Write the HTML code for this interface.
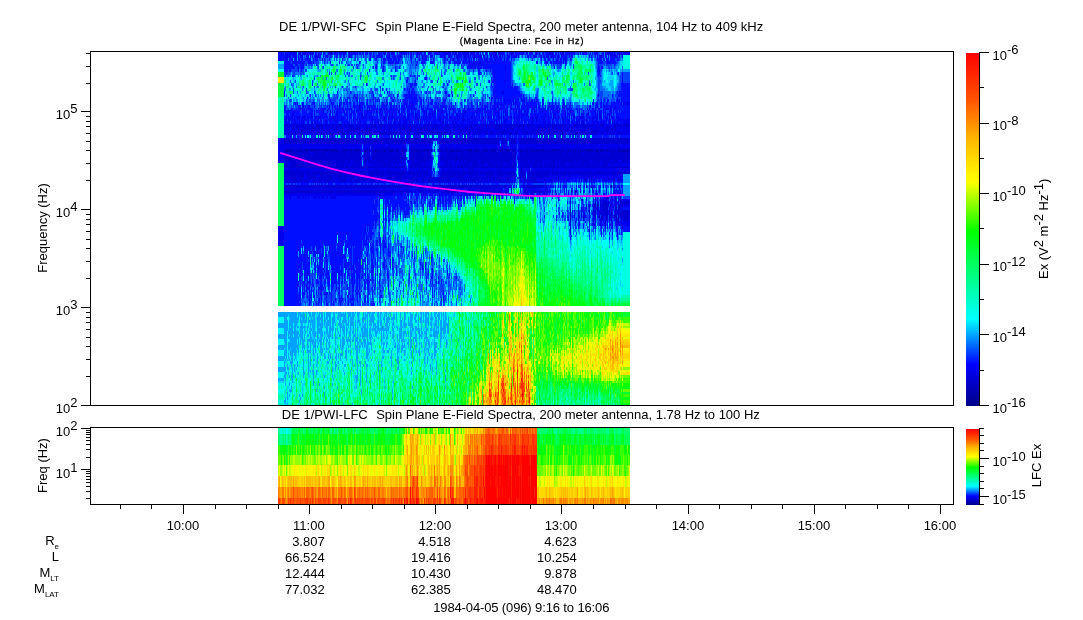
<!DOCTYPE html>
<html><head><meta charset="utf-8"><title>DE 1/PWI Spectra</title>
<style>html,body{margin:0;padding:0;background:#fff}svg{display:block}</style></head>
<body>
<svg width="1083" height="620" viewBox="0 0 1083 620">
<defs>
<linearGradient id="cb" x1="0" y1="1" x2="0" y2="0">
<stop offset="0" stop-color="#000089"/><stop offset="0.1176" stop-color="#0000ff"/><stop offset="0.2471" stop-color="#00ffff"/><stop offset="0.4941" stop-color="#00ff00"/><stop offset="0.6353" stop-color="#ffff00"/><stop offset="0.7529" stop-color="#ffb900"/><stop offset="0.8667" stop-color="#ff5400"/><stop offset="1" stop-color="#ff0000"/>
</linearGradient></defs>
<rect width="1083" height="620" fill="#fff"/>
<g transform="translate(0.5,0)" fill="none" stroke-width="1" shape-rendering="crispEdges">
<path stroke="#0000bb" d="M285 149v3M286 149v3M287 149v3M288 149v3M289 149v3M289 157v3M290 149v3M292 149v3M296 149v3M299 149v3M300 149v3M302 149v3M305 149v3M306 149v3M307 149v3M308 149v3M310 149v3M311 149v3M312 149v3M313 149v3M314 149v3M315 149v3M317 149v3M318 149v3M320 149v3M323 149v3M324 149v3M325 149v3M326 149v3M327 149v3M328 149v3M330 132v3M330 149v3M331 149v3M332 149v3M333 149v3M334 149v3M335 149v3M336 149v3M337 149v3M342 149v3M344 149v3M346 149v3M347 149v3M350 149v3M351 149v3M354 149v3M355 149v3M356 149v3M357 149v3M359 149v3M365 149v3M366 149v3M369 149v3M372 149v3M375 149v3M376 149v3M377 149v3M379 149v3M380 149v3M383 149v3M384 149v3M385 149v3M389 149v3M390 149v3M391 149v3M392 149v3M393 149v3M396 149v3M396 166v2M397 149v3M402 149v3M409 130v2M413 149v3M414 149v3M416 149v3M417 149v3M420 149v3M423 149v3M424 149v3M427 149v3M428 149v3M431 149v3M441 149v3M446 149v3M450 149v3M451 149v3M452 149v3M453 149v3M454 149v3M456 149v3M456 157v3M457 149v3M459 149v3M460 149v3M461 166v2M463 149v3M466 149v3M467 149v3M469 149v3M470 149v3M471 149v3M474 149v3M476 149v3M477 149v3M478 149v3M483 149v3M484 149v3M486 149v3M487 149v3M491 149v3M492 149v3M493 149v3M495 149v3M497 166v2M500 149v3M502 149v3M506 149v3M507 149v3M508 149v3M509 149v3M513 149v3M514 149v3M520 149v3M521 149v3M523 149v3M525 149v3M527 149v3M530 149v3M532 149v3M533 149v3M535 149v3M536 149v3M537 149v3M539 149v3M540 149v3M542 149v3M543 149v3M546 149v3M550 149v3M552 149v3M554 149v3M555 149v3M556 149v3M559 149v3M562 149v3M568 149v3M570 149v3M573 149v3M575 149v3M578 149v3M580 149v3M582 149v3M584 149v3M586 149v3M587 149v3M588 149v3M589 149v3M590 149v3M591 149v3M592 149v3M595 149v3M596 149v3M597 149v3M598 149v3M600 149v3M601 149v3M602 149v3M603 149v3M606 149v3M607 149v3M609 149v3M611 149v3M614 149v3M618 149v3M619 149v3M621 149v3M622 149v3M623 149v3M624 149v3M625 149v3M626 149v3M627 149v3M628 149v3M629 149v3"/>
<path stroke="#0000d4" d="M284 124v6M284 132v3M284 138v6M284 149v19M284 171v6M284 185v3M284 190v3M285 138v6M285 152v8M285 163v5M285 171v8M285 185v3M285 190v3M286 124v3M286 138v6M286 152v16M286 171v6M286 185v3M286 190v3M287 124v3M287 138v6M287 152v16M287 171v3M287 177v5M287 185v3M287 190v3M288 127v3M288 132v3M288 138v6M288 152v11M288 166v2M288 171v8M288 185v3M288 190v3M289 124v3M289 138v6M289 155v2M289 166v2M289 171v3M289 177v2M289 185v3M289 190v3M290 138v6M290 152v16M290 171v11M290 185v3M290 190v3M291 132v3M291 138v6M291 149v28M291 179v3M291 185v3M291 190v3M292 124v6M292 138v6M292 146v3M292 152v16M292 171v8M292 185v3M292 190v3M293 127v3M293 138v6M293 149v19M293 171v11M293 185v3M293 190v3M294 124v6M294 138v6M294 149v19M294 171v11M294 185v3M294 190v3M295 132v3M295 138v6M295 149v19M295 171v11M295 185v3M295 190v3M296 124v8M296 138v6M296 152v22M296 179v3M296 185v3M296 190v3M297 124v3M297 132v3M297 138v6M297 149v11M297 163v5M297 171v11M297 185v3M297 190v3M298 124v6M298 132v3M298 138v6M298 149v19M298 171v6M298 185v3M298 190v3M299 138v6M299 152v19M299 174v8M299 185v3M299 190v3M300 132v3M300 138v6M300 146v3M300 155v13M300 171v11M300 185v3M300 190v3M301 124v3M301 130v5M301 138v6M301 149v19M301 171v11M301 185v3M301 190v3M302 127v8M302 138v6M302 152v8M302 163v5M302 171v11M302 185v3M302 190v3M303 124v3M303 130v2M303 138v6M303 149v19M303 171v8M303 185v3M303 190v3M304 116v3M304 124v8M304 138v6M304 149v11M304 163v5M304 171v3M304 179v3M304 185v3M304 190v3M305 124v3M305 130v2M305 138v6M305 152v11M305 166v2M305 185v3M305 190v3M306 124v6M306 138v3M306 152v8M306 163v5M306 171v3M306 179v3M306 185v3M306 190v3M307 127v8M307 138v6M307 152v11M307 166v2M307 171v6M307 179v3M307 185v3M307 190v3M308 124v3M308 138v6M308 152v16M308 171v11M308 185v3M308 190v3M309 124v8M309 138v6M309 149v19M309 171v8M309 185v3M309 190v3M310 132v3M310 138v6M310 152v11M310 166v2M310 171v3M310 177v2M310 185v3M310 190v3M311 124v8M311 138v6M311 155v5M311 163v5M311 174v5M311 185v3M311 190v3M312 124v8M312 138v6M312 155v8M312 166v2M312 171v3M312 177v2M312 185v3M312 190v3M313 127v3M313 138v6M313 152v16M313 171v11M313 185v3M313 190v3M314 130v2M314 138v6M314 152v11M314 166v2M314 171v11M314 185v3M314 190v3M315 127v3M315 138v6M315 152v16M315 171v11M315 185v3M315 190v3M316 124v3M316 138v6M316 149v14M316 166v2M316 171v3M316 185v3M316 190v3M317 124v6M317 132v3M317 138v6M317 152v11M317 166v2M317 171v3M317 185v3M317 190v3M318 124v6M318 138v6M318 152v11M318 166v2M318 171v3M318 177v5M318 185v3M318 190v3M319 124v6M319 138v6M319 149v14M319 166v2M319 171v3M319 177v5M319 185v3M319 190v3M320 124v3M320 138v6M320 152v16M320 171v11M320 185v3M320 190v3M321 124v6M321 132v3M321 138v6M321 149v14M321 166v2M321 171v6M321 179v3M321 185v3M321 190v3M322 124v6M322 138v6M322 149v14M322 166v2M322 171v8M322 185v3M322 190v3M323 130v5M323 138v6M323 152v8M323 163v5M323 171v8M323 185v3M323 190v3M324 138v6M324 152v8M324 163v5M324 171v6M324 179v3M324 185v3M324 190v3M325 124v6M325 132v3M325 138v6M325 152v8M325 163v5M325 171v3M325 177v5M325 185v3M325 190v3M326 127v3M326 138v6M326 152v11M326 166v2M326 171v11M326 185v3M326 190v3M327 130v2M327 138v6M327 155v13M327 171v6M327 179v3M327 185v3M327 190v3M328 124v3M328 138v6M328 152v16M328 171v11M328 185v3M328 190v3M329 127v3M329 132v3M329 138v6M329 149v19M329 171v11M329 185v3M329 190v3M330 138v6M330 152v16M330 171v11M330 185v3M330 190v6M331 124v3M331 138v6M331 152v11M331 166v2M331 171v8M331 185v3M331 190v3M332 130v5M332 138v6M332 152v16M332 171v3M332 177v5M332 185v3M332 190v3M333 116v3M333 124v3M333 132v3M333 138v6M333 152v8M333 166v2M333 171v6M333 185v3M333 190v3M334 127v3M334 138v6M334 152v8M334 163v5M334 171v3M334 179v3M334 185v3M334 190v3M335 138v6M335 152v11M335 166v2M335 171v8M335 185v3M336 124v6M336 138v6M336 152v16M336 171v3M336 185v3M336 190v3M337 127v3M337 132v3M337 138v6M337 152v16M337 171v8M337 185v3M337 190v3M338 124v3M338 132v3M338 138v6M338 149v19M338 171v11M338 185v3M338 190v3M339 124v3M339 138v6M339 149v19M339 171v6M339 185v3M339 190v3M340 124v8M340 138v6M340 149v14M340 166v2M340 171v11M340 185v3M340 190v3M341 124v3M341 138v6M341 149v19M341 171v11M341 185v3M341 190v3M342 127v8M342 138v6M342 152v16M342 171v11M342 185v3M342 190v3M343 132v3M343 138v6M343 146v22M343 171v3M343 179v3M343 185v3M343 190v3M344 124v3M344 132v3M344 138v6M344 152v11M344 166v2M344 171v11M344 185v3M344 190v3M345 124v3M345 130v2M345 138v6M345 149v14M345 166v2M345 171v11M345 185v3M345 190v3M346 138v6M346 152v8M346 163v5M346 171v8M346 185v3M346 190v3M347 124v3M347 130v5M347 138v6M347 152v16M347 171v3M347 177v2M347 185v3M347 190v3M348 124v6M348 132v3M348 138v6M348 149v3M348 155v8M348 166v2M348 171v6M348 185v3M348 190v3M349 124v8M349 138v6M349 149v25M349 185v3M349 190v3M350 127v5M350 138v6M350 152v11M350 166v2M350 171v6M350 179v3M350 185v3M351 124v6M351 132v3M351 138v6M351 152v8M351 166v2M351 171v11M351 185v3M351 190v3M352 124v3M352 138v6M352 149v11M352 163v5M352 171v8M352 185v3M352 190v3M353 124v8M353 138v6M353 149v33M353 185v3M353 190v3M354 130v5M354 138v6M354 152v11M354 166v2M354 171v3M354 185v3M354 190v3M355 127v3M355 138v6M355 152v16M355 171v6M355 179v3M355 185v3M355 190v3M356 127v3M356 138v6M356 152v16M356 179v3M356 185v3M356 190v3M357 124v6M357 138v6M357 152v11M357 166v16M357 185v3M357 190v3M358 130v2M358 138v6M358 149v19M358 171v3M358 177v2M358 185v3M358 190v3M359 105v3M359 124v6M359 132v3M359 138v6M359 152v16M359 171v11M359 185v3M359 190v3M360 124v3M360 138v6M360 149v19M360 171v11M360 185v3M360 190v3M361 130v2M361 138v3M361 166v2M361 171v8M361 185v3M361 190v3M362 130v2M362 138v3M362 174v3M362 179v3M362 185v3M362 190v3M363 132v3M363 138v6M363 166v2M363 171v3M363 179v3M363 185v3M363 190v3M364 138v6M364 149v11M364 166v2M364 171v11M364 185v3M364 190v3M365 124v3M365 130v5M365 138v6M365 152v16M365 171v6M365 185v3M365 190v3M366 124v11M366 138v6M366 152v11M366 166v2M366 179v3M366 185v3M366 190v3M367 127v3M367 138v6M367 149v11M367 166v8M367 177v2M367 185v3M367 190v3M368 130v2M368 138v6M368 149v3M368 155v8M368 166v2M368 171v3M368 185v3M368 190v3M369 127v5M369 138v6M369 152v3M369 157v6M369 166v2M369 171v6M369 179v3M369 185v3M369 190v3M370 138v6M370 160v3M370 166v2M370 171v11M370 185v3M370 190v3M371 124v6M371 138v6M371 155v2M371 160v3M371 166v2M371 171v8M371 185v3M371 190v3M372 124v3M372 138v6M372 146v3M372 152v16M372 171v6M372 179v3M372 185v3M372 190v3M373 138v6M373 149v14M373 166v2M373 171v11M373 185v3M373 190v3M374 124v11M374 138v6M374 149v11M374 166v11M374 185v3M374 190v3M375 124v3M375 132v3M375 138v6M375 152v16M375 171v3M375 177v5M375 185v3M375 190v3M376 110v3M376 127v3M376 138v6M376 152v25M376 185v3M376 190v3M377 138v6M377 152v11M377 166v2M377 171v11M377 185v3M377 190v3M378 138v6M378 149v14M378 166v2M378 171v6M378 185v3M378 190v3M379 124v3M379 132v3M379 138v6M379 152v16M379 171v3M379 177v5M379 185v3M379 190v3M380 124v6M380 132v3M380 138v6M380 152v16M380 171v8M380 185v3M380 190v3M381 124v6M381 132v3M381 138v6M381 149v19M381 171v11M381 185v3M381 190v3M382 124v3M382 132v3M382 138v6M382 146v17M382 166v2M382 171v6M382 185v3M382 190v3M383 130v5M383 138v6M383 152v16M383 171v6M383 179v3M383 185v3M383 190v3M384 127v8M384 138v6M384 152v16M384 179v3M384 185v3M384 190v3M385 124v3M385 132v3M385 138v6M385 152v16M385 171v6M385 185v3M385 190v3M386 130v5M386 138v6M386 149v11M386 163v5M386 171v6M386 179v3M386 185v3M386 190v3M387 138v6M387 149v19M387 171v3M387 177v2M387 185v3M387 190v3M388 116v3M388 127v3M388 132v3M388 138v6M388 146v9M388 157v22M388 185v3M388 190v3M389 124v6M389 132v3M389 138v6M389 152v16M389 171v11M389 185v3M390 124v3M390 132v3M390 138v6M390 152v16M390 171v11M390 185v3M390 190v3M391 127v3M391 132v3M391 138v6M391 152v11M391 166v2M391 171v11M391 185v3M391 190v3M392 124v3M392 138v6M392 152v11M392 166v2M392 171v3M392 177v5M392 185v3M392 190v3M393 127v5M393 138v6M393 155v5M393 163v5M393 171v3M393 185v3M393 190v3M394 138v6M394 149v19M394 171v8M394 185v3M394 190v3M395 124v3M395 132v3M395 138v6M395 149v14M395 166v2M395 171v8M395 185v3M396 138v6M396 155v8M396 171v3M396 179v3M396 185v3M397 130v2M397 138v6M397 152v11M397 166v2M397 171v8M397 185v3M397 190v3M398 124v3M398 138v6M398 149v11M398 163v5M398 171v11M398 185v3M398 190v3M399 124v6M399 138v6M399 149v14M399 166v2M399 171v6M399 185v3M400 127v8M400 138v6M400 149v14M400 166v2M400 171v11M400 185v3M400 190v3M401 138v6M401 149v14M401 166v2M401 171v11M401 185v3M401 190v3M402 127v3M402 138v6M402 146v3M402 152v8M402 166v2M402 171v6M402 185v3M402 190v3M403 124v3M403 138v6M403 149v14M403 166v2M403 171v6M403 185v3M404 124v6M404 138v6M404 149v3M404 155v5M404 163v5M404 171v3M404 177v2M404 185v3M405 130v2M405 138v6M405 149v3M405 157v3M405 171v8M405 185v3M405 190v3M406 132v3M406 138v3M406 149v3M406 171v3M406 177v2M406 185v3M407 130v2M407 138v3M407 174v3M407 185v3M407 190v3M408 124v6M408 138v6M408 171v3M408 179v3M408 185v3M408 190v3M409 127v3M409 132v3M409 138v6M409 149v3M409 157v3M409 171v11M409 185v3M410 124v8M410 138v6M410 149v11M410 166v2M410 171v3M410 177v2M410 185v3M411 127v5M411 138v6M411 149v14M411 166v2M411 171v6M411 185v3M412 124v3M412 138v6M412 146v22M412 171v3M412 177v5M412 185v3M412 190v3M413 138v6M413 152v16M413 171v6M413 179v3M413 185v3M414 124v3M414 132v3M414 138v6M414 146v3M414 152v16M414 171v8M414 185v3M415 127v5M415 138v6M415 149v11M415 163v5M415 177v2M415 185v3M415 190v3M416 124v3M416 132v3M416 138v6M416 152v16M416 171v11M416 185v3M417 127v5M417 138v6M417 152v8M417 163v5M417 171v6M417 185v3M418 127v3M418 132v3M418 138v6M418 149v19M418 171v3M418 179v3M418 185v3M419 124v3M419 132v3M419 138v6M419 146v31M419 185v3M419 190v3M420 127v5M420 138v6M420 152v16M420 171v6M420 185v3M421 127v8M421 138v6M421 149v14M421 166v2M421 171v6M421 185v3M421 190v3M422 127v3M422 132v3M422 138v6M422 149v25M422 179v3M422 185v3M423 127v3M423 138v6M423 155v8M423 166v2M423 171v11M423 185v3M423 190v3M424 124v6M424 138v6M424 152v16M424 171v8M424 185v3M424 190v3M425 130v2M425 138v6M425 149v19M425 171v3M425 177v2M425 185v3M426 124v8M426 138v6M426 149v14M426 166v2M426 171v8M426 185v3M427 138v6M427 152v11M427 166v11M427 179v3M427 185v3M428 124v3M428 132v3M428 138v6M428 152v8M428 163v5M428 171v3M428 179v3M428 185v3M428 190v3M429 124v3M429 130v2M429 138v6M429 149v14M429 166v2M429 174v8M429 185v3M430 127v8M430 138v6M430 149v3M430 155v5M430 166v5M430 174v8M430 185v3M430 190v3M431 130v2M431 138v3M431 177v2M431 185v3M432 127v8M432 138v6M432 177v5M432 185v3M433 127v3M433 177v2M433 185v3M434 124v3M434 130v5M434 177v5M434 185v3M435 127v5M435 185v3M435 190v3M436 124v3M436 130v2M436 179v3M436 185v3M437 124v11M437 179v3M437 185v3M437 190v3M438 124v3M438 177v5M438 185v3M438 190v3M439 132v3M439 141v3M439 149v3M439 166v2M439 177v5M439 185v3M440 130v2M440 138v6M440 149v3M440 157v3M440 166v2M440 177v2M440 185v3M441 124v3M441 130v5M441 138v6M441 152v8M441 166v2M441 171v11M441 185v3M442 132v3M442 138v6M442 149v3M442 155v8M442 166v2M442 171v11M442 185v3M442 190v3M443 121v3M443 127v3M443 138v6M443 149v14M443 166v2M443 171v11M443 185v3M444 127v3M444 132v3M444 138v6M444 149v3M444 155v5M444 166v2M444 171v6M444 185v3M444 190v3M445 127v8M445 138v6M445 149v6M445 157v11M445 171v8M445 185v3M445 190v3M446 127v3M446 138v6M446 152v16M446 171v11M446 185v3M446 190v3M447 124v3M447 138v6M447 146v22M447 171v11M447 185v3M447 190v3M448 124v3M448 138v6M448 149v14M448 166v2M448 171v11M448 185v3M448 190v3M449 127v5M449 138v6M449 149v11M449 163v5M449 171v3M449 177v5M449 185v3M449 190v3M450 130v2M450 138v6M450 152v27M450 185v3M450 190v3M451 138v6M451 146v3M451 152v8M451 163v5M451 171v8M451 185v3M451 190v3M452 138v6M452 152v11M452 166v2M452 171v6M452 179v3M452 185v3M452 190v3M453 121v3M453 127v8M453 138v6M453 152v8M453 166v2M453 171v6M453 185v3M453 190v3M454 124v3M454 132v3M454 138v6M454 155v8M454 166v2M454 171v11M454 185v3M454 190v3M455 127v3M455 138v6M455 149v19M455 171v6M455 185v3M455 190v3M456 138v6M456 152v5M456 160v3M456 166v2M456 171v8M456 185v3M456 190v3M457 124v3M457 138v6M457 152v8M457 166v2M457 171v3M457 177v2M457 185v3M457 190v3M458 124v3M458 138v6M458 146v6M458 155v5M458 163v5M458 171v8M458 185v3M458 190v3M459 127v3M459 132v3M459 138v6M459 152v16M459 171v11M459 185v3M460 130v2M460 138v6M460 152v11M460 166v2M460 171v11M460 185v3M460 190v3M461 124v3M461 130v2M461 138v6M461 149v11M461 163v3M461 174v5M461 185v3M461 190v3M462 138v6M462 149v19M462 171v6M462 179v3M462 185v3M462 190v3M463 130v2M463 138v6M463 152v11M463 166v16M463 185v3M463 190v3M464 138v6M464 149v11M464 163v5M464 171v6M464 179v3M464 185v3M464 190v3M465 127v5M465 138v6M465 149v3M465 155v13M465 171v3M465 185v3M465 190v3M466 127v3M466 132v3M466 138v6M466 152v16M466 171v3M466 177v5M466 185v3M466 190v3M467 124v6M467 138v6M467 152v11M467 166v2M467 171v3M467 185v3M467 190v3M468 130v2M468 138v6M468 149v19M468 171v3M468 177v5M468 185v3M468 190v3M469 127v3M469 132v3M469 138v6M469 152v25M469 185v3M469 190v3M470 124v3M470 130v2M470 138v6M470 152v11M470 166v8M470 177v5M470 185v3M470 190v3M471 116v3M471 124v6M471 138v6M471 152v11M471 166v2M471 171v8M471 185v3M471 190v3M472 127v3M472 138v6M472 149v28M472 179v3M472 185v3M472 190v3M473 132v3M473 138v6M473 149v19M473 171v3M473 177v5M473 185v3M473 190v3M474 130v5M474 138v6M474 152v16M474 171v3M474 177v5M474 185v3M474 190v3M475 124v3M475 130v2M475 138v6M475 146v9M475 157v11M475 171v6M475 179v3M475 185v3M475 190v3M476 132v3M476 138v6M476 152v16M476 171v8M476 185v3M476 190v3M477 127v5M477 138v6M477 152v16M477 171v3M477 177v5M477 185v3M477 190v3M478 130v2M478 138v6M478 152v11M478 166v2M478 171v3M478 177v5M478 185v3M478 190v3M479 127v3M479 132v3M479 138v6M479 149v11M479 163v5M479 174v5M479 185v3M479 190v3M480 130v2M480 138v6M480 149v14M480 166v2M480 171v6M480 179v3M480 185v3M480 190v3M481 124v6M481 132v3M481 138v6M481 149v19M481 171v3M481 177v2M481 185v3M481 190v3M482 127v3M482 138v6M482 149v19M482 171v3M482 177v5M482 185v3M482 190v3M483 124v3M483 130v2M483 138v6M483 152v16M483 171v3M483 177v2M483 185v3M483 190v3M484 138v6M484 146v3M484 152v11M484 166v2M484 171v3M484 179v3M484 185v3M484 190v3M485 130v5M485 138v6M485 149v14M485 166v2M485 171v6M485 179v3M485 185v3M485 190v3M486 124v6M486 138v6M486 155v8M486 166v2M486 171v8M486 185v3M486 190v3M487 130v5M487 138v6M487 152v11M487 166v2M487 171v11M487 185v3M487 190v3M488 124v3M488 138v6M488 149v19M488 171v6M488 185v3M488 190v3M489 127v3M489 138v6M489 149v19M489 171v11M489 185v3M489 190v3M490 127v3M490 138v6M490 149v19M490 171v8M490 185v3M490 190v3M491 124v3M491 130v5M491 138v6M491 152v8M491 163v5M491 171v6M491 179v3M491 185v3M491 190v3M492 132v3M492 138v6M492 152v16M492 171v8M492 185v3M492 190v3M493 124v3M493 138v6M493 152v16M493 171v11M493 185v3M493 190v3M494 124v3M494 138v6M494 149v19M494 171v11M494 185v3M494 190v3M495 127v3M495 138v6M495 152v11M495 166v2M495 185v3M495 190v3M496 127v3M496 132v3M496 138v6M496 149v19M496 171v3M496 177v5M496 185v3M496 190v3M497 124v6M497 138v6M497 149v17M497 171v11M497 185v3M497 190v3M498 124v6M498 132v3M498 138v6M498 149v11M498 166v2M498 171v8M498 185v3M498 190v3M499 124v6M499 132v3M499 149v3M499 155v27M499 185v3M499 190v3M500 124v3M500 130v2M500 138v3M500 152v16M500 171v6M500 179v3M500 185v3M500 190v3M501 124v11M501 149v19M501 171v11M501 185v3M501 190v3M502 132v3M502 138v6M502 146v3M502 152v11M502 166v2M502 171v6M502 185v3M503 130v5M503 138v6M503 149v19M503 171v6M503 179v3M504 124v8M504 138v6M504 149v14M504 166v2M504 171v3M504 177v2M504 185v3M505 130v2M505 138v6M505 149v14M505 166v2M505 171v3M505 179v3M505 185v3M505 190v3M506 124v3M506 132v3M506 138v6M506 152v16M506 171v8M506 185v3M506 190v3M507 127v5M507 152v11M507 166v2M507 171v11M508 127v3M508 152v16M508 171v11M508 190v3M509 124v3M509 132v3M509 138v3M509 155v8M509 166v2M509 171v3M509 177v5M509 185v3M510 127v3M510 132v3M510 138v6M510 149v19M510 171v6M511 124v6M511 132v3M511 138v6M511 149v11M511 163v5M511 171v6M511 185v3M511 190v3M512 127v3M512 138v6M512 149v11M512 163v5M512 171v8M513 124v8M513 138v6M513 152v16M513 171v3M514 124v3M514 138v6M514 152v16M514 171v8M515 132v3M515 138v6M515 149v3M515 155v2M515 166v2M516 124v3M516 132v3M517 124v3M517 130v2M518 127v3M518 149v3M519 124v3M519 138v6M519 149v3M519 157v3M519 177v2M520 124v3M520 138v6M520 152v11M520 166v2M520 171v8M521 124v3M521 130v2M521 138v6M521 152v22M521 179v3M522 127v3M522 138v6M522 149v11M522 163v5M522 171v8M523 124v6M523 132v3M523 138v6M523 155v8M523 166v2M523 171v8M523 185v3M524 130v5M524 138v6M524 149v19M524 171v11M524 185v3M524 190v3M525 124v3M525 138v6M525 152v16M525 171v3M525 177v5M525 190v3M526 132v3M526 138v6M526 149v14M526 166v2M526 185v3M526 190v3M527 124v3M527 130v5M527 138v6M527 146v3M527 152v16M527 179v3M527 185v3M527 190v3M528 124v6M528 138v6M528 149v11M528 163v5M528 171v6M528 179v3M528 185v3M529 124v3M529 138v6M529 149v14M529 166v2M529 171v8M529 185v3M530 132v3M530 138v6M530 146v3M530 152v14M530 171v3M530 177v5M530 185v3M531 127v5M531 138v6M531 149v11M531 171v8M531 185v3M531 190v3M532 124v3M532 130v2M532 138v6M532 152v16M532 171v11M532 185v3M532 190v3M533 130v2M533 138v6M533 152v16M533 171v11M533 185v3M533 190v3M534 130v2M534 138v6M534 149v11M534 163v5M534 171v11M534 185v3M534 190v3M535 127v3M535 138v6M535 152v16M535 171v3M535 177v5M535 185v3M535 190v3M536 119v2M536 130v5M536 138v6M536 152v16M536 171v6M536 179v3M536 185v3M536 190v3M537 130v2M537 138v6M537 152v11M537 166v2M537 171v6M537 185v3M538 124v6M538 132v3M538 138v6M538 149v14M538 166v2M538 171v6M538 185v3M538 190v3M539 127v3M539 138v6M539 152v16M539 171v3M539 177v2M539 185v3M539 190v3M540 124v3M540 132v3M540 138v6M540 152v16M540 171v6M540 185v3M540 190v3M541 130v5M541 138v6M541 149v19M541 171v8M541 185v3M542 127v3M542 138v6M542 152v11M542 166v2M542 171v8M542 185v3M543 130v5M543 138v6M543 146v3M543 152v8M543 166v2M543 171v3M544 124v6M544 138v6M544 149v11M544 163v5M544 171v6M544 179v3M545 127v3M545 138v6M545 149v19M545 171v6M545 185v3M545 190v3M546 124v3M546 132v3M546 138v6M546 152v11M546 166v2M546 171v6M546 185v3M547 138v6M547 149v11M547 163v5M547 171v6M547 190v3M548 124v11M548 138v6M548 149v11M548 163v5M548 171v6M549 127v8M549 138v6M549 149v19M549 171v3M550 124v3M550 132v3M550 138v6M550 152v8M550 163v5M550 171v6M551 130v2M551 138v6M551 149v19M552 124v6M552 138v6M552 152v25M553 116v3M553 124v6M553 132v3M553 138v6M553 149v19M553 171v3M554 124v3M554 130v5M554 138v6M554 152v16M554 171v3M555 138v6M555 152v11M555 166v2M555 171v3M556 124v8M556 138v6M556 152v8M556 166v2M556 171v8M557 138v6M557 149v19M557 171v3M558 124v3M558 130v2M558 138v6M558 149v19M558 171v11M558 199v2M559 130v2M559 138v6M559 152v8M559 166v2M560 124v11M560 138v6M560 149v19M560 171v3M561 130v5M561 138v6M561 149v14M561 166v2M561 171v6M562 124v11M562 138v6M562 146v3M562 152v16M562 171v3M563 124v6M563 138v6M563 149v3M563 155v13M563 171v6M564 138v6M564 149v19M564 171v6M564 179v3M565 124v3M565 130v2M565 138v6M565 149v14M565 166v11M566 130v5M566 138v6M566 146v17M566 166v2M566 171v3M567 127v5M567 138v6M567 149v14M567 166v2M567 171v3M568 138v6M568 152v11M568 166v2M568 171v6M569 124v3M569 138v6M569 149v14M569 166v2M569 171v3M570 132v3M570 138v6M570 155v13M570 171v3M570 207v25M571 127v5M571 138v6M571 149v19M571 171v3M571 190v3M572 127v8M572 138v6M572 149v19M572 174v3M573 130v2M573 138v6M573 152v11M573 166v2M573 171v3M574 124v3M574 138v6M574 149v14M574 166v2M574 171v3M575 124v3M575 130v5M575 138v6M575 152v8M575 163v5M575 171v3M575 190v3M576 124v3M576 132v3M576 138v6M576 149v14M576 166v2M576 171v3M577 132v3M577 138v6M577 146v22M577 171v3M578 124v3M578 138v6M578 152v16M578 171v3M578 207v14M579 138v6M579 149v14M579 166v2M579 171v3M580 127v3M580 138v6M580 152v8M580 163v5M580 171v3M580 185v3M581 138v6M581 149v19M581 171v6M581 207v8M582 124v3M582 130v5M582 138v6M582 152v16M582 171v3M583 124v3M583 138v6M583 149v3M583 155v13M583 171v6M583 215v6M584 124v8M584 138v6M584 152v11M584 166v2M584 171v6M584 179v3M584 210v2M585 124v6M585 132v3M585 138v6M585 149v19M585 171v3M585 177v5M586 138v6M586 152v16M586 171v11M586 185v3M587 124v6M587 138v6M587 152v11M587 166v2M587 171v3M588 127v3M588 132v3M588 138v6M588 152v16M588 171v6M589 124v3M589 138v6M589 152v8M589 163v5M589 171v6M589 179v3M589 207v8M589 218v5M589 229v3M590 124v3M590 132v3M590 138v6M590 152v16M590 171v3M591 127v8M591 138v6M591 152v8M591 166v2M591 171v11M591 185v3M592 124v3M592 130v2M592 138v6M592 152v11M592 166v2M592 185v3M592 190v3M593 132v3M593 138v6M593 149v19M593 171v6M593 204v11M593 218v5M594 130v5M594 138v6M594 146v6M594 155v5M594 163v5M594 171v3M594 204v3M594 210v5M595 124v3M595 130v5M595 138v6M595 152v16M595 196v25M596 130v5M596 138v6M596 152v11M596 166v2M596 171v8M597 124v6M597 138v6M597 152v16M597 171v3M597 201v11M598 138v6M598 152v16M598 171v3M598 204v3M599 130v2M599 138v6M599 149v14M599 166v2M599 171v3M599 210v8M600 124v3M600 138v6M600 152v8M600 166v2M600 171v3M600 199v8M600 210v5M601 124v3M601 132v3M601 138v6M601 146v3M601 155v8M601 166v2M601 171v3M601 199v2M601 204v3M601 215v6M602 124v3M602 132v3M602 138v6M602 152v8M602 163v5M602 171v3M602 201v3M602 207v5M602 215v3M603 130v2M603 138v6M603 155v13M603 201v20M604 127v3M604 138v6M604 149v19M604 171v3M604 201v9M604 212v3M605 127v3M605 138v6M605 149v19M605 171v6M605 201v17M605 221v5M606 130v2M606 138v6M606 155v13M606 196v25M607 124v11M607 138v6M607 152v16M607 171v3M607 196v3M607 204v17M608 127v3M608 138v6M608 149v3M608 155v8M608 166v2M608 171v3M608 177v2M608 196v3M608 201v6M609 127v3M609 138v6M609 152v11M609 166v2M609 171v3M609 210v13M610 132v3M610 138v6M610 149v14M610 166v2M610 204v6M611 127v8M611 138v6M611 152v8M611 163v5M611 171v3M611 185v3M611 204v3M611 210v11M612 127v5M612 138v6M612 149v14M612 166v2M612 171v3M612 201v3M612 212v3M613 132v3M613 138v6M613 149v19M613 171v6M613 179v3M613 185v3M613 207v3M614 124v6M614 138v6M614 152v11M614 166v2M614 171v3M614 177v5M614 185v3M614 190v3M614 215v3M615 124v8M615 138v6M615 149v14M615 166v2M615 171v3M615 199v19M616 138v6M616 149v14M616 166v2M616 171v3M616 199v2M616 204v6M616 212v14M617 124v3M617 138v6M617 149v14M617 166v2M617 171v6M617 210v2M617 218v3M618 124v3M618 130v5M618 138v6M618 146v3M618 152v8M618 166v2M618 171v3M618 177v5M618 201v3M618 207v16M619 138v6M619 152v8M619 163v5M619 171v3M619 185v3M619 204v6M619 212v3M620 124v3M620 132v3M620 138v6M620 146v14M620 166v2M620 171v6M620 196v14M620 212v6M621 124v3M621 138v6M621 152v11M621 166v2M621 171v3M621 201v3M621 210v11M622 132v3M622 138v6M622 152v11M622 166v2M622 171v3M622 177v2M622 204v3M622 210v8M623 124v3M623 138v6M623 152v11M623 166v2M623 171v3M623 201v3M623 210v11M624 124v3M624 138v6M624 152v11M624 166v2M624 171v3M624 201v3M624 210v11M625 124v3M625 138v6M625 152v11M625 166v2M625 171v3M625 201v3M625 210v11M626 124v3M626 138v6M626 152v11M626 166v2M626 171v3M626 201v3M626 210v11M627 124v3M627 138v6M627 152v11M627 166v2M627 171v3M627 201v3M627 210v11M628 124v3M628 138v6M628 152v11M628 166v2M628 171v3M628 201v3M628 210v11M629 124v3M629 138v6M629 152v11M629 166v2M629 171v3M629 201v3M629 210v11"/>
<path stroke="#0000ed" d="M278 138v25M278 226v20M279 138v25M279 226v20M280 138v25M280 226v20M281 138v25M281 226v20M282 138v25M282 226v20M283 138v25M283 226v20M284 130v2M284 144v5M284 168v3M284 177v6M284 188v2M284 193v3M285 52v3M285 119v16M285 144v5M285 160v3M285 168v3M285 179v4M285 188v2M285 193v3M286 55v6M286 116v8M286 127v8M286 144v5M286 168v3M286 177v6M286 188v2M286 193v6M287 55v3M287 127v8M287 144v5M287 168v3M287 174v3M287 182v1M287 188v2M287 193v6M288 116v11M288 130v2M288 144v5M288 163v3M288 168v3M288 179v4M288 188v2M288 193v3M289 55v3M289 119v2M289 127v8M289 144v5M289 152v3M289 160v6M289 168v3M289 174v3M289 179v4M289 188v2M289 193v6M290 52v6M290 124v3M290 130v5M290 144v5M290 168v3M290 182v1M290 188v2M290 193v6M291 52v3M291 116v3M291 121v11M291 144v5M291 177v2M291 182v1M291 188v2M291 193v3M292 113v8M292 130v5M292 144v2M292 168v3M292 179v4M292 188v2M292 193v3M293 52v6M293 113v3M293 124v3M293 130v5M293 144v5M293 168v3M293 182v1M293 188v2M293 193v3M294 52v3M294 110v3M294 116v8M294 130v5M294 144v5M294 168v3M294 182v1M294 188v2M294 193v3M295 52v6M295 119v13M295 144v5M295 168v3M295 182v1M295 188v2M295 193v3M296 52v3M296 132v3M296 144v5M296 174v5M296 182v1M296 188v2M296 193v3M297 116v5M297 127v5M297 144v5M297 160v3M297 168v3M297 182v1M297 188v2M297 193v6M298 116v3M298 130v2M298 144v5M298 168v3M298 177v6M298 188v2M298 193v6M299 52v3M299 105v3M299 116v3M299 121v14M299 144v5M299 171v3M299 182v1M299 188v2M299 193v6M300 52v6M300 124v8M300 144v2M300 152v3M300 168v3M300 182v1M300 188v2M300 193v3M301 55v3M301 119v5M301 127v3M301 144v5M301 168v3M301 182v1M301 188v2M301 193v3M302 52v3M302 108v2M302 116v5M302 124v3M302 144v5M302 160v3M302 168v3M302 182v1M302 188v2M302 193v6M303 52v3M303 105v3M303 116v3M303 121v3M303 127v3M303 132v3M303 144v5M303 168v3M303 179v4M303 188v2M303 193v6M304 52v3M304 119v2M304 132v3M304 144v5M304 160v3M304 168v3M304 174v5M304 182v1M304 188v2M304 193v3M305 52v3M305 127v3M305 132v3M305 144v5M305 163v3M305 168v15M305 188v2M305 193v6M306 52v3M306 130v5M306 141v8M306 160v3M306 168v3M306 174v5M306 182v1M306 188v2M306 193v3M307 116v3M307 124v3M307 144v5M307 163v3M307 168v3M307 177v2M307 182v1M307 188v2M307 193v3M308 52v6M308 105v3M308 119v5M308 127v8M308 144v5M308 168v3M308 182v1M308 188v2M308 193v6M309 132v3M309 144v5M309 168v3M309 179v4M309 188v2M309 193v3M310 52v3M310 124v8M310 144v5M310 163v3M310 168v3M310 174v3M310 179v4M310 188v2M310 193v3M311 52v3M311 113v6M311 121v3M311 132v3M311 144v5M311 152v3M311 160v3M311 168v6M311 179v4M311 188v2M311 193v3M312 52v6M312 113v6M312 121v3M312 132v3M312 144v5M312 152v3M312 163v3M312 168v3M312 174v3M312 179v4M312 188v2M312 193v3M313 52v3M313 124v3M313 130v5M313 144v5M313 168v3M313 182v1M313 188v2M313 193v6M314 113v3M314 121v3M314 127v3M314 132v3M314 144v5M314 163v3M314 168v3M314 182v1M314 188v2M314 193v6M315 52v3M315 116v3M315 121v6M315 130v5M315 144v5M315 168v3M315 182v1M315 188v2M315 193v6M316 116v3M316 127v8M316 144v5M316 163v3M316 168v3M316 174v9M316 188v2M316 193v6M317 55v3M317 119v5M317 130v2M317 144v5M317 163v3M317 168v3M317 174v9M317 188v2M317 193v3M318 55v3M318 116v3M318 130v5M318 144v5M318 163v3M318 168v3M318 174v3M318 182v1M318 188v2M318 193v6M319 116v3M319 130v5M319 144v5M319 163v3M319 168v3M319 174v3M319 182v1M319 188v2M319 193v6M320 116v5M320 127v8M320 144v5M320 168v3M320 182v1M320 188v2M320 193v3M321 108v2M321 130v2M321 144v5M321 163v3M321 168v3M321 177v2M321 182v1M321 188v2M321 193v6M322 108v2M322 132v3M322 144v5M322 163v3M322 168v3M322 179v4M322 188v2M322 193v6M323 110v3M323 124v6M323 144v5M323 160v3M323 168v3M323 179v4M323 188v2M323 193v6M324 124v11M324 144v5M324 160v3M324 168v3M324 177v2M324 182v1M324 188v2M324 193v3M325 119v2M325 130v2M325 144v5M325 160v3M325 168v3M325 174v3M325 182v1M325 188v2M325 193v3M326 121v6M326 130v5M326 144v5M326 163v3M326 168v3M326 182v1M326 188v2M326 193v6M327 55v3M327 110v3M327 124v6M327 132v3M327 144v5M327 152v3M327 168v3M327 177v2M327 182v1M327 188v2M327 193v6M328 127v8M328 144v5M328 168v3M328 182v1M328 188v2M328 193v3M329 52v3M329 105v3M329 116v3M329 124v3M329 130v2M329 144v5M329 168v3M329 182v1M329 188v2M329 193v3M330 52v3M330 110v3M330 119v2M330 124v8M330 144v5M330 168v3M330 182v1M330 188v2M330 196v3M331 52v3M331 119v2M331 127v8M331 144v5M331 163v3M331 168v3M331 179v4M331 188v2M331 193v6M332 116v3M332 124v6M332 146v3M332 168v3M332 174v3M332 182v1M332 188v2M332 193v6M333 119v2M333 127v5M333 144v5M333 160v6M333 168v3M333 177v6M333 188v2M333 193v6M334 52v3M334 124v3M334 130v5M334 144v5M334 160v3M334 168v3M334 174v5M334 182v1M334 188v2M334 193v6M335 52v3M335 116v19M335 144v5M335 163v3M335 168v3M335 179v4M335 188v11M336 113v3M336 121v3M336 130v5M336 144v5M336 168v3M336 174v9M336 188v2M336 193v3M337 110v11M337 124v3M337 130v2M337 144v5M337 168v3M337 179v4M337 188v2M337 193v3M338 127v5M338 144v5M338 168v3M338 182v1M338 188v2M338 193v3M339 52v3M339 105v3M339 127v8M339 144v5M339 168v3M339 177v6M339 188v2M339 193v3M340 52v3M340 132v3M340 144v5M340 163v3M340 168v3M340 182v1M340 188v2M340 193v3M341 116v5M341 127v8M341 144v5M341 168v3M341 182v1M341 188v2M341 193v3M342 108v2M342 119v2M342 124v3M342 144v5M342 168v3M342 182v1M342 188v2M342 193v3M343 52v3M343 116v3M343 124v8M343 144v2M343 168v3M343 174v5M343 182v1M343 188v2M343 193v3M344 52v3M344 110v3M344 121v3M344 127v5M344 144v5M344 163v3M344 168v3M344 182v1M344 188v2M344 193v3M345 52v3M345 127v3M345 132v3M345 144v5M345 163v3M345 168v3M345 182v1M345 188v2M345 193v3M346 124v11M346 144v5M346 160v3M346 168v3M346 179v4M346 188v2M346 193v3M347 116v8M347 127v3M347 144v5M347 168v3M347 174v3M347 179v4M347 188v2M347 193v3M348 52v3M348 130v2M348 144v5M348 152v3M348 163v3M348 168v3M348 177v6M348 188v2M348 193v3M349 52v3M349 132v3M349 144v5M349 174v9M349 188v2M349 193v3M350 124v3M350 132v3M350 144v5M350 163v3M350 168v3M350 177v2M350 182v1M350 188v8M351 52v3M351 108v2M351 113v3M351 130v2M351 144v5M351 160v6M351 168v3M351 182v1M351 188v2M351 193v3M352 127v8M352 144v5M352 160v3M352 168v3M352 179v4M352 188v2M352 193v3M353 52v3M353 116v5M353 132v3M353 144v5M353 182v1M353 188v2M353 193v3M354 52v3M354 105v3M354 110v3M354 124v6M354 144v5M354 163v3M354 168v3M354 174v9M354 188v2M354 193v3M355 119v8M355 130v5M355 144v5M355 168v3M355 177v2M355 182v1M355 188v2M355 193v3M356 110v3M356 124v3M356 130v5M356 144v5M356 168v11M356 182v1M356 188v2M356 193v3M357 99v3M357 116v5M357 130v5M357 144v5M357 163v3M357 182v1M357 188v2M357 193v3M358 110v3M358 124v6M358 132v3M358 144v5M358 168v3M358 174v3M358 179v4M358 188v2M358 193v3M359 108v2M359 113v3M359 119v5M359 130v2M359 146v3M359 168v3M359 182v1M359 188v2M359 193v3M360 105v8M360 121v3M360 127v8M360 144v5M360 168v3M360 182v1M360 188v2M360 193v3M361 102v3M361 113v6M361 124v6M361 132v3M361 141v3M361 149v3M361 157v9M361 168v3M361 179v4M361 188v2M361 193v3M362 113v8M362 124v6M362 132v3M362 141v3M362 166v8M362 177v2M362 182v1M362 188v2M362 193v3M363 116v3M363 124v8M363 149v3M363 155v2M363 168v3M363 174v5M363 182v1M363 188v2M363 193v3M364 121v14M364 144v5M364 160v6M364 168v3M364 182v1M364 188v2M364 193v3M365 113v6M365 127v3M365 144v5M365 168v3M365 177v6M365 188v2M365 193v3M366 113v6M366 144v5M366 163v3M366 168v11M366 182v1M366 188v2M366 193v3M367 108v5M367 124v3M367 130v5M367 144v5M367 160v6M367 174v3M367 179v4M367 188v2M367 193v3M368 124v6M368 132v3M368 144v5M368 152v3M368 163v3M368 168v3M368 174v9M368 188v2M368 193v3M369 108v5M369 116v3M369 124v3M369 132v3M369 144v5M369 155v2M369 163v3M369 168v3M369 177v2M369 182v1M369 188v2M369 193v3M370 124v11M370 144v2M370 149v3M370 157v3M370 163v3M370 168v3M370 182v1M370 188v2M370 193v3M371 116v5M371 130v5M371 144v11M371 157v3M371 163v3M371 168v3M371 179v4M371 188v2M371 193v3M372 116v8M372 127v8M372 144v2M372 168v3M372 177v2M372 182v1M372 188v2M372 193v3M373 52v3M373 108v2M373 124v11M373 144v5M373 163v3M373 168v3M373 182v1M373 188v2M373 193v3M374 105v3M374 144v5M374 160v6M374 177v6M374 188v2M374 193v3M375 119v5M375 127v5M375 144v5M375 168v3M375 174v3M375 182v1M375 188v2M375 193v3M376 124v3M376 130v5M376 144v5M376 177v6M376 188v2M376 193v3M377 124v6M377 132v3M377 144v5M377 163v3M377 168v3M377 182v1M377 188v2M377 193v3M378 52v3M378 121v6M378 130v5M378 144v5M378 163v3M378 168v3M378 177v6M378 188v2M378 193v3M379 110v3M379 127v5M379 144v5M379 168v3M379 174v3M379 182v1M379 188v2M379 193v3M380 110v3M380 130v2M380 144v5M380 168v3M380 179v4M380 188v2M380 193v3M381 108v2M381 113v3M381 130v2M381 144v5M381 168v3M381 182v1M381 188v2M381 193v3M382 110v3M382 127v5M382 144v2M382 163v3M382 168v3M382 177v6M382 188v2M382 193v3M383 124v6M383 144v5M383 168v3M383 177v2M383 182v1M383 188v2M383 193v3M384 52v3M384 108v2M384 116v5M384 124v3M384 144v5M384 168v11M384 182v1M384 188v2M384 193v3M385 52v3M385 119v2M385 127v3M385 144v5M385 168v3M385 177v6M385 188v2M385 193v3M386 99v3M386 108v2M386 116v3M386 121v9M386 146v3M386 160v3M386 168v3M386 177v2M386 182v1M386 188v2M386 193v3M387 52v3M387 113v3M387 124v11M387 146v3M387 168v3M387 174v3M387 179v4M387 188v2M387 193v3M388 55v3M388 119v8M388 130v2M388 144v2M388 155v2M388 179v4M388 188v2M388 193v3M389 52v6M389 113v6M389 130v2M389 144v5M389 168v3M389 182v1M389 188v8M390 121v3M390 127v5M390 144v5M390 168v3M390 182v1M390 188v2M390 193v3M391 52v3M391 108v2M391 116v3M391 124v3M391 130v2M391 144v5M391 163v3M391 168v3M391 182v1M391 188v2M391 193v3M392 52v3M392 113v6M392 130v5M392 144v5M392 163v3M392 168v3M392 174v3M392 182v1M392 188v2M392 193v3M393 52v3M393 108v5M393 124v3M393 132v3M393 144v5M393 152v3M393 160v3M393 168v3M393 174v9M393 188v2M393 193v3M394 116v19M394 144v5M394 168v3M394 179v4M394 188v2M394 193v3M395 119v5M395 127v5M395 144v5M395 163v3M395 168v3M395 179v4M395 188v8M396 108v2M396 124v11M396 144v5M396 152v3M396 163v3M396 168v3M396 174v5M396 182v1M396 188v5M397 119v2M397 124v6M397 132v3M397 144v5M397 163v3M397 168v3M397 179v4M397 188v2M397 193v3M398 110v3M398 127v8M398 144v5M398 160v3M398 168v3M398 182v1M398 188v2M398 193v3M399 119v5M399 130v5M399 144v5M399 163v3M399 168v3M399 177v6M399 188v5M400 52v6M400 116v11M400 144v5M400 163v3M400 168v3M400 182v1M400 188v2M400 193v3M401 52v3M401 116v3M401 124v11M401 144v5M401 163v3M401 168v3M401 182v1M401 188v2M401 193v3M402 105v3M402 116v5M402 124v3M402 130v5M402 144v2M402 160v6M402 168v3M402 177v6M402 188v2M402 193v3M403 108v5M403 116v8M403 127v8M403 144v5M403 163v3M403 168v3M403 177v6M403 190v3M404 108v2M404 116v8M404 130v5M404 144v5M404 152v3M404 160v3M404 168v3M404 174v3M404 179v4M404 188v5M405 116v14M405 132v3M405 144v5M405 155v2M405 163v8M405 179v4M405 188v2M405 193v3M406 105v3M406 119v13M406 166v5M406 174v3M406 179v4M406 188v5M407 113v8M407 124v6M407 132v3M407 171v3M407 177v6M407 188v2M407 193v3M408 113v8M408 130v5M408 160v3M408 174v5M408 182v1M408 188v2M408 193v3M409 113v3M409 119v8M409 144v5M409 152v5M409 160v11M409 182v1M409 190v3M410 102v3M410 132v3M410 144v5M410 160v6M410 168v3M410 174v3M410 179v4M410 188v5M411 52v3M411 105v8M411 124v3M411 132v3M411 144v5M411 163v3M411 168v3M411 177v6M411 190v3M412 102v6M412 116v5M412 127v8M412 144v2M412 168v3M412 174v3M412 182v1M412 188v2M413 124v11M413 144v5M413 168v3M413 177v2M413 182v1M414 97v2M414 108v2M414 127v5M414 144v2M414 168v3M414 179v4M414 190v3M415 108v2M415 113v6M415 124v3M415 144v5M415 160v3M415 168v9M415 179v4M415 188v2M416 113v8M416 127v5M416 144v5M416 168v3M416 182v1M416 188v5M417 52v3M417 113v8M417 124v3M417 132v3M417 144v5M417 160v3M417 168v3M417 177v6M417 188v5M418 52v3M418 119v8M418 130v2M418 144v5M418 168v3M418 174v5M418 182v1M418 188v5M419 116v3M419 127v5M419 144v2M419 177v6M419 188v2M420 119v8M420 132v3M420 144v5M420 168v3M420 177v6M420 188v5M421 105v3M421 124v3M421 144v5M421 163v3M421 168v3M421 177v6M421 188v2M421 193v3M422 124v3M422 130v2M422 144v5M422 174v5M422 182v1M422 188v5M423 110v3M423 116v3M423 124v3M423 130v5M423 144v5M423 152v3M423 163v3M423 168v3M423 182v1M423 188v2M423 193v3M424 52v3M424 110v6M424 119v2M424 130v5M424 144v5M424 168v3M424 179v4M424 188v2M424 193v3M425 52v3M425 116v3M425 124v6M425 132v3M425 144v5M425 168v3M425 174v3M425 179v4M425 188v8M426 110v6M426 119v5M426 132v3M426 144v5M426 163v3M426 168v3M426 179v4M426 188v5M427 116v5M427 124v11M427 144v5M427 163v3M427 177v2M427 182v1M428 52v3M428 127v5M428 144v5M428 160v3M428 168v3M428 174v5M428 182v1M428 188v2M429 52v3M429 113v6M429 121v3M429 127v3M429 132v3M429 144v5M429 163v3M429 168v6M429 182v1M429 188v5M430 113v6M430 124v3M430 144v5M430 152v3M430 160v6M430 171v3M430 182v1M430 188v2M430 193v3M431 121v9M431 132v3M431 141v3M431 157v20M431 179v4M431 188v5M432 113v3M432 124v3M432 182v1M432 188v8M433 116v11M433 130v5M433 138v3M433 179v4M433 190v3M434 110v9M434 127v3M434 138v3M434 149v3M434 171v3M434 182v1M434 188v5M435 110v3M435 119v8M435 132v3M435 177v6M435 188v2M435 193v3M436 127v3M436 132v3M436 177v2M436 182v1M436 190v3M437 52v3M437 138v3M437 177v2M437 182v1M437 188v2M438 110v6M438 119v2M438 127v8M438 138v3M438 149v3M438 163v3M438 171v3M438 182v1M438 188v2M439 52v3M439 116v5M439 124v8M439 138v3M439 144v5M439 152v5M439 163v3M439 171v6M439 182v1M439 188v8M440 116v14M440 132v3M440 146v3M440 152v5M440 160v6M440 171v6M440 179v4M440 188v5M441 108v5M441 127v3M441 144v5M441 160v6M441 168v3M441 182v1M441 188v8M442 110v3M442 121v11M442 144v5M442 152v3M442 163v3M442 168v3M442 182v1M442 188v2M442 193v3M443 52v3M443 116v3M443 124v3M443 130v5M443 144v5M443 163v3M443 168v3M443 182v1M443 188v8M444 52v3M444 124v3M444 130v2M444 144v5M444 152v3M444 160v6M444 168v3M444 177v6M444 188v2M445 52v3M445 121v6M445 144v5M445 155v2M445 168v3M445 179v4M445 188v2M445 193v3M446 52v3M446 108v2M446 113v3M446 124v3M446 130v5M446 144v5M446 168v3M446 182v1M446 188v2M446 193v3M447 52v3M447 116v3M447 121v3M447 127v8M447 168v3M447 182v1M447 188v2M448 52v3M448 127v8M448 144v5M448 163v3M448 168v3M448 182v1M448 188v2M448 193v3M449 52v6M449 116v3M449 124v3M449 132v3M449 144v5M449 160v3M449 168v3M449 174v3M449 182v1M449 188v2M449 193v3M450 52v3M450 124v6M450 132v3M450 144v5M450 179v4M450 188v2M451 105v3M451 116v5M451 124v11M451 144v2M451 160v3M451 168v3M451 179v4M451 188v2M451 193v3M452 121v9M452 132v3M452 144v5M452 163v3M452 168v3M452 177v2M452 182v1M452 188v2M452 193v3M453 110v11M453 124v3M453 144v5M453 160v6M453 168v3M453 177v6M453 188v2M453 193v3M454 55v3M454 116v3M454 127v5M454 144v5M454 152v3M454 163v3M454 168v3M454 182v1M454 188v2M455 52v3M455 119v8M455 130v5M455 146v3M455 168v3M455 177v6M455 188v2M456 52v6M456 113v3M456 121v14M456 144v5M456 163v3M456 168v3M456 179v4M456 188v2M457 55v6M457 113v8M457 127v8M457 144v5M457 160v6M457 168v3M457 174v3M457 179v4M457 188v2M457 193v3M458 52v6M458 119v2M458 127v8M458 144v2M458 152v3M458 160v3M458 168v3M458 179v4M458 188v2M458 193v3M459 52v6M459 116v3M459 124v3M459 130v2M459 144v5M459 168v3M459 182v1M459 188v8M460 52v3M460 121v9M460 132v3M460 144v5M460 163v3M460 168v3M460 182v1M460 188v2M460 193v3M461 127v3M461 132v3M461 144v5M461 160v3M461 168v6M461 179v4M461 188v2M461 193v3M462 52v3M462 116v19M462 144v5M462 168v3M462 177v2M462 182v1M462 188v2M462 193v3M463 52v3M463 113v17M463 132v3M463 144v5M463 163v3M463 182v1M463 188v2M464 52v6M464 108v5M464 119v2M464 124v11M464 144v5M464 160v3M464 168v3M464 177v2M464 182v1M464 188v2M464 193v3M465 52v6M465 110v6M465 119v2M465 124v3M465 132v3M465 144v5M465 152v3M465 168v3M465 174v9M465 188v2M466 52v3M466 58v3M466 124v3M466 130v2M466 144v5M466 168v3M466 174v3M466 182v1M466 188v2M466 193v3M467 52v6M467 116v8M467 130v5M467 144v5M467 163v3M467 168v3M467 174v9M467 188v2M467 193v3M468 52v6M468 108v2M468 119v2M468 124v6M468 132v3M468 144v5M468 168v3M468 174v3M468 182v1M468 188v2M469 61v3M469 108v2M469 119v8M469 130v2M469 144v5M469 177v6M469 188v2M469 193v3M470 55v3M470 127v3M470 132v3M470 144v5M470 163v3M470 174v3M470 182v1M470 188v2M470 193v3M471 52v3M471 121v3M471 130v5M471 144v5M471 163v3M471 168v3M471 179v4M471 188v2M472 52v3M472 64v2M472 113v6M472 121v6M472 130v5M472 144v5M472 177v2M472 182v1M472 188v2M472 193v3M473 52v12M473 119v2M473 124v8M473 144v5M473 168v3M473 174v3M473 182v1M473 188v2M473 193v3M474 52v6M474 64v2M474 116v3M474 121v9M474 144v5M474 168v3M474 174v3M474 182v1M474 188v2M474 193v3M475 55v3M475 119v2M475 127v3M475 132v3M475 144v2M475 155v2M475 168v3M475 177v2M475 182v1M475 188v2M475 193v3M476 110v3M476 124v8M476 144v5M476 168v3M476 179v4M476 188v2M477 52v6M477 108v5M477 121v6M477 132v3M477 144v5M477 168v3M477 174v3M477 182v1M477 188v2M477 193v3M478 55v3M478 61v3M478 124v6M478 132v3M478 144v5M478 163v3M478 168v3M478 174v3M478 182v1M478 188v2M478 193v3M479 55v3M479 61v3M479 110v3M479 116v3M479 124v3M479 130v2M479 144v5M479 160v3M479 168v6M479 179v4M479 188v2M479 193v3M480 52v6M480 61v3M480 124v6M480 132v3M480 144v5M480 163v3M480 168v3M480 177v2M480 182v1M480 188v2M480 193v3M481 55v3M481 130v2M481 144v5M481 168v3M481 174v3M481 179v4M481 188v2M481 193v3M482 52v3M482 105v3M482 110v3M482 119v2M482 124v3M482 130v2M482 144v5M482 168v3M482 174v3M482 182v1M482 188v2M482 193v3M483 55v3M483 116v3M483 127v3M483 132v3M483 144v5M483 168v3M483 174v3M483 179v4M483 188v2M483 193v3M484 55v3M484 105v3M484 124v11M484 144v2M484 163v3M484 168v3M484 174v5M484 182v1M484 188v2M485 52v3M485 108v2M485 113v17M485 144v5M485 163v3M485 168v3M485 177v2M485 182v1M485 188v2M485 193v3M486 52v3M486 58v3M486 130v5M486 144v5M486 152v3M486 163v3M486 168v3M486 179v4M486 188v2M487 55v3M487 124v6M487 144v5M487 163v3M487 168v3M487 182v1M487 188v2M487 193v3M488 116v3M488 127v8M488 144v5M488 168v3M488 177v6M488 188v2M488 193v3M489 52v3M489 116v3M489 121v6M489 130v5M489 144v5M489 168v3M489 182v1M489 188v2M489 193v3M490 55v3M490 110v3M490 121v6M490 130v5M490 144v5M490 168v3M490 179v4M490 188v2M490 193v3M491 55v3M491 116v8M491 127v3M491 144v5M491 160v3M491 168v3M491 177v2M491 182v1M491 188v2M492 52v3M492 121v11M492 144v5M492 168v3M492 179v4M492 188v2M493 52v6M493 116v3M493 127v8M493 144v5M493 168v3M493 182v1M493 188v2M493 193v3M494 52v6M494 102v8M494 119v5M494 127v8M494 144v5M494 168v3M494 182v1M494 188v2M495 52v9M495 108v5M495 124v3M495 130v5M495 144v5M495 163v3M495 168v15M495 188v2M496 52v6M496 110v3M496 119v8M496 130v2M496 144v5M496 168v3M496 174v3M496 182v1M496 188v2M496 193v3M497 105v3M497 130v5M497 144v5M497 168v3M497 182v1M497 188v2M497 193v3M498 52v3M498 102v3M498 110v11M498 130v2M498 144v5M498 160v6M498 168v3M498 179v4M498 188v2M498 193v3M499 52v6M499 116v3M499 130v2M499 138v3M499 146v3M499 152v3M499 182v1M499 188v2M499 193v3M500 52v6M500 108v2M500 127v3M500 132v3M500 146v3M500 168v3M500 177v2M500 182v1M500 188v2M501 52v3M501 102v3M501 108v2M501 116v8M501 138v11M501 168v3M501 182v1M501 188v2M501 193v3M502 91v3M502 124v8M502 144v2M502 163v3M502 168v3M502 177v6M502 188v8M503 52v3M503 91v3M503 110v3M503 116v3M503 124v6M503 144v5M503 168v3M503 177v2M503 182v1M503 185v3M504 58v3M504 80v3M504 99v3M504 119v5M504 132v3M504 144v5M504 163v3M504 168v3M504 174v3M504 179v4M505 66v3M505 102v3M505 108v8M505 119v11M505 132v3M505 144v5M505 163v3M505 168v3M505 174v5M505 182v1M505 188v2M506 119v2M506 127v5M506 144v5M506 168v3M506 179v4M506 188v2M506 193v3M507 55v6M507 99v3M507 105v3M507 110v6M507 124v3M507 132v3M507 138v3M507 146v3M507 163v3M507 168v3M507 182v1M507 185v3M507 190v3M508 55v3M508 116v5M508 124v3M508 130v5M508 146v3M508 168v3M508 182v1M508 185v5M508 193v3M509 99v3M509 127v5M509 152v3M509 163v3M509 168v3M509 174v3M509 182v1M510 105v3M510 116v3M510 124v3M510 130v2M510 144v5M510 168v3M510 177v6M510 185v3M511 52v3M511 102v3M511 108v2M511 116v3M511 121v3M511 130v2M511 144v5M511 160v3M511 168v3M511 177v6M511 188v2M511 193v3M512 52v3M512 124v3M512 130v5M512 144v5M512 160v3M512 168v3M512 179v4M513 52v3M513 102v3M513 132v3M513 144v5M513 168v3M513 174v8M514 55v3M514 113v8M514 127v8M514 144v5M514 168v3M514 179v4M515 55v3M515 102v3M515 124v8M515 144v5M515 152v3M515 157v9M515 168v14M516 55v3M516 110v3M516 116v3M516 121v3M516 127v5M516 138v6M516 185v3M517 105v3M517 119v5M517 127v3M517 132v3M518 55v3M518 110v3M518 116v5M518 124v3M518 130v5M518 138v3M518 157v9M519 108v13M519 127v8M519 144v5M519 152v5M519 160v17M520 127v8M520 144v5M520 163v3M520 168v3M520 179v3M521 110v11M521 127v3M521 132v3M521 144v5M521 174v5M521 182v1M522 52v3M522 108v2M522 113v3M522 124v3M522 130v5M522 144v5M522 160v3M522 168v3M522 179v4M522 185v3M523 52v3M523 130v2M523 144v5M523 152v3M523 163v3M523 168v3M523 179v4M523 188v5M524 99v3M524 113v3M524 121v9M524 144v5M524 168v3M524 182v1M524 188v2M524 193v3M525 110v3M525 127v8M525 144v5M525 168v3M525 174v3M525 182v1M525 185v5M525 193v3M526 99v3M526 113v3M526 124v8M526 144v5M526 163v3M526 168v3M526 179v4M526 188v2M526 193v3M527 52v3M527 105v11M527 127v3M527 144v2M527 168v11M527 182v1M527 188v2M527 193v3M528 116v3M528 121v3M528 130v5M528 144v5M528 160v3M528 168v3M528 177v2M528 182v1M528 188v8M529 127v8M529 144v5M529 163v3M529 168v3M529 179v4M529 188v5M530 116v5M530 124v8M530 144v2M530 166v2M530 174v3M530 182v1M530 188v8M531 105v3M531 116v3M531 121v6M531 132v3M531 144v5M531 160v8M531 179v4M531 188v2M531 193v3M532 105v5M532 116v8M532 127v3M532 132v3M532 144v5M532 168v3M532 182v1M532 188v2M532 193v3M533 55v3M533 116v5M533 124v6M533 132v3M533 144v5M533 168v3M533 182v1M533 188v2M533 193v3M534 55v3M534 102v6M534 110v3M534 124v6M534 132v3M534 144v5M534 160v3M534 168v3M534 182v1M534 188v2M535 52v3M535 113v6M535 124v3M535 130v5M535 144v5M535 168v3M535 174v3M535 182v1M535 188v2M536 52v3M536 105v3M536 116v3M536 121v9M536 144v5M536 168v3M536 177v2M536 182v1M536 188v2M537 113v8M537 124v6M537 132v3M537 144v5M537 163v3M537 168v3M537 177v6M537 190v3M538 130v2M538 144v5M538 163v3M538 168v3M538 177v6M538 188v2M539 52v3M539 119v2M539 124v3M539 130v5M539 144v5M539 168v3M539 174v3M539 179v4M539 188v2M539 193v6M540 108v2M540 121v3M540 127v5M540 144v5M540 168v3M540 177v6M541 55v3M541 116v3M541 124v6M541 144v5M541 168v3M541 179v4M541 190v3M542 110v3M542 124v3M542 130v5M542 144v5M542 163v3M542 168v3M542 179v4M542 190v3M543 52v3M543 116v14M543 144v2M543 160v6M543 168v3M543 174v9M543 185v3M543 190v3M544 113v11M544 130v5M544 144v5M544 160v3M544 168v3M544 177v2M544 185v3M544 190v6M545 105v3M545 113v3M545 121v6M545 130v5M545 144v5M545 168v3M545 177v6M545 188v2M546 55v3M546 61v3M546 116v5M546 127v5M546 144v5M546 163v3M546 168v3M546 177v6M546 190v3M547 52v3M547 124v11M547 144v5M547 160v3M547 168v3M547 177v5M547 188v2M548 52v6M548 113v11M548 144v5M548 160v3M548 168v3M548 177v5M549 52v3M549 121v6M549 144v5M549 168v3M549 174v8M549 190v3M550 52v3M550 110v3M550 121v3M550 127v5M550 144v5M550 160v3M550 168v3M550 177v5M551 52v6M551 124v6M551 132v3M551 144v5M551 168v14M552 52v3M552 119v5M552 130v5M552 144v5M552 177v6M552 193v3M553 55v3M553 108v2M553 113v3M553 130v2M553 144v5M553 168v3M553 174v5M554 55v3M554 110v6M554 127v3M554 144v5M554 168v3M554 174v8M555 113v6M555 124v11M555 144v5M555 163v3M555 168v3M555 174v8M555 185v3M555 190v3M556 52v3M556 132v3M556 144v5M556 160v6M556 168v3M556 179v3M557 108v5M557 124v11M557 144v5M557 168v3M557 174v3M558 52v3M558 110v3M558 116v3M558 127v3M558 132v3M558 144v5M558 168v3M558 182v1M559 108v2M559 116v3M559 124v6M559 132v3M559 144v5M559 160v6M559 168v9M560 58v3M560 144v5M560 168v3M560 174v8M560 185v3M561 55v3M561 124v6M561 144v5M561 163v3M561 168v3M561 177v5M562 52v3M562 105v3M562 116v5M562 144v2M562 168v3M562 174v5M563 52v3M563 108v2M563 119v5M563 130v5M563 144v5M563 152v3M563 168v3M563 177v5M563 185v3M564 124v11M564 144v5M564 168v3M564 177v2M564 182v1M564 190v3M565 58v3M565 113v6M565 127v3M565 132v3M565 144v5M565 163v3M565 177v2M566 124v6M566 144v2M566 163v3M566 168v3M566 174v8M567 108v2M567 121v6M567 144v5M567 163v3M567 168v3M567 174v8M568 119v16M568 144v5M568 163v3M568 168v3M568 177v5M569 52v3M569 113v6M569 127v8M569 144v5M569 163v3M569 168v3M569 174v5M569 223v3M570 110v3M570 124v3M570 130v2M570 144v5M570 152v3M570 168v3M570 174v5M570 201v6M570 232v3M570 237v3M571 52v3M571 116v3M571 124v3M571 132v3M571 144v5M571 168v3M571 174v5M572 121v6M572 144v5M572 168v6M572 177v2M573 116v3M573 124v6M573 132v3M573 144v5M573 163v3M573 168v3M573 174v3M574 116v5M574 127v8M574 144v5M574 163v3M574 168v3M574 174v3M574 215v3M575 127v3M575 144v5M575 160v3M575 168v3M575 174v8M575 193v3M575 221v2M576 119v5M576 127v5M576 144v5M576 163v3M576 168v3M576 174v8M576 185v3M576 190v3M577 110v3M577 116v3M577 121v11M577 144v2M577 168v3M577 174v3M578 119v2M578 127v8M578 144v5M578 168v3M578 174v5M579 116v3M579 121v14M579 144v5M579 163v3M579 168v3M579 174v8M579 215v3M580 116v3M580 124v3M580 130v5M580 144v5M580 160v3M580 168v3M580 174v3M580 188v5M581 113v6M581 121v14M581 144v5M581 168v3M581 177v5M581 215v3M582 116v8M582 127v3M582 144v5M582 168v3M582 174v3M582 199v2M582 210v2M583 116v8M583 127v8M583 144v5M583 152v3M583 168v3M583 177v5M583 190v3M583 204v3M583 212v3M584 132v3M584 144v5M584 163v3M584 168v3M584 177v2M584 212v6M585 130v2M585 144v5M585 168v3M585 174v3M585 215v3M586 119v2M586 124v11M586 144v5M586 168v3M586 182v1M586 204v3M587 108v2M587 113v3M587 130v5M587 146v3M587 163v3M587 168v3M587 174v5M588 113v3M588 124v3M588 130v2M588 144v5M588 168v3M588 177v2M588 204v3M589 127v8M589 144v5M589 160v3M589 168v3M589 177v2M589 182v1M589 190v3M590 105v3M590 127v5M590 144v5M590 168v3M590 174v5M591 124v3M591 144v5M591 160v6M591 168v3M591 182v1M592 108v2M592 116v8M592 127v3M592 132v3M592 144v5M592 163v3M592 168v11M592 182v1M592 188v2M593 116v3M593 121v11M593 144v5M593 168v3M593 177v5M593 199v5M593 215v3M593 223v3M594 110v3M594 116v3M594 121v9M594 144v2M594 152v3M594 160v3M594 168v3M594 174v8M594 185v3M594 215v3M594 223v3M595 110v6M595 127v3M595 144v5M595 168v11M595 223v3M596 52v3M596 116v14M596 144v5M596 163v3M596 168v3M596 179v3M596 190v6M597 52v3M597 105v3M597 113v11M597 130v5M597 144v5M597 168v3M597 174v3M597 199v2M597 212v3M598 121v14M598 144v5M598 168v3M598 174v5M598 207v3M598 215v3M599 108v11M599 124v6M599 132v3M599 146v3M599 163v3M599 168v3M599 174v5M600 55v3M600 113v6M600 121v3M600 127v8M600 144v5M600 160v6M600 168v3M600 174v3M600 185v3M600 196v3M600 207v3M600 218v8M601 55v3M601 113v11M601 127v5M601 144v2M601 152v3M601 163v3M601 168v3M601 174v5M601 207v8M601 221v2M601 226v3M602 121v3M602 127v5M602 144v5M602 160v3M602 168v3M602 174v8M602 204v3M602 212v3M602 218v3M603 110v3M603 121v9M603 132v3M603 144v5M603 152v3M603 168v14M603 185v3M603 199v2M603 221v2M604 105v3M604 119v8M604 130v5M604 144v5M604 168v3M604 174v8M604 196v5M604 210v2M604 215v3M604 223v3M605 52v3M605 110v9M605 124v3M605 130v5M605 144v5M605 168v3M605 177v5M605 196v5M605 218v3M605 226v3M606 52v3M606 108v2M606 119v11M606 132v3M606 144v5M606 152v3M606 168v14M606 188v5M607 52v3M607 108v2M607 113v6M607 144v5M607 168v3M607 174v5M607 201v3M608 52v3M608 108v2M608 124v3M608 130v5M608 144v5M608 152v3M608 163v3M608 168v3M608 174v3M608 179v3M609 52v3M609 113v14M609 130v5M609 144v5M609 163v3M609 168v3M609 174v8M609 207v3M609 232v3M610 52v6M610 108v5M610 119v2M610 124v8M610 144v5M610 163v3M610 168v9M610 179v3M610 199v2M610 215v3M611 55v3M611 105v3M611 110v3M611 116v3M611 124v3M611 144v5M611 160v3M611 168v3M611 174v5M611 196v3M611 201v3M611 207v3M611 221v2M612 52v6M612 116v3M612 121v6M612 132v3M612 144v5M612 163v3M612 168v3M612 174v5M612 199v2M612 204v3M612 221v5M613 55v3M613 119v2M613 124v8M613 144v5M613 168v3M613 177v2M613 182v1M613 204v3M614 52v6M614 108v2M614 121v3M614 130v5M614 144v5M614 163v3M614 168v3M614 174v3M614 182v1M614 188v2M614 210v2M615 55v3M615 105v3M615 132v3M615 144v5M615 163v3M615 168v3M615 174v3M615 193v6M615 218v3M616 55v3M616 116v3M616 121v14M616 144v5M616 163v3M616 168v3M616 174v3M616 201v3M616 210v2M616 226v3M617 99v3M617 116v3M617 121v3M617 127v8M617 144v5M617 163v3M617 168v3M617 177v5M617 212v3M617 221v5M617 229v8M618 116v5M618 127v3M618 144v2M618 160v6M618 168v3M618 174v3M618 196v3M618 204v3M618 223v3M619 52v6M619 105v3M619 110v3M619 119v2M619 124v11M619 144v5M619 160v3M619 168v3M619 174v9M619 188v2M619 199v2M619 210v2M619 215v3M619 221v5M620 119v2M620 127v5M620 160v6M620 168v3M620 177v5M620 193v3M621 52v3M621 102v3M621 119v5M621 127v8M621 144v5M621 163v3M621 168v3M621 174v8M621 199v2M621 204v3M621 221v5M622 124v8M622 144v5M622 163v3M622 168v3M622 174v3M622 179v3M622 185v3M622 190v3M622 201v3M622 207v3M622 218v3M622 223v6M623 52v3M623 102v3M623 119v5M623 127v8M623 144v5M623 163v3M623 168v3M623 199v2M623 204v3M623 221v5M624 52v3M624 102v3M624 119v5M624 127v8M624 144v5M624 163v3M624 168v3M624 199v2M624 204v3M624 221v5M625 52v3M625 102v3M625 119v5M625 127v8M625 144v5M625 163v3M625 168v3M625 199v2M625 204v3M625 221v5M626 52v3M626 102v3M626 119v5M626 127v8M626 144v5M626 163v3M626 168v3M626 199v2M626 204v3M626 221v5M627 52v3M627 102v3M627 119v5M627 127v8M627 144v5M627 163v3M627 168v3M627 199v2M627 204v3M627 221v5M628 52v3M628 102v3M628 119v5M628 127v8M628 144v5M628 163v3M628 168v3M628 199v2M628 204v3M628 221v5M629 52v3M629 102v3M629 119v5M629 127v8M629 144v5M629 163v3M629 168v3M629 199v2M629 204v3M629 221v5"/>
<path stroke="#000eff" d="M278 52v9M279 52v9M280 52v9M281 52v9M282 52v9M283 52v9M284 55v17M284 91v6M284 105v8M284 116v8M284 183v2M284 196v110M285 55v17M285 75v2M285 105v8M285 116v3M285 183v2M285 196v110M286 52v3M286 61v14M286 110v6M286 135v3M286 199v107M287 52v3M287 58v14M287 110v9M287 121v3M287 135v3M287 199v107M288 52v6M288 61v8M288 110v6M288 135v3M288 183v2M288 196v110M289 52v3M289 58v14M289 110v3M289 116v3M289 121v3M289 135v3M289 199v107M290 58v14M290 110v11M290 127v3M290 135v3M290 199v107M291 58v3M291 64v5M291 108v8M291 119v2M291 135v3M291 183v2M291 196v110M292 52v17M292 75v2M292 108v5M292 121v3M292 183v2M292 196v110M293 61v3M293 66v3M293 110v3M293 116v8M293 135v3M293 196v110M294 55v9M294 66v3M294 102v3M294 113v3M294 135v3M294 196v110M295 58v8M295 102v3M295 110v9M295 135v3M295 183v2M295 196v110M296 55v11M296 108v16M296 196v110M297 61v8M297 102v3M297 110v6M297 121v3M297 135v3M297 183v2M297 199v107M298 52v12M298 66v6M298 105v11M298 119v5M298 135v3M298 183v2M298 199v52M298 257v16M298 281v6M298 295v11M299 58v6M299 108v8M299 119v2M299 135v3M299 199v69M299 270v3M299 276v5M299 287v14M299 303v3M300 61v8M300 105v5M300 113v11M300 135v3M300 183v2M300 196v110M301 58v14M301 108v2M301 116v3M301 135v3M301 183v2M301 196v44M301 243v3M301 254v22M302 55v14M302 102v6M302 110v6M302 121v3M302 183v2M302 199v63M302 273v3M302 281v17M303 61v8M303 102v3M303 108v8M303 119v2M303 135v3M303 183v2M303 199v47M303 254v16M303 281v3M303 292v6M304 61v3M304 108v8M304 121v3M304 135v3M304 183v2M304 196v99M305 58v3M305 105v3M305 110v11M305 183v2M305 199v82M306 55v6M306 64v2M306 108v13M306 135v3M306 183v2M306 196v83M306 284v8M307 52v9M307 97v2M307 105v5M307 113v3M307 119v5M307 183v2M307 196v94M307 292v6M308 58v6M308 108v2M308 113v6M308 183v2M308 199v52M308 257v2M308 262v14M308 281v3M308 287v3M309 52v3M309 58v6M309 105v14M309 196v110M310 55v9M310 94v3M310 108v13M310 196v58M310 281v3M310 295v3M310 301v2M311 61v3M311 108v5M311 119v2M311 135v3M311 183v2M311 196v50M311 251v3M311 257v5M311 287v14M312 83v3M312 102v3M312 108v5M312 119v2M312 135v3M312 196v55M312 270v3M312 276v11M313 58v6M313 102v3M313 119v2M313 135v3M313 183v2M313 199v58M313 259v3M313 284v3M313 290v8M313 303v3M314 55v3M314 102v6M314 110v3M314 116v5M314 124v3M314 135v3M314 199v58M314 262v8M314 295v6M315 55v6M315 119v2M315 135v3M315 183v2M315 199v47M315 251v22M316 52v9M316 64v2M316 110v3M316 119v5M316 199v55M316 279v5M316 290v5M316 303v3M317 58v3M317 110v3M317 116v3M317 183v2M317 196v58M317 259v25M318 52v3M318 108v5M318 119v5M318 135v3M318 199v55M318 265v8M318 281v3M318 287v8M318 298v8M319 52v6M319 110v6M319 121v3M319 183v2M319 199v80M319 287v3M319 298v5M320 52v6M320 108v8M320 121v3M320 135v3M320 196v99M321 52v3M321 110v14M321 183v2M321 199v49M321 254v52M322 58v3M322 110v9M322 130v2M322 183v2M322 199v66M322 268v8M322 284v6M323 52v6M323 108v2M323 113v11M323 135v3M323 199v44M323 248v9M323 268v2M323 273v6M323 287v3M324 52v3M324 58v6M324 108v2M324 113v11M324 135v3M324 183v2M324 196v50M324 257v2M324 262v6M324 270v3M324 279v8M324 292v3M325 55v3M325 108v2M325 113v6M325 121v3M325 135v3M325 183v2M325 196v66M325 273v3M325 279v5M325 287v3M325 292v3M326 55v3M326 113v8M326 199v47M326 254v25M326 292v14M327 105v3M327 116v8M327 135v3M327 199v47M327 259v25M327 292v3M327 303v3M328 52v3M328 94v3M328 108v2M328 119v2M328 183v2M328 196v50M328 251v3M328 270v20M329 58v3M329 97v2M329 108v2M329 113v3M329 119v5M329 135v3M329 183v2M329 196v61M329 276v11M329 292v3M330 55v3M330 61v3M330 99v3M330 113v6M330 121v3M330 135v3M330 183v2M330 199v66M331 102v3M331 116v3M331 121v3M331 135v3M331 183v2M331 199v71M331 273v33M332 52v3M332 102v14M332 119v5M332 135v3M332 144v2M332 183v2M332 199v91M333 102v3M333 121v3M333 135v3M333 199v88M333 301v5M334 105v3M334 110v3M334 116v8M334 135v3M334 199v85M335 105v5M335 113v3M335 183v2M335 199v85M335 290v2M335 298v3M336 52v6M336 108v5M336 116v5M336 183v2M336 196v47M336 251v39M337 52v6M337 91v3M337 97v2M337 105v5M337 121v3M337 135v3M337 183v2M337 196v39M337 243v30M338 108v16M338 183v2M338 196v88M338 287v3M338 292v3M339 61v3M339 102v3M339 108v13M339 183v2M339 196v107M340 55v3M340 97v2M340 102v19M340 183v2M340 196v69M340 270v6M340 298v8M341 52v3M341 102v3M341 108v8M341 121v3M341 135v3M341 183v2M341 196v80M341 281v6M341 290v2M341 295v8M342 52v3M342 58v3M342 86v2M342 110v3M342 116v3M342 121v3M342 135v3M342 196v88M342 298v3M343 55v3M343 102v11M343 119v5M343 135v3M343 183v2M343 196v50M343 254v5M344 55v3M344 102v3M344 113v8M344 135v3M344 183v2M344 196v44M344 254v14M344 273v11M345 99v3M345 108v2M345 113v11M345 183v2M345 196v80M345 279v2M345 298v5M346 102v3M346 108v8M346 119v5M346 135v3M346 183v2M346 196v39M346 240v11M346 259v11M347 97v19M347 135v3M347 183v2M347 196v52M347 262v6M347 270v9M347 284v6M347 295v3M348 55v3M348 64v2M348 108v2M348 121v3M348 135v3M348 196v58M348 259v17M348 292v14M349 55v3M349 97v2M349 102v3M349 108v16M349 135v3M349 183v2M349 196v63M349 262v3M349 268v2M349 273v22M350 52v6M350 91v3M350 102v8M350 113v6M350 183v2M350 196v50M350 248v22M350 295v8M351 55v3M351 110v3M351 116v8M351 135v3M351 183v2M351 196v88M351 298v3M351 303v3M352 52v3M352 110v3M352 135v3M352 183v2M352 196v50M352 265v5M352 273v28M352 303v3M353 97v2M353 102v6M353 110v6M353 121v3M353 135v3M353 183v2M353 196v96M353 295v11M354 94v3M354 102v3M354 108v2M354 113v11M354 196v50M354 248v17M354 268v16M355 52v6M355 86v2M355 97v2M355 105v3M355 113v6M355 183v2M355 196v72M355 270v3M355 290v2M356 52v3M356 64v2M356 97v5M356 105v5M356 119v2M356 135v3M356 183v2M356 196v94M356 292v3M357 52v3M357 66v3M357 94v5M357 102v14M357 121v3M357 135v3M357 196v107M358 105v5M358 113v6M358 121v3M358 135v3M358 196v63M358 262v17M358 290v2M359 52v3M359 61v3M359 99v6M359 110v3M359 116v3M359 135v3M359 144v2M359 196v94M359 292v6M360 52v3M360 102v3M360 113v8M360 135v3M360 196v77M360 295v3M361 105v8M361 119v5M361 144v5M361 152v3M361 183v2M361 196v61M361 265v3M361 276v3M361 290v2M362 52v3M362 102v11M362 121v3M362 135v3M362 149v3M362 155v2M362 183v2M362 196v44M362 248v3M362 259v20M363 52v6M363 102v3M363 119v5M363 144v5M363 157v9M363 183v2M363 196v52M363 259v3M364 105v3M364 110v11M364 135v3M364 196v50M364 259v3M364 273v3M364 279v11M364 298v5M365 52v3M365 110v3M365 119v5M365 183v2M365 196v39M365 240v6M365 257v22M365 281v9M365 295v8M366 52v3M366 83v3M366 102v3M366 110v3M366 119v5M366 183v2M366 196v30M366 232v14M366 248v3M366 254v3M366 279v2M367 52v3M367 99v9M367 113v8M367 196v36M367 235v5M367 243v5M367 251v39M367 295v8M368 105v3M368 110v11M368 183v2M368 196v30M368 232v19M368 276v19M368 301v2M369 52v3M369 58v3M369 69v3M369 105v3M369 113v3M369 119v2M369 135v3M369 196v41M369 281v3M370 52v9M370 99v3M370 105v3M370 110v14M370 135v3M370 155v2M370 183v2M370 196v44M370 243v3M370 248v3M370 279v2M371 52v3M371 105v11M371 121v3M371 135v3M371 183v2M371 196v44M371 246v30M371 303v3M372 91v3M372 105v8M372 183v2M372 196v33M372 232v3M372 243v11M372 259v25M372 287v11M372 303v3M373 55v3M373 66v3M373 94v14M373 110v11M373 196v14M373 215v11M373 232v3M373 240v19M373 265v8M373 279v2M373 301v5M374 55v3M374 108v5M374 116v8M374 196v3M374 204v17M374 287v3M374 303v3M375 58v3M375 66v3M375 97v5M375 105v5M375 116v3M375 183v2M375 196v33M375 259v6M375 273v14M376 55v6M376 64v5M376 108v2M376 113v11M376 135v3M376 196v27M376 240v6M376 248v3M377 55v3M377 99v3M377 105v19M377 130v2M377 183v2M377 196v11M377 212v9M377 240v6M377 248v28M378 55v3M378 119v2M378 127v3M378 183v2M378 215v3M379 52v6M379 99v3M379 108v2M379 113v3M379 119v2M379 135v3M379 196v33M379 232v14M379 279v8M380 52v6M380 86v2M380 108v2M380 113v11M380 135v3M380 196v3M380 237v22M380 268v8M380 290v2M380 295v3M381 52v9M381 64v2M381 105v3M381 110v3M381 116v3M381 121v3M381 135v3M381 183v2M381 196v3M381 295v3M382 55v3M382 69v3M382 88v3M382 102v6M382 113v8M382 135v3M382 196v3M383 52v3M383 58v6M383 66v6M383 102v8M383 116v5M383 135v3M383 183v2M383 196v30M383 235v22M383 262v6M384 58v6M384 105v3M384 110v3M384 121v3M384 135v3M384 183v2M384 196v3M384 240v8M384 257v13M385 58v3M385 105v14M385 121v3M385 130v2M385 135v3M385 183v2M385 196v30M385 235v5M385 243v5M386 55v3M386 88v3M386 102v6M386 110v6M386 119v2M386 135v3M386 144v2M386 196v14M386 218v3M386 246v2M386 265v3M387 55v6M387 91v3M387 102v3M387 108v5M387 135v3M387 144v2M387 196v8M387 270v9M388 52v3M388 58v6M388 110v3M388 135v3M388 196v27M388 237v3M388 243v14M388 273v6M388 281v9M389 58v6M389 91v3M389 102v3M389 108v5M389 119v5M389 135v3M389 183v2M389 196v3M389 204v11M389 218v3M389 251v6M390 58v6M390 102v19M390 196v16M390 251v6M390 259v9M391 58v6M391 75v2M391 97v2M391 102v6M391 110v6M391 119v5M391 135v3M391 183v2M391 196v8M392 55v3M392 61v3M392 99v3M392 108v5M392 119v2M392 127v3M392 135v3M392 183v2M392 196v22M392 257v13M393 55v9M393 94v3M393 99v3M393 105v3M393 113v6M393 121v3M393 183v2M393 196v16M393 259v3M393 268v2M393 273v3M394 52v9M394 97v2M394 105v11M394 135v3M394 183v2M394 196v14M395 55v9M395 66v6M395 108v11M395 135v3M395 199v16M396 58v6M396 105v3M396 110v14M396 183v2M396 193v3M396 199v8M396 265v11M397 52v6M397 61v3M397 94v3M397 108v2M397 116v3M397 121v3M397 135v3M397 196v22M398 55v9M398 116v3M398 121v3M398 135v3M398 183v2M398 196v8M398 246v11M399 52v9M399 66v3M399 105v14M399 183v2M399 193v14M399 284v3M400 99v3M400 113v3M400 135v3M400 196v22M401 55v3M401 105v11M401 119v5M401 135v3M401 183v2M401 196v14M401 246v2M402 52v3M402 61v3M402 108v8M402 121v3M402 135v3M402 196v14M403 52v3M403 99v9M403 135v3M403 183v2M403 188v2M403 193v19M403 215v3M403 248v3M404 52v3M404 88v3M404 94v3M404 99v9M404 110v6M404 135v3M404 183v2M404 193v6M404 201v14M405 52v3M405 94v11M405 108v2M405 113v3M405 152v3M405 160v3M405 196v3M405 201v6M405 210v8M406 52v3M406 80v3M406 94v11M406 135v3M406 141v3M406 157v3M406 196v19M407 77v6M407 88v3M407 94v19M407 121v3M407 135v3M407 141v3M407 160v3M407 204v11M408 52v3M408 91v8M408 105v8M408 121v3M408 135v3M408 163v8M408 183v2M408 196v19M409 88v25M409 116v3M409 135v3M409 183v2M409 188v2M409 207v3M409 273v6M410 52v6M410 75v2M410 83v5M410 94v8M410 105v5M410 113v11M410 135v3M410 201v3M411 55v9M411 83v5M411 91v14M411 113v11M411 183v2M411 188v2M411 193v6M411 201v6M412 83v3M412 88v14M412 108v8M412 121v3M412 183v2M412 193v3M412 254v3M413 52v3M413 88v33M413 135v3M413 188v5M414 75v2M414 83v3M414 91v6M414 99v9M414 116v8M414 135v3M414 188v2M414 199v5M414 257v2M415 58v3M415 80v6M415 94v11M415 110v3M415 119v5M415 132v6M415 183v2M415 193v3M415 201v3M415 273v3M416 52v6M416 64v2M416 83v3M416 94v11M416 108v2M416 121v3M416 135v3M416 183v2M416 193v8M417 55v3M417 61v3M417 77v3M417 99v3M417 110v3M417 121v3M417 135v3M417 193v14M418 110v9M418 135v3M418 183v2M418 193v3M419 52v9M419 97v2M419 105v3M419 110v6M419 135v3M419 183v2M420 52v3M420 97v8M420 135v3M420 183v2M420 262v3M420 268v2M421 52v3M421 61v3M421 99v6M421 108v2M421 116v8M421 183v2M421 196v8M422 55v9M422 108v5M422 116v8M422 183v2M422 193v6M422 204v3M422 265v5M423 55v9M423 99v3M423 105v5M423 113v3M423 119v2M423 183v2M423 204v8M423 268v2M424 55v9M424 116v3M424 121v3M424 135v3M424 183v2M424 196v5M425 55v6M425 77v3M425 108v8M425 119v5M425 135v3M425 196v5M425 262v8M426 55v6M426 77v3M426 91v3M426 99v3M426 108v2M426 116v3M426 135v3M426 183v2M426 193v3M426 276v8M426 287v3M427 105v5M427 121v3M427 183v2M427 188v11M427 204v3M428 99v11M428 113v11M428 135v3M428 270v6M429 108v5M429 119v2M429 193v3M429 201v6M430 52v6M430 61v3M430 97v2M430 102v3M430 108v5M430 119v2M430 199v8M430 281v3M431 52v6M431 61v3M431 99v6M431 108v13M431 144v5M431 155v2M431 193v3M431 257v5M431 276v3M432 55v3M432 61v3M432 99v6M432 108v5M432 116v8M432 135v3M432 149v3M432 157v6M432 171v3M432 183v2M432 196v8M432 268v11M432 281v3M432 287v11M433 58v6M433 105v3M433 110v6M433 135v3M433 168v3M433 174v3M433 183v2M433 188v2M433 199v2M434 52v6M434 105v5M434 119v5M434 183v2M434 193v11M434 290v2M435 52v3M435 102v8M435 113v6M435 138v3M435 144v2M436 52v3M436 102v6M436 119v5M436 138v3M436 188v2M436 281v3M437 97v2M437 105v19M437 141v3M437 183v2M437 193v3M437 204v6M438 52v3M438 102v8M438 116v3M438 121v3M438 135v3M438 141v3M438 155v8M438 166v2M438 174v3M438 193v3M438 199v8M438 276v3M438 281v3M439 108v8M439 121v3M439 135v3M439 157v6M439 168v3M439 183v2M439 196v5M440 52v6M440 105v11M440 135v3M440 144v2M440 168v3M440 183v2M440 193v14M441 52v6M441 105v3M441 113v11M441 135v3M441 279v5M441 298v3M442 52v6M442 102v8M442 113v8M442 196v8M443 55v3M443 99v9M443 110v6M443 119v2M443 135v3M443 196v11M443 290v13M444 55v9M444 99v9M444 110v3M444 116v3M444 183v2M444 193v3M445 55v6M445 91v3M445 99v3M445 105v8M445 116v5M445 135v3M445 196v11M446 91v3M446 105v3M446 110v3M446 116v8M446 183v2M446 196v14M447 58v3M447 83v3M447 113v3M447 119v2M447 144v2M447 193v3M447 199v2M447 270v6M448 55v3M448 94v3M448 108v2M448 119v2M448 183v2M448 196v11M449 61v3M449 94v3M449 105v11M449 119v5M449 135v3M449 183v2M449 196v8M449 273v3M450 55v9M450 108v2M450 116v8M450 135v3M450 183v2M450 193v14M451 55v3M451 102v3M451 108v2M451 113v3M451 121v3M451 135v3M451 196v8M452 52v3M452 58v3M452 94v3M452 108v2M452 113v8M452 130v2M452 135v3M452 183v2M453 52v3M453 58v3M453 105v5M453 196v3M454 52v3M454 58v6M454 108v5M454 119v5M454 183v2M454 193v3M455 61v3M455 102v3M455 108v5M455 116v3M455 135v3M455 144v2M455 183v2M455 193v3M455 199v5M456 61v3M456 116v5M456 135v3M456 183v2M456 193v3M456 276v3M457 61v3M457 108v2M457 121v3M457 135v3M457 196v8M458 58v6M458 110v9M458 121v3M458 183v2M458 196v3M458 204v6M459 58v6M459 108v8M459 119v5M459 135v3M459 183v2M460 55v3M460 61v3M460 110v11M460 135v3M460 196v5M461 52v9M461 64v2M461 102v3M461 113v11M461 135v3M461 196v5M461 204v3M462 61v3M462 110v6M462 135v3M462 183v2M463 55v9M463 110v3M463 183v2M463 193v8M464 58v6M464 99v3M464 105v3M464 113v6M464 121v3M464 135v3M464 183v2M464 196v3M464 201v3M465 58v6M465 116v3M465 121v3M465 135v3M465 193v3M466 55v3M466 61v3M466 110v14M466 183v2M467 61v3M467 66v3M467 108v8M467 135v3M467 196v3M468 58v11M468 105v3M468 110v9M468 121v3M468 135v3M468 183v2M468 193v3M469 55v6M469 64v5M469 110v9M469 135v3M470 52v3M470 61v8M470 108v16M470 135v3M470 183v2M470 196v3M471 58v11M471 102v14M471 119v2M471 135v3M471 193v3M472 55v3M472 61v3M472 66v3M472 105v8M472 119v2M472 135v3M472 183v2M473 64v8M473 94v3M473 108v11M473 121v3M473 135v3M473 196v3M474 58v6M474 66v3M474 110v6M474 119v2M474 135v3M475 61v8M475 91v3M475 110v3M475 116v3M475 121v3M475 183v2M475 196v8M476 52v14M476 108v2M476 113v11M476 135v3M476 183v2M477 61v8M477 102v6M477 113v8M477 183v2M478 52v3M478 58v3M478 64v11M478 108v13M478 135v3M478 183v2M479 58v3M479 64v11M479 108v2M479 113v3M479 119v2M479 135v3M480 58v3M480 64v5M480 72v3M480 102v3M480 108v5M480 119v5M480 135v3M480 183v2M481 58v11M481 105v19M481 135v3M482 58v8M482 99v6M482 108v2M482 113v6M482 121v3M482 132v6M483 61v8M483 108v2M483 119v5M483 135v3M483 183v2M483 196v3M484 58v11M484 108v5M484 119v5M484 135v3M484 183v2M485 58v11M485 105v3M485 110v3M485 135v3M485 196v3M486 61v11M486 105v3M486 110v3M486 183v2M486 193v3M487 52v3M487 58v11M487 102v22M488 61v8M488 110v6M488 119v2M488 135v3M488 183v2M489 58v11M489 80v3M489 97v2M489 110v6M489 119v2M489 135v3M490 52v3M490 58v14M490 102v8M490 113v8M490 135v3M491 52v3M491 58v11M491 77v3M491 83v3M491 97v8M491 108v8M491 135v3M492 58v17M492 80v3M492 86v2M492 97v2M492 105v5M492 119v2M492 135v3M492 183v2M493 61v22M493 88v9M493 105v11M493 119v5M493 135v3M493 183v2M493 196v3M494 58v44M494 110v9M494 135v3M495 61v47M495 113v3M495 119v2M495 135v3M495 183v2M496 58v41M496 102v8M496 113v6M496 183v2M496 196v5M497 55v44M497 102v3M497 110v14M497 135v3M497 183v2M498 58v44M498 105v5M498 135v3M498 183v2M499 58v41M499 102v3M499 108v8M499 119v5M499 135v3M499 141v5M499 196v5M500 58v50M500 116v3M500 135v3M501 58v44M501 105v3M501 110v6M501 135v3M502 52v6M502 61v30M502 94v3M502 102v8M502 121v3M502 135v3M502 196v3M503 61v30M503 94v16M503 113v3M503 119v5M503 190v6M504 52v6M504 61v19M504 83v16M504 102v11M504 116v3M504 135v3M504 188v5M505 61v5M505 69v33M505 116v3M505 193v3M506 58v61M506 121v3M506 135v3M506 183v2M506 196v3M507 52v3M507 61v38M507 102v3M507 108v2M507 116v8M507 135v3M507 188v2M508 58v47M508 121v3M508 135v6M509 52v6M509 61v38M509 102v3M509 116v8M509 135v3M509 141v8M509 183v2M509 193v3M510 52v3M510 61v44M510 108v8M510 119v5M510 135v3M510 196v3M511 55v6M511 86v16M511 105v3M511 113v3M511 119v2M512 55v3M512 83v19M512 108v2M512 135v3M513 55v3M513 88v14M513 108v11M513 121v3M513 182v1M513 185v3M514 86v13M514 102v3M514 108v5M514 121v3M514 135v3M514 185v3M514 196v8M515 52v3M515 86v16M515 105v19M515 135v3M516 52v3M516 86v19M516 108v2M516 113v3M516 119v2M516 135v3M516 144v11M516 163v3M516 174v3M517 52v3M517 86v19M517 108v2M517 113v6M517 138v6M517 149v3M517 155v5M517 177v2M518 52v3M518 91v19M518 113v3M518 121v3M518 135v3M518 141v8M518 152v5M518 166v2M519 52v3M519 91v6M519 102v6M519 121v3M519 135v3M519 179v4M519 193v3M520 52v3M520 94v5M520 110v9M520 121v3M520 135v3M520 182v1M520 185v8M521 52v3M521 94v8M521 105v5M521 121v3M521 135v3M521 185v3M521 193v3M522 99v9M522 116v8M523 94v16M523 113v8M523 135v3M523 183v2M523 193v3M524 97v2M524 102v11M524 116v5M524 135v3M524 183v2M525 105v5M525 113v11M525 135v3M526 52v3M526 97v2M526 102v11M526 116v8M526 135v3M526 196v3M527 55v3M527 102v3M527 116v5M527 183v2M528 55v3M528 102v11M528 119v2M528 135v3M528 183v2M528 196v3M529 52v3M529 97v11M529 119v5M529 183v2M530 52v6M530 102v6M530 113v3M530 121v3M530 135v3M530 183v2M530 196v3M531 52v3M531 99v6M531 108v8M531 119v2M531 135v3M531 168v3M532 52v3M532 58v3M532 99v6M532 110v6M532 183v2M532 196v3M533 102v8M533 113v3M533 121v3M533 135v3M533 196v3M534 99v3M534 108v2M534 113v11M534 135v3M535 55v3M535 97v2M535 102v6M535 110v3M535 119v5M535 135v3M536 55v3M536 61v3M536 97v8M536 108v8M536 135v3M536 193v3M537 52v3M537 61v3M537 99v3M537 121v3M537 135v3M537 188v2M537 193v3M538 102v22M538 193v3M539 105v14M539 121v3M539 135v3M540 55v3M540 110v11M540 188v2M540 193v3M541 58v3M541 108v8M541 119v5M541 135v3M541 188v2M542 52v3M542 99v11M542 113v11M542 135v3M542 188v2M542 193v3M543 55v3M543 99v6M543 108v8M543 188v2M543 193v3M544 55v6M544 108v5M544 135v3M544 182v1M544 188v2M544 215v3M545 52v3M545 58v6M545 108v5M545 116v5M545 135v3M545 183v2M545 193v3M546 52v3M546 110v6M546 121v3M546 135v3M546 188v2M546 193v3M547 55v3M547 61v3M547 108v16M547 135v3M547 182v1M547 185v3M547 193v3M548 58v3M548 105v8M548 182v1M548 185v3M548 190v3M549 58v3M549 102v6M549 116v5M549 135v3M549 182v1M549 185v5M549 193v3M550 55v3M550 61v3M550 105v5M550 113v8M550 135v3M550 182v1M550 185v3M550 190v3M551 61v3M551 105v5M551 113v6M551 135v3M551 182v1M551 185v3M552 55v3M552 99v14M552 135v3M552 185v3M552 190v3M553 52v3M553 58v6M553 105v3M553 110v3M553 119v5M553 135v3M553 179v3M553 185v3M554 61v3M554 66v3M554 105v3M554 116v3M554 121v3M555 52v6M555 61v3M555 102v3M555 108v5M555 119v2M555 182v1M555 188v2M556 58v6M556 105v19M556 135v3M556 193v3M556 215v6M557 55v9M557 105v3M557 113v11M557 135v3M557 177v5M558 55v9M558 105v3M558 113v3M558 119v5M558 135v3M558 185v3M558 196v3M559 55v3M559 61v3M559 110v3M559 135v3M559 177v5M559 212v3M560 52v3M560 61v5M560 119v5M560 135v3M560 182v1M560 190v3M561 52v3M561 58v6M561 113v6M561 182v1M562 55v3M562 108v8M562 121v3M562 135v3M562 179v3M562 212v6M563 55v9M563 99v9M563 110v9M563 135v3M563 182v1M564 55v6M564 102v22M564 135v3M564 185v5M564 193v3M565 52v6M565 61v5M565 110v3M565 119v5M565 135v3M565 179v4M565 185v3M566 52v12M566 105v5M566 116v8M566 182v1M566 185v8M567 52v3M567 110v11M567 132v3M567 201v3M567 210v2M567 215v3M568 52v3M568 108v2M568 113v3M568 190v6M568 215v6M569 55v3M569 105v8M569 119v5M569 135v3M569 179v3M570 52v3M570 58v3M570 102v8M570 127v3M570 135v3M570 179v3M570 196v5M571 55v3M571 108v8M571 119v5M571 179v3M571 188v2M571 193v3M572 52v6M572 110v6M572 119v2M572 135v3M572 179v3M572 190v3M572 210v8M573 52v3M573 110v6M573 119v5M573 135v3M573 177v5M574 52v3M574 113v3M574 121v3M574 177v5M574 210v5M575 121v3M575 135v3M575 223v6M576 108v2M576 116v3M576 182v1M576 188v2M576 218v3M577 108v2M577 119v2M577 135v3M577 177v2M577 193v3M578 52v3M578 116v3M578 121v3M578 135v3M578 179v4M578 185v3M578 204v3M578 221v8M579 108v8M579 119v2M579 135v3M579 212v3M579 221v5M580 52v3M580 119v2M580 177v2M581 119v2M581 135v3M581 199v2M582 52v3M582 113v3M582 177v2M582 201v3M582 207v3M583 52v3M583 110v6M583 207v5M583 223v6M584 52v3M584 116v8M584 135v3M584 182v1M584 185v3M584 190v3M584 218v3M585 52v3M585 119v2M585 207v3M585 221v2M586 52v3M586 113v6M586 121v3M586 135v3M586 196v5M586 207v5M586 215v3M587 116v8M587 135v3M587 144v2M587 179v3M588 110v3M588 116v3M588 121v3M588 135v3M588 210v2M589 55v3M589 105v5M589 116v8M589 135v3M589 185v5M589 204v3M589 215v3M589 223v6M589 235v2M590 52v3M590 110v3M590 116v8M590 179v3M590 204v3M591 55v3M591 110v14M591 183v2M592 52v3M592 102v3M592 110v6M592 135v3M592 179v3M592 204v3M592 212v3M592 218v3M592 223v3M593 99v6M593 108v8M593 119v2M593 135v3M593 182v1M593 185v3M593 190v3M593 226v3M594 52v3M594 113v3M594 119v2M594 135v3M594 182v1M594 207v3M594 218v3M595 52v6M595 105v5M595 116v8M595 135v3M595 179v3M595 193v3M595 221v2M595 226v3M596 102v6M596 113v3M596 135v3M596 207v3M597 55v6M597 69v3M597 102v3M597 110v3M597 135v3M597 177v2M597 193v6M597 215v3M598 58v19M598 94v3M598 108v2M598 135v3M598 179v3M598 201v3M598 210v5M599 55v9M599 66v9M599 119v5M599 135v3M599 144v2M599 179v3M599 185v8M599 218v3M599 223v3M600 58v6M600 75v2M600 102v6M600 110v3M600 119v2M600 135v3M600 177v5M601 58v6M601 66v3M601 99v9M601 110v3M601 135v3M601 201v3M601 223v3M601 229v8M602 52v6M602 61v3M602 66v3M602 119v2M602 196v5M602 223v3M603 52v9M603 102v8M603 113v8M603 135v3M603 182v1M603 193v6M603 223v3M603 229v3M604 58v3M604 99v3M604 108v5M604 116v3M604 135v3M604 193v3M604 218v5M605 55v3M605 105v5M605 119v5M605 135v3M605 229v3M606 55v9M606 102v6M606 116v3M606 135v3M606 182v1M606 185v3M606 193v3M607 58v6M607 99v9M607 119v2M607 135v3M607 179v3M607 199v2M607 221v8M608 55v9M608 99v3M608 105v3M608 113v3M608 119v5M608 135v3M608 182v1M608 199v2M608 210v5M609 61v3M609 105v8M609 201v3M609 223v6M609 237v3M610 58v6M610 105v3M610 113v3M610 121v3M610 177v2M610 182v1M610 185v3M610 201v3M610 210v5M610 218v3M610 223v3M611 52v3M611 58v6M611 102v3M611 108v2M611 113v3M611 135v3M611 179v4M611 199v2M611 223v6M612 58v6M612 94v3M612 102v6M612 119v2M612 179v3M612 196v3M612 207v5M612 215v3M612 226v3M612 232v3M613 52v3M613 58v6M613 102v17M613 121v3M613 135v3M613 183v2M613 190v6M613 199v2M613 215v3M614 58v8M614 102v6M614 116v5M614 193v14M614 212v3M614 218v3M615 52v3M615 61v3M615 102v3M615 108v5M615 119v5M615 135v3M615 177v5M615 185v3M615 190v3M615 221v5M616 99v17M616 119v2M616 135v3M616 177v5M616 188v5M616 196v3M616 229v3M617 52v9M617 91v3M617 97v2M617 102v14M617 119v2M617 135v3M617 182v1M617 185v3M617 190v6M617 201v3M617 226v3M617 237v3M618 52v3M618 58v3M618 72v3M618 94v3M618 99v11M618 113v3M618 121v3M618 135v3M618 182v1M618 185v3M618 190v6M618 199v2M619 91v6M619 99v6M619 108v2M619 113v6M619 121v3M619 190v9M620 52v3M620 91v6M620 102v8M620 113v6M620 121v3M620 135v3M620 144v2M620 190v3M620 210v2M620 218v8M621 83v19M621 105v14M621 135v3M621 182v1M621 185v3M621 193v3M621 207v3M621 226v9M622 52v6M622 72v30M622 105v3M622 110v14M622 135v3M622 182v1M622 188v2M622 193v3M622 199v2M622 221v2M623 83v19M623 105v14M623 135v3M623 207v3M623 226v6M624 83v19M624 105v14M624 135v3M624 207v3M624 226v6M625 83v19M625 105v14M625 135v3M625 207v3M625 226v6M626 83v19M626 105v14M626 135v3M626 207v3M626 226v6M627 83v19M627 105v14M627 135v3M627 207v3M627 226v6M628 83v19M628 105v14M628 135v3M628 207v3M628 226v6M629 83v19M629 105v14M629 135v3M629 207v3M629 226v6"/>
<path stroke="#0040ff" d="M284 52v3M284 72v3M284 113v3M285 72v3M285 113v3M286 105v3M286 183v2M287 72v3M287 108v2M287 119v2M287 183v2M288 69v6M288 108v2M289 72v3M289 99v3M289 113v3M289 183v2M290 94v3M290 99v3M290 108v2M290 121v3M290 183v2M291 55v3M291 61v3M291 69v3M291 83v3M291 99v3M291 105v3M292 69v3M293 64v2M293 69v8M293 88v6M293 102v8M293 183v2M294 64v2M294 69v8M294 108v2M294 183v2M295 66v6M295 80v3M295 105v5M296 66v6M296 102v6M296 183v2M297 69v3M297 105v5M298 64v2M298 292v3M299 55v3M299 64v5M299 183v2M299 268v2M299 273v3M299 281v6M299 301v2M300 58v3M300 69v6M300 110v3M301 52v3M301 72v3M301 110v6M301 240v3M301 246v2M301 276v8M301 303v3M302 69v3M302 262v11M302 276v5M302 298v5M303 58v3M303 69v6M303 86v2M303 284v6M303 298v3M304 55v6M304 64v2M304 105v3M304 295v3M304 301v2M305 61v5M305 69v3M305 108v2M305 121v3M305 281v6M305 290v2M305 301v5M306 61v3M306 69v3M306 88v6M306 99v9M306 121v3M306 279v5M306 292v6M307 61v3M307 102v3M307 110v3M307 290v2M307 298v5M308 64v2M308 110v3M308 259v3M308 284v3M308 295v6M308 303v3M309 64v2M309 99v3M309 119v5M309 183v2M310 64v2M310 99v3M310 105v3M310 121v3M310 183v2M310 273v8M310 284v3M310 290v5M310 298v3M310 303v3M311 64v2M311 102v6M311 246v5M311 262v3M311 273v6M311 284v3M311 301v5M312 61v5M312 80v3M312 105v3M312 183v2M312 251v3M312 273v3M312 290v2M313 99v3M313 105v14M313 121v3M313 257v2M313 273v3M313 279v5M313 287v3M314 58v6M314 77v3M314 86v2M314 91v3M314 108v2M314 183v2M314 270v9M314 287v3M315 61v3M315 94v3M315 105v11M315 273v11M315 301v5M316 61v3M316 108v2M316 113v3M316 183v2M316 284v6M316 295v8M317 52v3M317 61v5M317 113v3M317 254v5M317 284v3M317 295v3M317 301v5M318 61v3M318 66v3M318 113v3M318 183v2M318 257v2M318 273v3M318 279v2M318 284v3M318 295v3M319 58v3M319 102v8M319 119v2M319 279v8M319 290v8M319 303v3M320 58v3M320 105v3M320 183v2M320 295v11M321 102v6M321 248v6M322 119v5M322 265v3M322 276v8M322 290v2M323 66v3M323 105v3M323 183v2M323 243v5M323 270v3M323 281v3M323 290v5M323 301v2M324 105v3M324 110v3M324 259v3M324 268v2M324 273v3M324 287v5M324 295v11M325 52v3M325 58v3M325 102v6M325 110v3M325 262v11M325 276v3M325 284v3M325 290v2M325 295v6M326 105v8M326 183v2M326 248v6M327 52v3M327 58v6M327 108v2M327 113v3M327 183v2M327 246v5M327 254v5M327 284v3M327 295v8M328 55v3M328 97v2M328 105v3M328 110v9M328 121v3M328 254v5M328 295v11M329 55v3M329 72v3M329 94v3M329 99v6M329 110v3M329 257v5M329 265v11M329 287v5M329 295v8M330 102v8M330 292v14M331 55v3M331 64v2M331 72v3M331 99v3M331 105v8M331 270v3M332 64v2M332 99v3M332 290v11M332 303v3M333 52v3M333 97v5M333 105v11M333 183v2M333 287v14M334 55v6M334 94v11M334 108v2M334 113v3M334 183v2M334 284v22M335 55v3M335 72v3M335 86v2M335 97v5M335 110v3M335 284v6M335 292v6M335 301v2M336 58v3M336 94v5M336 105v3M336 243v3M336 248v3M336 298v5M337 94v3M337 102v3M337 281v3M337 287v5M338 52v3M338 105v3M338 284v3M338 290v2M338 295v11M339 55v3M339 99v3M339 121v3M339 303v3M340 99v3M340 121v3M340 265v5M340 276v3M340 295v3M341 55v3M341 61v3M341 99v3M341 105v3M341 276v5M341 287v3M341 292v3M341 303v3M342 105v3M342 113v3M342 183v2M342 284v14M342 301v5M343 99v3M343 113v3M343 259v17M343 287v3M343 298v5M344 97v2M344 105v5M344 240v3M344 248v3M344 287v3M344 303v3M345 64v2M345 75v2M345 102v6M345 110v3M345 276v3M345 281v17M345 303v3M346 52v6M346 61v3M346 88v3M346 99v3M346 105v3M346 116v3M346 251v3M346 281v9M346 292v3M347 58v3M347 72v3M347 86v2M347 91v3M347 268v2M347 298v8M348 75v2M348 97v2M348 102v6M348 110v11M348 183v2M348 287v5M349 64v2M349 72v3M349 94v3M349 99v3M349 105v3M349 259v3M349 265v3M349 270v3M349 298v5M350 97v5M350 110v3M350 119v5M350 246v2M350 270v6M350 279v16M350 303v3M351 64v2M351 91v3M351 102v6M351 284v14M351 301v2M352 55v3M352 64v2M352 97v5M352 105v5M352 113v3M352 119v5M352 246v19M352 270v3M352 301v2M353 66v3M353 94v3M353 99v3M353 108v2M353 292v3M354 58v3M354 64v2M354 97v5M354 183v2M354 246v2M354 265v3M354 284v3M354 298v3M355 58v3M355 94v3M355 99v6M355 108v5M355 279v5M355 287v3M355 292v14M356 94v3M356 102v3M356 116v3M356 121v3M356 290v2M356 295v6M357 55v6M357 64v2M357 183v2M357 303v3M358 52v3M358 64v2M358 119v2M358 183v2M358 259v3M358 279v11M358 292v3M358 301v5M359 94v5M359 183v2M359 290v2M359 298v8M360 61v3M360 75v5M360 97v2M360 183v2M360 273v22M360 298v8M361 52v6M361 97v5M361 155v2M361 257v2M361 268v8M361 279v11M362 94v8M362 144v2M362 157v3M362 240v8M362 251v8M362 284v3M362 301v5M363 64v2M363 97v5M363 105v11M363 152v3M363 248v3M363 262v19M363 292v3M363 303v3M364 102v3M364 108v2M364 183v2M364 251v3M364 257v2M364 292v6M364 303v3M365 55v6M365 105v5M365 235v5M365 246v2M365 251v3M365 279v2M365 303v3M366 55v3M366 61v3M366 94v3M366 99v3M366 105v5M366 226v6M366 246v2M366 251v3M366 281v3M367 72v3M367 83v3M367 121v3M367 183v2M367 232v3M367 240v3M367 248v3M367 290v5M367 303v3M368 108v2M368 121v3M368 226v6M368 251v6M368 259v6M368 268v2M368 273v3M368 295v6M368 303v3M369 55v3M369 91v3M369 99v6M369 121v3M369 183v2M369 237v6M369 254v11M369 270v11M369 284v11M370 91v3M370 102v3M370 108v2M370 146v3M370 152v3M370 240v3M370 246v2M370 251v3M370 270v3M370 287v5M370 301v5M371 55v3M371 88v17M371 240v6M371 276v5M371 287v3M371 301v2M372 55v3M372 94v8M372 113v3M372 229v3M372 235v8M372 254v5M372 284v3M372 298v5M373 121v3M373 183v2M373 210v5M373 226v6M373 235v5M373 259v6M373 273v6M373 281v6M373 290v2M373 298v3M374 52v3M374 58v3M374 97v2M374 102v3M374 113v3M374 183v2M374 199v5M374 221v16M374 248v20M374 284v3M374 290v5M375 52v3M375 64v2M375 88v3M375 102v3M375 110v6M375 229v3M375 240v11M375 257v2M375 265v8M375 287v3M376 52v3M376 69v3M376 88v3M376 99v3M376 183v2M376 223v6M376 237v3M376 246v2M376 251v3M377 61v3M377 88v3M377 207v5M377 221v5M377 237v3M377 246v2M377 276v8M377 287v8M377 303v3M378 97v5M378 108v5M378 116v3M378 196v14M378 212v3M378 218v8M378 232v11M379 94v3M379 102v6M379 116v3M379 121v3M379 183v2M379 229v3M379 257v2M379 273v6M379 287v3M379 292v11M380 88v3M380 94v3M380 105v3M380 183v2M380 259v9M380 276v5M380 284v6M380 292v3M380 298v8M381 61v3M381 66v3M381 94v3M381 102v3M381 119v2M381 243v3M381 290v5M382 52v3M382 61v3M382 66v3M382 108v2M382 121v3M382 183v2M382 240v11M382 262v6M382 279v13M382 295v3M383 64v2M383 83v3M383 97v2M383 110v6M383 121v3M383 226v9M383 257v5M383 268v2M383 273v3M383 279v5M383 287v3M384 55v3M384 66v6M384 91v3M384 99v6M384 113v3M384 199v5M384 226v14M384 248v6M384 270v11M385 61v3M385 102v3M385 226v9M385 240v3M385 248v6M385 259v14M385 279v5M385 301v2M386 58v3M386 97v2M386 183v2M386 210v8M386 221v2M386 240v6M386 248v17M386 268v2M387 97v5M387 105v3M387 116v8M387 183v2M387 204v3M387 248v11M387 268v2M387 279v2M388 94v3M388 105v5M388 113v3M388 183v2M388 223v12M388 240v3M388 257v5M388 268v5M388 279v2M388 290v5M389 94v3M389 105v3M389 199v5M389 215v3M389 221v5M389 235v2M389 243v8M389 257v2M389 262v3M389 292v9M390 52v6M390 64v2M390 94v5M390 183v2M390 212v3M390 240v11M390 257v2M390 268v2M390 298v3M391 55v3M391 69v3M391 77v3M391 94v3M391 99v3M391 204v3M392 58v3M392 64v2M392 97v2M392 105v3M392 121v3M392 218v3M392 246v8M392 270v3M393 75v5M393 119v2M393 212v6M393 246v5M393 257v2M393 262v6M393 270v3M393 276v14M394 61v3M394 75v2M394 99v6M394 210v2M395 64v2M395 99v3M395 105v3M395 183v2M395 196v3M395 215v3M395 243v3M395 248v3M396 55v3M396 66v6M396 196v3M396 207v3M396 215v3M396 295v3M396 301v2M397 58v3M397 66v3M397 97v11M397 110v6M397 183v2M397 218v3M397 237v6M397 290v2M398 94v3M398 99v11M398 113v3M398 119v2M398 204v8M398 240v6M398 257v2M398 262v3M399 61v3M399 102v3M399 207v3M399 254v11M399 268v8M399 281v3M400 58v6M400 72v3M400 77v3M400 108v2M400 183v2M400 218v3M400 243v5M400 251v6M400 268v5M400 290v2M401 58v3M401 102v3M401 210v2M401 243v3M401 248v11M401 270v3M402 55v3M402 99v6M402 183v2M402 210v2M402 246v2M402 251v6M402 270v9M403 94v3M403 113v3M403 212v3M403 218v3M403 246v2M403 251v3M403 259v3M403 279v2M403 287v5M403 295v3M404 55v3M404 97v2M404 199v2M404 215v3M404 254v3M405 88v3M405 105v3M405 110v3M405 183v2M405 199v2M405 207v3M406 55v3M406 83v11M406 108v5M406 116v3M406 144v5M406 183v2M406 193v3M406 215v3M406 248v6M407 52v3M407 61v3M407 86v2M407 91v3M407 144v2M407 168v3M407 183v2M407 199v5M407 215v3M407 240v8M407 257v2M408 55v3M408 77v3M408 83v8M408 99v6M408 215v3M408 254v3M408 279v8M409 52v3M409 83v5M409 204v3M409 210v8M409 246v2M409 251v3M409 268v5M409 279v5M410 58v3M410 64v5M410 88v6M410 110v3M410 183v2M410 193v8M410 204v6M411 72v5M411 88v3M411 199v2M411 207v3M411 281v6M412 52v6M412 64v2M412 75v2M412 86v2M412 196v16M412 246v2M412 251v3M412 257v2M413 55v3M413 61v3M413 75v2M413 83v5M413 183v2M413 196v8M413 262v3M414 52v3M414 80v3M414 86v5M414 110v6M414 183v2M414 193v6M414 204v3M414 251v6M414 259v14M415 52v3M415 61v8M415 75v5M415 86v2M415 91v3M415 105v3M415 196v5M415 204v3M415 276v3M416 61v3M416 91v3M416 105v3M416 110v3M416 201v6M416 246v5M417 64v2M417 72v5M417 94v5M417 102v8M417 183v2M417 207v3M418 55v6M418 94v8M418 108v2M418 196v3M419 75v2M419 94v3M419 99v6M419 108v2M419 119v5M419 193v11M420 58v3M420 105v3M420 116v3M420 201v3M420 259v3M420 265v3M420 270v9M420 295v6M421 55v6M421 91v3M421 97v2M421 110v6M421 204v3M421 254v5M421 262v6M421 284v6M422 52v3M422 69v3M422 86v2M422 105v3M422 113v3M422 199v5M422 207v3M422 262v3M422 270v6M422 295v3M423 52v3M423 64v2M423 72v3M423 97v2M423 102v3M423 121v3M423 196v8M423 212v3M423 251v8M423 262v6M423 270v3M424 77v3M424 102v8M424 201v3M424 290v2M425 61v3M425 91v3M425 105v3M425 183v2M425 201v3M425 248v6M425 270v6M426 75v2M426 97v2M426 105v3M426 262v3M426 268v8M426 284v3M427 55v3M427 88v3M427 97v2M427 102v3M427 110v6M427 199v5M427 207v5M427 273v6M428 55v6M428 86v2M428 91v3M428 97v2M428 110v3M428 183v2M428 193v3M428 201v3M428 265v5M428 276v3M428 295v6M429 91v3M429 102v6M429 183v2M429 199v2M429 207v3M429 257v2M430 58v3M430 91v3M430 99v3M430 105v3M430 121v3M430 183v2M430 196v3M430 207v3M430 279v2M430 284v6M431 58v3M431 80v3M431 105v3M431 152v3M431 183v2M431 196v3M431 204v6M431 254v3M431 262v3M431 268v8M431 279v2M431 284v3M432 52v3M432 80v3M432 86v2M432 105v3M432 144v2M432 155v2M432 163v3M432 174v3M432 204v6M432 254v14M432 279v2M432 284v3M432 298v8M433 52v3M433 88v3M433 157v3M433 193v6M433 201v3M433 270v3M433 284v3M434 58v8M434 102v3M434 146v3M434 168v3M434 174v3M434 204v3M434 262v3M434 284v6M434 292v6M434 303v3M435 97v5M435 183v2M435 273v3M435 279v8M436 91v3M436 97v5M436 108v2M436 116v3M436 183v2M436 193v3M436 262v3M436 273v8M436 284v6M436 292v3M436 301v2M437 80v3M437 99v6M437 149v3M437 174v3M437 196v8M437 254v3M437 303v3M438 91v3M438 99v3M438 183v2M438 196v3M438 279v2M438 290v5M439 91v3M439 97v11M439 201v6M439 257v5M439 265v3M439 270v14M439 287v3M440 91v3M440 99v6M440 207v3M440 276v3M440 284v14M440 301v5M441 72v5M441 102v3M441 183v2M441 196v8M441 284v8M441 295v3M441 301v5M442 86v2M442 183v2M442 204v3M442 279v2M442 284v11M443 58v6M443 83v5M443 97v2M443 183v2M443 207v3M443 259v3M443 268v5M443 281v9M443 303v3M444 64v2M444 72v3M444 83v3M444 91v3M444 97v2M444 108v2M444 113v3M444 119v5M444 196v11M444 259v3M444 295v11M445 61v3M445 69v3M445 88v3M445 94v5M445 102v3M445 113v3M445 183v2M445 207v3M445 281v3M445 295v6M446 58v3M446 94v5M446 265v3M446 281v3M446 292v3M447 94v3M447 105v3M447 110v3M447 183v2M447 196v3M447 201v3M447 262v3M447 268v2M447 276v3M448 61v3M448 66v3M448 102v6M448 110v9M448 121v3M448 207v3M448 276v25M449 80v3M449 99v6M449 204v3M449 265v5M449 276v3M449 281v6M450 102v6M450 110v6M450 284v6M451 52v3M451 58v3M451 86v2M451 91v3M451 110v3M451 183v2M451 276v3M451 301v2M452 55v3M452 61v3M452 105v3M452 110v3M452 196v3M452 290v5M453 61v3M453 69v3M453 183v2M453 199v2M453 281v6M454 64v2M454 105v3M454 113v3M454 196v3M454 276v5M455 55v6M455 105v3M455 113v3M455 196v3M455 276v5M456 58v3M456 110v3M456 196v3M456 273v3M456 279v11M456 301v5M457 52v3M457 64v2M457 110v3M457 183v2M458 64v2M458 108v2M458 199v5M458 279v2M459 196v11M459 287v3M460 58v3M460 102v3M460 108v2M460 183v2M460 201v6M460 281v9M460 292v3M461 66v3M461 105v3M461 183v2M461 201v3M462 55v6M462 66v3M462 105v5M463 64v5M463 108v2M463 201v3M464 64v2M464 69v3M464 199v2M464 290v2M465 99v3M465 105v5M465 183v2M466 64v2M466 105v5M466 196v3M467 58v3M467 64v2M467 99v9M467 183v2M467 199v2M468 72v3M468 99v6M469 52v3M469 69v3M469 80v3M469 102v6M469 183v2M470 58v3M470 94v3M470 102v6M471 55v3M471 99v3M471 183v2M472 102v3M473 105v3M473 183v2M473 199v2M474 77v3M474 99v3M474 105v5M474 183v2M475 52v3M475 77v3M475 102v3M475 108v2M475 113v3M475 135v3M475 204v3M476 66v3M476 83v3M476 99v9M476 193v3M477 83v3M477 99v3M477 135v3M477 196v3M478 121v3M479 52v3M479 102v6M479 121v3M479 183v2M480 83v3M480 105v3M480 113v6M481 72v3M481 102v3M481 183v2M482 66v3M482 97v2M482 183v2M483 52v3M483 58v3M483 94v3M483 99v9M483 110v6M484 72v3M484 102v3M484 113v6M484 193v3M485 55v3M485 69v3M485 94v5M485 102v3M485 183v2M486 55v3M486 86v2M486 102v3M486 108v2M486 113v6M486 121v3M486 135v3M487 69v3M487 94v3M487 135v3M487 183v2M488 58v3M488 69v3M488 80v3M488 102v8M488 121v3M489 69v3M489 102v8M489 183v2M489 196v3M490 86v2M490 183v2M490 196v3M491 69v6M491 80v3M491 86v5M491 94v3M491 105v3M491 183v2M491 193v3M492 55v3M492 75v5M492 88v9M492 99v6M492 110v6M493 58v3M493 83v5M493 97v8M494 183v2M495 116v3M495 121v3M496 99v3M496 135v3M497 99v3M497 108v2M498 55v3M498 121v3M498 196v3M499 99v3M499 105v3M499 183v2M500 110v6M500 119v5M500 141v3M500 183v2M501 55v3M501 183v2M501 196v3M502 58v3M502 97v5M502 110v11M502 183v2M503 55v6M503 135v3M503 183v2M503 188v2M504 113v3M504 183v2M505 55v6M505 105v3M505 135v3M505 183v2M506 52v6M507 141v5M507 183v2M507 193v3M508 52v3M508 105v3M508 183v2M509 58v3M509 105v3M509 110v6M510 55v3M510 183v2M510 193v3M511 61v25M511 110v3M511 135v3M511 183v2M512 80v3M512 102v6M512 110v11M512 183v2M513 58v3M513 86v2M513 105v3M513 119v2M513 135v3M514 52v3M514 58v3M514 99v3M514 105v3M514 183v2M515 182v1M516 105v3M516 155v8M516 166v5M516 182v1M516 196v3M517 55v3M517 110v3M517 135v3M517 144v5M517 152v3M517 196v3M518 86v5M518 168v6M518 177v2M518 196v3M519 86v5M519 97v5M519 183v5M520 91v3M520 99v6M520 108v2M520 119v2M520 183v2M520 196v3M521 91v3M521 183v2M522 55v3M522 94v5M522 110v3M522 135v3M522 183v2M522 188v11M523 110v3M523 121v3M524 52v3M524 94v3M525 52v6M525 97v8M525 183v2M525 196v3M526 171v3M526 183v2M527 99v3M527 121v3M527 135v3M528 58v3M528 99v3M528 113v3M529 55v3M529 108v2M529 116v3M529 135v3M529 193v3M530 99v3M530 168v3M531 55v3M531 183v2M531 196v3M532 55v3M532 135v3M532 199v2M533 99v3M533 110v3M533 183v2M533 199v2M534 183v2M534 193v3M535 99v3M535 108v2M535 183v2M536 94v3M536 183v2M537 91v8M537 102v3M537 108v5M537 183v2M538 52v6M538 99v3M538 183v2M539 55v3M539 102v3M539 183v2M539 199v5M540 52v3M540 58v3M540 102v6M540 183v2M540 218v5M541 61v3M541 183v2M541 193v3M542 55v3M542 183v2M543 105v3M543 183v2M543 196v8M543 221v2M544 52v3M544 61v3M544 183v2M544 201v3M544 207v5M545 55v3M546 64v2M546 183v2M547 58v3M547 105v3M548 64v2M548 102v3M548 183v2M548 188v2M548 193v3M549 55v3M549 108v8M550 58v3M550 102v3M550 183v2M550 188v2M551 64v2M551 102v3M551 110v3M551 119v5M551 183v2M552 58v6M552 91v3M552 97v2M552 113v6M552 183v2M552 196v3M553 64v2M553 102v3M553 182v1M553 215v3M554 64v2M554 108v2M554 119v2M554 182v1M555 58v3M555 105v3M555 121v3M555 193v3M556 55v3M556 102v3M556 204v3M556 210v2M557 52v3M557 64v5M558 64v5M558 102v3M558 108v2M558 183v2M558 193v3M558 207v5M559 52v3M559 58v3M559 64v5M559 102v6M559 113v3M559 119v5M559 193v3M559 199v2M559 207v3M559 215v3M560 66v3M560 108v2M560 113v6M560 183v2M560 188v2M561 64v2M561 110v3M561 119v5M562 58v6M562 99v6M562 182v1M562 185v8M562 218v3M563 183v2M563 188v2M563 212v6M564 52v3M564 61v3M564 183v2M564 218v3M565 66v3M565 105v5M565 183v2M565 193v3M565 215v6M566 110v6M566 183v2M566 193v3M567 55v6M567 102v6M567 207v3M567 212v3M567 218v3M568 55v3M568 102v6M568 110v3M568 116v3M568 182v1M568 210v5M569 102v3M569 182v1M569 201v3M569 212v3M569 221v2M569 229v3M570 55v3M570 86v5M570 113v3M570 121v3M570 182v1M570 185v3M570 235v2M571 58v3M571 88v3M571 105v3M571 215v3M571 235v2M572 88v3M572 105v5M572 116v3M572 185v5M572 193v6M572 201v3M572 218v3M573 64v5M573 108v2M573 215v3M573 226v3M574 108v5M574 190v6M574 218v3M575 52v3M575 108v2M575 116v3M575 201v3M575 212v3M575 218v3M576 52v3M576 105v3M576 210v2M576 221v2M576 226v3M576 232v3M577 52v3M577 105v3M577 113v3M577 179v3M577 190v3M578 105v11M579 105v3M579 182v1M579 185v3M579 210v2M579 218v3M579 226v3M580 108v2M580 121v3M580 179v4M580 210v2M580 218v3M581 108v5M581 182v1M581 201v6M581 218v3M582 108v5M582 179v3M582 204v3M582 215v3M583 182v1M583 185v5M583 193v3M584 110v6M584 183v2M584 188v2M584 207v3M585 108v11M585 121v3M585 210v5M586 110v3M586 183v2M586 201v3M586 218v3M586 223v3M587 52v3M587 105v3M587 110v3M587 185v3M587 212v9M587 226v3M588 52v3M588 72v3M588 108v2M588 119v2M588 179v3M588 201v3M588 207v3M588 215v6M588 229v3M589 52v3M589 83v3M589 110v6M589 183v2M589 201v3M589 232v3M589 237v3M590 108v2M590 113v3M590 182v1M590 185v3M590 215v3M591 58v3M591 108v2M591 210v5M591 223v3M592 55v6M592 105v3M592 183v2M592 193v3M592 210v2M592 215v3M592 221v2M593 52v3M593 105v3M593 193v6M593 229v3M594 55v3M594 108v2M594 183v2M594 199v5M594 221v2M594 226v3M595 102v3M595 182v1M595 185v3M595 190v3M595 229v3M596 58v3M596 108v5M596 182v1M596 185v5M596 199v2M596 204v3M596 210v5M597 61v8M597 72v5M597 94v8M597 108v2M597 179v3M597 218v3M597 223v3M598 52v6M598 77v17M598 97v11M598 110v11M598 185v8M598 196v5M598 218v8M599 52v3M599 64v2M599 75v22M599 99v6M599 182v1M599 193v3M599 199v2M599 207v3M599 221v2M600 64v11M600 80v3M600 91v11M600 108v2M600 182v1M600 188v5M600 215v3M600 226v6M601 52v3M601 64v2M601 69v3M601 91v8M601 108v2M601 179v3M601 196v3M602 64v2M602 91v6M602 102v11M602 135v3M602 182v1M602 221v2M603 61v3M603 97v5M603 183v2M603 190v3M603 232v5M604 61v5M604 97v2M604 102v3M604 113v3M604 226v3M605 61v3M605 97v8M605 182v1M605 185v3M605 193v3M605 232v3M606 64v2M606 97v2M606 110v6M606 221v5M607 64v2M607 97v2M607 110v3M607 121v3M607 185v3M608 64v5M608 94v3M608 102v3M608 110v3M608 116v3M608 185v3M608 193v3M608 207v3M608 215v6M609 64v5M609 102v3M609 135v3M609 182v1M609 196v3M609 204v3M610 64v2M610 102v3M610 116v3M610 135v3M610 193v6M610 229v3M611 64v5M611 99v3M611 119v2M611 188v8M612 72v3M612 97v5M612 108v8M612 135v3M612 218v3M612 229v3M612 235v5M613 94v8M613 188v2M613 196v3M613 201v3M613 210v2M613 218v3M614 66v3M614 99v3M614 110v6M614 135v3M614 183v2M614 207v3M615 58v3M615 64v2M615 94v3M615 113v6M615 182v1M616 52v3M616 58v6M616 91v8M616 185v3M616 193v3M616 235v2M617 61v3M617 72v3M617 94v3M617 204v6M617 215v3M618 55v3M618 86v8M618 97v2M618 110v3M618 183v2M619 58v3M619 83v8M619 97v2M619 135v3M619 183v2M619 201v3M619 218v3M619 229v6M620 75v16M620 97v5M620 110v3M620 182v1M620 185v5M620 226v3M621 55v3M621 72v11M621 190v3M621 196v3M622 102v3M622 108v2M622 229v6M623 72v11M623 196v3M624 72v11M624 196v3M625 72v11M625 196v3M626 72v11M626 196v3M627 72v11M627 196v3M628 72v11M628 196v3M629 72v11M629 196v3"/>
<path stroke="#0071ff" d="M284 75v2M284 88v3M284 102v3M284 135v3M285 86v5M285 135v3M286 94v3M286 99v6M286 108v2M287 75v2M287 105v3M288 58v3M288 75v2M288 97v2M289 102v8M290 72v3M290 80v3M290 102v6M292 72v3M292 83v5M292 105v3M293 83v3M295 72v3M296 72v3M296 86v2M296 99v3M297 55v3M297 72v3M297 91v3M298 72v5M298 287v5M299 69v6M300 75v2M301 102v6M301 284v3M301 298v5M302 72v3M302 88v3M302 303v3M303 55v3M303 97v2M303 251v3M303 290v2M303 301v5M304 66v3M304 72v3M304 298v3M305 55v3M305 287v3M305 292v9M306 298v5M307 75v2M307 91v3M307 99v3M307 303v3M308 66v3M308 91v3M308 102v3M308 290v5M308 301v2M309 66v3M309 94v3M309 102v3M309 135v3M310 97v2M310 102v3M310 270v3M310 287v3M311 55v3M311 66v3M311 99v3M311 265v3M311 279v5M312 58v3M312 94v3M312 99v3M312 254v5M312 262v3M312 287v3M313 55v3M313 97v2M313 276v3M313 301v2M314 52v3M314 64v2M314 99v3M314 257v2M314 279v8M314 290v5M314 301v5M315 91v3M315 102v3M315 246v2M315 284v3M315 298v3M316 94v3M316 102v6M316 257v5M316 265v3M317 66v3M317 75v2M317 83v5M317 99v11M317 290v5M318 58v3M318 64v2M318 86v2M318 94v3M318 99v3M318 105v3M318 276v3M319 99v3M320 75v2M320 94v3M321 58v3M322 61v3M322 66v3M322 97v2M322 102v6M322 292v9M323 58v3M323 94v3M323 99v6M323 259v3M323 279v2M323 284v3M323 295v6M324 55v3M324 276v3M325 61v3M325 301v5M326 52v3M326 58v6M326 77v3M326 246v2M327 69v3M327 88v3M327 102v3M328 58v3M328 91v3M328 99v6M328 259v3M328 290v5M329 69v3M329 262v3M330 58v3M330 64v2M330 97v2M330 270v3M331 97v2M331 113v3M332 55v3M332 97v2M332 301v2M333 64v2M333 94v3M335 94v3M335 102v3M335 135v3M335 303v3M336 64v2M336 69v3M336 99v6M336 246v2M336 290v2M336 303v3M337 64v2M337 69v3M337 99v3M337 284v3M337 292v9M337 303v3M338 88v3M338 94v3M339 58v3M340 135v3M340 279v5M340 290v5M341 86v2M341 94v5M342 55v3M342 61v3M342 102v3M343 58v3M343 88v3M343 97v2M343 276v3M343 281v6M343 303v3M344 58v3M344 69v6M344 88v3M344 94v3M344 99v3M344 246v2M344 251v3M344 284v3M344 292v9M345 55v6M345 80v3M345 88v3M345 97v2M346 86v2M346 94v5M346 237v3M346 254v5M346 301v5M347 61v5M347 88v3M347 94v3M347 254v3M347 279v5M348 61v3M348 80v3M348 88v9M348 254v3M348 276v3M349 75v2M349 83v3M349 88v6M349 295v3M349 303v3M350 61v3M350 94v3M350 276v3M351 58v3M351 75v2M351 94v8M352 75v2M352 91v6M352 102v3M352 116v3M353 86v2M353 91v3M354 55v3M354 86v2M354 91v3M354 287v11M354 301v5M355 268v2M355 273v6M355 284v3M356 55v3M356 66v3M356 86v5M356 113v3M356 301v5M357 91v3M358 55v6M358 66v3M358 94v5M358 102v3M358 295v6M359 55v3M359 64v2M359 91v3M360 55v3M360 72v3M360 91v6M360 99v3M361 75v2M361 94v3M362 91v3M362 146v3M362 279v5M363 66v3M363 83v3M363 91v6M363 135v3M363 254v3M363 287v5M363 295v3M364 52v6M364 97v5M364 246v5M364 268v2M364 290v2M365 135v3M365 254v3M365 290v2M366 58v3M366 265v5M366 303v3M367 55v3M367 97v2M368 52v6M368 75v2M368 99v6M368 257v2M369 94v5M369 265v5M370 88v3M370 97v2M370 254v8M370 265v5M370 284v3M370 292v9M371 281v6M371 290v2M371 298v3M372 52v3M372 66v3M372 102v3M373 91v3M373 292v6M374 86v5M374 99v3M374 237v11M374 279v5M375 55v3M375 61v3M375 69v3M375 91v3M375 232v8M375 251v6M375 290v5M376 61v3M376 72v3M376 97v2M376 102v6M376 229v8M376 254v3M376 262v6M377 52v3M377 58v3M377 64v5M377 72v3M377 80v3M377 91v3M377 97v2M377 102v3M377 135v3M377 232v3M377 284v3M377 295v8M378 58v3M378 102v6M378 113v3M378 210v2M378 226v6M378 243v3M378 248v14M378 265v3M378 281v3M378 287v3M379 259v3M379 265v3M379 290v2M379 303v3M380 91v3M380 281v3M381 246v8M381 257v2M381 273v3M381 281v9M382 58v3M382 64v2M382 77v3M382 99v3M382 221v2M382 237v3M382 251v8M382 268v5M382 292v3M382 298v5M383 55v3M383 72v3M383 77v3M383 88v3M383 99v3M383 270v3M383 276v3M383 290v2M383 295v3M384 64v2M384 204v6M384 218v3M384 254v3M384 281v6M385 66v6M385 97v5M385 254v3M385 273v6M385 284v8M385 303v3M386 52v3M386 61v3M386 223v6M386 232v3M386 237v3M386 273v3M386 295v3M387 61v3M387 232v3M387 259v9M387 281v6M388 64v2M388 91v3M388 235v2M388 262v6M388 303v3M389 64v2M389 88v3M389 237v3M389 259v3M389 270v11M389 290v2M389 301v5M390 75v2M390 99v3M390 135v3M390 215v6M390 229v11M390 273v3M390 279v5M390 292v6M390 301v5M391 64v2M391 91v3M391 210v2M391 243v8M392 66v3M392 94v3M392 232v3M392 254v3M392 273v3M392 292v3M393 64v5M393 97v2M393 102v3M393 251v3M393 292v3M394 64v5M394 77v3M394 212v3M394 240v8M394 262v6M394 270v3M395 75v2M395 218v3M395 235v8M395 246v2M395 262v6M396 52v3M396 64v2M396 97v8M396 210v5M396 218v3M396 243v8M396 262v3M396 287v8M396 298v3M396 303v3M397 64v2M397 69v3M397 232v5M397 243v3M397 254v3M397 265v11M397 279v2M398 52v3M398 66v3M398 91v3M398 212v3M398 235v2M398 259v3M398 265v3M399 64v2M399 99v3M399 210v5M399 243v3M399 295v3M399 301v2M400 64v5M400 75v2M400 110v3M400 248v3M400 257v2M400 273v6M400 281v3M400 292v3M401 61v3M401 86v2M401 240v3M401 259v3M401 265v5M401 273v6M401 281v3M402 58v3M402 94v3M402 212v3M402 248v3M402 257v13M402 279v2M403 66v3M403 72v3M403 88v6M403 97v2M403 237v6M403 257v2M403 262v6M403 273v3M403 284v3M403 292v3M404 91v3M404 246v2M404 257v5M404 265v3M404 270v3M405 55v9M405 69v3M405 77v3M405 91v3M405 218v3M405 284v3M406 58v3M406 77v3M406 113v3M406 163v3M406 246v2M406 254v5M407 55v3M407 83v3M407 146v6M407 157v3M407 166v2M407 196v3M407 237v3M407 254v3M407 292v3M407 298v3M408 58v3M408 64v2M408 80v3M408 144v2M408 149v3M408 251v3M408 273v6M408 290v5M409 55v28M409 193v3M409 199v5M409 240v6M409 254v5M409 265v3M409 284v3M410 61v3M410 69v6M411 64v8M411 210v5M411 251v17M411 287v3M412 58v6M412 66v3M412 77v6M412 243v3M412 248v3M413 58v3M413 64v5M413 72v3M413 77v6M413 121v3M413 193v3M413 259v3M413 265v3M413 270v3M413 276v3M413 292v6M414 58v11M414 77v3M414 210v2M414 273v3M414 290v2M415 69v3M415 88v3M415 207v3M415 257v5M415 270v3M415 279v2M416 66v3M416 77v3M416 86v5M416 207v3M416 251v8M416 273v3M416 279v2M416 284v14M417 58v3M417 66v3M417 91v3M417 210v5M418 61v8M418 75v2M418 86v2M418 91v3M418 105v3M418 199v2M418 204v3M418 270v6M418 284v6M419 61v3M419 204v6M419 259v6M419 268v2M419 281v9M419 292v3M420 55v3M420 91v6M420 108v8M420 193v3M420 199v2M420 204v3M420 281v11M420 301v5M421 94v3M421 259v3M421 268v2M421 290v2M422 64v2M422 80v3M422 97v8M422 210v2M422 276v3M422 281v14M422 298v8M423 66v3M423 83v5M423 94v3M423 248v3M423 259v3M423 273v3M423 301v2M424 66v3M424 83v3M424 91v3M424 97v5M424 292v3M424 301v2M425 64v2M425 99v6M425 276v3M426 72v3M426 94v3M426 102v3M426 196v3M426 248v11M426 265v3M426 290v5M426 303v3M427 58v3M427 77v3M427 91v6M427 99v3M427 251v8M427 268v5M427 295v3M427 301v5M428 199v2M428 204v3M428 262v3M428 279v2M428 292v3M428 301v2M429 77v3M429 97v5M429 196v3M429 254v3M429 259v6M429 284v3M430 80v3M430 94v3M430 273v6M430 290v2M430 298v3M431 86v2M431 201v3M431 265v3M431 281v3M431 303v3M432 58v3M432 146v3M432 166v5M432 251v3M433 55v3M433 99v6M433 108v2M433 149v3M433 155v2M433 166v2M433 171v3M433 204v3M433 259v11M433 273v8M433 295v3M434 99v3M434 276v5M434 298v5M435 88v3M435 94v3M435 141v3M435 174v3M435 196v3M435 270v3M435 287v3M435 301v2M436 55v3M436 113v3M436 171v6M436 265v3M436 270v3M436 290v2M436 295v6M436 303v3M437 64v5M437 91v3M437 144v2M437 163v5M437 171v3M437 210v2M437 257v2M438 77v3M438 97v2M438 144v5M438 152v3M438 207v3M438 265v3M438 270v6M438 284v6M438 295v6M439 55v3M439 207v3M439 262v3M439 268v2M439 284v3M439 290v5M440 61v3M440 97v2M440 270v6M440 279v5M441 69v3M441 268v11M441 292v3M442 58v3M442 75v2M442 97v5M442 281v3M443 94v3M443 108v2M443 265v3M443 279v2M444 66v3M444 88v3M444 94v3M444 207v3M444 276v3M444 284v8M445 72v3M445 86v2M445 287v5M446 55v3M446 61v3M446 69v3M446 80v3M446 86v5M446 99v6M446 268v5M446 276v5M446 295v8M447 55v3M447 91v3M447 99v6M447 108v2M447 265v3M448 58v3M448 80v6M448 273v3M448 301v5M449 58v3M449 64v2M449 270v3M449 279v2M449 287v8M450 207v3M450 290v2M451 88v3M451 99v3M451 204v3M451 273v3M451 279v11M451 303v3M452 91v3M452 199v8M452 287v3M452 295v3M453 55v3M453 276v5M454 199v2M454 281v9M455 64v2M455 204v3M455 273v3M455 281v3M455 287v5M456 80v3M456 105v5M456 298v3M457 80v3M457 94v3M457 276v5M458 135v3M458 284v6M458 292v6M459 64v2M459 207v3M459 276v11M459 290v8M460 105v3M460 207v3M460 295v3M461 94v3M461 99v3M461 108v5M461 281v3M461 287v8M461 298v3M461 303v3M462 64v2M462 80v3M462 102v3M462 196v3M462 287v8M463 69v3M464 204v3M464 284v6M465 64v2M466 72v3M467 69v6M467 201v3M468 69v3M468 196v3M469 72v3M469 86v2M469 97v5M469 196v3M470 69v3M470 80v3M470 88v3M470 97v5M470 298v5M471 69v3M471 94v5M472 58v3M472 69v3M472 99v3M472 196v3M473 72v3M474 69v3M474 86v2M474 102v3M474 196v3M475 69v3M475 99v3M475 105v3M477 58v3M477 69v3M477 97v2M478 75v2M478 99v3M478 105v3M479 75v5M479 99v3M480 69v3M481 52v3M481 97v5M482 75v2M482 91v6M483 69v3M483 88v3M483 97v2M484 69v3M484 94v8M485 99v3M486 72v3M486 119v2M487 72v3M488 55v3M489 55v3M489 72v3M489 99v3M490 72v5M490 88v3M490 97v5M491 91v3M492 83v3M492 116v3M493 199v2M494 193v3M497 52v3M497 196v3M500 193v3M503 196v3M504 193v3M505 52v3M506 199v2M508 108v8M508 144v2M509 108v2M510 58v3M512 58v22M512 121v3M513 61v3M513 80v6M513 183v2M513 188v2M513 196v3M514 83v3M515 83v3M515 196v3M516 179v3M517 160v3M517 166v2M517 179v4M518 174v3M519 55v3M520 88v3M520 105v3M520 193v3M521 55v3M521 102v3M521 190v3M521 196v3M522 91v3M523 83v3M523 196v3M524 83v3M524 196v3M525 94v3M526 55v3M526 94v3M526 177v2M527 97v2M527 196v3M528 52v3M529 94v3M529 110v6M530 97v2M530 108v5M531 58v3M531 97v2M533 52v3M533 201v3M534 52v3M534 58v3M534 97v2M535 94v3M535 193v3M536 91v3M537 55v6M537 88v3M537 105v3M537 196v3M538 88v3M540 61v3M540 201v6M540 212v6M541 52v3M541 64v2M541 105v3M541 207v3M542 97v2M542 218v3M543 58v3M543 97v2M543 204v3M544 105v3M544 196v5M544 218v5M545 64v2M545 196v3M546 58v3M546 201v3M547 77v3M547 102v3M547 183v2M547 199v2M548 61v3M549 61v3M549 183v2M550 193v3M551 58v3M551 66v3M551 80v3M551 91v3M551 188v8M552 64v2M552 94v3M552 188v2M553 66v3M553 183v2M553 190v3M554 52v3M554 58v3M554 102v3M554 185v3M554 190v6M555 64v2M555 99v3M555 183v2M556 64v2M556 182v1M556 190v3M556 201v3M556 207v3M556 221v2M557 102v3M557 182v1M557 185v8M557 196v3M557 215v3M558 69v3M558 99v3M558 190v3M558 201v3M558 212v3M559 182v1M559 185v3M559 196v3M559 204v3M559 210v2M560 55v3M560 105v3M560 110v3M560 193v3M560 218v3M561 66v3M561 108v2M561 183v5M561 190v3M561 210v2M561 215v3M562 210v2M563 190v3M564 99v3M564 215v3M565 212v3M566 64v2M566 102v3M567 135v3M567 182v1M567 185v3M567 193v3M567 199v2M567 204v3M568 58v3M568 88v3M569 58v6M569 88v3M569 99v3M569 185v3M569 190v6M569 207v3M569 215v6M569 232v5M570 61v5M570 97v5M570 116v5M570 193v3M570 240v3M571 61v3M571 102v3M571 185v3M571 212v3M571 218v3M572 102v3M572 182v1M572 199v2M572 204v6M572 221v5M573 80v3M573 182v1M573 210v2M573 218v8M573 229v6M574 55v3M574 102v6M574 182v1M574 185v5M574 201v9M574 221v5M575 102v6M575 110v3M575 119v2M575 182v1M575 188v2M575 210v2M575 215v3M575 229v3M575 235v2M576 102v3M576 110v6M576 135v3M576 183v2M576 193v3M576 212v6M577 102v3M577 210v11M577 223v3M578 55v3M578 183v2M578 190v6M578 229v3M579 52v3M579 199v2M579 204v3M580 110v6M580 183v2M580 196v3M580 212v6M580 223v3M581 52v3M582 105v3M582 196v3M582 212v3M582 218v3M583 105v5M583 183v2M583 199v5M583 221v2M584 83v3M584 105v5M584 204v3M584 221v5M584 229v3M585 105v3M585 182v1M585 201v3M585 218v3M586 105v5M586 193v3M586 212v3M586 221v2M587 102v3M587 182v1M587 207v5M587 221v2M587 229v3M588 55v6M588 105v3M588 182v1M588 185v3M588 190v11M588 212v3M589 80v3M589 193v6M590 55v3M590 83v3M590 102v3M590 190v6M590 201v3M590 223v3M591 52v3M591 105v3M591 218v5M591 229v3M592 201v3M592 207v3M592 229v3M593 55v3M593 183v2M593 188v2M593 232v3M594 58v3M594 102v6M594 188v8M595 58v3M595 232v3M595 237v3M596 55v3M596 61v8M596 97v5M596 183v2M596 196v3M596 201v3M596 218v5M597 77v11M597 91v3M597 182v1M597 190v3M597 221v2M598 182v1M598 193v3M598 226v3M599 97v2M599 105v3M599 201v6M600 52v3M600 77v3M600 83v8M600 183v2M600 193v3M600 232v3M601 72v19M602 58v3M602 86v5M602 97v5M602 113v6M602 183v5M602 226v3M603 64v5M603 88v9M603 188v2M603 226v3M604 52v6M604 88v9M604 182v1M604 190v3M604 229v3M605 64v2M605 91v6M605 183v2M605 190v3M606 66v3M606 91v6M606 99v3M606 183v2M607 66v3M607 91v6M607 182v1M607 229v3M608 91v3M608 97v2M608 183v2M608 190v3M608 221v2M609 55v6M609 69v3M609 91v11M609 199v2M609 235v2M609 240v3M609 246v2M610 66v3M610 91v11M610 183v2M610 188v5M610 221v2M610 226v3M611 69v6M611 94v5M611 121v3M611 183v2M612 64v5M612 91v3M612 182v1M612 185v3M612 193v3M613 64v5M613 91v3M613 212v3M613 221v5M614 94v5M614 221v8M615 66v3M615 91v3M615 97v5M615 183v2M615 188v2M615 226v6M616 64v2M616 69v3M616 182v1M616 232v3M617 64v2M617 83v8M617 183v2M617 188v2M617 196v3M618 61v3M618 75v2M618 83v3M618 188v2M618 226v3M618 232v3M618 237v3M619 75v8M620 55v6M620 72v3M620 183v2M620 232v3M621 183v2M621 188v2M621 237v3M622 58v3M622 66v6M622 183v2M622 235v2"/>
<path stroke="#00a2ff" d="M278 64v5M278 312v5M278 323v5M278 334v5M278 345v5M278 356v5M278 367v5M278 378v3M279 64v5M279 312v5M279 323v5M279 334v5M279 345v5M279 356v5M279 367v5M279 378v3M280 64v5M280 312v5M280 323v5M280 334v5M280 345v5M280 356v5M280 367v5M280 378v3M281 64v5M281 312v5M281 323v5M281 334v5M281 345v5M281 356v5M281 367v5M281 378v3M282 64v5M282 312v5M282 323v5M282 334v5M282 345v5M282 356v5M282 367v5M282 378v3M283 64v5M283 312v5M283 323v5M283 334v5M283 345v5M283 356v5M283 367v5M283 378v3M284 312v30M284 345v3M284 350v9M284 361v11M284 375v3M284 400v3M285 102v3M285 312v44M285 359v2M285 367v14M285 383v3M285 397v6M286 75v2M286 312v47M286 372v3M287 99v6M287 312v5M287 320v11M287 359v2M287 364v6M287 392v8M287 403v2M288 105v3M288 312v2M288 331v8M288 342v8M288 353v6M288 367v3M288 372v3M289 75v2M289 88v3M289 312v5M289 320v14M289 337v2M289 342v8M289 359v2M289 375v3M289 383v3M289 389v3M289 394v3M290 75v2M290 88v3M290 312v14M290 328v20M290 350v6M290 361v3M290 389v3M291 72v3M291 102v3M291 312v55M291 375v3M291 386v6M292 312v52M292 367v16M293 58v3M293 77v3M293 86v2M293 97v5M293 312v11M293 331v3M293 337v16M294 80v3M294 99v3M294 105v3M294 312v44M294 359v2M294 364v8M295 75v2M295 97v2M295 312v47M295 375v3M296 83v3M296 135v3M296 312v14M296 331v17M296 350v3M296 367v3M297 52v3M297 58v3M297 99v3M297 317v6M297 326v2M297 331v8M297 345v5M297 361v6M298 83v3M298 94v3M298 102v3M298 251v6M298 312v8M298 326v2M298 331v3M298 337v16M298 372v3M299 102v3M299 312v2M299 334v3M299 394v3M299 400v3M300 86v2M300 91v3M300 312v11M300 326v19M300 397v3M301 75v5M301 292v3M301 314v3M301 320v19M301 381v2M302 86v2M302 314v36M302 394v3M303 99v3M303 246v2M303 273v3M303 312v11M303 326v2M303 339v9M303 350v6M303 359v19M304 69v3M304 102v3M304 303v3M304 314v9M304 326v5M304 334v8M304 345v5M304 372v3M305 66v3M305 94v3M305 102v3M305 320v3M305 326v2M305 331v3M306 66v3M306 303v3M306 312v11M307 64v5M307 326v5M307 334v3M307 339v14M308 97v5M308 254v3M308 279v2M308 312v2M308 317v11M308 334v3M308 339v3M308 345v3M308 350v25M309 55v3M309 312v5M309 320v3M309 331v3M309 339v3M309 350v3M310 66v3M310 312v5M310 320v33M310 356v11M310 370v2M311 58v3M311 97v2M311 254v3M311 317v6M311 328v3M311 337v5M312 66v3M312 97v2M312 259v3M312 265v5M312 301v2M312 312v5M312 320v8M312 331v3M312 339v6M312 370v2M313 80v3M313 262v3M313 268v2M313 312v25M313 339v17M313 359v2M313 364v22M314 75v2M314 88v3M314 97v2M314 312v27M314 342v6M314 359v2M315 75v2M315 248v3M315 287v11M315 312v2M315 331v6M315 339v14M316 75v2M316 86v2M316 270v3M316 364v3M316 370v5M316 389v3M317 69v3M317 97v2M317 287v3M317 298v3M317 312v2M317 317v25M317 345v3M317 353v11M317 370v2M318 69v3M318 97v2M318 102v3M318 262v3M318 314v20M318 337v2M318 342v3M319 61v3M319 69v3M319 97v2M319 312v14M319 328v6M319 339v3M319 383v3M320 61v3M320 69v3M320 102v3M320 312v2M320 317v3M320 323v30M320 359v2M321 55v3M321 99v3M321 312v44M322 52v6M322 86v2M322 99v3M322 135v3M322 301v2M322 312v16M322 331v6M322 348v5M323 61v3M323 77v3M323 91v3M323 97v2M323 257v2M323 303v3M323 339v6M324 64v2M324 102v3M324 312v14M324 331v3M324 337v2M324 348v2M324 353v6M324 375v3M324 386v3M324 392v5M325 64v2M325 99v3M325 320v3M325 326v2M325 356v3M326 99v6M326 135v3M326 279v8M326 290v2M326 312v8M326 323v11M326 337v13M327 94v3M327 99v3M327 287v3M327 312v25M327 339v3M327 348v2M327 361v3M327 367v3M328 61v3M328 246v5M328 262v3M328 312v5M328 320v6M328 334v5M328 342v3M328 348v2M328 353v6M328 361v3M329 61v3M329 303v3M329 312v36M329 350v3M329 359v2M330 86v2M330 265v5M330 284v6M330 312v25M330 353v6M331 58v3M331 328v3M331 403v2M332 80v3M332 86v2M332 94v3M332 317v22M332 356v8M332 367v5M332 375v3M332 383v3M333 91v3M333 312v19M333 378v3M334 312v11M335 323v3M335 328v17M335 348v5M335 356v3M335 361v9M336 292v3M336 312v2M336 337v2M336 353v8M336 364v3M337 58v3M337 279v2M337 301v2M337 317v3M337 328v3M337 345v3M337 386v3M338 55v3M338 91v3M338 97v8M338 312v8M338 323v3M338 331v3M338 353v6M338 361v3M338 367v3M339 91v3M339 97v2M339 312v5M339 320v6M339 334v3M340 58v3M340 88v9M340 284v6M340 312v25M340 339v9M340 353v8M341 88v3M341 314v3M341 323v5M341 348v2M341 353v3M342 314v3M342 320v3M342 326v5M342 337v19M342 361v3M343 86v2M343 91v6M343 279v2M343 290v8M343 312v22M343 337v11M343 370v2M343 403v2M344 80v3M344 91v3M344 243v3M344 290v2M344 301v2M344 314v9M344 326v11M344 339v6M344 364v3M344 372v3M345 91v6M345 312v11M345 350v9M345 364v3M346 72v3M346 91v3M346 235v2M346 270v3M346 276v3M346 290v2M346 295v6M346 320v22M346 348v13M347 52v6M347 83v3M347 312v2M347 323v3M347 328v3M347 339v6M348 58v3M348 72v3M348 83v3M348 99v3M348 257v2M348 279v2M348 312v16M348 337v5M348 345v3M348 350v3M349 61v3M349 86v2M349 312v5M349 331v6M349 339v3M350 64v2M350 312v36M350 350v6M350 359v2M350 370v2M351 61v3M351 69v3M351 317v9M352 69v3M352 86v5M352 312v14M352 331v3M352 339v3M352 359v8M352 403v2M353 55v6M353 88v3M353 312v30M353 348v2M354 88v3M354 135v3M354 314v3M354 334v3M354 364v3M355 66v3M355 77v3M355 88v6M355 312v2M355 320v30M355 375v3M356 61v3M356 91v3M356 337v5M356 345v16M356 375v8M356 386v3M357 86v2M357 312v5M357 320v61M358 86v2M358 91v3M358 99v3M358 312v11M358 342v3M359 66v3M359 312v2M359 320v6M359 339v3M359 345v8M359 361v3M360 64v2M360 323v3M360 334v3M360 339v3M360 345v3M360 361v6M360 370v16M361 58v3M361 72v3M361 86v2M361 292v3M361 298v3M361 328v3M361 342v3M361 389v5M362 55v3M362 64v2M362 69v3M362 86v5M362 152v3M362 160v6M362 287v14M362 317v22M362 342v6M363 75v2M363 88v3M363 281v6M363 298v5M363 312v11M363 326v2M363 331v6M363 339v3M363 364v3M364 58v3M364 94v3M364 254v3M364 262v3M364 276v3M364 317v3M364 323v25M365 61v3M365 66v3M365 94v3M365 99v6M365 248v3M365 292v3M365 312v25M365 339v6M365 361v3M366 97v2M366 270v9M366 287v3M366 295v3M366 301v2M366 314v3M366 328v9M366 345v14M366 364v6M366 372v11M367 91v6M367 135v3M367 312v47M367 364v3M368 58v3M368 91v8M368 265v3M368 270v3M368 312v2M368 342v3M368 353v3M368 359v2M369 246v8M369 298v3M369 303v3M369 312v5M369 320v6M369 328v11M369 342v3M369 348v5M370 66v3M370 94v3M370 262v3M370 276v3M370 281v3M370 312v2M370 317v28M371 292v3M371 314v12M371 334v3M371 342v8M371 359v2M372 88v3M372 312v11M372 328v3M372 337v2M373 58v6M373 135v3M373 287v3M373 312v19M374 61v5M374 94v3M374 276v3M374 295v3M374 301v2M374 312v2M374 317v3M374 323v3M374 328v3M374 339v3M374 350v3M374 372v3M375 83v3M375 295v3M375 301v2M375 323v14M376 91v6M376 268v2M376 273v3M376 287v3M376 295v3M376 326v2M376 331v6M377 69v3M377 94v3M377 226v6M377 235v2M377 312v5M377 320v14M378 61v3M378 94v3M378 246v2M378 284v3M378 292v3M378 312v19M378 337v2M378 361v11M379 58v3M379 86v2M379 97v2M379 246v2M379 251v6M379 262v3M379 328v6M380 58v6M380 66v3M380 102v3M380 226v3M380 312v14M380 328v3M381 97v5M381 254v3M381 262v3M381 270v3M381 279v2M381 301v2M381 312v2M381 320v25M381 361v6M381 370v2M382 83v3M382 97v2M382 259v3M382 273v6M382 326v5M382 348v2M382 356v3M383 284v3M383 292v3M383 317v3M383 326v13M383 342v11M383 356v3M384 80v3M384 97v2M384 223v3M384 314v9M384 328v3M384 337v2M384 342v3M384 350v3M384 381v2M384 386v3M385 55v3M385 64v2M385 257v2M385 292v6M385 312v2M385 323v3M385 328v3M386 94v3M386 229v3M386 235v2M386 270v3M386 276v8M386 312v22M386 337v2M386 342v6M387 64v2M387 88v3M387 94v3M387 215v3M387 237v11M387 317v14M387 334v5M387 342v3M387 350v3M388 66v3M388 102v3M388 295v3M388 314v9M388 326v5M388 350v3M389 66v3M389 99v3M389 226v6M389 240v3M389 265v3M389 281v9M389 312v2M389 317v3M389 323v3M389 348v2M390 66v6M390 91v3M390 223v3M390 270v3M390 284v3M390 290v2M390 312v5M390 331v3M390 356v3M391 66v3M391 207v3M391 215v6M391 235v2M391 251v3M391 273v3M391 290v2M391 317v3M391 350v17M392 69v3M392 75v5M392 91v3M392 102v3M392 221v5M392 229v3M392 276v3M392 298v3M392 317v3M392 323v8M392 334v5M392 348v2M392 389v5M392 397v3M393 218v3M393 243v3M393 254v3M393 295v3M393 314v12M393 328v11M393 381v2M394 91v6M394 218v3M394 237v3M394 248v3M394 254v3M394 259v3M394 301v2M394 314v6M394 326v2M394 339v3M394 345v3M395 52v3M395 97v2M395 102v3M395 232v3M395 251v3M395 259v3M395 268v2M395 273v8M395 342v6M396 75v2M396 251v11M396 276v3M396 312v11M396 326v2M396 359v2M397 221v2M397 251v3M397 292v6M397 326v5M397 334v8M397 345v19M397 367v3M398 64v2M398 97v2M398 237v3M398 268v5M398 279v2M398 287v3M398 342v3M398 348v5M398 356v14M399 77v3M399 97v2M399 240v3M399 251v3M399 265v3M399 276v5M399 287v3M399 298v3M399 303v3M399 328v14M399 345v5M400 102v6M400 279v2M400 312v27M401 64v2M401 94v8M401 212v3M401 235v5M401 284v3M401 320v22M401 345v8M401 356v3M402 91v3M402 97v2M402 215v6M402 240v3M402 290v2M402 317v3M402 326v2M402 339v11M403 55v3M403 83v5M403 235v2M403 243v3M403 254v3M403 268v5M403 281v3M403 323v3M403 331v11M403 345v3M404 69v3M404 75v5M404 83v5M404 237v3M404 248v6M404 262v3M404 268v2M404 273v3M404 312v16M404 331v3M404 339v9M404 350v6M404 359v2M405 80v3M405 281v3M405 312v8M405 323v5M405 331v3M405 350v3M406 61v3M406 69v3M406 152v3M406 160v3M406 240v6M406 273v3M406 323v3M406 334v3M407 58v3M407 64v8M407 163v3M407 248v3M407 259v6M407 279v2M407 290v2M407 295v3M407 301v5M407 312v2M407 342v3M408 61v3M408 66v11M408 146v3M408 155v5M408 246v2M408 262v3M408 270v3M408 287v3M408 295v3M408 317v9M408 331v6M408 339v9M409 248v3M409 259v3M409 287v3M409 323v3M410 77v6M410 210v2M410 259v3M410 270v3M410 312v38M411 77v6M411 268v2M411 279v2M411 295v3M411 314v14M411 331v6M411 339v9M411 350v9M411 361v3M411 367v3M411 372v3M412 69v6M412 212v3M412 259v3M412 314v6M412 323v8M412 386v3M413 69v3M413 268v2M413 273v3M413 279v5M413 328v3M413 337v8M413 348v5M413 356v5M414 55v3M414 69v6M414 207v3M414 248v3M414 276v3M414 284v3M414 317v3M414 337v2M415 55v3M415 72v3M415 254v3M415 268v2M415 281v3M415 295v6M415 303v3M415 314v9M415 326v16M415 345v5M416 58v3M416 69v3M416 75v2M416 80v3M416 259v3M416 265v3M416 276v3M416 281v3M416 312v5M416 320v3M416 326v5M416 334v14M416 350v3M417 69v3M417 80v6M417 88v3M417 273v3M417 328v3M418 69v3M418 102v3M418 201v3M418 207v5M418 259v3M418 279v2M418 314v20M418 350v3M419 88v6M419 257v2M419 265v3M419 270v6M419 279v2M419 290v2M419 328v11M419 342v3M419 348v8M419 359v2M420 61v3M420 86v5M420 196v3M420 257v2M420 279v2M420 292v3M420 312v2M420 317v6M420 334v3M421 69v6M421 80v3M421 86v2M421 207v3M421 270v6M421 312v27M421 342v6M422 94v3M422 259v3M422 331v3M423 246v2M423 295v6M423 303v3M423 312v11M424 86v2M424 94v3M424 257v2M424 273v8M424 287v3M424 303v3M424 331v3M424 337v5M424 348v5M424 356v8M424 370v2M425 75v2M425 204v3M425 246v2M425 254v3M425 279v5M425 287v5M425 298v8M425 312v16M425 331v8M425 342v6M425 353v3M426 61v3M426 80v3M426 246v2M426 259v3M426 301v2M426 312v33M426 348v2M427 52v3M427 80v3M427 248v3M427 262v3M427 281v3M427 292v3M427 298v3M427 312v2M427 317v6M427 328v3M427 337v5M427 348v2M427 356v8M428 94v3M428 196v3M428 251v3M428 284v3M428 290v2M428 303v3M428 312v14M428 339v6M428 348v5M429 55v3M429 135v3M429 251v3M429 290v2M429 342v6M429 353v3M430 75v2M430 210v2M430 265v5M430 292v3M430 317v3M430 323v3M430 328v3M430 334v3M430 364v6M431 97v2M431 199v2M431 251v3M431 312v19M431 334v3M431 342v3M431 356v3M432 66v3M432 91v3M432 152v3M432 317v3M432 353v3M432 359v2M432 367v5M433 91v3M433 141v3M433 257v2M433 281v3M433 287v8M433 328v9M434 97v2M434 141v3M434 160v3M434 265v3M434 281v3M434 312v5M434 323v36M435 58v3M435 149v8M435 163v5M435 171v3M435 276v3M435 290v2M435 303v3M435 312v14M435 331v6M435 342v14M436 58v3M436 94v3M436 110v3M436 135v3M436 259v3M436 312v2M436 317v20M436 342v6M436 350v3M436 361v9M436 372v3M437 55v9M437 146v3M437 155v2M437 168v3M437 212v3M437 265v3M437 273v6M437 281v3M437 287v3M437 298v5M437 314v3M437 326v2M437 331v8M438 55v3M438 61v3M438 168v3M438 259v6M438 268v2M438 312v22M438 348v2M439 88v3M439 254v3M439 295v6M439 303v3M439 312v8M440 58v3M440 64v2M440 210v2M440 265v5M440 298v3M440 320v28M441 86v2M441 99v3M441 204v3M441 312v27M442 61v3M442 91v3M442 135v3M442 207v3M442 273v6M442 295v3M442 328v3M442 353v3M443 66v3M443 88v6M443 210v2M443 262v3M443 276v3M443 312v22M443 337v2M444 69v3M444 86v2M444 257v2M444 262v3M444 270v3M444 281v3M444 292v3M444 320v17M445 64v5M445 270v3M445 279v2M445 284v3M445 301v2M445 312v22M445 337v2M445 370v2M445 375v6M445 386v3M446 64v2M446 83v3M446 135v3M446 210v2M446 259v6M446 273v3M446 284v3M446 290v2M446 317v3M446 323v3M446 339v9M447 61v3M447 86v5M447 97v2M447 204v3M447 259v3M447 279v8M447 290v2M447 323v11M447 342v3M448 64v2M448 91v3M448 97v5M448 317v17M449 66v3M449 97v2M449 207v3M449 262v3M450 94v3M450 99v3M450 268v8M450 279v5M450 292v6M450 301v2M451 61v3M451 77v6M451 94v5M451 207v3M451 298v3M451 334v5M452 102v3M452 303v3M453 102v3M453 201v3M453 270v3M453 287v3M454 66v6M454 268v2M454 273v3M455 270v3M455 284v3M455 292v6M456 102v3M456 270v3M457 66v3M457 102v6M457 284v3M458 66v3M458 94v3M458 273v6M458 281v3M458 290v2M458 298v5M458 339v3M459 102v6M459 210v2M459 298v3M460 97v5M460 279v2M460 290v2M460 345v3M461 61v3M461 91v3M461 279v2M461 284v3M461 301v2M462 91v3M462 99v3M462 279v8M463 204v3M464 102v3M464 295v3M465 69v3M466 66v3M466 199v2M467 86v2M467 97v2M468 91v8M469 77v3M469 88v3M469 94v3M469 199v2M470 77v3M470 199v5M471 88v3M471 295v3M472 72v3M472 94v5M473 99v6M474 80v3M474 94v5M475 58v3M475 80v3M475 97v2M476 69v3M476 97v2M478 77v3M480 99v3M481 69v3M481 91v3M482 55v3M482 69v3M482 77v3M482 196v3M483 72v5M483 199v2M484 52v3M484 80v3M485 75v2M486 75v2M487 86v5M487 97v5M487 196v3M488 72v3M488 94v5M490 80v6M490 91v6M491 75v2M492 193v3M495 193v3M500 144v2M508 141v3M509 188v2M510 188v2M512 185v3M512 193v6M513 64v2M513 69v3M513 190v6M514 61v5M514 80v3M514 193v3M515 58v3M515 183v7M516 58v3M516 83v3M516 171v3M516 177v2M516 183v2M516 199v2M517 58v3M517 83v3M517 183v2M518 58v3M518 179v4M519 77v3M519 83v3M519 196v3M520 83v5M521 88v3M521 188v2M523 55v3M523 91v3M524 55v3M524 91v3M525 199v2M526 58v3M526 174v3M526 199v2M527 94v3M528 94v5M530 58v3M531 199v2M532 97v2M532 201v3M533 58v3M533 94v5M535 88v3M536 88v3M537 199v8M537 215v3M538 58v3M538 91v8M539 61v3M539 99v3M539 204v3M540 196v5M540 207v5M541 204v3M541 212v3M542 58v3M542 196v5M542 210v2M542 215v3M542 221v2M543 207v14M543 223v9M544 86v2M544 204v3M544 212v3M544 223v3M545 102v3M545 199v2M546 105v5M546 204v3M546 212v3M547 196v3M547 212v3M548 99v3M549 75v2M549 83v3M549 201v3M549 210v2M551 196v5M552 66v3M552 80v6M552 207v3M553 72v5M553 94v5M553 188v2M553 193v3M553 226v3M554 72v3M554 183v2M554 218v3M555 97v2M555 196v3M556 66v3M556 99v3M556 185v3M556 196v5M556 212v3M556 223v3M557 69v3M557 193v3M557 218v3M558 188v2M558 215v6M559 69v3M559 97v5M559 183v2M559 190v3M559 218v5M559 226v6M560 69v3M560 91v3M561 102v6M561 188v2M561 193v3M562 75v2M562 97v2M562 183v2M562 193v3M562 207v3M562 221v2M563 97v2M563 193v3M563 218v3M564 66v3M564 83v3M564 97v2M564 210v2M564 221v2M564 226v3M565 188v5M565 221v8M566 99v3M566 135v3M566 210v2M567 61v3M567 99v3M567 183v2M567 190v3M567 196v3M568 97v5M568 135v3M568 183v7M568 196v8M568 207v3M568 221v8M569 64v2M569 97v2M569 183v2M569 188v2M569 196v5M569 204v3M569 210v2M570 66v3M570 94v3M570 183v2M570 190v3M570 243v5M571 64v2M571 83v3M571 94v3M571 99v3M571 135v3M571 182v1M571 196v3M571 201v3M571 221v8M571 232v3M571 237v3M571 243v3M572 58v3M572 183v2M572 226v3M573 55v3M573 105v3M573 185v3M573 190v9M573 201v3M573 212v3M574 183v2M574 196v5M574 229v3M575 113v3M575 185v3M575 199v2M575 207v3M576 204v3M576 223v3M576 229v3M576 235v5M577 182v1M577 196v3M578 102v3M578 188v2M578 199v2M579 99v6M579 183v2M579 201v3M579 207v3M579 229v6M580 105v3M580 135v3M580 193v3M580 199v2M580 207v3M580 221v2M580 226v3M581 55v3M581 105v3M581 183v5M581 190v9M581 223v6M582 102v3M582 182v1M582 185v3M582 223v6M583 55v3M583 102v3M583 232v3M584 193v3M584 226v3M585 55v6M585 183v2M585 193v3M585 199v2M585 204v3M585 226v3M586 55v3M586 188v5M587 188v13M587 204v3M587 223v3M587 235v2M588 188v2M588 221v2M588 226v3M589 58v3M589 199v2M590 183v2M590 188v2M590 196v3M590 207v3M590 212v3M590 218v3M591 204v6M591 215v3M591 226v3M591 232v8M592 196v5M592 226v3M594 237v3M595 61v8M595 77v3M595 88v3M595 183v2M595 188v2M595 235v2M596 69v19M596 91v6M596 215v3M596 226v3M597 88v3M597 183v5M598 229v6M599 183v2M599 196v3M599 229v3M601 182v1M601 193v3M602 69v14M602 190v6M602 232v3M603 86v2M603 237v3M604 66v3M604 80v3M604 86v2M604 183v5M604 235v2M605 58v3M605 66v3M605 86v5M605 188v2M605 237v3M606 69v3M606 88v3M606 226v3M607 55v3M607 88v3M607 183v2M607 188v8M608 69v3M608 188v2M608 226v6M609 83v3M609 183v2M609 229v3M609 243v3M610 69v6M610 80v6M610 235v2M611 80v14M611 229v11M612 69v3M612 80v11M612 240v6M613 86v5M613 226v6M614 69v6M614 91v3M615 69v3M615 88v3M616 66v3M616 72v3M616 86v5M616 183v2M617 66v6M617 75v5M617 240v3M618 64v5M618 77v6M618 229v3M618 235v2M619 61v5M619 72v3M619 226v3M620 69v3M620 229v3M621 58v3M621 69v3M621 235v2M621 240v3M622 196v3M622 237v3M622 248v3M622 259v3M623 69v3M623 174v9M623 185v11M624 69v3M624 174v9M624 185v11M625 69v3M625 174v9M625 185v11M626 69v3M626 174v9M626 185v11M627 69v3M627 174v9M627 185v11M628 69v3M628 174v9M628 185v11M629 69v3M629 174v9M629 185v11"/>
<path stroke="#00d4ff" d="M278 381v2M279 381v2M280 381v2M281 381v2M282 381v2M283 381v2M284 86v2M284 99v3M284 342v3M284 348v2M284 359v2M284 372v3M284 394v3M284 403v2M285 99v3M285 356v3M285 361v3M285 381v2M285 389v5M285 403v2M286 359v5M286 403v2M287 77v3M287 386v6M287 400v3M288 99v6M288 314v3M288 328v3M288 350v3M288 359v2M288 370v2M288 375v3M288 386v3M288 397v3M289 80v6M289 317v3M289 334v3M289 339v3M289 350v3M289 356v3M289 364v3M289 381v2M290 326v2M290 348v2M290 359v2M290 392v2M291 80v3M291 94v5M291 367v3M291 372v3M291 378v3M291 383v3M291 403v2M292 77v3M292 102v3M292 135v3M292 364v3M293 80v3M293 326v2M293 381v2M294 77v3M294 91v3M294 97v2M294 386v3M294 394v3M295 77v3M295 91v3M295 99v3M295 364v11M296 91v8M296 326v5M296 348v2M296 353v8M297 75v2M297 323v3M297 328v3M297 342v3M297 372v3M297 378v3M298 320v3M298 334v3M298 353v3M298 403v2M299 99v3M299 314v3M299 328v3M299 342v3M299 364v3M300 77v3M300 323v3M301 94v5M301 251v3M301 287v5M301 295v3M301 312v2M301 317v3M301 339v3M301 350v3M302 94v8M302 312v2M302 350v3M302 383v11M303 88v3M303 248v3M303 276v3M303 331v3M303 356v3M303 383v3M304 99v3M304 312v2M304 323v3M304 331v3M304 342v3M304 370v2M304 381v5M305 99v3M305 312v2M305 317v3M305 323v3M305 328v3M305 359v2M306 75v2M306 97v2M306 326v2M306 337v2M306 345v3M306 350v3M307 83v3M307 94v3M307 331v3M307 337v2M307 359v2M308 69v3M308 251v3M308 276v3M308 342v3M308 348v2M308 375v3M309 97v2M309 328v3M309 337v2M309 361v3M309 367v5M309 375v3M310 135v3M310 265v5M310 317v3M310 353v3M310 372v3M311 88v9M311 314v3M311 323v3M311 334v3M311 342v3M312 88v6M312 317v3M312 328v3M312 334v5M312 348v8M312 372v3M313 64v2M313 88v3M313 94v3M313 265v3M313 270v3M313 337v2M313 356v3M313 361v3M314 94v3M314 259v3M314 339v3M314 353v6M315 64v2M315 88v3M315 99v3M315 317v11M315 353v3M316 88v3M316 97v5M316 254v3M316 262v3M316 268v2M316 314v6M316 331v3M316 339v3M316 350v3M316 359v5M316 375v3M316 383v3M317 80v3M317 94v3M317 314v3M317 342v3M317 364v6M317 372v3M318 75v2M318 334v3M318 339v3M318 356v3M319 326v2M319 337v2M319 389v3M320 99v3M320 320v3M320 353v3M320 364v3M320 375v3M321 94v5M321 361v3M322 303v3M322 328v3M322 353v3M322 389v3M323 265v3M323 323v3M323 345v3M323 372v6M324 248v3M324 326v2M324 334v3M324 339v3M324 359v2M324 397v6M325 317v3M325 323v3M325 331v6M325 350v6M325 367v3M325 372v3M325 381v2M326 64v2M326 287v3M326 320v3M326 334v3M326 350v3M326 361v6M327 77v3M327 83v3M327 97v2M327 251v3M327 350v3M327 375v6M328 72v3M328 265v3M328 331v3M328 345v3M329 353v3M329 370v2M330 75v2M330 290v2M330 342v3M331 312v2M331 326v2M331 334v5M331 348v2M332 58v3M332 66v3M332 312v2M332 345v3M332 353v3M332 364v3M332 372v3M332 389v3M333 337v2M333 348v2M333 367v5M335 88v3M335 312v2M335 317v6M335 345v3M335 370v2M335 375v3M336 61v3M336 295v3M336 320v3M336 334v3M336 342v3M336 348v5M337 72v3M337 88v3M337 273v3M337 312v5M337 326v2M337 331v11M337 361v3M338 58v3M338 364v3M338 372v3M339 64v2M339 94v3M339 317v3M339 326v2M340 337v2M340 348v2M341 91v3M341 312v2M341 339v9M341 359v2M342 88v3M342 94v8M342 312v2M342 323v3M342 331v6M342 356v3M343 61v3M343 72v3M343 80v3M343 248v3M343 334v3M343 348v2M343 367v3M344 268v2M344 312v2M344 323v3M344 337v2M345 323v3M346 58v3M346 314v6M346 345v3M347 66v6M347 80v3M347 317v3M347 331v3M348 66v6M348 77v3M348 86v2M348 281v6M348 331v3M348 342v3M349 58v3M349 66v3M349 77v3M349 320v3M349 328v3M349 345v3M349 350v3M350 75v2M350 88v3M350 348v2M350 372v3M351 312v5M351 326v5M352 58v3M352 326v5M352 337v2M352 345v5M352 367v5M353 350v6M353 375v3M354 61v3M354 372v11M354 386v6M355 64v2M355 317v3M355 378v11M356 75v5M356 361v3M356 370v2M356 383v3M357 61v3M357 88v3M357 317v3M357 381v2M358 61v3M358 326v5M358 334v3M358 348v2M359 58v3M359 86v5M359 314v6M359 331v8M359 342v3M360 86v5M360 320v3M360 326v2M360 331v3M360 337v2M360 342v3M360 367v3M361 88v6M361 135v3M361 326v2M361 331v6M361 353v6M361 394v3M362 66v3M363 69v3M363 77v3M363 86v2M363 257v2M363 323v3M363 328v3M363 337v2M363 342v3M363 348v2M363 353v6M364 64v5M364 91v3M364 265v3M364 312v5M365 64v2M365 91v3M365 97v2M365 345v3M365 356v3M365 375v3M366 91v3M366 284v3M366 292v3M366 317v3M366 323v3M366 337v2M366 342v3M366 370v2M367 88v3M367 359v2M368 80v3M368 88v3M368 339v3M368 345v8M368 381v5M368 392v2M369 72v3M369 86v2M369 295v3M369 317v3M369 356v3M369 364v3M370 61v3M370 69v3M370 273v3M370 314v3M370 353v3M371 58v3M371 295v3M371 312v2M371 328v3M371 337v5M371 350v6M371 375v3M371 381v2M372 86v2M372 331v3M373 64v2M373 69v3M373 88v3M373 334v3M373 342v3M373 350v3M373 375v3M374 66v6M374 77v3M374 91v3M374 326v2M374 331v3M374 356v3M374 364v3M375 77v3M375 94v3M376 257v5M376 270v3M376 292v3M376 312v2M376 328v3M376 337v2M377 317v3M377 403v2M378 80v3M378 86v8M378 290v2M378 295v3M378 301v2M378 359v2M378 372v9M378 383v3M379 61v3M379 314v9M380 99v3M380 326v2M380 397v3M380 403v2M381 72v3M381 83v3M381 207v3M381 237v6M381 259v3M381 265v3M381 276v3M381 303v3M381 314v6M381 345v3M381 350v3M381 359v2M381 367v3M381 372v3M381 381v2M382 72v3M382 86v2M382 94v3M382 199v2M382 314v3M382 334v11M382 350v6M382 359v2M382 364v3M383 75v2M383 312v2M383 323v3M383 339v3M383 353v3M384 210v2M384 215v3M384 221v2M384 312v2M384 326v2M384 331v6M384 353v3M384 375v6M384 383v3M385 86v8M385 314v3M385 326v2M385 334v3M385 339v3M386 64v2M386 72v5M386 91v3M386 298v3M386 334v3M386 339v3M386 350v3M386 386v3M387 75v2M387 80v3M387 207v3M387 218v3M387 235v2M387 287v3M387 292v6M387 303v3M387 312v2M387 331v3M387 339v3M388 72v3M388 88v3M388 97v5M388 298v3M388 312v2M388 331v3M389 83v5M389 232v3M389 268v2M389 320v3M389 326v2M389 331v3M389 361v3M390 221v2M390 226v3M390 276v3M390 287v3M390 334v3M391 212v3M391 232v3M391 237v6M391 268v2M391 292v3M391 320v3M391 339v3M391 367v3M392 226v3M392 281v3M392 320v3M392 331v3M392 342v3M392 381v2M392 386v3M392 394v3M393 69v3M393 290v2M393 312v2M393 339v6M393 353v3M393 364v3M393 370v2M393 375v6M393 383v3M393 394v3M394 69v6M394 88v3M394 221v5M394 229v3M394 251v3M394 257v2M394 298v3M394 312v2M394 323v3M394 331v6M394 342v3M395 77v3M395 91v6M395 257v2M395 337v2M396 91v6M396 221v5M396 232v3M396 240v3M396 281v3M396 323v3M396 334v3M397 223v9M397 246v5M397 257v5M397 276v3M397 284v6M397 342v3M398 69v3M398 80v3M398 215v3M398 232v3M398 276v3M398 281v6M398 290v5M398 345v3M399 80v3M399 94v3M399 248v3M399 290v5M399 326v2M399 342v3M399 350v6M400 69v3M400 80v3M400 88v3M400 94v5M400 240v3M400 284v6M400 295v8M401 66v3M401 91v3M401 279v2M401 287v8M402 64v2M402 72v3M402 235v5M402 243v3M402 281v3M402 295v3M402 312v2M402 320v3M402 331v8M402 350v3M403 61v3M403 75v2M403 80v3M403 221v2M403 276v3M403 298v3M403 320v3M403 326v5M403 350v3M403 359v2M404 58v3M404 80v3M404 240v6M404 328v3M404 334v3M405 83v5M405 221v2M405 240v3M405 276v3M405 287v3M405 292v6M405 320v3M405 328v3M405 334v3M405 339v3M405 345v5M405 353v3M405 359v2M406 64v5M406 155v2M406 218v3M406 237v3M406 259v3M406 270v3M406 276v3M406 281v3M406 303v3M406 331v3M406 339v3M406 345v3M407 72v5M407 152v3M407 218v3M407 281v3M407 287v3M407 328v3M407 353v6M408 152v3M408 240v6M408 248v3M408 257v5M408 328v3M409 196v3M409 218v3M409 262v3M409 312v2M409 320v3M409 326v2M409 361v3M410 243v3M410 279v5M410 350v6M411 328v3M411 370v2M411 378v3M412 262v3M412 284v3M412 312v2M412 320v3M412 331v6M413 257v2M413 290v2M413 331v6M413 345v3M413 353v3M414 212v6M414 246v2M414 281v3M414 287v3M414 314v3M414 326v2M414 331v3M415 210v2M415 262v3M415 301v2M415 350v6M415 359v2M415 370v2M416 72v3M416 210v2M416 243v3M416 262v3M416 268v2M417 86v2M417 215v3M417 323v3M417 342v3M418 80v6M418 88v3M418 212v3M418 262v3M418 268v2M418 281v3M418 312v2M418 337v2M419 64v5M419 80v8M419 210v2M419 276v3M419 295v3M419 303v3M419 339v3M419 345v3M419 361v6M420 80v6M420 207v3M420 314v3M420 328v3M420 342v3M421 83v3M421 88v3M421 210v2M421 248v6M421 292v3M421 303v3M421 350v3M422 66v3M422 72v3M422 212v3M422 279v2M422 312v2M422 320v3M422 326v2M422 334v5M422 345v8M423 75v2M423 80v3M423 88v6M423 215v3M423 328v3M423 334v3M424 64v2M424 88v3M424 254v3M424 284v3M424 295v3M424 314v3M424 320v3M424 326v5M424 334v3M424 342v6M424 353v3M424 364v6M424 372v3M425 86v2M425 94v5M425 257v2M425 284v3M425 292v3M425 328v3M425 348v5M425 356v11M426 52v3M426 83v3M426 199v2M426 298v3M426 345v3M426 350v3M427 75v2M427 135v3M427 212v3M427 259v3M427 265v3M427 279v2M427 284v3M427 290v2M427 323v3M427 345v3M427 350v3M428 77v3M428 254v3M428 259v3M428 281v3M428 326v8M428 345v3M428 353v3M428 359v2M429 94v3M429 210v2M429 273v6M429 281v3M429 301v5M429 334v8M429 364v3M429 370v2M430 212v3M430 314v3M430 320v3M430 331v3M430 345v3M430 370v2M430 375v3M431 77v3M431 91v3M431 135v3M431 210v2M431 287v3M431 301v2M431 331v3M431 345v3M431 353v3M431 361v3M432 64v2M432 97v2M432 210v2M432 314v3M432 320v6M432 328v3M432 334v3M432 339v6M432 356v3M432 361v6M432 372v3M433 97v2M433 146v3M433 163v3M433 298v3M433 317v3M433 323v5M433 339v6M434 72v3M434 91v6M434 135v3M434 166v2M434 207v3M434 259v3M434 273v3M434 320v3M434 367v3M435 55v3M435 86v2M435 91v3M435 146v3M435 268v2M435 292v9M435 326v5M435 337v2M435 356v5M436 141v3M436 146v3M436 155v2M436 196v3M436 257v2M436 337v2M436 359v2M436 370v2M437 152v3M437 259v3M437 270v3M437 320v3M437 328v3M437 342v3M438 94v3M438 257v2M438 301v2M439 61v3M439 86v2M439 94v3M440 86v2M440 257v5M440 312v2M440 350v3M441 58v3M441 94v5M441 207v3M441 265v3M441 339v3M441 345v3M441 372v3M442 66v9M442 83v3M442 94v3M442 268v2M442 301v2M442 314v3M442 326v2M442 334v3M442 364v3M443 64v2M443 72v3M443 77v6M443 273v3M443 334v3M444 80v3M444 210v2M444 268v2M444 273v3M444 279v2M444 314v6M444 339v3M445 80v6M445 262v3M445 345v3M445 364v6M445 381v5M446 66v3M446 287v3M446 312v5M446 320v3M446 334v5M447 64v2M447 77v6M447 287v3M447 339v3M448 77v3M448 86v2M448 268v2M448 314v3M448 337v2M449 72v3M449 83v3M449 91v3M450 64v2M450 80v3M450 210v2M450 298v3M450 303v3M451 265v3M451 290v2M451 317v3M451 339v6M451 348v2M452 64v2M452 83v3M452 97v5M452 207v3M452 279v2M452 284v3M453 66v3M453 91v3M453 99v3M453 273v3M453 303v3M453 314v3M454 72v3M454 80v3M454 102v3M454 201v6M454 265v3M454 290v5M454 303v3M454 312v5M455 66v3M455 303v3M456 64v2M456 99v3M456 199v2M456 268v2M456 290v8M457 99v3M457 204v3M457 273v3M457 281v3M458 80v3M458 105v3M458 210v2M459 66v3M459 212v3M459 273v3M459 353v3M460 69v3M460 210v2M460 276v3M461 97v2M461 276v3M461 295v3M462 295v3M463 102v6M463 207v3M463 284v6M463 301v5M464 66v3M464 281v3M464 292v3M464 298v5M465 66v3M465 102v3M465 331v3M466 69v3M466 86v2M466 97v8M466 201v3M466 292v6M467 94v3M467 292v3M467 298v3M467 320v3M467 337v2M468 75v8M468 86v2M468 292v3M469 320v3M469 326v2M470 295v3M470 303v3M472 317v3M472 323v3M473 201v3M474 72v3M474 83v3M474 91v3M475 72v3M475 83v3M475 94v3M475 312v2M476 94v3M477 72v3M477 199v2M478 102v3M478 196v3M479 196v3M480 80v3M480 86v2M480 97v2M480 196v3M481 80v3M481 94v3M482 80v3M482 88v3M483 86v2M483 91v3M485 72v3M485 91v3M486 88v3M486 94v8M487 75v8M488 52v3M488 75v5M488 86v5M488 99v3M488 196v3M489 75v5M489 83v14M490 77v3M496 201v3M499 201v3M507 196v3M508 196v3M509 190v3M510 190v3M513 66v3M513 72v8M514 72v3M514 204v3M515 61v5M515 199v2M516 61v3M517 163v3M517 168v3M517 199v2M518 83v3M519 190v3M520 55v3M521 83v5M522 58v3M522 88v3M523 88v3M525 58v3M527 58v3M528 199v2M529 58v3M529 91v3M530 94v3M531 94v3M532 61v3M532 94v3M533 204v3M535 58v3M535 91v3M536 58v3M536 66v6M536 75v2M536 86v2M536 212v3M537 64v16M537 86v2M537 207v3M537 212v3M538 61v3M538 196v3M538 218v8M539 58v3M539 207v3M539 212v6M539 221v2M540 64v2M540 99v3M540 135v3M540 223v6M540 232v5M541 97v2M541 102v3M541 196v3M541 201v3M541 210v2M541 215v6M542 61v3M542 94v3M542 201v9M542 212v3M544 64v2M545 204v3M545 212v3M546 66v3M546 196v3M546 207v3M546 215v3M546 226v3M547 99v3M547 201v6M548 97v2M549 69v3M549 196v5M549 212v9M550 64v2M550 75v2M550 212v3M551 99v3M552 69v6M552 86v5M552 201v3M552 210v2M552 215v6M552 223v9M553 69v3M553 86v2M553 91v3M553 99v3M553 196v3M553 212v3M553 218v8M553 232v3M554 97v5M554 135v3M554 188v2M554 221v2M555 66v3M556 69v3M556 97v2M556 183v2M556 226v3M557 99v3M557 183v2M557 201v3M558 72v3M558 97v2M558 204v3M559 188v2M559 201v3M559 232v8M560 75v2M560 199v2M560 207v11M561 207v3M561 218v5M561 237v3M562 64v2M562 196v3M562 204v3M563 64v2M563 83v3M563 210v2M563 221v2M563 232v3M564 64v2M564 204v6M564 212v3M565 69v6M565 199v2M565 204v8M566 97v2M566 212v6M567 88v3M567 188v2M568 61v3M568 204v3M568 229v8M569 226v3M569 237v6M570 72v3M570 80v3M570 91v3M570 188v2M570 248v3M570 254v3M571 66v3M571 72v3M571 80v3M571 91v3M571 97v2M571 183v2M571 199v2M571 229v3M571 240v3M571 248v3M573 58v3M573 183v2M573 188v2M573 199v2M573 235v2M574 226v3M575 80v3M575 183v2M575 196v3M575 204v3M576 201v3M576 207v3M576 240v6M577 55v3M577 83v3M577 185v5M577 204v6M577 221v2M577 226v3M578 196v3M578 201v3M578 232v3M579 55v3M579 188v11M580 58v3M580 102v3M581 188v2M581 221v2M581 235v2M582 55v3M582 193v3M582 221v2M582 229v6M583 135v3M583 229v3M583 235v2M584 55v3M584 201v3M585 72v3M585 185v3M585 190v3M585 223v3M585 229v3M586 226v6M587 55v3M587 183v2M587 201v3M588 183v2M588 232v5M589 102v3M589 240v3M590 58v3M590 80v3M590 199v2M590 210v2M590 221v2M590 229v11M590 251v3M591 61v3M591 66v3M591 188v8M591 199v5M591 240v3M592 61v3M592 80v3M592 86v2M592 235v2M593 86v2M593 235v2M594 61v5M594 88v3M594 99v3M594 196v3M594 229v8M595 69v3M595 75v2M595 86v2M595 99v3M596 88v3M596 223v3M597 188v2M598 183v2M598 235v5M599 226v3M599 232v5M601 185v3M601 190v3M601 237v6M602 83v3M602 188v2M602 237v3M602 246v2M603 69v17M604 69v3M604 83v3M604 188v2M604 232v3M604 237v3M605 80v6M605 235v2M606 72v3M606 83v5M606 229v6M607 69v3M607 77v3M607 83v5M607 232v3M608 72v19M608 223v3M609 72v11M609 86v5M609 185v3M609 193v3M610 75v5M610 86v5M610 232v3M610 237v3M611 75v5M612 75v5M612 183v2M612 188v5M612 251v3M613 69v17M613 235v2M614 88v3M614 229v3M615 72v3M615 86v2M615 232v3M616 75v11M616 237v3M616 287v3M617 80v3M617 199v2M617 243v8M618 240v8M618 257v2M619 66v3M619 237v6M620 61v8M620 235v11M620 273v3M620 281v6M621 61v5M621 243v3M622 61v3M622 240v8M622 257v2M622 262v3M622 284v3"/>
<path stroke="#00fffc" d="M278 61v3M278 69v3M278 317v6M278 328v6M278 339v6M278 350v6M278 361v6M278 372v6M278 389v3M279 61v3M279 69v3M279 317v6M279 328v6M279 339v6M279 350v6M279 361v6M279 372v6M279 389v3M280 61v3M280 69v3M280 317v6M280 328v6M280 339v6M280 350v6M280 361v6M280 372v6M280 389v3M281 61v3M281 69v3M281 317v6M281 328v6M281 339v6M281 350v6M281 361v6M281 372v6M281 389v3M282 61v3M282 69v3M282 317v6M282 328v6M282 339v6M282 350v6M282 361v6M282 372v6M282 389v3M283 61v3M283 69v3M283 317v6M283 328v6M283 339v6M283 350v6M283 361v6M283 372v6M283 389v3M284 83v3M284 97v2M284 381v2M284 386v3M285 91v3M285 364v3M285 386v3M286 367v3M286 400v3M287 80v3M287 317v3M287 331v11M287 345v14M287 370v2M287 383v3M288 320v6M288 339v3M288 364v3M288 381v5M288 389v5M288 400v3M289 77v3M289 353v3M289 361v3M289 372v3M289 378v3M289 386v3M289 397v3M290 77v3M290 83v5M290 97v2M290 356v3M290 381v8M290 400v3M291 75v2M291 370v2M291 381v2M291 392v5M292 80v3M292 97v5M292 383v3M293 323v3M293 328v3M293 334v3M293 353v6M293 392v2M294 83v3M294 94v3M294 356v3M294 361v3M294 372v3M294 378v3M294 389v3M294 397v3M295 83v5M295 94v3M295 359v5M295 386v3M296 75v2M296 80v3M296 364v3M297 97v2M297 314v3M297 339v3M297 356v5M297 367v3M297 381v5M298 77v6M298 97v5M298 273v3M298 279v2M298 328v3M298 356v3M298 361v3M298 375v3M298 394v6M299 94v5M299 317v3M299 323v5M299 337v5M299 350v6M299 392v2M300 99v6M300 367v5M301 248v3M301 359v8M301 372v6M301 394v3M302 370v2M302 397v3M303 94v3M303 323v3M303 328v3M303 334v3M303 348v2M303 378v3M304 94v5M304 353v3M304 367v3M304 378v3M304 386v8M305 72v3M305 97v2M305 337v2M305 342v3M305 361v6M306 323v3M306 364v3M307 69v6M307 77v3M307 86v2M307 135v3M307 353v3M307 370v2M308 75v2M308 94v3M308 135v3M308 314v3M308 328v6M308 378v3M308 383v3M309 69v3M309 91v3M309 326v2M309 342v3M309 359v2M309 378v5M309 386v3M310 69v3M310 91v3M310 378v3M311 69v8M311 80v3M311 312v2M311 331v3M311 348v2M312 69v3M312 292v3M312 298v3M312 303v3M312 345v3M312 359v5M313 66v6M313 83v3M313 91v3M313 386v3M313 394v3M313 403v2M314 69v3M314 350v3M314 361v3M315 97v2M315 337v2M315 364v3M315 370v2M316 69v3M316 91v3M316 276v3M316 312v2M316 323v5M316 342v6M316 353v6M317 88v3M317 348v5M317 375v3M318 254v3M318 259v3M318 375v3M319 75v2M319 94v3M319 334v3M319 356v3M319 378v3M320 314v3M320 361v3M320 367v3M321 61v3M321 356v5M321 381v2M321 394v3M321 400v3M322 337v5M322 345v3M322 370v2M322 383v6M323 64v2M323 262v3M323 317v3M323 328v6M324 69v6M324 328v3M324 345v3M324 350v3M324 372v3M324 378v3M324 389v3M325 97v2M325 312v5M325 328v3M325 337v2M325 359v2M326 97v2M326 353v6M326 372v3M327 64v2M327 337v2M327 342v6M327 353v3M327 381v2M327 386v6M328 64v2M328 69v3M328 83v3M328 88v3M328 268v2M328 317v3M328 326v5M328 339v3M328 375v3M328 397v3M329 86v5M329 348v2M329 356v3M329 375v3M329 381v2M330 69v3M330 94v3M330 281v3M330 337v5M330 359v2M330 364v3M331 86v2M331 94v3M331 314v3M331 320v6M331 350v3M331 389v8M332 314v3M332 339v6M332 350v3M332 378v5M333 80v3M333 88v3M333 331v6M333 339v6M333 350v3M333 361v3M333 372v3M333 381v2M333 386v3M334 61v3M334 88v3M334 323v8M335 58v3M335 91v3M335 326v2M335 353v3M335 359v2M336 80v3M336 91v3M336 135v3M336 314v3M336 345v3M336 361v3M336 381v2M337 235v8M337 276v3M337 350v3M337 356v5M338 64v2M338 86v2M338 320v3M338 328v3M338 334v3M338 348v2M338 370v2M339 88v3M339 331v3M339 339v6M339 361v3M340 61v3M340 75v2M340 350v3M340 361v9M340 383v3M341 80v3M341 320v3M341 331v8M341 356v3M342 91v3M342 317v3M342 359v2M342 370v2M342 383v3M343 83v3M343 246v2M343 251v3M343 359v8M343 372v6M344 83v3M344 345v3M344 350v3M344 359v5M344 367v3M345 61v3M345 72v3M345 135v3M345 326v2M345 331v3M345 339v11M345 359v2M345 367v3M346 273v3M346 279v2M346 342v3M346 361v6M347 75v2M347 248v6M347 290v5M347 320v3M347 326v2M347 334v5M347 345v3M348 353v3M349 317v3M349 326v2M349 342v3M349 356v8M350 58v3M350 86v2M350 356v3M350 364v6M350 386v3M351 80v3M351 86v5M351 331v8M352 61v3M352 83v3M352 350v6M352 375v3M353 61v5M353 83v3M353 345v3M353 356v3M353 392v2M354 66v3M354 83v3M354 312v2M354 317v6M354 326v2M354 353v3M354 383v3M354 394v3M355 61v3M355 370v2M356 58v3M356 317v3M356 323v5M356 342v3M356 372v3M356 389v3M358 72v3M358 88v3M358 323v3M358 331v3M358 367v3M358 383v3M359 80v3M359 328v3M359 353v6M359 367v3M360 80v3M360 314v3M360 348v2M361 61v3M361 69v3M361 303v3M361 320v3M361 337v2M361 345v5M361 386v3M361 397v6M362 72v3M362 339v3M363 58v6M363 72v3M363 251v3M363 345v3M363 359v2M363 367v5M364 61v3M364 69v3M364 86v5M364 270v3M364 348v2M365 83v3M365 348v2M365 370v2M366 64v5M366 72v3M366 88v3M366 259v3M366 290v2M366 298v3M366 312v2M366 339v3M366 359v2M366 386v3M367 58v3M367 86v2M367 361v3M368 77v3M368 328v3M368 337v2M368 370v5M368 389v3M369 88v3M369 243v3M369 301v2M369 339v3M369 353v3M370 86v2M370 345v8M371 61v3M371 66v6M371 80v3M371 86v2M371 326v2M371 372v3M371 397v3M372 58v3M372 69v8M372 83v3M372 323v5M372 334v3M372 339v3M372 361v6M372 375v6M373 72v8M373 86v2M373 337v2M373 356v3M373 381v2M374 72v5M374 314v3M374 334v3M374 345v3M374 361v3M374 367v3M375 72v5M375 303v3M375 317v6M375 337v8M375 364v6M375 383v3M376 75v2M376 86v2M376 276v3M376 298v8M376 317v3M376 348v2M376 359v2M376 403v2M377 334v3M377 339v3M378 64v5M378 75v2M378 298v3M378 303v3M378 331v6M378 345v3M378 350v3M378 381v2M379 83v3M379 88v3M379 248v3M379 323v5M379 334v3M380 64v2M380 72v3M380 97v2M380 201v3M380 210v2M380 218v3M380 331v3M380 342v3M380 389v5M380 400v3M381 69v3M381 221v2M381 229v3M381 268v2M381 298v3M382 75v2M382 80v3M382 201v3M382 215v6M382 223v3M382 317v6M382 331v3M382 345v3M383 80v3M383 314v3M383 359v8M383 370v2M384 75v2M384 94v3M384 212v3M384 339v3M384 345v5M385 83v3M385 94v3M385 317v3M385 331v3M385 337v2M385 342v6M386 66v3M386 80v8M386 284v3M386 301v2M386 381v2M386 389v3M387 66v3M387 83v3M387 221v2M387 290v2M387 298v5M387 314v3M387 345v5M388 69v3M388 75v2M388 80v3M388 86v2M388 301v2M388 323v3M388 339v3M388 348v2M388 367v3M389 69v3M389 97v2M389 328v3M389 337v2M389 342v3M390 83v8M390 320v8M390 345v3M390 359v2M390 364v3M391 88v3M391 223v3M391 229v3M391 270v3M391 295v3M391 323v3M391 342v8M391 372v3M392 88v3M392 243v3M392 295v3M392 303v3M392 314v3M392 339v3M392 383v3M392 400v3M393 88v3M393 326v2M393 361v3M393 389v3M394 83v3M394 226v3M394 232v5M394 273v3M394 284v3M394 328v3M394 348v2M395 72v3M395 88v3M395 221v2M395 226v6M395 254v3M395 270v3M395 281v3M395 287v3M395 292v3M395 312v5M395 320v3M395 326v2M396 72v3M396 226v6M396 235v2M396 279v2M396 328v6M396 342v3M396 348v11M397 262v3M397 312v5M397 331v3M397 364v3M397 372v3M397 378v3M397 383v3M398 273v3M398 295v3M398 320v3M398 331v3M398 337v2M398 353v3M398 370v5M398 383v3M399 215v3M399 232v3M399 246v2M399 392v2M399 397v3M400 221v2M400 237v3M400 265v3M400 303v3M400 339v6M400 353v6M401 72v3M401 215v3M402 66v3M402 83v3M402 88v3M402 284v3M402 361v3M402 370v2M403 58v3M403 64v2M403 77v3M403 223v3M403 303v3M403 342v3M403 348v2M403 356v3M403 361v6M403 370v2M404 61v8M404 72v3M404 218v3M404 276v3M404 295v11M404 337v2M404 348v2M404 356v3M404 364v3M405 64v5M405 72v5M405 135v3M405 237v3M405 251v3M405 273v3M405 279v2M405 290v2M405 298v3M405 342v3M405 356v3M406 75v2M406 235v2M406 262v3M406 295v8M406 314v3M406 320v3M406 328v3M406 342v3M406 353v3M406 400v3M407 155v2M407 221v5M407 235v2M407 251v3M407 276v3M407 284v3M407 323v3M407 339v3M407 350v3M408 218v3M408 314v3M408 326v2M408 372v3M409 237v3M409 290v2M409 295v3M409 314v3M409 337v2M409 372v3M410 240v3M410 257v2M410 268v2M410 273v3M410 303v3M410 359v2M410 367v3M410 375v3M411 135v3M411 215v3M411 290v2M411 312v2M411 337v2M411 348v2M411 359v2M411 364v3M412 268v2M412 276v3M412 281v3M412 301v2M413 243v3M413 298v5M413 317v6M413 361v6M414 279v2M414 292v3M414 328v3M414 339v3M414 372v3M415 265v3M415 284v3M415 312v2M415 342v3M415 356v3M415 361v6M416 298v3M416 317v3M416 323v3M416 353v6M416 397v3M417 317v6M417 326v2M417 334v3M417 350v3M417 372v3M418 215v3M418 295v3M418 334v3M418 345v3M418 353v3M419 69v3M419 246v2M419 251v3M419 298v5M419 312v5M419 326v2M420 75v5M420 210v2M420 254v3M420 331v3M421 77v3M421 135v3M421 276v8M421 339v3M421 353v3M422 75v5M422 83v3M422 91v3M422 257v2M422 317v3M422 328v3M422 339v6M422 353v6M422 364v6M422 386v3M423 77v3M423 276v3M423 281v3M423 292v3M423 331v3M424 80v3M424 246v2M424 298v3M424 312v2M424 317v3M424 375v3M425 66v3M425 80v6M425 88v3M425 339v3M426 86v5M426 201v3M426 295v3M426 356v5M427 61v3M427 83v5M427 287v3M427 314v3M427 334v3M427 353v3M427 370v5M428 61v3M428 66v3M428 75v2M428 83v3M428 88v3M428 287v3M428 361v3M429 58v3M429 66v3M429 80v6M429 212v3M429 246v5M429 265v3M429 287v3M429 298v3M429 356v3M429 367v3M430 66v6M430 248v3M430 270v3M430 295v3M430 301v2M430 326v2M431 64v2M431 292v3M431 337v5M431 348v2M431 359v2M432 94v3M432 331v3M432 348v2M432 375v3M433 64v2M433 80v3M433 94v3M433 144v2M433 160v3M433 207v3M433 254v3M433 303v3M433 314v3M433 320v3M433 337v2M433 350v3M433 372v3M434 86v2M434 144v2M434 317v3M434 364v3M435 61v5M435 135v3M435 160v3M435 262v3M435 361v3M436 88v3M436 152v3M436 157v3M436 166v5M436 254v3M436 268v2M436 314v3M436 339v3M436 348v2M436 356v3M437 86v2M437 94v3M437 160v3M437 251v3M437 268v2M437 284v3M437 290v2M437 317v3M437 339v3M437 350v3M438 58v3M438 66v3M438 72v3M438 86v5M438 303v3M438 345v3M438 350v3M438 386v3M438 392v2M438 400v5M439 58v3M439 301v2M439 328v3M440 66v9M440 94v3M440 254v3M440 262v3M440 348v2M440 372v3M441 64v2M441 83v3M441 88v6M441 210v2M441 348v5M441 356v3M442 88v3M442 257v8M442 270v3M442 303v3M442 317v6M442 337v5M442 345v3M442 356v3M443 75v2M443 212v3M443 257v2M443 339v6M444 75v5M444 265v3M444 312v2M445 75v2M445 259v3M445 265v5M445 273v3M445 292v3M445 334v3M445 339v3M445 372v3M446 72v8M446 212v3M446 257v2M446 303v3M446 328v3M447 75v2M447 292v6M447 317v6M447 334v5M448 75v2M448 88v3M448 210v2M448 262v6M448 270v3M448 312v2M448 356v3M449 75v5M449 295v6M449 303v3M449 312v5M449 370v2M450 83v3M450 97v2M450 276v3M450 314v3M450 331v3M451 83v3M451 292v6M451 314v3M451 323v3M451 328v6M452 69v3M452 265v3M452 270v3M453 64v2M453 72v3M453 94v5M453 268v2M453 290v2M454 75v2M455 80v3M455 99v3M455 268v2M455 298v5M455 314v6M456 201v3M457 287v3M458 270v3M459 99v3M460 64v2M460 91v3M460 212v3M460 312v2M461 207v3M462 199v2M463 91v3M463 281v3M463 290v2M463 295v3M464 303v3M464 320v6M465 334v3M466 290v2M466 303v3M467 75v2M467 204v3M467 287v5M467 295v3M468 287v5M468 298v3M469 75v2M469 91v3M469 204v3M469 298v3M469 328v3M470 72v3M471 72v5M471 196v5M471 292v3M471 298v5M472 314v3M472 331v3M473 80v6M473 91v3M473 97v2M473 204v3M474 88v3M475 75v2M475 86v5M475 207v3M476 72v3M476 91v3M477 91v6M478 80v3M479 80v3M479 97v2M480 75v5M481 75v5M481 88v3M481 196v3M483 77v3M484 88v6M485 199v2M486 77v3M486 83v3M487 83v3M488 83v3M488 91v3M490 199v2M498 199v2M506 201v3M509 196v3M514 66v6M514 75v5M515 66v6M515 77v6M516 201v3M517 80v3M517 174v3M517 185v3M518 61v3M518 183v2M518 199v2M519 80v3M519 188v2M520 199v2M521 58v3M523 58v3M524 88v3M525 91v3M525 201v3M526 91v3M527 91v3M528 61v3M530 88v3M530 199v2M531 61v3M531 86v2M533 61v3M533 91v3M534 61v3M534 94v3M536 64v2M536 72v3M536 196v3M536 221v5M537 80v3M537 210v2M537 221v2M537 226v3M538 135v3M538 199v8M538 210v8M539 91v3M539 97v2M539 210v2M539 229v3M540 97v2M540 229v3M541 66v3M541 88v3M541 99v3M541 199v2M541 221v2M542 91v3M542 223v9M543 61v3M543 94v3M543 232v5M544 102v3M545 66v3M545 99v3M545 201v3M545 210v2M545 223v3M546 199v2M546 221v2M547 207v5M547 218v5M548 196v3M549 97v5M549 204v6M550 196v3M550 204v3M550 218v3M551 69v3M551 94v3M551 201v3M551 207v3M552 75v5M552 199v2M552 204v3M552 212v3M553 83v3M553 88v3M553 229v3M553 235v2M554 69v3M554 75v2M554 207v3M554 215v3M555 69v3M555 199v2M555 207v11M556 188v2M557 72v3M557 199v2M557 204v8M557 221v2M557 226v3M558 75v2M558 223v3M559 72v5M559 223v3M560 72v3M560 102v3M560 196v3M560 221v2M560 229v6M561 69v3M561 99v3M561 196v3M561 204v3M561 212v3M561 223v12M562 66v3M562 94v3M562 201v3M562 223v3M563 199v2M563 207v3M563 223v3M564 94v3M564 196v3M564 223v3M564 229v11M565 77v3M565 196v3M565 201v3M565 229v11M566 66v3M566 196v8M566 218v3M567 64v2M567 86v2M567 91v3M567 97v2M567 223v3M568 64v2M568 91v3M568 237v3M569 66v3M569 243v8M570 69v3M570 75v5M570 83v3M570 251v3M570 259v3M571 69v3M571 75v2M571 86v2M571 204v6M571 246v2M572 97v5M572 229v22M573 61v3M573 102v3M573 204v6M573 237v9M573 248v3M574 80v3M574 232v3M574 237v6M575 232v3M575 237v6M576 196v5M576 246v2M577 183v2M577 199v5M578 235v5M580 99v3M580 201v6M580 229v3M581 229v6M581 237v3M581 248v3M582 99v3M582 183v2M583 58v3M583 72v3M583 196v3M583 237v3M584 102v3M584 232v8M585 61v3M585 135v3M585 196v3M585 232v3M585 237v3M586 58v3M586 99v6M586 232v3M586 237v6M586 248v6M587 232v3M588 61v3M588 99v6M588 223v3M589 243v5M589 257v2M589 262v3M590 135v3M590 226v3M590 240v6M590 248v3M590 254v3M590 259v6M591 102v3M591 135v3M592 83v3M592 88v3M592 97v5M592 240v3M593 58v6M593 83v3M593 88v3M593 403v2M594 66v14M594 86v2M594 240v8M595 72v3M595 80v6M595 91v8M596 229v6M597 226v9M598 243v3M598 251v3M598 257v5M599 237v6M600 235v2M601 183v2M601 188v2M602 229v3M602 240v6M602 248v3M602 254v5M603 240v8M604 75v5M604 240v3M604 248v3M605 69v3M605 240v8M606 77v6M606 235v11M607 72v5M607 80v3M607 237v6M608 232v8M609 190v3M609 248v9M609 259v6M610 240v11M610 295v3M611 240v3M612 246v5M612 254v3M613 232v3M613 237v3M613 279v13M614 75v13M614 232v3M614 246v2M614 270v3M615 77v9M615 235v13M616 240v6M616 248v3M616 281v3M617 251v8M618 69v3M618 251v3M618 259v3M618 265v3M618 284v3M619 69v3M619 235v2M619 243v5M619 254v3M619 262v6M619 284v6M620 246v5M620 268v5M620 276v5M620 287v8M621 66v3M621 246v2M621 265v3M621 270v6M622 251v6M622 265v8M622 279v5M623 183v2M624 183v2M625 183v2M626 183v2M627 183v2M628 183v2M629 183v2"/>
<path stroke="#00ffe2" d="M278 383v3M278 392v2M278 400v3M279 383v3M279 392v2M279 400v3M280 383v3M280 392v2M280 400v3M281 383v3M281 392v2M281 400v3M282 383v3M282 392v2M282 400v3M283 383v3M283 392v2M283 400v3M284 378v3M284 383v3M284 397v3M285 94v5M286 77v3M286 97v2M286 364v3M286 370v2M286 375v3M286 397v3M287 342v3M287 361v3M287 372v3M287 381v2M288 94v3M288 317v3M288 326v2M288 361v3M288 378v3M288 394v3M289 97v2M289 392v2M289 400v5M290 370v2M290 394v6M290 403v2M291 86v2M291 400v3M292 88v3M293 94v3M293 361v3M293 370v2M293 378v3M293 389v3M294 86v2M294 383v3M294 392v2M295 381v5M295 392v5M296 77v3M296 88v3M296 361v3M296 370v2M296 375v3M297 77v3M297 88v3M297 94v3M297 312v2M297 375v3M297 386v3M298 88v6M298 323v3M298 359v2M298 370v2M299 75v2M299 91v3M299 331v3M299 348v2M299 356v3M299 375v3M299 389v3M299 403v2M300 348v2M300 353v6M300 364v3M301 99v3M301 342v8M301 353v3M301 370v2M301 378v3M301 383v3M301 389v3M302 75v5M302 361v6M302 378v5M303 381v2M303 386v3M304 75v2M304 88v3M304 359v2M304 364v3M304 375v3M305 75v2M305 135v3M305 334v3M305 339v3M305 348v2M305 356v3M305 367v5M306 72v3M306 77v6M306 86v2M306 94v3M306 328v3M306 334v3M306 348v2M307 312v5M307 320v6M307 367v3M308 72v3M308 77v3M308 337v2M308 381v2M309 323v3M309 334v3M309 345v5M309 353v6M309 372v3M309 383v3M309 389v5M310 367v3M311 268v2M311 326v2M311 350v3M311 364v3M311 370v2M311 375v3M311 403v2M312 75v5M312 375v3M312 386v3M312 394v3M313 298v3M313 392v2M313 397v3M314 80v3M314 348v2M314 370v2M315 69v3M315 77v6M315 86v2M315 314v3M315 328v3M315 359v2M315 372v3M316 66v3M316 72v3M316 328v3M316 337v2M316 348v2M316 378v3M316 386v3M316 392v2M317 135v3M318 312v2M318 345v3M318 353v3M318 364v3M318 372v3M319 64v5M319 86v2M319 91v3M319 135v3M319 342v6M319 372v3M319 381v2M320 64v5M320 97v2M320 372v3M320 381v2M321 135v3M321 364v3M321 378v3M321 392v2M321 397v3M322 94v3M322 356v3M322 381v2M323 69v6M323 314v3M323 326v2M323 334v5M323 348v2M323 356v3M323 370v2M324 66v3M324 94v3M324 99v3M324 342v3M324 361v6M324 370v2M324 381v2M325 88v3M325 94v3M325 339v3M325 348v2M325 378v3M326 359v2M326 367v3M326 378v3M326 392v2M327 356v3M327 383v3M327 394v3M327 400v3M328 359v2M328 364v3M328 370v2M329 361v3M329 367v3M330 72v3M330 350v3M331 61v3M331 317v3M331 331v3M331 339v6M331 397v3M332 91v3M332 348v2M333 55v3M333 345v3M333 356v3M333 375v3M334 91v3M334 337v2M334 342v6M334 353v3M334 364v6M335 314v3M335 403v2M336 88v3M336 317v3M336 339v3M336 367v3M336 375v3M336 383v3M337 61v3M337 86v2M337 320v3M337 342v3M337 353v3M337 389v3M338 61v3M338 66v3M338 83v3M338 326v2M338 339v3M338 359v2M339 66v3M339 86v2M339 328v3M339 353v3M339 381v2M340 86v2M340 397v3M341 58v3M341 75v5M341 317v3M341 328v3M341 361v9M342 372v3M342 378v3M342 386v3M343 356v3M343 397v6M344 61v3M344 77v3M344 86v2M344 270v3M344 348v2M344 353v3M344 370v2M345 83v5M345 328v3M345 334v3M345 361v3M345 370v2M346 83v3M346 312v2M346 370v2M346 378v5M346 386v3M347 77v3M347 259v3M347 350v9M347 367v3M348 328v3M348 356v5M349 80v3M349 323v3M349 348v2M349 353v3M349 364v3M350 66v3M350 77v6M350 135v3M350 375v3M350 383v3M351 72v3M351 339v6M351 394v6M352 334v3M352 372v3M352 381v2M352 400v3M353 80v3M353 342v3M353 359v5M353 367v3M353 381v11M353 403v2M354 69v3M354 350v3M354 356v8M354 367v3M355 72v5M355 135v3M355 314v3M355 350v9M355 389v3M356 72v3M356 312v5M356 320v3M356 331v3M357 80v3M358 339v3M358 370v2M359 72v3M359 326v2M359 364v3M359 372v3M360 58v3M360 328v3M360 350v11M361 66v3M361 295v3M361 314v3M361 323v3M361 350v3M361 359v2M361 364v3M361 370v5M361 383v3M362 58v6M362 348v2M362 353v3M363 372v6M364 83v3M365 88v3M365 337v2M365 359v2M365 378v3M366 86v2M366 262v3M366 320v3M366 326v2M366 361v3M366 383v3M368 69v6M368 83v5M368 317v6M368 331v3M368 356v3M368 361v3M368 367v3M368 378v3M368 386v3M368 400v3M369 66v3M369 326v2M369 345v3M369 359v2M369 367v3M369 372v6M370 80v3M371 83v3M371 331v3M371 356v3M371 361v3M371 367v3M371 378v3M372 61v5M372 77v6M372 135v3M372 359v2M373 83v3M373 331v3M373 348v2M373 353v3M373 364v3M373 370v2M373 378v3M374 83v3M374 270v3M374 298v3M374 320v3M374 342v3M374 348v2M374 353v3M374 370v2M375 298v3M375 312v2M375 348v2M375 361v3M375 378v3M375 386v3M375 392v2M376 83v3M376 279v5M376 323v3M376 339v6M376 353v3M376 367v3M377 75v2M377 83v5M377 348v5M377 361v3M377 389v3M378 69v3M378 83v3M378 135v3M378 262v3M378 268v13M378 339v6M378 356v3M379 64v5M379 91v3M379 268v5M379 312v2M379 339v3M380 83v3M380 212v3M380 232v5M380 356v3M380 394v3M381 75v2M381 86v8M381 353v3M381 375v3M382 303v3M382 312v2M383 86v2M383 91v6M383 303v3M384 83v3M384 88v3M384 287v3M384 356v3M384 364v3M384 372v3M384 392v2M384 397v3M385 298v3M385 320v3M385 350v6M386 77v3M386 292v3M386 303v3M386 348v2M386 353v3M387 72v3M387 77v3M387 86v2M387 210v2M387 223v3M387 229v3M387 353v8M387 364v6M388 83v3M388 334v3M388 342v6M389 80v3M389 334v3M389 339v3M389 345v3M389 353v3M390 72v3M390 80v3M390 317v3M390 328v3M390 337v2M390 348v8M390 361v3M390 378v3M391 80v8M391 221v2M391 331v6M392 72v3M392 80v3M392 279v2M392 290v2M392 312v2M392 345v3M393 72v3M393 80v3M393 91v3M393 135v3M393 221v2M393 298v3M393 345v8M393 359v2M393 372v3M394 215v3M394 268v2M394 292v6M394 320v3M394 350v14M395 284v3M395 295v3M395 323v3M395 328v6M395 339v3M395 348v2M396 77v3M396 88v3M396 135v3M396 339v3M396 372v3M396 378v3M396 394v3M396 403v2M397 75v2M397 83v5M397 281v3M397 298v3M397 370v2M398 83v3M398 226v3M398 314v6M398 323v8M398 394v6M398 403v2M399 69v3M399 86v5M399 135v3M399 221v2M399 235v2M399 312v2M399 317v3M399 323v3M399 367v3M399 400v3M400 223v3M400 262v3M401 69v3M401 75v2M401 218v17M401 262v3M401 317v3M401 353v3M402 69v3M402 86v2M402 221v2M402 232v3M402 287v3M402 292v3M402 314v3M402 323v3M402 328v3M402 353v3M402 359v2M403 232v3M403 375v3M404 235v2M404 284v3M404 292v3M404 361v3M404 367v11M405 223v3M405 243v3M405 254v3M405 259v3M405 367v3M406 72v3M406 268v2M406 317v3M406 350v3M406 370v2M406 386v3M407 232v3M407 265v3M407 314v9M407 334v3M407 345v5M407 359v2M408 237v3M408 298v3M408 312v2M408 356v3M408 378v3M409 292v3M409 328v3M409 334v3M409 359v2M409 364v3M409 378v3M410 246v2M410 251v6M410 262v3M410 284v3M410 298v3M410 356v3M410 361v3M410 372v3M411 218v3M411 270v3M411 375v3M412 265v3M412 270v3M412 287v3M412 372v6M412 381v2M413 204v3M413 237v6M413 248v3M413 287v3M413 303v3M413 326v2M414 320v6M414 334v3M414 353v3M414 364v8M415 323v3M416 215v3M416 270v3M416 301v5M416 359v2M416 394v3M417 276v3M417 287v3M417 367v3M417 383v3M418 72v3M418 77v3M418 257v2M418 265v3M418 276v3M418 290v2M418 303v3M418 339v3M418 361v6M419 248v3M419 323v3M420 64v5M420 212v3M420 326v2M420 337v2M420 356v3M420 364v3M421 64v2M421 75v2M421 212v3M421 243v3M421 295v6M421 348v2M421 356v3M422 88v3M422 135v3M422 215v3M422 314v3M422 370v5M422 392v2M423 218v3M423 279v2M423 337v2M423 348v2M424 72v5M424 204v3M424 243v3M424 268v2M424 378v3M424 383v3M425 207v3M425 243v3M425 259v3M426 64v2M426 353v3M427 331v3M427 342v3M427 367v3M428 64v2M428 80v3M428 210v5M429 61v3M429 295v3M429 312v2M429 317v3M429 326v5M429 348v2M429 361v3M430 64v2M430 83v3M430 135v3M430 215v3M430 339v6M430 353v6M430 361v3M430 372v3M430 381v2M431 83v3M431 94v3M431 212v3M431 290v2M431 298v3M432 83v3M432 212v3M432 312v2M432 337v2M432 345v3M432 378v3M433 66v3M433 210v2M433 301v2M433 312v2M433 348v2M433 353v6M433 394v3M434 88v3M434 157v3M434 163v3M434 210v2M434 257v2M434 370v2M435 77v3M435 168v3M435 265v3M435 339v3M435 364v3M435 370v2M436 61v3M436 86v2M436 201v3M436 353v3M436 375v3M437 72v3M437 157v3M437 279v2M437 292v6M437 348v2M438 64v2M438 75v2M438 353v3M438 383v3M438 389v3M438 394v3M439 64v2M439 77v3M439 210v5M439 251v3M439 320v3M439 326v2M439 353v6M440 88v3M440 314v3M440 378v3M441 61v3M441 353v3M441 370v2M441 378v3M441 392v2M442 64v2M442 77v3M442 265v3M442 312v2M442 323v3M442 342v3M442 348v5M442 370v2M442 375v3M443 69v3M444 212v3M444 254v3M444 337v2M445 77v3M445 210v2M445 303v3M445 359v2M445 389v5M446 331v3M446 348v2M447 66v3M447 135v3M447 207v3M447 257v2M447 301v2M448 72v3M448 345v3M448 361v3M448 367v3M448 383v3M449 86v2M449 259v3M449 337v2M449 356v3M450 91v3M450 326v2M451 262v3M451 268v5M451 312v2M451 345v3M452 66v3M452 268v2M452 281v3M452 301v2M453 75v2M453 265v3M453 301v2M453 312v2M453 320v3M453 348v2M453 353v3M454 207v3M454 301v2M454 350v3M455 312v2M456 97v2M457 72v3M457 292v3M457 303v3M457 317v3M457 356v3M458 91v3M458 102v3M458 212v3M458 314v3M458 328v3M458 334v3M460 94v3M460 273v3M460 317v3M460 342v3M461 80v3M462 69v3M462 97v2M462 276v3M462 298v3M462 345v3M463 99v3M463 135v3M463 276v5M463 292v3M463 317v3M464 314v3M464 337v2M464 342v6M465 86v2M465 196v5M465 326v2M466 94v3M466 284v6M466 298v3M466 342v3M467 77v3M467 83v3M467 91v3M467 281v3M467 303v3M467 314v3M467 323v3M467 328v3M468 83v3M468 88v3M468 199v2M468 281v6M468 370v2M469 201v3M469 323v3M469 331v3M470 75v2M470 91v3M470 204v3M470 284v3M471 77v3M471 91v3M471 201v3M471 284v8M472 75v2M472 88v6M472 199v2M472 295v3M472 312v2M472 326v2M473 75v5M473 86v5M473 298v3M474 75v2M475 298v3M476 301v2M477 88v3M477 201v3M477 287v3M479 317v3M480 94v3M482 72v3M482 83v5M483 83v3M484 75v2M484 86v2M485 80v6M486 80v3M486 91v3M487 91v3M489 199v2M493 201v3M502 199v2M505 196v3M510 199v5M511 196v3M512 199v2M515 72v5M515 190v3M515 201v3M516 66v3M516 72v11M516 193v3M517 61v3M517 77v3M518 64v2M518 185v3M519 58v3M520 58v3M520 64v2M520 80v3M522 61v5M522 83v5M523 86v2M524 58v3M524 86v2M525 64v2M527 199v2M528 91v3M528 201v3M529 88v3M530 61v3M530 91v3M531 64v2M531 88v3M531 201v3M532 69v3M532 86v2M532 91v3M532 204v3M533 72v3M533 83v3M534 91v3M535 61v3M536 77v9M536 215v3M536 226v6M536 237v3M537 83v3M537 218v3M537 223v3M537 237v3M538 207v3M538 229v3M539 64v2M539 218v3M539 223v3M540 88v6M540 237v3M541 91v6M542 64v2M543 77v3M543 91v3M543 135v3M543 237v3M544 66v3M544 226v3M545 207v3M545 221v2M546 97v2M546 102v3M546 210v2M546 218v3M546 223v3M546 229v3M547 64v2M547 86v5M547 94v5M547 215v3M547 223v3M547 237v3M548 88v3M548 94v3M548 199v2M549 221v8M550 94v3M550 99v3M550 199v2M550 210v2M550 221v2M551 72v3M551 83v8M551 97v2M551 210v5M551 218v3M552 221v2M552 232v3M553 80v3M553 199v2M553 204v6M553 400v3M554 88v3M554 94v3M554 196v3M554 201v3M554 212v3M554 223v6M554 248v3M555 135v3M555 201v3M555 221v2M556 72v3M556 235v2M557 75v5M557 86v2M557 212v3M558 77v3M559 94v3M559 240v3M559 251v8M560 77v6M560 223v3M561 75v8M561 135v3M561 201v3M561 235v2M561 240v3M561 248v6M562 199v2M563 94v3M563 196v3M563 201v6M563 229v3M564 199v5M564 240v3M565 102v3M565 240v3M566 72v3M566 94v3M566 235v2M567 66v3M567 221v2M567 229v6M567 248v3M568 86v2M568 94v3M568 240v6M569 91v6M569 254v8M570 257v2M570 265v3M571 77v3M571 210v2M571 251v3M571 257v2M572 61v5M572 80v3M572 94v3M572 251v3M573 246v2M573 251v3M573 257v11M573 270v3M574 97v5M574 235v2M574 257v2M575 55v3M575 99v3M575 243v3M575 268v2M576 55v3M576 99v3M576 248v3M577 99v3M577 229v3M578 58v3M578 91v3M578 99v3M578 240v3M578 251v3M579 58v3M579 91v3M579 97v2M579 235v11M579 265v3M580 61v3M581 58v3M581 102v3M581 240v8M582 58v3M582 188v5M582 235v2M582 240v3M583 61v3M583 83v3M583 99v3M584 58v6M584 196v5M584 240v6M585 102v3M585 235v2M585 240v6M585 400v3M586 235v2M586 243v5M586 254v3M587 99v3M587 237v6M588 237v9M588 403v2M589 248v9M589 259v3M590 246v2M590 257v2M590 265v3M591 196v3M591 243v5M592 232v3M592 237v3M592 246v8M593 75v5M593 94v5M593 237v6M593 254v3M594 80v6M594 94v5M594 248v11M594 270v3M595 240v3M596 235v5M596 248v3M596 254v3M598 240v3M598 248v3M599 243v3M600 243v3M601 243v3M601 248v3M602 235v2M602 251v3M603 248v3M604 72v3M604 243v5M604 251v6M604 259v3M605 72v8M606 75v2M606 246v2M606 257v8M607 243v5M607 251v3M608 240v11M608 284v3M609 188v2M609 257v2M609 268v2M610 251v3M610 290v5M611 243v3M611 248v3M611 279v8M612 257v8M613 240v6M613 248v9M613 265v8M613 292v6M614 237v3M614 257v8M614 268v2M614 273v3M615 75v2M615 248v9M615 284v3M615 290v2M616 246v2M616 251v11M616 279v2M616 284v3M616 290v5M617 259v3M617 265v5M617 276v5M618 248v3M618 254v3M618 262v3M618 270v3M618 281v3M618 287v5M619 248v6M619 257v5M619 268v16M619 290v8M620 251v6M620 295v3M621 251v3M621 259v6M621 268v2M621 276v19M622 64v2M622 273v6M622 292v3M623 55v14M623 232v63M624 55v14M624 232v63M625 55v14M625 232v63M626 55v14M626 232v63M627 55v14M627 232v63M628 55v14M628 232v63M629 55v14M629 232v63"/>
<path stroke="#00ffc8" d="M278 386v3M278 403v2M279 386v3M279 403v2M280 386v3M280 403v2M281 386v3M281 403v2M282 386v3M282 403v2M283 386v3M283 403v2M284 77v3M285 77v3M285 83v3M285 394v3M286 80v6M286 378v5M286 394v3M287 97v2M288 77v6M288 88v3M288 403v2M289 94v3M289 370v2M290 364v6M291 77v3M291 88v3M292 94v3M292 386v3M293 359v2M293 383v3M293 397v3M294 88v3M294 381v2M295 389v3M296 372v3M297 80v6M297 350v6M297 370v2M297 392v2M297 403v2M298 364v6M298 378v3M298 383v6M299 88v3M299 320v3M299 359v5M299 367v5M299 386v3M299 397v3M300 83v3M300 88v3M300 94v5M300 345v3M300 350v3M300 372v3M300 392v2M301 88v3M301 367v3M301 386v3M301 392v2M301 397v3M302 353v6M302 372v6M302 400v3M303 91v3M303 270v3M303 279v2M303 337v2M303 392v2M303 397v6M304 91v3M304 350v3M304 356v3M304 394v3M305 80v3M305 353v3M305 372v3M305 389v3M306 83v3M306 331v3M306 339v6M306 353v8M306 367v3M307 317v3M307 361v6M308 394v3M309 75v5M309 317v3M309 364v3M309 397v3M310 75v2M310 88v3M310 257v2M311 83v3M311 345v3M311 372v3M312 86v2M312 295v3M312 356v3M312 381v2M312 403v2M313 86v2M313 389v3M314 364v3M314 378v3M314 386v3M315 72v3M315 356v3M315 361v3M315 367v3M315 381v2M316 135v3M316 320v3M316 334v3M316 367v3M316 381v2M317 400v3M318 350v3M318 359v2M318 392v5M319 348v2M319 353v3M319 361v3M319 367v5M319 375v3M319 394v6M320 72v3M320 378v3M320 383v3M320 400v3M321 72v3M321 91v3M321 383v3M321 403v2M322 88v6M322 372v3M322 392v2M322 397v3M323 312v2M323 320v3M323 350v3M323 359v5M323 367v3M324 97v2M324 254v3M324 367v3M324 383v3M325 342v6M325 361v6M325 370v2M326 94v3M326 383v3M327 91v3M327 290v2M327 364v3M327 392v2M327 397v3M328 66v3M328 135v3M328 372v3M328 378v3M328 392v2M328 400v3M329 64v2M329 75v2M329 91v3M329 372v3M329 378v3M329 400v3M330 66v3M330 91v3M330 348v2M331 66v3M331 75v2M331 345v3M331 353v3M331 375v3M331 400v3M332 83v3M333 58v6M333 75v2M333 86v2M333 353v3M333 383v3M334 331v3M334 339v3M334 356v5M334 372v3M334 378v3M335 61v3M335 372v3M335 378v3M335 389v3M335 397v3M336 326v2M336 331v3M337 66v3M337 323v3M337 392v2M338 69v3M338 135v3M338 350v3M338 375v6M339 77v3M339 135v3M339 345v3M339 367v3M340 64v2M340 80v3M340 389v3M341 370v2M341 394v3M342 64v2M342 69v3M342 77v9M342 364v6M342 375v3M342 381v2M343 77v3M343 378v3M343 392v2M344 64v2M344 75v2M345 372v6M345 381v5M345 392v5M346 64v8M346 75v2M346 372v3M347 348v2M347 359v5M347 375v3M347 383v3M348 334v3M348 348v2M348 361v3M349 69v3M349 337v2M349 400v3M350 72v3M350 378v5M350 389v8M351 66v3M351 77v3M351 83v3M351 345v3M351 361v3M352 72v3M352 77v6M352 342v3M352 378v3M352 386v3M352 394v3M353 75v5M354 75v8M354 328v6M354 337v5M354 345v5M354 392v2M355 69v3M355 80v6M355 394v3M356 69v3M356 80v3M356 367v3M356 392v5M357 72v3M357 77v3M357 383v6M357 392v2M358 69v3M358 80v6M358 345v3M358 350v6M358 359v5M358 375v3M358 381v2M358 392v2M359 77v3M359 359v2M359 370v2M360 312v2M360 317v3M360 386v3M360 392v2M361 64v2M361 77v3M361 312v2M361 317v3M361 367v3M361 375v3M361 381v2M362 314v3M362 397v3M363 361v3M363 378v3M364 72v3M364 320v3M364 350v3M364 356v3M364 375v3M365 86v2M365 350v6M365 364v6M365 372v3M366 135v3M366 392v2M367 66v3M368 61v3M368 66v3M368 135v3M368 314v3M368 323v5M368 334v3M368 364v3M368 375v3M368 394v3M369 61v3M369 361v3M369 370v2M370 64v2M370 359v5M370 389v3M371 64v2M371 72v3M371 77v3M371 364v3M371 383v3M371 389v3M372 345v3M372 370v2M372 383v6M373 80v3M373 345v3M373 359v2M373 386v3M373 403v2M374 80v3M374 135v3M374 268v2M374 337v2M374 359v2M374 375v3M375 80v3M375 135v3M375 394v3M375 400v3M376 77v3M376 284v3M376 290v2M376 314v3M376 320v3M376 345v3M376 350v3M376 394v3M376 400v3M377 337v2M377 345v3M377 400v3M378 72v3M378 348v2M378 386v3M378 400v3M379 72v3M379 80v3M379 337v2M379 348v2M379 359v2M380 69v3M380 75v2M380 199v2M380 229v3M380 334v5M380 350v3M380 361v3M381 80v3M381 201v3M381 210v2M381 226v3M381 348v2M381 378v3M381 383v3M382 91v3M382 210v2M382 232v3M382 323v3M382 361v3M382 372v6M382 392v2M383 320v3M383 367v3M383 375v3M383 383v3M383 389v3M384 77v3M384 86v2M384 298v5M384 323v3M384 367v3M384 400v3M385 75v8M385 348v2M386 69v3M386 361v6M386 372v9M387 69v3M387 226v3M387 370v2M387 383v3M388 337v2M388 353v3M388 359v2M388 372v3M389 75v2M389 314v3M389 350v3M389 356v5M389 364v6M389 383v3M390 77v3M390 342v3M390 370v2M391 72v3M391 254v5M391 265v3M391 298v3M391 328v3M391 337v2M392 83v3M392 301v2M392 350v6M392 367v3M392 372v3M393 86v2M393 223v3M393 303v3M393 356v3M393 367v3M393 392v2M394 80v3M394 86v2M394 287v5M394 303v3M395 86v2M395 223v3M395 290v2M395 298v3M395 303v3M395 317v3M395 350v3M396 86v2M396 237v3M396 284v3M396 337v2M396 345v3M397 72v3M397 80v3M397 91v3M397 303v3M397 317v9M397 381v2M397 386v6M398 86v2M398 221v5M398 229v3M398 301v2M398 312v2M398 334v3M398 339v3M398 392v2M399 72v3M399 218v3M399 229v3M399 320v3M399 356v3M399 403v2M400 91v3M400 226v3M400 232v5M400 259v3M400 345v5M400 361v3M401 77v9M401 88v3M401 312v5M401 342v3M401 359v5M401 397v3M402 75v8M402 229v3M402 298v3M402 372v3M403 69v3M403 226v3M403 314v3M403 367v3M403 372v3M404 221v2M404 229v3M404 287v3M405 226v11M405 262v3M405 337v2M405 361v6M405 375v3M405 400v3M406 221v2M406 279v2M406 337v2M406 348v2M406 356v8M406 367v3M406 383v3M407 226v6M407 337v2M407 375v3M407 383v3M408 221v2M408 265v5M408 337v2M408 348v8M408 361v6M408 375v3M408 383v3M409 221v2M409 303v3M409 317v3M409 331v3M409 345v3M409 353v3M409 367v5M409 400v3M410 212v3M410 287v3M410 295v3M410 301v2M410 370v2M410 378v3M411 221v2M411 226v3M411 273v6M411 292v3M411 389v3M412 135v3M412 237v6M412 295v6M412 303v3M412 337v2M412 367v3M412 383v3M412 392v2M413 207v3M413 284v3M413 314v3M413 323v3M413 367v5M414 312v2M414 378v3M414 394v3M415 212v3M415 290v5M415 367v3M415 375v3M415 392v2M416 240v3M416 331v3M416 400v5M417 268v2M417 290v2M417 314v3M417 337v5M417 345v3M417 375v6M417 386v6M418 243v3M418 248v3M418 254v3M418 292v3M418 342v3M418 348v2M418 356v5M418 367v3M419 72v3M419 77v3M419 212v6M419 356v3M420 69v6M420 215v3M420 323v3M420 339v3M420 345v3M420 350v3M420 359v5M421 66v3M421 246v2M421 301v2M422 323v3M423 69v3M423 323v3M423 339v3M423 353v3M423 378v3M424 251v3M424 270v3M424 281v3M425 295v3M425 392v2M426 204v3M426 361v3M426 367v3M427 64v2M427 69v3M427 215v3M427 246v2M427 326v2M427 364v3M428 334v5M428 356v3M428 364v8M428 375v3M429 72v3M429 86v5M429 215v3M429 279v2M429 331v3M429 350v3M430 72v3M430 86v2M430 303v3M430 312v2M430 337v2M430 348v5M430 359v2M430 378v3M431 66v3M431 88v3M431 295v3M431 350v3M432 69v3M432 75v2M432 88v3M432 215v3M432 248v3M432 326v2M432 381v5M433 69v6M433 86v2M433 152v3M433 212v3M433 345v3M433 361v6M433 392v2M433 397v6M434 66v3M434 80v3M434 212v3M434 361v3M434 372v3M434 381v2M435 75v2M435 259v3M436 75v5M436 83v3M436 144v2M436 149v3M436 199v2M436 251v3M437 75v2M437 83v3M437 88v3M437 135v3M437 215v3M437 312v2M437 323v3M437 375v3M437 381v2M438 80v3M438 254v3M438 334v3M438 339v6M438 359v5M438 372v3M438 397v3M439 80v3M439 331v3M440 212v3M440 317v3M440 353v6M440 370v2M441 66v3M441 77v3M441 342v3M441 375v3M442 80v3M442 331v3M442 378v3M443 254v3M443 386v3M444 135v3M444 350v3M445 257v2M445 276v3M445 342v3M445 353v6M445 361v3M445 403v2M446 254v3M446 353v6M447 72v3M447 298v3M447 303v3M447 312v5M447 353v3M447 381v2M447 403v2M448 69v3M448 135v3M448 212v3M448 342v3M448 348v2M448 364v3M448 372v3M448 389v3M449 69v3M449 88v3M449 210v2M449 342v3M449 350v3M449 364v3M450 66v3M450 72v8M450 86v2M450 212v3M450 265v3M450 323v3M450 334v5M450 348v2M450 392v2M451 64v5M451 210v2M451 320v3M451 326v2M451 364v3M452 86v2M452 273v6M452 314v9M452 328v3M453 83v5M453 135v3M453 262v3M453 334v3M453 350v3M453 403v2M454 77v3M454 99v3M454 135v3M454 262v3M454 270v3M454 298v3M454 323v3M454 328v3M455 72v8M455 207v5M455 337v2M456 66v3M456 265v3M456 314v3M456 331v3M457 91v3M457 290v2M457 301v2M458 72v3M458 265v5M458 303v3M458 326v2M458 331v3M459 80v3M459 215v3M459 270v3M459 303v3M459 350v3M459 359v2M460 66v3M460 268v5M460 301v2M460 323v3M460 348v5M461 69v3M461 210v2M461 270v6M461 353v6M462 72v5M462 201v3M463 97v2M463 210v2M463 270v6M463 367v3M464 77v3M464 88v3M464 97v2M464 207v3M464 279v2M464 339v3M464 348v8M465 97v2M465 276v3M465 290v5M465 298v3M465 303v3M465 328v3M466 75v2M466 83v3M466 135v3M466 204v3M466 301v2M466 312v2M467 207v3M467 301v2M467 312v2M467 317v3M467 326v2M467 334v3M468 201v3M468 279v2M468 312v5M468 364v3M468 381v2M469 317v3M470 290v2M470 320v3M471 204v3M471 281v3M472 201v3M472 320v3M472 334v3M472 345v3M473 342v3M474 199v5M474 317v3M475 301v2M475 342v3M476 77v6M476 88v3M476 298v3M477 75v2M477 284v3M477 290v8M478 86v2M478 94v5M479 83v5M479 94v3M479 199v2M479 314v3M480 88v6M481 83v3M482 199v2M482 314v3M483 201v3M484 83v3M484 320v3M485 77v3M485 86v5M485 201v3M488 323v3M495 312v2M496 204v3M497 199v2M503 199v2M504 196v3M512 190v3M516 64v2M516 69v3M517 75v2M517 171v3M518 66v3M518 80v3M518 201v3M519 61v3M519 66v3M520 61v3M520 66v3M521 61v8M521 199v2M522 199v2M523 61v3M523 199v2M524 199v2M525 61v3M525 88v3M526 88v3M526 201v3M527 88v3M529 83v3M530 66v6M530 86v2M530 201v3M531 69v3M531 91v3M532 64v5M533 64v2M533 69v3M536 204v3M536 210v2M536 218v3M537 229v3M538 77v3M538 86v2M538 246v2M538 254v3M538 400v5M539 88v3M539 94v3M539 226v3M539 232v3M540 94v3M540 240v3M540 246v2M541 86v2M541 223v3M542 86v2M542 246v2M543 83v3M544 83v3M544 99v3M544 403v2M545 94v5M545 215v3M546 88v6M546 99v3M547 226v3M547 232v3M547 240v3M548 135v3M548 201v3M548 215v6M548 254v3M549 64v2M549 88v3M549 94v3M549 237v6M549 248v3M549 254v3M550 86v2M550 97v2M550 201v3M550 207v3M550 223v9M551 75v5M551 204v3M551 215v3M552 237v3M553 201v3M553 210v2M553 237v6M554 86v2M554 91v3M554 199v2M554 210v2M554 229v11M554 246v2M554 254v3M555 94v3M555 204v3M555 218v3M555 254v3M556 229v6M556 237v3M557 97v2M557 229v3M557 235v5M557 243v3M557 254v5M558 94v3M558 221v2M558 232v3M558 246v2M559 243v8M560 201v3M560 226v3M560 237v6M560 251v3M560 259v3M560 400v5M561 72v3M561 94v5M561 199v2M561 246v2M561 254v3M562 88v6M562 226v3M562 232v3M562 403v2M563 66v3M563 72v3M563 226v3M563 235v16M564 72v3M564 248v3M565 94v3M565 99v3M565 243v3M565 254v5M566 69v3M566 207v3M566 221v5M566 232v3M566 237v6M566 248v6M566 397v3M567 69v3M567 94v3M567 226v3M567 235v2M567 240v3M567 265v3M567 397v3M567 403v2M568 246v8M569 86v2M569 251v3M570 262v3M571 254v3M571 259v3M572 66v3M572 72v3M572 83v3M572 257v5M572 265v3M573 72v3M573 97v5M573 254v3M573 268v2M574 135v3M574 243v5M574 254v3M574 259v9M574 403v2M575 77v3M575 97v2M575 246v8M575 257v8M576 80v3M576 251v8M577 58v3M577 80v3M577 232v5M578 86v5M578 243v5M578 254v3M579 246v8M579 257v2M580 86v2M580 91v3M580 243v5M580 251v3M581 61v3M581 99v3M581 254v3M581 259v3M582 64v2M582 97v2M582 135v3M582 237v3M582 243v3M583 69v3M583 80v3M583 240v6M583 248v6M583 259v3M583 397v3M584 80v3M584 97v2M585 188v2M585 397v3M585 403v2M586 61v3M586 97v2M586 257v8M586 270v3M587 58v3M587 66v3M587 243v8M588 66v3M588 246v2M588 254v3M588 394v3M589 61v3M589 99v3M589 265v3M590 61v3M590 99v3M590 268v2M591 86v2M591 251v3M592 72v8M592 94v3M592 243v3M592 254v5M593 64v2M593 72v3M593 91v3M593 246v8M593 259v3M594 91v3M594 259v11M595 243v8M595 254v3M596 240v6M596 251v3M596 262v3M597 235v2M597 240v3M597 248v3M598 246v2M598 254v3M598 262v3M598 268v5M598 276v5M598 400v3M599 248v11M599 262v3M599 276v3M599 392v2M599 397v3M600 237v6M600 273v6M600 284v3M601 246v2M602 265v3M603 251v3M603 257v11M603 270v3M603 276v3M604 257v2M605 248v3M605 254v3M606 248v6M606 270v3M606 290v2M607 235v2M607 248v3M608 251v8M608 270v3M608 279v2M608 292v3M609 265v3M609 276v3M609 284v3M609 292v3M610 259v3M611 251v14M611 268v2M611 273v6M611 287v3M611 292v3M612 265v3M612 273v17M612 292v3M613 246v2M613 257v8M613 273v6M614 240v6M614 248v9M614 265v3M614 276v3M614 281v11M614 295v3M615 257v8M615 270v3M615 276v8M615 287v3M615 292v3M616 262v17M616 295v3M617 262v3M617 270v6M617 281v6M617 290v8M618 268v2M618 273v8M618 292v6M620 257v11M621 248v3M621 254v3M622 287v5M622 295v3"/>
<path stroke="#00ffaf" d="M278 97v41M278 394v6M279 97v41M279 394v6M280 97v41M280 394v6M281 97v41M281 394v6M282 97v41M282 394v6M283 97v41M283 394v6M284 389v5M286 88v6M286 383v6M287 83v3M287 88v6M287 378v3M289 86v2M289 367v3M290 372v6M291 397v3M293 364v6M293 372v3M293 386v3M294 375v3M294 400v3M295 88v3M295 378v3M296 403v2M297 397v3M298 276v3M298 381v2M298 389v5M298 400v3M299 77v3M299 83v3M299 345v3M300 80v3M300 359v2M300 375v3M300 386v3M300 394v3M300 400v3M301 80v3M301 86v2M301 91v3M301 400v5M302 91v3M302 135v3M303 75v2M303 389v3M303 394v3M303 403v2M304 77v6M304 86v2M304 361v3M305 77v3M305 91v3M305 345v3M305 381v2M305 400v5M306 361v3M306 389v3M307 80v3M307 88v3M307 356v3M307 375v3M307 392v2M307 397v3M308 86v2M308 386v3M308 400v3M309 72v3M310 72v3M310 254v3M310 259v3M311 270v3M311 356v3M311 361v3M311 386v3M311 392v2M311 397v3M312 72v3M312 364v6M312 378v3M312 392v2M312 400v3M313 72v5M314 72v3M314 367v3M314 372v6M314 383v3M314 392v2M314 397v3M315 378v3M316 77v6M316 394v3M316 400v3M317 72v3M317 91v3M317 392v2M318 83v3M318 91v3M318 367v3M318 386v3M318 403v2M319 83v3M319 88v3M319 359v2M319 364v3M319 386v3M320 88v6M320 356v3M320 386v3M320 392v2M321 88v3M321 375v3M321 386v3M322 64v2M322 342v3M322 359v5M322 367v3M322 378v3M322 400v3M323 353v3M323 381v2M323 389v3M324 91v3M324 246v2M324 251v3M325 91v3M325 386v6M326 66v3M326 370v2M326 375v3M326 381v2M326 386v3M327 66v3M327 86v2M327 370v5M328 350v3M328 367v3M328 389v3M328 403v2M329 77v3M329 364v3M329 383v3M329 397v3M330 80v6M330 88v3M330 276v3M330 345v3M330 361v3M330 367v8M331 83v3M331 91v3M331 386v3M332 61v3M332 72v3M332 88v3M332 386v3M332 392v5M333 83v3M333 364v3M334 64v2M334 75v5M334 361v3M334 370v2M334 381v2M334 386v3M334 397v3M335 64v2M335 77v6M335 381v2M335 386v3M336 66v3M336 86v2M336 328v3M336 370v5M336 386v3M337 83v3M337 348v2M337 364v3M337 370v2M337 383v3M337 397v8M338 72v3M338 80v3M338 342v3M338 381v2M339 75v2M339 337v2M339 350v3M339 356v5M339 364v3M340 77v3M340 370v2M340 378v5M340 386v3M341 64v2M341 83v3M341 350v3M341 372v3M341 378v3M341 383v3M342 75v2M342 394v3M343 64v2M343 75v2M343 350v6M343 381v5M344 356v3M344 381v5M344 392v2M344 397v8M345 66v3M345 77v3M345 337v2M345 386v6M345 397v3M346 80v3M346 367v3M346 383v3M346 403v2M347 314v3M347 370v2M348 370v2M348 386v3M348 392v5M349 370v2M350 69v3M350 83v3M350 400v3M351 348v2M351 353v3M351 364v3M351 400v3M352 356v3M352 392v2M352 397v3M353 69v6M353 372v3M353 378v3M353 394v3M354 72v3M354 323v3M354 370v2M355 367v3M356 83v3M356 328v3M356 334v3M356 364v3M356 397v3M357 69v3M357 75v2M357 83v3M358 337v2M358 372v3M358 389v3M358 394v6M359 75v2M359 83v3M359 375v6M359 386v3M360 66v3M360 83v3M361 80v3M361 301v2M361 378v3M361 403v2M362 80v6M362 312v2M362 364v3M362 389v3M363 80v3M363 350v3M363 383v3M364 370v2M364 378v3M365 397v3M366 257v2M366 389v3M367 61v5M367 80v3M367 372v3M367 383v3M368 64v2M368 397v3M368 403v2M369 64v2M369 75v2M369 83v3M369 383v3M370 72v3M370 77v3M370 83v3M370 356v3M370 364v3M371 75v2M371 370v2M371 386v3M372 342v3M372 348v8M372 367v3M372 372v3M372 381v2M372 389v3M373 339v3M373 361v3M373 367v3M373 372v3M373 392v8M375 86v2M375 314v3M375 353v3M375 370v5M375 381v2M375 397v3M376 370v2M376 389v5M376 397v3M377 77v3M377 342v3M377 353v3M377 359v2M377 364v3M378 353v3M378 389v3M379 69v3M379 75v2M379 361v3M379 367v3M380 204v6M380 223v3M380 348v2M380 353v3M380 359v2M381 199v2M381 212v6M381 356v3M381 389v3M382 204v3M382 229v3M382 383v3M382 397v3M383 372v3M383 378v5M383 386v3M384 72v3M384 359v2M384 370v2M384 389v3M384 394v3M385 72v3M385 375v3M385 383v3M386 356v5M386 370v2M386 383v3M386 392v5M386 400v3M387 212v3M387 375v8M387 386v8M388 77v3M388 361v6M388 375v3M389 72v3M389 77v3M389 381v2M389 389v3M390 339v3M390 375v3M390 383v9M390 400v3M391 259v6M391 279v2M391 287v3M391 312v2M391 326v2M392 86v2M392 284v6M392 359v2M392 378v3M392 403v2M393 83v3M393 226v3M393 232v3M393 386v3M393 403v2M394 276v3M394 337v2M394 364v6M394 375v3M395 80v6M395 301v2M395 334v3M395 356v3M395 400v5M397 77v3M397 88v3M397 375v3M398 72v5M398 88v3M398 375v3M398 381v2M399 83v3M399 91v3M399 226v3M399 314v3M399 359v2M399 364v3M399 375v3M399 389v3M399 394v3M400 83v5M400 229v3M400 359v2M400 364v6M400 375v3M401 364v6M401 392v5M402 356v3M402 364v3M403 229v3M403 301v2M403 312v2M403 353v3M404 223v3M404 232v3M404 290v2M404 381v2M404 403v2M405 246v2M405 257v2M405 303v3M405 370v2M406 265v3M406 326v2M406 372v6M406 403v2M407 268v2M407 273v3M407 326v2M407 378v3M407 389v3M407 397v3M408 223v12M408 303v3M408 359v2M408 367v5M409 235v2M409 298v3M409 350v3M409 375v3M409 381v5M410 237v3M410 248v3M410 364v3M411 223v3M411 235v2M411 248v3M411 381v2M412 273v3M412 279v2M412 290v2M412 342v3M412 389v3M413 226v3M413 232v5M413 246v2M413 251v6M414 218v3M414 295v3M414 350v3M414 361v3M414 375v3M414 381v2M415 248v3M415 372v3M415 381v5M416 212v3M416 218v3M416 348v2M416 386v3M417 265v3M417 270v3M417 279v5M417 298v3M417 303v3M417 331v3M417 348v2M417 356v3M417 381v2M417 392v2M417 403v2M418 218v3M418 298v3M418 370v2M419 218v3M419 320v3M419 367v3M419 397v3M420 348v2M421 215v3M421 240v3M421 359v2M421 370v2M422 218v3M422 254v3M422 359v2M422 375v3M423 135v3M423 221v5M423 345v3M423 350v3M423 361v9M423 381v5M423 400v3M424 240v3M424 323v3M424 381v2M425 72v3M425 240v3M425 367v3M425 394v3M426 66v6M426 207v3M426 243v3M426 375v3M426 403v2M427 66v3M427 218v3M428 207v3M428 215v3M428 403v2M429 64v2M429 75v2M429 243v3M429 292v3M429 314v3M429 320v6M429 359v2M429 375v3M430 77v3M430 88v3M430 218v3M430 246v2M430 251v3M430 259v3M430 383v3M431 75v2M431 215v6M431 248v3M431 364v3M432 72v3M432 350v3M433 75v2M433 83v3M433 215v3M433 359v2M433 367v3M433 381v8M434 69v3M434 152v3M434 359v2M434 375v3M434 383v3M435 80v6M435 199v5M436 72v3M436 80v3M436 163v3M437 218v3M437 248v3M437 262v3M437 345v3M437 370v2M437 378v3M437 383v3M438 210v2M438 337v2M438 356v3M438 381v2M439 69v3M439 323v3M439 337v2M439 348v5M439 359v5M439 370v2M440 367v3M440 381v5M441 212v6M441 359v8M441 381v5M441 400v3M442 254v3M442 359v5M442 367v3M442 403v2M443 345v3M444 251v3M444 348v2M444 364v3M444 370v2M445 212v3M445 348v2M445 394v3M446 215v6M446 251v3M446 326v2M447 69v3M447 212v3M447 254v3M447 345v5M448 334v3M448 339v3M448 378v5M449 301v2M449 317v3M449 328v3M449 348v2M449 367v3M449 381v2M449 392v2M450 69v3M450 88v3M450 257v2M450 262v3M450 317v6M450 345v3M450 361v3M451 72v3M451 259v3M452 72v3M452 88v3M452 210v2M452 262v3M452 298v3M452 312v2M452 337v2M452 342v3M452 353v3M453 77v3M453 88v3M453 207v5M453 257v2M453 292v3M453 323v3M453 328v3M453 342v3M454 94v3M454 210v5M454 295v3M454 317v3M454 345v3M454 364v3M455 69v3M455 97v2M455 262v3M455 383v3M455 397v3M456 204v3M456 262v3M456 317v3M456 326v2M457 97v2M457 268v5M457 328v3M457 348v2M457 353v3M457 359v2M458 88v3M458 99v3M458 215v3M458 317v3M458 337v2M458 345v5M458 389v3M459 91v3M459 97v2M459 265v5M459 301v2M459 345v5M459 356v3M459 361v3M460 80v3M460 215v3M460 262v6M460 320v3M460 353v3M461 326v5M461 361v3M462 94v3M462 268v2M462 273v3M462 301v2M462 339v6M462 348v2M463 94v3M463 268v2M463 298v3M463 353v3M463 361v6M464 75v2M464 86v2M464 94v3M464 210v2M464 270v3M464 276v3M464 312v2M464 317v3M464 331v3M465 91v6M465 279v5M465 295v3M465 348v2M466 91v3M467 88v3M467 331v3M467 392v2M468 276v3M468 301v2M468 350v3M468 356v3M469 207v3M469 281v11M469 303v3M469 314v3M469 345v3M469 350v3M470 86v2M470 276v8M470 287v3M470 292v3M470 312v2M471 80v3M471 279v2M471 317v3M471 328v3M471 345v3M471 392v2M472 77v3M472 83v3M472 287v8M472 303v3M472 328v3M472 339v6M473 290v2M473 337v2M474 279v2M474 284v6M474 350v3M475 210v2M475 303v3M475 314v6M475 334v5M476 75v2M476 86v2M476 290v5M476 331v6M477 77v6M477 86v2M477 298v8M477 320v3M478 83v3M478 88v6M478 199v2M479 88v6M479 320v3M479 337v2M480 353v3M481 86v2M482 317v3M483 80v3M484 77v3M485 323v3M486 196v3M486 312v5M489 342v3M490 201v3M498 201v3M499 204v3M502 201v3M508 199v2M513 199v2M514 207v3M515 193v3M517 64v11M517 201v3M518 77v3M519 64v2M519 199v2M520 77v3M521 69v3M521 80v3M522 69v8M522 201v3M524 61v3M525 86v2M526 61v3M527 61v3M527 201v3M528 66v3M529 66v6M530 64v2M531 66v3M531 204v3M532 83v3M532 88v3M532 207v3M533 66v3M533 207v3M534 69v3M534 83v3M535 69v3M536 199v5M536 232v5M536 243v3M537 235v2M537 240v17M538 64v5M538 72v3M538 235v2M538 243v3M538 248v6M538 259v3M538 392v2M538 397v3M539 86v2M539 235v11M540 66v3M540 86v2M540 243v3M540 248v9M541 226v6M541 243v3M542 88v3M542 232v3M542 240v3M542 248v3M543 80v3M543 86v2M543 243v3M544 91v6M544 229v6M545 80v3M545 88v3M545 218v3M545 235v5M545 251v3M546 94v3M546 232v5M546 240v8M546 400v3M547 80v6M547 91v3M547 229v3M547 235v2M547 243v8M548 77v3M548 83v5M548 207v8M548 226v3M548 248v6M549 77v3M549 86v2M549 91v3M549 229v8M549 243v3M549 251v3M550 66v3M550 77v3M550 83v3M550 88v6M550 215v3M550 232v5M550 240v3M550 246v11M551 221v5M551 248v9M551 389v3M551 403v2M552 240v3M552 248v3M552 257v2M553 77v3M553 248v3M553 257v2M553 403v2M554 204v3M554 240v6M554 251v3M554 257v2M555 72v8M555 91v3M555 223v3M555 232v3M556 77v3M556 94v3M556 400v5M557 223v3M557 232v3M557 240v3M557 246v8M558 226v6M558 235v11M558 254v3M559 80v3M559 259v9M560 94v8M560 204v3M560 235v2M560 243v3M560 248v3M561 88v3M561 243v3M561 259v3M561 392v2M561 397v3M562 69v3M562 229v3M562 235v2M562 251v3M563 69v3M563 91v3M563 251v3M563 259v3M564 69v3M564 91v3M564 243v5M564 251v6M565 75v2M565 97v2M565 246v8M565 259v3M565 270v3M566 204v3M566 226v6M566 243v5M566 394v3M567 83v3M567 237v3M567 243v5M567 251v6M567 259v6M567 268v2M567 276v3M568 66v3M568 254v3M568 259v3M568 403v2M569 72v3M569 80v6M569 262v3M569 389v3M569 400v3M570 270v3M571 262v8M572 69v3M572 75v2M572 254v3M572 262v3M572 270v3M573 75v2M573 273v6M574 58v3M574 64v2M574 72v3M574 248v6M574 268v5M575 69v6M575 254v3M575 265v3M575 270v3M576 69v6M576 259v3M577 237v17M577 257v2M577 262v11M577 276v3M578 61v3M578 94v3M578 248v3M578 257v5M578 265v3M578 400v3M579 61v3M579 83v8M579 94v3M579 254v3M579 259v6M579 268v8M580 55v3M580 94v5M580 232v5M580 240v3M580 248v3M580 257v2M580 262v6M581 86v8M581 251v3M581 257v2M581 262v8M581 403v2M582 69v3M582 83v3M582 94v3M582 246v5M582 254v3M583 64v2M583 86v2M583 97v2M583 246v2M583 254v5M583 262v6M583 270v3M584 64v2M584 86v2M584 246v5M584 254v3M585 64v2M585 80v3M585 248v14M585 392v5M586 64v5M586 80v3M586 265v5M587 64v2M587 97v2M587 251v6M587 279v5M587 403v2M588 64v2M588 97v2M588 248v6M588 257v5M588 392v2M588 397v6M589 64v2M589 72v3M589 77v3M589 94v3M589 268v8M589 281v3M590 75v2M590 270v3M590 400v3M591 72v3M591 77v3M591 248v3M591 254v3M592 259v6M592 268v2M592 273v3M593 66v6M593 80v3M593 243v3M593 257v2M593 262v8M593 273v3M593 281v3M593 400v3M594 273v6M594 281v3M595 251v3M595 257v2M596 246v2M596 257v5M596 265v3M597 237v3M597 243v5M597 251v3M598 265v3M598 273v3M598 287v3M598 394v3M598 403v2M599 246v2M599 259v3M599 268v2M599 273v3M599 279v5M599 400v3M600 246v2M600 265v8M600 279v5M600 397v3M600 403v2M601 251v6M602 259v3M603 254v3M603 268v2M603 273v3M603 284v3M604 262v3M604 279v11M604 292v3M605 251v3M605 257v2M605 262v3M605 284v3M605 290v2M605 295v3M606 254v3M606 265v5M606 276v3M606 284v6M606 292v9M607 254v8M607 403v2M608 259v6M608 268v2M608 276v3M608 281v3M608 287v5M608 295v3M609 270v6M609 279v5M609 290v2M609 295v6M609 394v3M610 254v5M610 284v3M610 298v3M611 246v2M611 265v3M611 270v3M611 290v2M611 295v3M611 400v3M612 268v5M612 290v2M612 295v3M613 403v2M614 235v2M614 279v2M614 292v3M615 265v5M617 287v3M617 298v3M618 298v3M620 298v3M621 257v2M621 295v3M623 295v3M624 295v3M625 295v3M626 295v3M627 295v3M628 295v3M629 295v3"/>
<path stroke="#00ff95" d="M286 389v3M287 94v3M287 375v3M288 86v2M288 91v3M291 91v3M292 400v3M293 394v3M294 403v2M295 403v2M297 86v2M297 389v3M299 80v3M299 86v2M299 372v3M299 378v5M300 361v3M300 378v5M301 356v3M302 403v2M303 77v3M304 83v3M304 397v3M305 83v8M305 314v3M305 386v3M306 370v8M307 372v3M307 381v8M307 394v3M308 80v6M308 88v3M308 389v3M308 403v2M309 400v5M310 77v3M310 375v3M311 77v3M311 86v2M311 353v3M311 367v3M311 378v8M311 389v3M311 394v3M312 383v3M312 397v3M313 77v3M313 400v3M314 66v3M314 83v3M314 389v3M314 394v3M314 400v5M315 66v3M316 273v3M317 378v5M317 403v2M318 72v3M318 88v3M318 348v2M318 370v2M318 383v3M318 389v3M319 72v3M319 392v2M320 86v2M320 370v2M320 403v2M321 64v2M321 83v5M321 367v8M321 389v3M322 69v6M322 375v3M323 75v2M323 364v3M323 383v3M324 403v2M325 66v9M325 375v3M326 69v3M326 86v5M326 389v3M326 394v3M326 400v3M327 359v2M327 403v2M329 66v3M329 80v3M329 386v11M331 69v3M331 88v3M331 356v3M331 381v2M332 75v2M332 397v3M332 403v2M333 72v3M333 77v3M333 392v5M334 72v3M334 348v2M334 383v3M334 389v5M335 75v2M336 72v3M336 323v3M337 367v3M337 372v11M337 394v3M338 337v2M338 345v3M339 80v3M339 372v6M340 375v3M340 392v5M340 400v5M341 66v3M341 375v3M341 386v3M342 66v3M343 66v3M343 394v3M344 375v3M346 77v3M346 375v3M346 397v6M347 257v2M347 364v3M347 372v3M348 378v3M349 367v3M349 375v3M350 361v3M351 359v2M351 370v2M351 378v5M352 66v3M352 383v3M353 364v3M353 370v2M354 342v3M354 397v3M355 359v2M355 372v3M355 392v2M356 403v2M357 389v3M357 394v3M358 77v3M358 364v3M358 378v3M358 386v3M359 69v3M359 389v3M359 400v3M360 69v3M361 83v3M361 339v3M361 361v3M362 75v5M362 350v3M362 359v5M363 381v2M363 386v3M363 397v3M364 353v3M364 381v2M364 389v3M364 394v3M365 69v3M365 75v2M365 383v6M366 69v3M366 397v3M367 69v3M367 367v5M367 378v3M367 397v3M369 77v3M369 386v6M369 397v8M370 75v2M370 367v5M370 400v5M371 400v3M372 392v2M373 383v3M373 389v3M374 273v3M374 378v5M375 350v3M375 356v3M375 375v3M375 389v3M375 403v2M376 80v3M376 356v3M376 364v3M376 375v3M376 381v8M377 372v3M377 386v3M377 392v2M379 342v3M379 353v3M379 392v2M380 77v6M380 215v3M380 221v2M380 339v3M380 367v3M380 372v3M380 383v3M381 77v3M381 204v3M381 218v3M381 235v2M381 386v3M382 207v3M382 235v2M382 370v2M382 381v2M382 389v3M382 394v3M382 403v2M383 301v2M384 295v3M384 303v3M384 361v3M384 403v2M385 356v3M385 361v6M385 370v5M385 378v5M385 389v3M385 397v3M386 290v2M386 367v3M386 397v3M387 361v3M387 372v3M387 400v3M389 370v2M389 375v6M390 367v3M390 381v2M390 397v3M391 314v3M391 370v2M391 375v6M391 383v9M392 240v3M392 361v6M392 370v2M393 229v3M393 240v3M393 397v3M394 370v5M394 378v5M395 353v3M396 80v6M396 361v3M396 383v6M397 397v3M398 77v3M398 386v6M398 400v3M399 75v2M399 223v3M399 381v2M399 386v3M400 350v3M400 381v5M400 392v5M401 301v2M401 383v6M402 223v6M402 367v3M402 381v2M402 386v3M403 317v3M403 378v3M404 226v3M404 383v3M404 389v3M404 394v3M405 248v3M405 270v3M405 301v2M405 372v3M406 223v3M406 232v3M406 312v2M406 364v3M406 378v5M406 389v5M407 270v3M407 361v3M407 381v2M407 392v5M408 235v2M408 381v2M408 386v6M409 229v6M409 301v2M409 342v3M409 348v2M409 389v5M410 215v3M410 229v8M411 229v6M411 237v3M411 246v2M411 303v3M411 383v6M411 392v2M412 359v2M412 378v3M413 210v2M413 229v3M413 312v2M413 386v3M414 221v2M414 237v3M414 342v3M414 359v2M414 383v3M414 392v2M415 221v2M415 229v3M415 235v5M415 287v3M416 221v2M416 237v3M416 361v6M417 218v3M417 240v3M417 262v3M417 312v2M417 353v3M417 359v2M417 364v3M418 246v2M418 372v3M418 378v3M418 403v2M419 254v3M419 370v2M420 353v3M421 218v3M421 237v3M421 367v3M421 383v3M422 221v2M422 237v3M422 361v3M422 381v2M422 397v3M423 240v3M423 290v2M423 326v2M423 342v3M423 356v3M424 210v2M424 237v3M424 265v3M425 212v3M425 375v3M425 381v2M425 386v3M425 397v3M426 210v2M426 394v3M427 72v3M427 221v2M427 383v3M428 69v3M428 218v3M428 372v3M428 378v3M429 69v3M429 218v3M429 268v2M429 372v3M429 378v5M429 386v8M429 403v2M430 221v2M430 254v3M431 69v6M431 246v2M431 367v8M432 77v3M432 218v3M432 389v3M433 403v2M434 77v3M434 83v3M434 215v3M434 268v5M434 378v3M434 389v3M435 157v3M435 257v2M435 367v3M435 372v3M435 378v3M435 383v3M436 248v3M436 378v5M436 403v2M437 77v3M437 246v2M437 364v6M437 372v3M438 69v3M438 83v3M438 212v9M438 375v3M439 66v3M439 75v2M439 83v3M439 215v6M439 246v5M439 345v3M439 367v3M439 389v5M440 75v2M440 251v3M440 375v3M440 403v2M441 251v3M441 367v3M441 394v3M442 212v3M442 298v3M442 372v3M442 383v3M442 389v3M442 394v3M443 383v3M443 400v3M444 215v3M444 342v6M445 248v3M445 350v3M445 397v3M446 350v3M446 372v6M446 381v5M447 356v3M448 350v6M448 359v2M448 375v3M448 392v2M448 397v3M449 215v3M449 254v5M449 326v2M449 334v3M449 345v3M449 361v3M449 372v3M449 378v3M449 383v6M450 215v3M450 312v2M450 364v3M451 69v3M451 212v3M451 254v5M451 356v3M451 381v2M452 80v3M452 212v3M452 345v5M452 356v5M452 364v3M453 204v3M453 212v3M453 254v3M453 259v3M453 298v3M453 317v3M453 326v2M453 337v5M453 345v3M454 86v2M454 97v2M454 259v3M454 320v3M454 334v3M454 342v3M454 348v2M454 353v3M454 361v3M455 212v6M455 257v5M455 265v3M455 320v3M455 326v2M455 342v11M455 367v3M455 389v5M456 72v3M456 207v3M456 259v3M456 312v2M456 320v3M456 334v3M456 342v3M457 314v3M457 323v5M457 331v6M457 361v3M457 367v3M457 372v3M457 378v3M457 403v2M458 323v3M458 386v3M459 69v3M459 262v3M459 331v3M459 342v3M459 397v3M459 403v2M460 259v3M460 334v5M461 212v3M461 312v2M461 339v14M461 372v3M462 204v3M462 262v6M462 270v3M462 303v3M462 337v2M463 265v3M463 312v2M463 323v3M464 91v3M464 268v2M464 328v3M464 334v3M465 88v3M465 201v6M465 270v3M465 287v3M465 320v6M465 337v2M465 370v2M466 207v3M466 279v5M466 320v3M466 348v2M467 80v3M467 279v2M467 284v3M467 339v6M467 383v3M467 389v3M467 397v3M468 268v8M468 337v2M468 367v3M468 383v3M469 83v3M469 210v2M469 276v5M469 301v2M469 337v2M469 342v3M469 356v3M470 207v3M470 268v5M470 314v3M471 83v5M471 276v3M471 303v3M471 320v3M471 331v6M471 339v3M471 394v6M472 86v2M472 204v3M472 276v3M472 281v6M472 337v2M473 287v3M473 328v3M473 345v5M474 273v3M474 281v3M474 298v3M474 314v3M474 348v2M475 295v3M475 331v3M475 339v3M475 345v5M475 353v3M475 370v2M476 295v3M476 303v3M476 314v6M476 337v2M477 276v8M477 312v2M477 317v3M478 323v3M478 339v3M479 201v3M479 312v2M479 323v11M480 320v6M480 331v3M480 356v3M480 361v6M481 199v2M481 314v3M481 353v3M481 364v3M482 201v3M482 312v2M482 326v2M484 196v3M484 323v3M487 312v2M487 337v2M488 199v2M488 328v3M489 345v3M490 314v3M497 201v3M501 199v2M504 337v2M505 312v2M507 199v2M512 188v2M512 201v3M516 204v3M517 188v2M518 75v2M519 75v2M520 201v3M521 72v3M521 77v3M521 201v3M522 66v3M523 201v3M524 201v3M525 204v3M527 64v2M528 64v2M528 69v3M528 88v3M528 204v6M529 61v5M529 72v3M529 196v3M530 72v3M530 204v3M531 80v3M531 210v2M532 80v3M532 210v5M533 88v3M533 342v3M534 64v2M534 75v2M535 64v5M535 72v5M535 80v8M536 207v3M536 240v3M536 246v8M536 257v2M536 400v3M537 257v2M538 69v3M538 75v2M538 80v3M538 226v3M538 240v3M538 257v2M539 66v3M539 246v2M539 251v3M540 72v3M541 69v6M541 240v3M541 248v3M541 397v3M542 66v3M542 77v3M542 235v2M542 251v6M542 400v3M543 64v2M543 75v2M543 88v3M543 240v3M543 248v11M543 394v3M543 403v2M544 69v3M544 77v3M544 88v3M545 69v3M545 86v2M545 91v3M545 226v3M545 232v3M545 240v8M546 69v3M546 80v3M546 251v3M547 66v3M547 72v3M547 251v6M548 66v3M548 91v3M548 221v2M548 232v8M548 246v2M548 257v5M548 394v3M548 400v3M549 246v2M549 257v5M550 69v6M550 237v3M550 243v3M550 257v5M551 235v2M551 240v6M551 257v2M551 276v3M551 386v3M551 400v3M552 243v5M552 254v3M553 243v5M553 251v6M553 259v3M554 77v3M554 259v6M555 88v3M555 226v3M555 248v6M555 257v5M556 75v2M556 88v6M556 240v11M556 254v5M556 262v6M556 270v3M556 394v6M557 94v3M557 259v6M558 80v3M558 88v3M558 248v6M558 259v6M558 403v2M559 77v3M559 86v5M559 268v2M559 397v8M560 88v3M560 246v2M560 254v5M560 262v6M560 392v8M561 91v3M561 257v2M561 262v6M562 240v6M562 254v5M562 389v3M563 88v3M563 254v5M563 397v3M563 403v2M564 86v5M564 257v8M565 268v2M565 394v3M565 400v5M566 83v11M566 254v8M566 392v2M566 400v5M567 72v3M567 257v2M567 270v6M567 400v3M568 69v3M568 83v3M568 257v2M568 262v8M568 392v2M569 69v3M569 265v3M569 383v3M569 394v6M570 268v2M570 273v3M570 389v3M570 400v3M571 273v3M572 77v3M572 86v2M572 268v2M572 273v6M572 392v2M572 400v5M573 94v3M573 279v2M573 400v5M574 61v3M574 77v3M574 94v3M575 91v3M575 273v6M576 97v2M576 262v3M577 69v3M577 86v8M577 97v2M577 254v3M577 259v3M577 273v3M577 279v5M577 397v6M578 80v6M578 97v2M578 262v3M578 268v2M578 273v3M578 389v3M578 397v3M579 276v3M579 400v3M580 83v3M580 88v3M580 237v3M580 254v3M580 259v3M580 270v6M581 83v3M581 94v3M581 273v3M581 279v2M581 392v2M582 61v3M582 75v2M582 86v2M582 251v3M582 257v2M583 94v3M583 268v2M583 273v6M583 281v6M583 400v5M584 66v6M584 91v3M584 99v3M584 251v3M584 268v2M584 279v2M585 66v3M585 75v2M585 83v3M585 91v3M585 97v2M585 246v2M585 262v8M585 389v3M586 83v3M586 91v3M586 273v6M586 281v3M587 61v3M587 72v3M587 80v6M587 94v3M587 257v22M587 284v6M588 77v3M588 91v3M588 262v3M588 279v2M588 389v3M589 75v2M589 86v2M589 276v3M589 397v3M590 72v3M590 77v3M590 86v2M590 94v3M590 279v2M591 69v3M591 75v2M591 83v3M591 88v3M591 94v8M591 257v2M592 64v8M592 91v3M592 270v3M592 276v5M592 284v3M592 394v3M592 400v5M593 270v3M593 276v5M593 284v3M593 292v3M593 397v3M594 279v2M594 284v6M595 259v14M595 400v3M596 268v2M596 273v3M596 281v3M596 397v6M597 273v3M598 281v6M598 290v2M598 295v3M598 397v3M599 265v3M599 270v3M599 284v3M599 394v3M599 403v2M600 248v17M600 287v5M600 295v3M600 400v3M601 257v5M601 276v5M601 287v5M601 295v3M602 262v3M602 268v2M602 273v3M603 281v3M603 287v3M603 292v3M604 265v5M604 290v2M604 295v3M605 259v3M605 265v3M605 281v3M605 292v3M605 301v5M606 273v3M606 279v5M606 301v2M607 265v3M607 276v3M607 281v3M607 287v3M607 292v6M608 265v3M608 273v3M608 298v5M609 287v3M609 392v2M610 262v8M610 273v3M610 279v5M610 287v3M610 301v5M611 397v3M612 394v6M613 298v3M614 403v2M615 273v3M615 295v3M616 298v3M616 403v2M617 301v2M621 298v3M622 298v3M623 298v3M624 298v3M625 298v3M626 298v3M627 298v3M628 298v3M629 298v3"/>
<path stroke="#00ff7b" d="M284 80v3M285 80v3M286 86v2M286 392v2M287 86v2M288 83v3M289 91v3M290 91v3M290 378v3M292 91v3M292 389v8M293 375v3M293 400v5M295 400v3M296 383v3M296 392v8M297 394v3M298 86v2M299 383v3M300 383v3M301 83v3M302 359v2M302 367v3M305 350v3M305 375v3M305 392v8M306 386v3M307 378v3M307 389v3M307 403v2M309 88v3M309 394v3M310 262v3M312 389v3M315 383v6M315 397v6M316 397v3M317 383v3M317 389v3M317 394v3M318 397v6M319 80v3M319 350v3M319 400v3M320 83v3M320 389v3M321 66v6M322 364v3M322 403v2M323 378v3M325 86v2M325 383v3M325 392v2M326 80v3M326 91v3M327 80v3M328 381v5M329 403v2M330 77v3M330 273v3M330 375v3M330 381v2M330 386v6M330 394v3M331 359v5M331 367v3M331 372v3M331 383v3M332 69v3M333 389v3M334 86v2M334 334v3M335 66v6M335 392v5M335 400v3M336 75v2M336 378v3M337 80v3M338 77v3M338 386v3M339 69v6M339 83v3M339 370v2M339 378v3M339 383v3M339 389v3M340 83v3M340 372v3M341 72v3M341 381v2M341 389v3M341 403v2M342 72v3M342 403v2M343 69v3M343 386v3M344 66v3M344 378v3M344 386v6M344 394v3M345 69v3M345 378v3M345 403v2M346 389v8M347 381v2M347 389v8M348 364v3M348 372v3M348 381v5M349 372v3M349 389v3M349 403v2M350 397v3M351 350v3M351 375v3M351 386v8M351 403v2M352 389v3M353 397v6M355 361v6M355 403v2M356 400v3M358 75v2M358 356v3M358 403v2M359 381v2M359 394v3M360 389v3M362 356v3M362 400v5M363 392v2M364 75v8M364 359v11M364 372v3M364 383v6M364 392v2M364 400v3M365 72v3M365 392v5M365 400v3M366 394v3M367 381v2M367 394v3M367 400v5M369 80v3M369 378v3M370 372v3M370 394v3M371 394v3M373 400v3M374 383v11M374 403v2M375 345v3M376 361v3M376 378v3M377 356v3M377 370v2M377 375v3M377 381v2M377 397v3M378 77v3M378 392v8M379 77v3M379 350v3M379 356v3M379 397v3M380 345v3M380 364v3M380 370v2M380 375v8M380 386v3M381 223v3M381 232v3M382 212v3M382 400v3M383 298v3M385 359v2M387 397v3M387 403v2M388 356v3M388 370v2M389 372v3M389 392v2M390 372v3M390 403v2M391 226v3M391 276v3M391 381v2M392 235v2M392 356v3M392 375v3M395 361v3M395 370v11M395 386v6M396 364v6M396 375v3M396 392v2M396 400v3M397 403v2M398 218v3M398 303v3M398 378v3M399 370v2M399 378v3M399 383v3M400 370v5M401 370v2M401 381v2M401 389v3M403 383v3M403 389v5M404 279v2M404 378v3M404 386v3M404 400v3M405 265v5M405 378v5M405 389v8M406 226v3M406 394v6M407 364v3M407 386v3M409 223v6M409 339v3M409 356v3M409 394v6M410 218v3M410 265v3M410 403v2M411 240v6M411 301v2M411 397v3M412 215v8M412 339v3M412 348v2M412 361v3M412 370v2M413 372v6M413 381v2M413 394v3M414 223v6M414 232v3M414 240v3M414 301v2M414 356v3M414 386v3M414 400v3M415 215v6M415 223v6M415 232v3M415 251v3M415 378v3M415 386v3M415 394v3M416 367v3M416 372v3M416 389v3M417 221v2M417 243v3M417 361v3M417 400v3M418 221v5M418 237v3M418 301v2M418 375v3M418 392v2M418 397v3M419 221v2M419 235v5M419 243v3M419 317v3M420 218v5M420 240v3M420 370v2M421 221v2M421 235v2M421 361v6M421 378v3M421 397v8M422 223v3M422 240v3M422 378v3M422 383v3M422 389v3M422 394v3M422 400v5M423 237v3M423 243v3M423 284v3M423 359v2M423 389v8M424 69v3M424 207v3M424 212v6M424 235v2M424 262v3M424 386v3M425 210v2M425 237v3M425 370v2M425 389v3M425 400v3M426 212v3M426 240v3M426 364v3M426 370v5M427 378v3M428 72v3M428 383v6M429 221v2M429 270v3M430 243v3M430 392v2M431 243v3M431 389v3M431 400v5M432 240v8M432 386v3M433 77v3M433 218v3M433 246v5M433 370v2M433 375v6M434 75v2M434 155v2M435 72v3M435 204v3M435 243v5M435 381v2M435 392v2M435 403v2M436 160v3M436 204v3M436 246v2M436 394v3M437 69v3M437 353v11M437 397v3M438 364v8M438 378v3M439 72v3M439 334v3M439 339v6M439 364v3M439 394v3M440 218v5M440 361v3M440 397v3M441 80v3M441 389v3M441 397v3M442 210v2M442 215v6M442 248v6M442 381v2M442 392v2M443 215v3M443 248v6M443 348v2M443 403v2M444 218v3M444 353v8M444 378v3M444 392v2M445 251v6M446 221v2M446 248v3M446 359v2M446 392v2M447 210v2M447 251v3M447 350v3M447 359v2M447 375v3M447 392v2M448 215v6M448 370v2M448 386v3M448 400v3M449 212v3M449 320v6M449 331v3M449 339v3M449 375v3M449 400v3M450 218v3M450 251v6M450 259v3M450 328v3M450 339v6M450 350v3M450 356v5M450 370v2M450 378v3M450 386v3M450 400v5M451 75v2M451 215v3M451 350v3M451 359v2M451 389v3M451 394v3M451 403v2M452 75v5M452 259v3M452 326v2M452 331v3M453 215v6M453 331v3M453 359v5M453 372v3M453 392v2M453 397v3M454 215v6M454 257v2M454 331v3M454 337v2M454 359v2M454 367v3M455 331v3M455 353v6M455 361v3M455 381v2M455 394v3M456 69v3M456 75v5M456 91v6M456 210v2M456 257v2M456 337v2M456 353v3M457 75v2M457 88v3M457 207v3M457 265v3M457 312v2M457 320v3M457 339v3M457 350v3M457 364v3M457 370v2M458 69v3M458 75v2M458 97v2M458 218v3M458 257v8M458 320v3M458 342v3M459 72v5M459 88v3M459 218v3M459 323v3M459 370v2M459 392v5M459 400v3M460 75v2M460 298v3M460 303v3M460 339v3M460 356v3M461 72v5M461 88v3M461 268v2M461 317v3M461 334v3M461 359v2M462 350v3M462 381v2M463 72v3M463 80v6M463 262v3M463 314v3M463 320v3M463 326v2M463 339v3M463 370v2M464 83v3M464 212v3M464 265v3M464 326v2M464 356v3M465 83v3M465 273v3M465 301v2M465 317v3M465 339v3M465 359v2M465 367v3M465 372v6M466 270v3M466 276v3M466 314v3M466 323v3M466 334v3M466 345v3M466 353v3M467 210v2M467 276v3M467 350v3M467 394v3M468 204v6M468 295v3M468 320v3M468 348v2M468 353v3M468 361v3M468 386v3M469 292v3M469 312v2M469 348v2M470 210v5M470 273v3M470 334v3M470 348v5M471 270v6M471 323v3M471 389v3M472 80v3M472 207v3M472 270v6M472 279v2M472 301v2M472 348v5M472 359v2M473 207v5M473 281v3M473 295v3M473 314v3M473 320v3M473 326v2M473 331v6M473 339v3M473 353v3M473 359v2M473 372v3M474 204v3M474 270v3M474 290v8M474 301v5M474 312v2M474 353v6M474 361v3M475 212v3M475 320v6M475 359v2M475 372v3M476 276v5M476 287v3M476 323v3M477 314v3M477 334v5M478 284v6M478 295v6M478 312v2M478 320v3M478 345v3M478 367v3M478 375v3M479 339v3M480 199v2M480 287v3M480 317v3M480 326v5M480 345v3M480 367v3M481 317v3M481 367v3M482 320v3M482 367v3M483 312v2M484 314v3M485 314v3M487 199v2M487 323v8M488 314v6M488 331v3M489 201v3M489 337v2M489 350v3M491 196v3M491 356v3M493 204v3M498 312v2M498 317v3M504 199v2M504 342v3M505 199v2M506 204v3M507 201v3M513 201v3M515 204v3M516 188v2M518 69v3M518 204v3M519 201v3M521 75v2M525 66v3M525 83v3M526 66v3M526 75v5M526 86v2M527 66v6M527 207v3M528 72v3M529 86v2M529 199v2M530 207v3M530 331v3M531 207v3M533 86v2M533 331v3M533 339v3M533 345v3M534 66v3M534 72v3M534 196v3M535 77v3M536 254v3M536 259v3M536 386v3M536 392v5M536 403v2M537 232v3M537 259v3M537 394v3M538 83v3M538 232v3M538 237v3M538 262v6M538 284v3M538 394v3M539 72v3M539 77v3M539 248v3M539 254v8M540 69v3M540 75v2M540 257v5M540 394v3M541 235v5M541 246v2M541 251v6M541 386v3M542 75v2M542 83v3M542 237v3M542 243v3M542 257v5M542 383v3M542 403v2M543 246v2M543 265v3M543 392v2M543 400v3M544 80v3M544 97v2M544 394v3M545 83v3M545 229v3M545 248v3M545 254v5M545 284v3M546 72v3M546 86v2M546 237v3M546 248v3M546 254v5M546 403v2M547 257v2M547 262v3M548 75v2M548 80v3M548 204v3M548 223v3M548 229v3M548 240v6M548 262v6M548 270v6M548 383v6M548 392v2M548 403v2M549 66v3M549 262v3M549 270v3M549 403v2M550 80v3M550 262v6M550 270v3M550 386v8M551 232v3M551 246v2M551 259v6M551 383v3M551 392v8M552 235v2M552 251v3M552 403v2M553 262v6M553 394v6M554 80v6M554 265v3M555 80v3M555 86v2M555 229v3M555 246v2M555 262v6M555 270v3M555 397v3M555 403v2M556 251v3M556 259v3M556 268v2M556 273v6M556 392v2M557 80v3M557 88v3M557 268v8M558 91v3M558 257v2M558 265v8M558 276v3M559 91v3M559 273v3M559 392v5M560 86v2M560 268v5M560 386v6M561 83v5M561 268v2M561 394v3M561 400v3M562 72v3M562 77v6M562 86v2M562 237v3M562 246v5M562 259v6M562 392v11M563 75v2M563 80v3M563 389v3M563 400v3M564 75v5M564 268v5M564 392v8M564 403v2M565 80v3M565 262v6M565 273v6M566 265v3M568 80v3M568 273v3M568 397v6M569 75v5M569 268v5M569 386v3M569 392v2M570 276v3M570 392v2M570 397v3M570 403v2M571 270v3M571 397v3M572 91v3M572 279v5M572 394v6M573 69v3M573 281v3M573 287v3M574 69v3M574 75v2M574 273v3M574 279v2M574 400v3M575 58v3M575 64v5M575 75v2M575 279v5M575 403v2M576 58v3M576 64v2M576 75v5M576 83v3M576 88v6M576 265v3M576 273v3M576 279v2M576 400v3M577 64v5M577 72v3M577 284v6M577 403v2M578 69v3M578 270v3M578 279v2M578 392v5M578 403v2M579 279v8M580 268v2M580 276v8M580 400v3M581 64v2M581 75v2M581 270v3M581 276v3M581 397v3M582 66v3M582 91v3M582 259v6M582 268v5M582 279v2M582 284v3M582 397v8M583 66v3M583 75v5M583 279v2M583 287v3M583 292v3M584 75v5M584 94v3M584 257v8M584 276v3M584 281v6M585 77v3M585 88v3M585 94v3M585 99v3M585 273v3M585 281v6M585 290v2M586 72v5M586 88v3M586 94v3M586 279v2M586 284v3M586 290v8M586 392v2M586 400v5M587 75v2M587 86v2M587 91v3M587 292v6M587 400v3M588 80v11M588 265v14M588 281v6M589 66v3M589 91v3M589 97v2M589 279v2M589 287v5M589 400v5M590 66v3M590 88v3M590 97v2M590 273v6M590 397v3M590 403v2M591 64v2M591 259v3M591 268v2M591 403v2M592 265v3M592 281v3M592 287v5M592 397v3M593 290v2M593 295v3M593 389v3M593 394v3M594 290v5M594 400v3M595 273v3M595 279v2M595 287v3M595 403v2M596 270v3M596 276v5M596 284v3M596 394v3M596 403v2M597 254v11M597 276v11M597 397v8M598 292v3M598 298v3M598 389v5M599 287v3M599 292v3M600 292v3M600 394v3M601 262v14M601 281v6M601 292v3M601 397v3M602 270v3M602 290v8M603 279v2M603 290v2M603 295v3M604 270v9M605 268v8M605 279v2M605 287v3M605 298v3M605 397v3M605 403v2M607 262v3M607 268v8M607 279v2M607 284v3M607 290v2M607 298v5M607 314v3M607 400v3M609 301v2M609 389v3M609 400v3M610 270v3M610 276v3M611 298v3M611 394v3M611 403v2M612 298v3M612 403v2M613 301v2M613 400v3M614 298v3M615 298v3M616 301v2M618 397v6M619 301v2M620 301v2"/>
<path stroke="#00ff61" d="M278 163v63M278 246v60M279 163v63M279 246v60M280 163v63M280 246v60M281 163v63M281 246v60M282 163v63M282 246v60M283 163v63M283 246v60M295 397v3M296 381v2M296 400v3M297 400v3M300 389v3M300 403v2M302 80v3M303 80v3M304 400v3M305 378v3M305 383v3M306 392v2M306 400v3M308 392v2M308 397v3M309 80v6M310 80v8M310 400v3M311 400v3M314 381v2M315 375v3M315 392v2M315 403v2M316 83v3M317 386v3M318 80v3M318 361v3M318 378v3M319 77v3M320 77v3M320 397v3M321 77v6M322 80v6M323 397v6M324 77v3M325 394v3M326 403v2M328 77v6M328 386v3M328 394v3M329 83v3M330 279v2M331 77v3M331 364v3M331 378v3M333 66v3M333 359v2M333 397v3M334 66v3M334 80v6M334 350v3M334 375v3M335 383v3M336 77v3M336 389v8M337 77v3M338 383v3M338 403v2M339 386v3M339 394v6M341 400v3M342 389v5M342 397v6M345 400v3M347 378v3M347 386v3M348 367v3M348 389v3M349 378v3M349 383v6M349 397v3M351 356v3M351 372v3M351 383v3M354 400v5M355 397v3M358 400v3M359 397v3M359 403v2M360 394v3M360 400v3M361 259v6M362 367v3M362 386v3M362 392v5M363 389v3M363 394v3M363 403v2M365 80v3M365 381v2M366 400v3M367 75v2M367 375v3M369 394v3M370 378v5M370 392v2M370 397v3M371 392v2M371 403v2M372 356v3M372 403v2M375 359v2M376 372v3M377 378v3M377 394v3M378 403v2M379 400v5M381 397v3M381 403v2M382 226v3M382 378v3M382 386v3M383 394v3M384 290v5M385 392v2M386 287v3M386 403v2M387 394v3M388 392v5M389 386v3M390 392v5M391 281v3M391 392v2M393 237v3M393 400v3M394 279v5M394 386v3M394 392v2M395 364v3M395 381v2M395 392v2M395 397v3M396 370v2M396 389v3M396 397v3M397 301v2M397 400v3M399 237v3M400 378v3M401 372v6M401 400v5M402 375v6M402 389v5M403 386v3M403 394v6M403 403v2M404 397v3M405 383v3M405 397v3M405 403v2M406 229v3M406 287v8M407 331v3M407 367v8M408 392v2M409 386v3M409 403v2M410 221v2M410 226v3M410 276v3M410 290v5M410 397v3M411 298v3M411 394v3M411 403v2M412 232v5M412 350v3M413 212v3M413 223v3M413 378v3M414 235v2M414 345v5M414 389v3M415 240v3M415 400v3M416 375v3M416 383v3M416 392v2M417 223v3M417 237v3M417 248v3M417 254v3M417 259v3M417 370v2M418 226v3M418 235v2M418 240v3M418 381v8M418 400v3M419 223v3M419 232v3M419 240v3M419 372v3M419 383v6M419 392v5M419 400v3M420 235v2M420 243v3M420 251v3M420 375v3M420 383v3M421 223v12M421 372v3M422 229v6M422 248v3M423 370v5M423 386v3M423 397v3M423 403v2M424 218v3M424 248v3M424 389v5M424 403v2M425 69v3M425 372v3M426 383v3M426 389v3M426 397v6M427 223v3M427 240v3M427 375v3M427 392v2M427 403v2M428 221v2M428 257v2M428 394v3M429 240v3M429 394v6M430 240v3M430 262v3M430 386v3M430 400v5M431 221v2M431 240v3M431 392v5M432 221v2M432 392v2M432 400v5M433 237v9M433 251v3M433 389v3M434 243v8M434 254v3M434 386v3M434 392v2M434 397v6M435 66v6M435 240v3M435 248v6M435 375v3M435 394v3M435 400v3M436 64v2M436 69v3M436 210v5M436 386v3M436 397v6M437 243v3M438 221v2M438 246v2M438 251v3M439 243v3M439 381v2M440 77v9M440 215v3M440 248v3M440 359v2M440 364v3M440 386v3M440 392v2M441 218v3M441 248v3M441 262v3M441 386v3M442 397v3M443 218v5M443 353v3M443 375v3M443 389v5M443 397v3M444 367v3M444 383v3M444 400v3M445 215v8M446 361v6M446 386v6M446 403v2M447 215v3M447 378v3M447 383v3M447 389v3M447 394v9M448 257v2M448 394v3M449 218v3M449 248v6M449 353v3M449 359v2M450 353v3M450 367v3M450 375v3M450 383v3M450 394v6M451 251v3M451 361v3M451 378v3M451 392v2M451 397v3M452 215v3M452 323v3M452 334v3M452 350v3M452 361v3M452 392v5M453 80v3M453 356v3M453 389v3M453 394v3M453 400v3M454 83v3M454 339v3M454 397v3M454 403v2M455 83v5M455 94v3M455 218v3M455 323v3M455 334v3M455 339v3M455 359v2M455 364v3M455 370v5M455 378v3M455 386v3M455 400v5M456 86v2M456 323v3M456 364v3M456 383v3M456 389v3M457 69v3M457 257v2M457 337v2M457 345v3M457 375v3M457 381v2M458 350v3M458 383v3M459 83v3M459 94v3M459 334v8M459 367v3M459 372v9M459 389v3M460 88v3M460 314v3M460 326v2M460 361v3M460 375v3M460 397v3M461 259v3M461 265v3M461 314v3M461 320v6M461 331v3M461 337v2M461 364v3M461 386v3M461 392v2M462 207v3M462 312v2M462 323v3M462 334v3M462 353v6M463 212v3M463 259v3M463 345v3M463 350v3M463 356v5M464 72v3M464 262v3M464 273v3M465 265v5M465 356v3M465 386v3M466 77v3M466 88v3M466 210v2M466 328v6M466 381v2M467 268v2M467 273v3M467 345v3M467 381v2M467 386v3M467 403v2M468 265v3M468 303v3M468 317v3M468 323v3M468 339v3M468 359v2M468 372v6M468 389v5M469 273v3M469 334v3M470 83v3M470 317v3M470 323v8M470 337v2M470 359v2M470 381v2M471 207v3M471 268v2M471 312v5M471 342v3M471 400v3M472 268v2M472 298v3M472 353v3M472 361v3M473 273v3M473 279v2M473 292v3M473 317v3M473 323v3M473 350v3M473 364v3M473 378v3M474 207v3M474 276v3M474 328v6M474 339v9M474 392v2M475 281v14M475 328v3M475 350v3M475 356v3M475 361v6M476 196v3M476 281v6M476 320v3M476 339v3M477 204v6M477 339v6M478 276v5M478 292v3M478 326v2M479 281v3M479 334v3M480 201v3M480 295v6M480 312v5M480 350v3M481 284v6M481 295v3M481 339v6M481 348v5M481 359v2M482 290v8M482 323v3M482 370v2M482 392v2M483 204v3M483 292v6M483 314v3M484 290v2M484 295v3M485 320v3M485 350v9M486 320v3M486 353v3M487 314v6M487 331v6M487 345v3M488 334v3M489 317v3M494 350v3M495 314v3M498 314v3M498 320v8M503 201v3M504 345v3M505 314v3M505 320v3M509 199v2M510 204v3M511 199v2M512 317v3M516 190v3M518 72v3M518 188v2M518 193v3M518 320v3M519 69v3M520 69v3M520 75v2M522 80v3M523 64v2M523 69v6M523 80v3M524 80v3M524 204v3M525 69v3M525 207v3M526 64v2M526 69v6M526 204v3M527 75v2M527 326v2M528 210v5M529 201v3M531 83v3M531 212v3M531 331v3M531 339v3M531 350v3M532 215v3M533 80v3M533 212v3M533 348v8M534 80v3M534 88v3M535 207v5M536 262v3M536 389v3M536 397v3M537 262v3M537 386v8M537 400v3M538 268v5M538 276v3M538 287v11M538 389v3M539 69v3M539 75v2M539 83v3M539 270v3M539 403v2M540 77v3M540 381v5M540 389v5M540 400v3M541 232v3M541 262v6M541 279v2M541 389v8M542 80v3M542 367v3M542 381v2M542 397v3M543 66v3M543 259v6M543 284v3M543 389v3M543 397v3M544 235v2M544 240v3M544 254v11M544 389v3M544 397v6M545 259v9M545 273v3M545 279v5M545 386v3M545 403v2M546 83v3M546 259v6M546 268v2M546 281v3M546 314v3M546 392v2M546 397v3M547 69v3M547 259v3M547 394v11M548 69v6M548 268v2M548 279v2M548 290v2M548 378v3M548 389v3M549 72v3M549 265v3M549 273v3M549 281v3M549 392v2M549 400v3M550 268v2M550 383v3M550 397v8M551 226v6M551 265v11M551 381v2M552 259v9M552 392v8M553 268v2M553 386v3M554 268v8M554 389v3M555 235v11M555 268v2M555 394v3M555 400v3M556 80v3M556 86v2M556 281v3M556 389v3M557 91v3M557 265v3M558 86v2M558 273v3M558 281v3M558 386v6M558 400v3M559 270v3M560 273v3M560 314v3M561 331v3M561 389v3M561 403v2M562 83v3M562 265v11M562 279v5M563 86v2M563 262v6M563 273v3M563 394v3M564 80v3M564 265v3M564 273v3M564 279v2M564 284v3M564 389v3M564 400v3M565 83v3M565 88v6M565 279v2M565 284v3M565 386v8M566 75v2M566 262v3M566 268v5M566 389v3M567 80v3M567 279v8M567 389v8M568 72v3M568 77v3M568 270v3M568 276v3M568 287v3M568 292v3M568 386v6M568 394v3M569 273v3M569 403v2M570 279v5M570 386v3M570 394v3M571 276v5M571 400v5M572 381v11M573 77v3M573 88v6M573 284v3M573 290v2M573 295v3M573 383v17M574 66v3M574 88v6M574 276v3M574 392v2M574 397v3M575 61v3M575 88v3M575 94v3M575 284v8M576 66v3M576 86v2M576 268v5M576 276v3M576 281v6M576 295v3M576 394v3M576 403v2M577 77v3M577 94v3M577 292v3M578 64v5M578 75v5M578 276v3M578 281v3M578 287v3M578 386v3M579 64v2M579 69v3M579 75v2M579 287v3M579 389v3M579 394v3M579 403v2M580 64v2M580 72v5M580 389v3M580 394v6M580 403v2M581 66v3M581 72v3M581 97v2M581 281v6M581 394v3M581 400v3M582 72v3M582 80v3M582 265v3M582 273v6M582 281v3M582 287v5M583 91v3M583 295v3M583 392v5M584 88v3M584 265v3M584 270v6M584 287v3M584 403v2M585 69v3M585 86v2M585 270v3M585 276v5M585 295v3M585 301v2M585 386v3M586 77v3M586 86v2M586 287v3M586 298v3M587 69v3M587 77v3M587 88v3M587 290v2M587 298v3M587 397v3M588 69v3M588 75v2M588 94v3M588 287v14M589 284v3M589 394v3M590 64v2M590 91v3M590 281v6M590 394v3M591 91v3M591 262v6M591 270v3M591 276v5M591 394v6M592 292v9M592 392v2M593 287v3M593 301v2M593 392v2M594 394v3M595 276v3M595 281v6M595 290v2M595 397v3M596 287v3M596 292v6M596 392v2M597 265v3M597 287v11M598 301v2M599 290v2M599 295v8M599 314v3M599 389v3M600 392v2M601 298v5M601 394v3M601 403v2M602 276v14M602 397v3M602 403v2M603 298v3M603 397v3M604 298v3M605 276v3M605 317v3M605 394v3M605 400v3M606 303v3M608 303v3M609 303v3M609 397v3M609 403v2M610 403v2M611 301v2M611 389v3M612 392v2M613 394v6M614 301v5M614 392v8M616 303v3M616 397v3M617 389v3M619 298v3M619 400v5M620 303v3M621 301v2M622 301v2M623 301v2M624 301v2M625 301v2M626 301v2M627 301v2M628 301v2M629 301v2"/>
<path stroke="#00ff47" d="M278 83v14M279 83v14M280 83v14M281 83v14M282 83v14M283 83v14M292 397v3M296 386v3M302 83v3M303 83v3M304 403v2M306 378v8M306 394v3M309 86v2M310 389v3M310 403v2M311 359v2M315 83v3M315 389v3M315 394v3M316 403v2M317 77v3M317 397v3M318 77v3M320 80v3M320 394v3M321 75v2M322 394v3M323 88v3M323 394v3M324 75v2M325 80v3M325 400v5M326 72v3M326 83v3M326 397v3M327 72v3M328 86v2M330 378v3M330 392v2M330 403v2M331 370v2M332 400v3M333 69v3M333 400v3M334 403v2M335 83v3M336 83v3M336 397v3M337 75v2M338 392v2M339 348v2M340 66v3M340 72v3M341 397v3M343 389v3M347 397v3M347 403v2M348 375v3M348 397v3M350 403v2M351 367v3M357 397v3M362 381v5M363 400v3M364 397v3M364 403v2M365 389v3M365 403v2M366 75v2M366 80v3M369 381v2M369 392v2M372 394v9M374 394v6M377 367v3M377 383v3M379 364v3M379 372v3M379 389v3M381 392v2M382 367v3M383 392v2M383 400v5M385 367v3M385 386v3M385 403v2M388 378v5M388 389v3M388 403v2M389 397v3M391 284v3M391 394v6M392 237v3M393 301v2M394 389v3M395 367v3M395 383v3M397 392v5M398 298v3M399 361v3M399 372v3M400 386v3M400 397v3M400 403v2M401 295v3M401 303v3M401 378v3M402 383v3M403 381v2M404 392v2M405 386v3M407 400v3M408 301v2M408 397v8M410 223v3M410 381v2M412 226v3M412 353v3M412 394v3M412 400v3M413 215v3M413 221v2M414 229v3M414 298v3M414 397v3M414 403v2M415 243v5M415 389v3M416 232v3M417 226v9M417 246v2M417 257v2M417 292v3M417 301v2M417 394v3M418 229v6M419 226v6M419 375v3M419 389v3M419 403v2M420 237v3M420 367v3M421 375v3M421 392v5M422 226v3M422 235v2M422 243v3M423 226v3M423 235v2M424 232v3M424 259v3M424 394v6M425 215v3M425 378v3M425 383v3M426 235v2M426 378v5M426 386v3M426 392v2M427 237v3M427 243v3M427 397v6M428 381v2M429 383v3M430 223v3M430 237v3M430 389v3M430 397v3M431 375v3M431 381v2M431 397v3M432 394v6M435 235v5M436 66v3M436 207v3M436 392v2M437 223v3M437 386v6M437 403v2M439 221v2M439 240v3M439 372v3M439 383v3M440 223v3M440 400v3M441 254v3M441 403v2M442 246v2M442 386v3M443 246v2M443 350v3M443 356v3M443 367v3M443 372v3M443 378v3M444 248v3M444 361v3M444 375v3M444 397v3M445 246v2M445 400v3M446 370v2M446 378v3M446 394v6M447 248v3M447 361v3M447 370v5M448 248v3M448 259v3M449 389v3M450 221v2M450 389v3M451 218v3M451 367v3M451 400v3M452 218v5M452 257v2M452 339v3M452 370v5M452 383v3M452 389v3M452 397v3M453 251v3M453 295v3M453 375v6M453 386v3M454 91v3M454 221v5M454 326v2M454 356v3M454 386v3M454 392v2M454 400v3M455 328v3M456 83v3M456 212v6M456 254v3M456 328v3M456 348v5M456 378v3M456 392v2M457 210v8M457 262v3M458 77v3M458 312v2M458 353v6M458 392v2M458 397v3M459 86v2M459 221v2M459 257v2M459 364v3M459 386v3M460 72v3M460 86v2M460 257v2M460 331v3M460 364v6M460 403v2M461 77v3M461 215v3M461 257v2M461 262v3M461 375v3M461 383v3M461 394v3M462 77v3M462 210v2M462 314v9M462 364v3M462 383v3M462 389v3M462 394v6M463 88v3M463 328v3M463 386v3M464 364v3M465 72v5M465 312v5M465 345v3M465 350v3M465 361v6M465 383v3M465 389v3M465 397v3M466 268v2M466 273v3M466 339v3M466 350v3M466 361v3M466 375v6M467 212v3M467 400v3M468 210v2M468 326v2M468 331v3M468 378v3M469 212v3M469 270v3M469 295v3M469 339v3M469 353v3M469 375v3M469 381v2M470 265v3M470 331v3M470 342v3M470 353v3M470 364v3M470 378v3M471 210v2M471 326v2M471 375v3M473 276v3M473 284v3M473 301v5M473 356v3M473 361v3M473 367v5M474 268v2M474 320v6M474 337v2M474 359v2M474 367v3M474 386v6M474 394v6M475 215v3M475 276v5M476 262v3M476 270v3M476 326v2M476 350v3M476 356v3M477 273v3M477 323v3M477 348v5M478 201v3M478 328v6M478 342v3M478 359v2M478 364v3M478 383v3M479 204v6M479 279v2M479 284v3M479 301v2M480 284v3M480 292v3M480 301v2M480 359v2M481 201v6M481 281v3M481 290v5M481 298v3M481 323v3M482 204v3M482 210v2M482 221v2M482 287v3M482 298v5M482 331v3M482 372v3M483 287v5M483 298v5M483 320v3M484 199v2M484 207v3M484 240v3M484 284v3M484 292v3M484 298v3M484 312v2M484 326v2M484 375v3M485 210v2M485 215v3M485 317v3M485 345v5M485 375v3M486 290v2M486 295v3M486 301v2M487 320v3M487 339v3M488 201v3M488 312v2M488 320v3M489 312v2M489 348v2M490 320v6M490 334v3M491 328v3M491 353v3M492 323v3M495 232v3M497 215v3M497 312v2M497 345v3M498 232v5M498 331v3M500 196v3M500 210v5M500 331v3M501 201v3M506 326v2M513 328v3M514 188v2M517 193v3M517 204v3M518 312v2M519 226v3M520 72v3M522 77v3M522 204v3M523 75v5M523 204v3M524 64v8M525 212v3M526 207v3M526 246v5M527 72v3M527 77v3M527 86v2M527 204v3M528 86v2M529 204v3M529 210v5M529 337v2M530 210v2M530 337v2M530 342v3M531 72v3M531 77v3M531 348v2M532 75v2M532 221v2M532 232v3M532 243v3M533 75v2M533 210v2M533 215v3M533 243v5M533 334v5M533 356v3M534 77v3M534 86v2M534 199v13M534 215v3M534 221v2M535 196v8M535 212v3M535 223v3M536 265v3M536 270v3M537 265v3M537 375v3M537 383v3M537 403v2M538 273v3M538 279v5M538 301v2M539 279v2M539 400v3M540 262v3M540 268v2M540 403v2M541 75v5M541 257v2M541 268v5M541 276v3M541 281v3M541 375v8M541 400v5M542 72v3M542 262v6M542 375v3M542 386v6M542 394v3M543 268v16M543 292v3M544 72v3M544 237v3M544 243v11M544 265v3M544 270v3M544 320v3M544 383v3M544 392v2M545 77v3M545 268v5M545 276v3M545 287v8M545 375v3M545 389v5M545 400v3M546 77v3M546 265v3M546 270v6M546 279v2M546 284v3M546 394v3M547 265v19M547 389v3M548 276v3M548 287v3M548 292v6M548 375v3M548 381v2M548 397v3M549 80v3M549 268v2M549 276v5M549 375v8M549 386v6M549 394v3M550 273v14M550 378v5M550 394v3M551 237v3M551 279v5M551 287v5M551 375v3M552 268v8M552 281v9M552 383v9M552 400v3M553 270v9M553 281v3M553 290v2M553 389v5M554 276v5M554 284v3M554 323v3M554 397v3M555 273v8M555 287v3M555 328v3M555 334v3M555 392v2M556 284v8M556 320v6M556 328v6M556 337v2M556 383v6M557 83v3M557 276v5M557 284v3M557 386v3M557 400v3M558 83v3M558 381v2M558 392v5M559 83v3M559 276v8M559 317v3M559 389v3M560 83v3M560 276v11M560 383v3M561 270v9M562 276v3M562 287v3M562 381v5M563 77v3M563 268v5M563 276v5M563 284v3M563 383v3M563 392v2M564 276v3M564 281v3M564 287v5M564 378v3M564 386v3M565 86v2M565 281v3M565 397v3M566 77v6M566 273v6M566 281v14M566 312v2M566 320v3M566 386v3M567 75v5M567 287v3M568 279v8M569 276v3M569 281v3M569 381v2M570 284v3M571 281v3M571 394v3M572 284v6M572 375v3M573 83v3M573 292v3M573 298v3M574 86v2M574 281v9M574 389v3M575 83v5M575 292v3M575 301v2M575 397v6M576 94v3M576 287v3M576 389v3M577 61v3M577 75v2M577 290v2M577 295v3M577 317v3M577 389v8M578 72v3M578 290v5M578 383v3M579 66v3M579 72v3M579 77v6M579 290v5M580 66v6M580 77v3M580 284v14M580 323v3M580 386v3M580 392v2M581 69v3M581 287v3M581 292v3M581 389v3M582 77v3M582 88v3M582 292v3M582 320v3M582 394v3M583 88v3M583 290v2M583 298v3M584 72v3M584 290v2M584 392v8M585 287v3M585 292v3M585 298v3M586 69v3M586 301v5M586 386v6M586 397v3M587 301v5M587 386v3M587 392v2M588 301v2M589 69v3M589 88v3M589 292v3M589 303v3M589 392v2M590 287v3M590 389v5M591 80v3M591 273v3M591 281v6M591 292v3M591 383v3M591 389v5M591 400v3M592 301v2M592 381v2M592 386v3M593 298v3M594 295v3M594 301v5M594 386v3M594 392v2M594 397v3M594 403v2M595 292v6M595 301v5M595 394v3M596 290v2M596 298v3M596 303v3M597 268v5M598 381v2M598 386v3M599 386v3M600 298v5M600 389v3M601 303v3M601 400v3M602 298v3M602 394v3M602 400v3M603 403v2M604 394v11M605 314v3M606 312v2M606 394v11M607 303v3M607 312v2M607 317v6M607 386v8M607 397v3M608 400v3M609 386v3M610 400v3M611 392v2M612 301v2M612 389v3M612 400v3M613 303v3M614 400v3M615 301v2M615 397v3M616 392v5M616 400v3M617 303v3M617 392v2M617 397v8M618 301v2M618 389v3M618 394v3M618 403v2M619 392v2M619 397v3M621 303v3M623 303v3M624 303v3M625 303v3M626 303v3M627 303v3M628 303v3M629 303v3"/>
<path stroke="#00ff2e" d="M278 72v5M279 72v5M280 72v5M281 72v5M282 72v5M283 72v5M292 403v2M296 378v3M296 389v3M306 397v3M306 403v2M307 400v3M310 381v2M310 392v5M318 381v2M319 403v2M322 75v5M323 83v5M323 386v3M323 403v2M324 88v3M325 83v3M328 75v2M330 383v3M330 397v3M331 80v3M332 77v3M333 403v2M334 69v3M334 394v3M334 400v3M336 400v3M338 75v2M338 389v3M339 392v2M339 403v2M340 69v3M341 69v3M341 392v2M348 400v5M349 381v2M349 392v5M355 400v3M359 392v2M362 370v8M365 77v3M366 77v3M367 77v3M367 386v3M367 392v2M370 383v6M374 400v3M379 345v3M379 370v2M379 381v8M379 394v3M381 394v3M381 400v3M383 397v3M385 394v3M388 386v3M388 400v3M389 394v3M389 400v3M391 303v3M391 400v3M394 383v3M394 394v3M394 403v2M396 381v2M400 389v3M402 303v3M402 394v3M402 403v2M404 281v3M408 394v3M410 389v5M412 223v3M412 229v3M412 292v3M412 345v3M412 356v3M412 364v3M412 403v2M413 218v3M413 389v3M414 303v3M415 397v3M416 223v9M416 235v2M416 378v5M417 235v2M417 251v3M417 397v3M418 389v3M419 381v2M420 223v12M420 397v3M421 381v2M421 386v3M422 246v2M422 251v3M423 229v6M423 375v3M425 229v3M425 235v2M426 215v3M426 229v6M426 237v3M427 226v11M427 381v2M427 394v3M428 223v3M428 229v3M428 235v11M428 248v3M428 397v6M429 235v5M429 400v3M430 229v8M430 394v3M431 237v3M431 378v3M431 383v6M433 221v2M433 226v6M433 235v2M434 218v5M434 226v3M434 232v3M434 237v6M434 251v3M435 207v3M435 226v9M435 254v3M436 221v2M436 240v6M436 383v3M436 389v3M437 226v3M437 232v11M437 392v2M437 400v3M438 223v3M438 248v3M439 229v3M439 235v5M439 375v6M439 386v3M440 226v3M440 235v13M440 389v3M441 221v2M441 246v2M441 257v2M442 221v5M442 229v11M443 226v3M443 359v2M443 364v3M443 381v2M443 394v3M444 221v2M444 246v2M444 372v3M444 381v2M444 386v3M444 394v3M445 229v6M445 240v6M446 223v3M446 229v3M446 235v8M446 246v2M446 367v3M446 400v3M447 218v3M447 246v2M447 364v6M447 386v3M448 221v2M448 226v3M448 246v2M448 254v3M448 403v2M449 240v3M449 394v6M450 226v3M450 232v3M450 248v3M450 372v3M450 381v2M451 248v3M451 353v3M451 372v3M451 386v3M452 248v9M452 381v2M452 403v2M453 226v6M453 235v2M453 248v3M453 364v6M453 381v5M454 88v3M454 226v6M454 248v3M454 389v3M454 394v3M455 91v3M455 221v5M455 251v6M456 229v6M456 243v3M456 251v3M456 339v3M456 361v3M456 367v3M457 83v3M457 259v3M457 298v3M457 392v8M458 221v5M458 235v2M458 254v3M458 364v8M458 381v2M458 400v3M459 223v3M459 235v11M459 251v6M459 259v3M459 312v2M459 328v3M459 383v3M460 77v3M460 218v3M460 226v3M460 246v2M460 251v6M460 328v3M460 370v5M460 378v3M460 389v8M460 400v3M461 83v5M461 240v3M461 367v3M461 378v3M461 389v3M462 212v3M462 257v5M462 326v8M462 359v5M463 75v2M463 86v2M463 215v3M463 229v3M463 235v2M463 240v3M463 246v2M463 254v5M463 331v8M463 348v2M463 375v8M464 80v3M464 215v3M464 378v3M464 389v3M464 397v6M465 207v3M465 221v5M465 243v3M465 262v3M465 284v3M465 353v3M466 80v3M466 229v17M466 248v6M466 262v3M466 326v2M466 337v2M466 364v8M466 383v6M467 248v3M467 259v6M467 270v3M467 356v5M467 378v3M468 221v2M468 243v3M468 254v5M468 262v3M468 334v3M468 342v3M469 221v2M469 226v6M469 246v2M469 251v3M469 257v2M469 265v5M469 361v3M469 378v3M470 215v6M470 226v3M470 235v8M470 246v2M470 262v3M470 345v3M470 356v3M470 361v3M471 212v3M471 226v14M471 337v2M471 348v2M471 381v5M472 210v2M472 221v8M472 356v3M472 370v2M473 212v3M473 268v5M473 312v2M473 375v3M474 210v2M474 226v3M474 235v16M474 257v2M474 262v3M474 334v3M474 378v5M475 240v8M475 262v3M475 270v6M475 326v2M475 367v3M475 378v3M476 199v5M476 246v2M476 273v3M476 312v2M476 328v3M476 370v2M477 210v2M477 265v8M477 328v6M477 345v3M477 359v2M478 237v3M478 270v6M478 281v3M478 290v2M478 301v5M478 314v6M478 337v2M478 356v3M478 372v3M479 210v2M479 215v3M479 221v5M479 232v3M479 270v3M479 287v14M479 303v3M479 342v14M480 204v3M480 279v5M480 290v2M480 303v3M480 337v2M480 348v2M481 218v3M481 229v17M481 270v6M481 279v2M481 301v5M481 312v2M481 320v3M481 334v3M481 356v3M482 207v3M482 212v9M482 281v6M482 303v3M482 328v3M482 361v6M482 389v3M482 397v8M483 215v3M483 221v2M483 284v3M483 303v3M483 323v3M484 201v6M484 235v5M484 281v3M484 287v3M484 301v5M484 317v3M484 328v11M485 204v6M485 212v3M485 218v11M485 232v5M485 284v3M485 290v2M485 295v3M485 312v2M485 334v3M485 359v5M485 367v5M485 378v3M486 218v3M486 235v2M486 284v6M486 292v3M486 298v3M486 303v3M486 328v3M486 339v3M486 350v3M487 201v3M487 298v5M488 226v6M488 292v3M488 326v2M488 337v2M489 204v3M489 301v5M489 320v6M489 328v3M489 339v3M490 204v3M490 212v3M490 226v14M490 326v2M490 331v3M490 367v5M491 320v3M491 345v3M492 196v3M492 295v3M492 314v3M492 320v3M492 328v3M493 207v3M493 218v3M493 226v3M493 314v3M493 334v3M494 196v3M494 201v3M494 207v3M494 218v5M494 226v6M494 317v3M495 196v3M495 215v6M495 223v3M495 229v3M495 320v6M496 207v5M496 215v3M496 317v3M497 204v6M497 212v3M498 204v3M498 226v3M498 237v3M498 328v3M499 207v8M499 229v3M499 235v2M499 331v3M500 199v11M500 215v6M500 223v6M500 232v5M500 240v3M500 246v8M500 312v2M500 334v3M500 356v3M501 204v3M501 210v5M501 218v3M502 204v3M502 210v5M502 226v3M503 232v3M504 215v3M504 221v2M504 232v3M504 237v6M505 201v3M505 254v3M505 317v3M506 210v2M506 235v8M506 328v3M507 215v3M507 226v9M507 237v9M507 339v3M507 350v3M508 201v11M508 226v3M508 243v3M509 201v3M509 215v3M510 210v5M510 221v11M511 314v3M512 210v2M512 314v3M513 210v5M513 317v3M513 331v3M514 210v2M514 235v2M515 232v3M516 243v3M517 190v3M517 210v16M517 232v5M517 243v3M518 190v3M519 72v3M519 218v3M519 223v3M519 229v6M519 237v3M520 204v3M520 215v3M520 221v2M520 226v3M521 221v8M521 240v3M522 212v6M522 221v2M523 66v3M523 212v3M524 72v5M524 207v3M524 218v3M524 226v3M525 72v11M525 210v2M525 215v11M526 210v8M526 229v3M526 243v3M526 251v3M527 210v5M527 246v2M528 218v3M528 223v3M528 246v2M529 207v3M529 215v3M529 221v2M529 248v3M529 348v2M530 75v11M530 221v2M530 229v3M530 243v3M530 328v3M530 339v3M531 75v2M531 215v6M531 342v6M532 72v3M532 77v3M532 218v3M532 223v3M532 229v3M532 240v3M533 77v3M533 218v3M533 223v6M533 232v3M533 237v6M533 248v9M533 359v2M533 364v3M534 212v3M534 218v3M534 223v3M534 237v3M534 243v3M534 248v3M535 204v3M535 215v8M535 226v9M535 237v6M536 268v2M536 337v2M536 383v3M537 270v3M537 276v11M537 378v3M537 397v3M538 298v3M538 383v3M539 80v3M539 262v8M539 276v3M539 284v3M539 290v2M539 298v8M539 386v8M540 80v3M540 265v3M540 270v6M540 290v2M540 323v3M540 378v3M540 386v3M540 397v3M541 259v3M541 273v3M541 284v3M541 290v2M541 326v2M541 383v3M542 270v3M542 281v3M542 370v5M542 378v3M543 69v3M543 287v5M543 295v8M543 381v2M544 75v2M544 268v2M544 273v3M544 284v3M544 290v5M544 301v2M544 314v6M544 378v3M544 386v3M545 72v3M545 295v6M545 328v3M545 372v3M545 378v3M545 383v3M545 394v6M546 75v2M546 276v3M546 287v11M546 301v2M546 312v2M546 383v3M546 389v3M547 75v2M547 287v3M547 292v11M547 314v3M547 320v3M547 331v3M547 386v3M547 392v2M548 281v6M548 298v3M548 334v3M548 372v3M549 284v3M549 364v8M549 383v3M549 397v3M550 287v14M550 314v3M550 323v3M551 284v3M551 295v3M551 331v3M551 372v3M551 378v3M552 276v5M552 290v8M553 279v2M553 284v6M553 298v3M553 381v2M554 281v3M554 287v5M554 320v3M554 326v2M554 339v3M554 400v5M555 83v3M555 281v3M555 292v6M555 326v2M555 386v3M556 83v3M556 279v2M556 292v6M556 301v5M556 312v8M556 326v2M556 378v5M557 281v3M557 287v8M557 383v3M557 389v3M557 394v6M557 403v2M558 279v2M558 284v6M558 292v11M558 312v2M558 383v3M559 284v3M559 290v11M559 386v3M560 287v3M561 279v2M561 323v3M561 328v3M561 334v5M561 381v2M561 386v3M562 284v3M562 386v3M563 287v8M564 292v6M564 383v3M565 287v8M566 279v2M566 295v11M566 314v3M566 381v2M567 290v5M568 75v2M568 290v2M568 295v3M569 279v2M569 314v3M569 326v2M569 378v3M570 287v3M570 381v5M571 284v3M571 314v3M572 292v6M572 378v3M573 86v2M573 301v5M574 83v3M574 290v8M574 383v6M575 295v6M575 386v11M576 61v3M576 290v5M576 298v3M576 386v3M576 392v2M576 397v3M577 298v8M577 314v3M577 328v3M577 383v3M578 284v3M578 295v6M578 381v2M579 295v3M579 378v3M579 386v3M580 80v3M580 301v5M580 317v3M580 381v5M581 77v6M581 290v2M581 298v3M581 383v6M582 295v6M582 326v2M582 392v2M584 295v6M584 381v2M584 386v6M584 400v3M585 303v3M585 320v3M585 383v3M586 394v3M587 317v3M587 331v3M587 383v3M587 394v3M588 303v3M588 312v2M588 383v6M589 295v3M589 301v2M589 386v3M590 69v3M590 290v5M591 287v5M591 295v3M591 381v2M591 386v3M592 378v3M592 383v3M592 389v3M593 303v3M594 298v3M594 312v5M594 383v3M594 389v3M595 298v3M595 317v3M595 386v8M596 301v2M596 383v3M596 389v3M597 298v3M597 303v3M597 394v3M598 303v3M598 383v3M599 312v2M599 317v6M599 383v3M600 303v3M600 383v3M601 386v3M601 392v2M602 301v5M602 392v2M603 301v5M603 392v5M603 400v3M604 301v2M604 392v2M605 386v8M607 394v3M608 314v3M608 394v6M609 383v3M611 303v3M611 386v3M612 303v3M612 314v3M612 386v3M614 312v5M615 303v3M615 314v3M615 386v6M615 400v5M616 389v3M617 314v3M617 394v3M618 303v3M618 392v2M619 303v3M619 389v3M620 400v5M621 312v5M621 392v2M622 303v3M623 312v5M623 392v2M624 312v5M624 392v2M625 312v5M625 392v2M626 312v5M626 392v2M627 312v5M627 392v2M628 312v5M628 392v2M629 312v5M629 392v2"/>
<path stroke="#00ff14" d="M310 383v6M310 397v3M323 80v3M323 392v2M324 86v2M325 77v3M325 397v3M326 75v2M327 75v2M330 400v3M336 403v2M338 397v3M339 400v3M357 403v2M359 383v3M360 397v3M366 403v2M367 389v3M370 375v3M379 378v3M385 400v3M388 383v3M388 397v3M391 301v2M393 235v2M395 359v2M395 394v3M400 400v3M401 298v3M402 397v3M403 400v3M406 284v3M407 403v2M410 383v6M410 400v3M411 400v3M413 383v3M413 392v2M413 397v3M414 243v3M416 370v2M417 284v3M418 394v3M420 246v2M420 372v3M420 378v3M420 389v3M420 403v2M421 389v3M423 287v3M424 221v8M424 400v3M425 218v3M425 223v6M425 232v3M426 218v11M427 386v6M428 226v3M428 232v3M428 246v2M429 223v12M430 226v3M430 257v2M431 223v3M431 235v2M432 223v3M432 235v5M433 223v3M433 232v3M434 223v3M434 235v2M434 394v3M434 403v2M435 221v5M435 386v6M435 397v3M436 215v6M436 226v6M436 235v5M437 221v2M437 229v3M438 226v3M438 232v3M438 240v6M439 223v6M439 232v3M439 397v6M440 229v6M440 394v3M441 235v5M441 259v3M442 226v3M442 240v6M442 400v3M443 223v3M443 229v8M443 240v3M443 361v3M443 370v2M444 223v3M444 229v8M444 240v6M444 389v3M445 223v3M445 235v2M446 243v3M447 243v3M448 223v3M448 237v9M448 251v3M449 221v2M449 226v6M449 237v3M449 246v2M450 223v3M450 229v3M450 235v8M450 246v2M451 221v5M451 232v8M451 243v5M451 370v2M451 375v3M452 223v9M452 235v5M452 367v3M452 375v3M452 386v3M453 221v5M453 232v3M453 237v11M454 232v3M454 237v3M454 243v3M454 251v6M455 88v3M455 226v6M455 235v5M455 248v3M455 375v3M456 88v3M456 218v5M456 226v3M456 235v8M456 246v5M456 345v3M456 370v5M456 381v2M456 386v3M457 77v3M457 86v2M457 226v9M457 251v6M457 295v3M457 342v3M457 386v3M457 400v3M458 83v3M458 226v9M458 237v17M458 361v3M458 378v3M459 77v3M459 226v9M459 246v5M459 317v3M459 381v2M460 83v3M460 221v5M460 235v5M460 248v3M460 359v2M460 381v8M461 218v3M461 223v6M461 232v8M461 243v5M461 251v6M461 370v2M461 381v2M461 400v5M462 88v3M462 223v9M462 237v3M462 243v3M462 248v6M462 367v8M462 392v2M462 400v5M463 223v3M463 232v3M463 237v3M463 243v3M463 248v6M463 342v3M463 372v3M463 389v3M464 218v17M464 237v9M464 248v3M464 257v5M464 359v5M464 367v3M464 375v3M464 383v3M464 403v2M465 80v3M465 210v11M465 229v14M465 246v16M465 342v3M465 378v5M465 392v2M465 403v2M466 212v17M466 246v2M466 254v8M466 265v3M466 317v3M466 356v3M466 372v3M467 215v6M467 229v3M467 235v5M467 251v8M467 265v3M467 348v2M467 353v3M468 212v6M468 223v6M468 235v2M468 240v3M468 246v8M468 259v3M468 328v3M468 345v3M468 394v3M469 215v6M469 223v3M469 232v14M469 248v3M469 254v3M469 259v6M469 359v2M469 367v3M469 372v3M469 383v9M470 221v5M470 229v6M470 243v3M470 248v14M470 339v3M470 383v3M471 215v3M471 221v5M471 262v6M471 353v8M471 367v5M471 378v3M472 212v9M472 229v14M472 246v2M472 257v2M472 265v3M472 367v3M473 215v3M473 226v3M473 240v3M473 246v2M473 251v3M473 257v11M474 212v3M474 218v8M474 229v6M474 254v3M474 259v3M474 265v3M474 364v3M474 383v3M475 218v3M475 229v11M475 248v6M475 259v3M475 265v5M475 375v3M475 381v2M476 204v31M476 237v9M476 257v5M476 265v5M476 342v6M476 372v6M477 218v3M477 229v3M477 240v8M477 254v5M477 326v2M477 356v3M477 372v3M477 383v3M477 392v2M478 204v6M478 212v3M478 226v11M478 240v6M478 268v2M478 334v3M478 353v3M478 361v3M478 370v2M479 212v3M479 218v3M479 226v6M479 235v2M479 240v6M479 268v2M479 273v6M479 361v9M479 372v3M480 207v19M480 229v3M480 237v3M480 268v5M480 276v3M480 334v3M480 339v6M480 370v2M481 210v8M481 221v8M481 246v5M481 276v3M481 326v2M481 337v2M481 345v3M481 361v3M482 223v9M482 243v3M482 273v3M482 339v3M482 356v5M482 378v3M482 394v3M483 207v8M483 218v3M483 223v17M483 276v3M483 281v3M483 317v3M484 210v11M484 229v6M484 246v8M484 279v2M484 364v3M485 229v3M485 237v6M485 279v5M485 287v3M485 292v3M485 298v8M485 326v2M485 331v3M485 337v8M485 372v3M486 199v8M486 210v8M486 221v2M486 226v3M486 232v3M486 237v3M486 248v3M486 276v3M486 281v3M486 317v3M486 331v6M486 342v3M486 348v2M487 207v3M487 215v3M487 232v3M487 240v3M487 284v14M487 303v3M487 342v3M488 204v3M488 210v2M488 218v3M488 232v8M488 287v5M488 295v11M489 212v3M489 218v5M489 226v9M489 292v9M489 314v3M489 326v2M490 207v5M490 215v11M490 312v2M490 317v3M490 328v3M490 339v3M491 210v2M491 221v2M491 232v3M491 237v3M491 326v2M491 339v3M491 348v2M491 359v2M492 232v5M492 326v2M492 331v3M493 210v8M493 221v2M493 232v5M493 312v2M493 323v3M493 337v2M494 199v2M494 204v3M494 210v8M494 223v3M494 232v8M494 312v5M494 323v3M495 199v8M495 212v3M495 221v2M495 226v3M495 235v8M495 248v3M495 326v5M495 339v6M496 212v3M496 218v3M496 223v3M496 229v3M496 235v5M496 246v2M496 301v5M496 312v5M496 323v3M496 328v3M497 210v2M497 218v5M497 235v2M497 317v6M497 339v3M497 348v2M498 210v2M498 229v3M498 240v3M498 334v8M498 345v3M499 218v11M499 232v3M499 237v3M499 328v3M500 221v2M500 229v3M500 237v3M500 254v8M500 320v6M500 339v3M500 348v5M501 207v3M501 215v3M501 223v12M501 237v3M501 334v3M502 207v3M502 215v3M502 221v5M502 229v3M503 226v3M503 235v2M503 240v6M504 201v3M504 207v8M504 218v3M504 223v9M504 235v2M504 339v3M504 348v2M505 207v5M505 218v17M505 237v6M505 251v3M505 257v5M505 323v3M506 207v3M506 212v23M506 246v5M506 257v2M507 204v3M507 221v5M507 235v2M507 342v3M508 212v14M508 229v14M509 204v11M509 218v5M509 226v6M509 237v3M510 207v3M510 215v6M510 232v8M510 243v5M511 204v6M511 212v3M511 218v11M511 237v3M511 312v2M511 317v3M512 204v6M512 212v14M512 229v3M512 235v11M512 312v2M512 320v6M512 328v3M513 204v6M513 215v6M513 226v3M514 212v6M514 226v6M514 237v9M515 207v5M515 221v11M515 235v11M515 323v5M515 334v3M516 207v3M516 221v2M516 226v6M516 235v8M516 246v2M517 207v3M517 226v6M518 210v25M518 237v3M518 243v3M518 317v3M518 326v2M518 331v3M519 204v14M519 221v2M519 235v2M519 240v6M520 207v3M520 223v3M520 229v6M520 237v9M520 312v2M521 207v3M521 212v3M521 218v3M521 232v8M521 243v3M522 207v5M522 218v3M522 223v17M522 243v5M523 207v5M523 218v11M523 232v5M523 243v3M524 77v3M524 210v8M524 221v5M524 229v3M524 240v8M525 226v6M525 237v3M525 243v3M526 83v3M526 218v11M526 232v11M526 254v5M527 215v3M527 248v3M528 80v3M528 215v3M528 221v2M528 226v20M528 248v6M529 218v3M529 223v25M529 251v3M529 265v5M529 339v3M529 356v3M530 212v9M530 226v3M530 232v8M530 246v5M530 320v3M530 334v3M530 345v5M531 221v11M531 235v2M531 240v6M531 248v3M531 328v3M531 334v5M531 353v3M532 226v3M532 235v5M532 246v8M532 257v2M533 221v2M533 229v3M533 235v2M533 257v5M533 265v3M534 226v11M534 240v3M534 246v2M534 251v3M534 317v3M534 400v5M535 235v2M535 243v11M536 273v6M536 298v3M536 320v3M536 342v3M537 268v2M537 273v3M537 287v3M537 301v5M537 314v6M537 326v5M537 361v3M537 367v8M537 381v2M538 372v3M538 378v5M538 386v3M539 273v3M539 281v3M539 287v3M539 292v6M539 339v3M539 381v5M539 394v3M540 83v3M540 279v5M540 287v3M540 295v3M540 326v8M540 337v2M540 372v3M541 83v3M541 287v3M541 292v3M541 301v2M541 331v3M541 372v3M542 69v3M542 268v2M542 273v8M542 284v3M542 290v2M542 312v11M542 364v3M542 392v2M543 72v3M543 312v2M543 342v3M543 378v3M543 383v6M544 276v8M544 287v3M544 295v3M544 303v3M544 312v2M544 323v3M544 381v2M545 75v2M545 342v3M545 350v3M545 361v3M545 370v2M545 381v2M546 298v3M546 303v3M546 320v3M546 326v8M546 342v8M546 353v3M546 381v2M547 284v3M547 290v2M547 303v3M547 334v5M547 383v3M548 301v5M548 314v3M548 320v3M548 339v3M548 364v3M549 287v5M549 339v6M549 372v3M550 303v3M550 312v2M550 317v3M550 339v3M550 372v6M551 292v3M551 298v3M551 334v3M551 367v3M552 303v3M552 378v5M553 292v6M553 317v3M553 375v3M554 292v6M554 314v3M554 328v3M554 334v3M554 345v3M554 392v5M555 284v3M555 290v2M555 317v3M555 323v3M555 331v3M555 337v5M555 381v5M556 298v3M556 334v3M556 339v3M557 295v3M557 323v3M557 392v2M558 290v2M558 303v3M558 314v9M558 342v3M558 378v3M558 397v3M559 287v3M559 320v3M559 328v3M559 334v5M560 290v5M560 298v3M560 312v2M560 317v11M560 331v3M560 381v2M561 281v9M561 298v3M561 312v2M561 320v3M561 326v2M562 290v5M562 317v3M563 281v3M563 295v6M563 381v2M563 386v3M564 301v2M564 326v2M564 334v8M564 381v2M565 295v8M565 381v5M566 323v3M566 328v3M566 378v3M566 383v3M567 295v11M567 386v3M568 381v5M569 284v6M569 292v3M569 323v3M570 290v11M570 303v3M570 337v2M570 342v3M571 287v8M571 298v8M571 320v3M571 381v2M571 389v5M572 290v2M572 298v5M572 317v6M572 328v3M572 337v5M572 372v3M573 328v3M573 381v2M574 381v2M574 394v3M575 303v3M575 331v3M576 301v2M576 381v5M577 386v3M578 301v5M578 314v3M578 320v3M578 326v2M579 298v5M579 381v5M579 392v2M579 397v3M580 298v3M580 312v2M580 320v3M580 326v5M580 378v3M581 295v3M581 301v5M581 381v2M582 303v3M582 314v3M582 328v3M582 389v3M583 301v5M583 328v6M583 386v6M584 292v3M584 301v2M584 312v2M584 383v3M585 312v2M585 317v3M585 323v5M585 331v3M585 381v2M586 312v2M587 312v5M587 320v11M587 378v5M587 389v3M588 317v3M588 323v3M588 328v3M588 381v2M589 298v3M589 317v3M589 389v3M590 295v6M590 303v3M590 312v2M590 317v3M590 386v3M591 303v3M591 375v6M592 303v3M593 312v2M593 383v6M594 317v3M594 323v3M594 378v3M595 314v3M595 320v8M595 383v3M596 312v5M596 320v3M596 386v3M597 301v2M597 314v3M597 386v8M599 303v3M599 323v3M600 386v3M601 312v2M602 386v3M603 383v3M603 389v3M604 303v3M604 389v3M607 323v3M608 320v3M609 381v2M610 397v3M611 383v3M612 317v3M613 392v2M614 383v6M615 317v3M616 317v3M616 383v6M617 312v2M617 386v3M618 312v2M618 383v6M619 314v3M619 386v3M619 394v3M620 314v3M620 386v3M620 397v3M621 386v3M621 397v3M621 403v2M622 312v2M622 389v5M622 397v6M623 386v3M623 397v3M623 403v2M624 386v3M624 397v3M624 403v2M625 386v3M625 397v3M625 403v2M626 386v3M626 397v3M626 403v2M627 386v3M627 397v3M627 403v2M628 386v3M628 397v3M628 403v2M629 386v3M629 397v3M629 403v2"/>
<path stroke="#0bff00" d="M324 80v6M325 75v2M338 400v3M357 400v3M362 378v3M379 375v3M389 403v2M391 403v2M394 397v3M402 301v2M410 394v3M412 397v3M413 400v5M415 403v2M417 295v3M418 251v3M419 378v3M420 248v3M420 381v2M420 386v3M420 392v2M424 229v3M425 403v2M428 389v5M431 226v9M432 226v9M434 229v3M435 210v5M435 218v3M436 223v3M436 232v3M437 394v3M438 229v3M438 235v5M439 403v2M441 223v9M441 243v3M443 237v3M443 243v3M444 226v3M444 237v3M444 403v2M445 226v3M445 237v3M446 226v3M446 232v3M447 221v22M448 229v8M449 223v3M449 232v5M449 243v3M450 243v3M451 226v6M451 240v3M451 383v3M452 232v3M452 240v8M454 235v2M454 240v3M454 246v2M454 370v5M455 232v3M455 240v8M456 223v3M456 356v3M456 375v3M456 394v3M456 400v3M457 218v8M457 235v16M457 383v3M457 389v3M458 86v2M458 394v3M458 403v2M459 314v3M459 326v2M460 229v6M460 240v6M461 221v2M461 229v3M461 248v3M461 397v3M462 83v5M462 215v8M462 232v5M462 240v3M462 246v2M462 254v3M462 386v3M463 77v3M463 218v5M463 226v3M463 394v3M463 403v2M464 235v2M464 246v2M464 251v6M464 370v2M464 386v3M464 392v2M465 77v3M465 226v3M465 394v3M465 400v3M466 359v2M467 221v8M467 232v3M467 240v8M467 372v6M468 218v3M468 229v6M468 237v3M469 364v3M470 367v3M471 218v3M471 240v22M471 350v3M471 361v6M471 372v3M471 403v2M472 243v3M472 248v9M472 259v6M472 364v3M472 375v3M473 218v8M473 229v11M473 248v3M473 254v3M473 381v2M473 389v3M473 394v3M473 400v5M474 215v3M474 251v3M474 326v2M474 370v2M474 375v3M475 221v8M475 254v5M476 235v2M476 248v6M476 348v2M476 359v5M476 381v2M476 392v2M477 212v6M477 221v8M477 232v5M477 251v3M477 259v6M477 403v2M478 210v2M478 215v3M478 221v5M478 246v8M478 262v3M478 348v2M478 378v5M478 386v3M478 397v6M479 237v3M479 246v2M479 251v3M479 262v6M479 356v3M479 378v3M480 226v3M480 232v5M480 240v8M480 262v3M480 273v3M481 207v3M481 251v3M481 268v2M481 328v3M482 232v11M482 270v3M482 276v5M482 375v3M483 240v6M483 270v3M483 279v2M483 328v3M483 345v3M483 350v3M483 356v3M484 221v8M484 243v3M484 254v3M484 273v6M484 350v3M484 361v3M484 367v8M485 364v3M486 207v3M486 223v3M486 229v3M486 240v3M486 251v8M486 273v3M486 279v2M486 326v2M487 204v3M487 210v5M487 218v8M487 229v3M487 235v5M487 348v2M488 207v3M488 212v6M488 221v5M488 240v6M489 207v5M489 215v3M489 223v3M489 235v5M489 287v5M489 331v6M489 353v3M489 359v5M490 240v6M490 248v3M490 303v3M491 199v5M491 215v6M491 223v9M491 235v2M491 287v3M491 292v3M491 312v5M491 331v3M491 337v2M491 350v3M492 199v8M492 212v20M492 292v3M492 298v8M492 312v2M492 317v3M493 223v3M493 229v3M493 237v3M493 259v3M493 290v2M493 303v3M493 331v3M493 339v3M494 292v6M494 303v3M494 334v3M494 348v2M495 207v5M495 246v2M495 257v2M495 292v14M495 345v3M496 221v2M496 226v3M496 232v3M496 248v9M496 287v3M496 295v6M496 337v2M497 223v12M497 237v3M497 243v3M497 259v3M497 284v3M497 292v3M497 301v2M497 350v6M498 207v3M498 215v11M498 243v8M498 254v3M499 215v3M499 240v6M499 248v3M499 257v2M499 317v3M499 334v3M499 339v3M499 345v8M500 243v3M500 262v3M500 284v11M500 298v3M500 303v3M500 317v3M500 326v5M500 345v3M500 361v3M501 221v2M501 235v2M501 292v6M501 359v2M502 218v3M502 232v11M502 348v2M503 204v22M503 229v3M503 237v3M504 204v3M504 243v5M504 317v6M504 334v3M505 204v3M505 212v6M505 235v2M505 243v8M505 262v3M505 284v3M505 301v5M505 326v2M505 337v5M506 243v3M506 254v3M506 259v3M506 265v3M506 270v3M506 342v3M507 207v8M507 218v3M507 248v6M507 314v3M507 320v3M508 312v2M508 342v3M509 223v3M509 232v5M509 240v6M510 240v3M510 248v6M511 201v3M511 210v2M511 215v3M511 232v5M511 240v6M511 320v3M512 226v3M512 232v3M512 326v2M512 331v3M513 221v5M513 229v8M513 243v3M513 259v3M513 323v3M514 190v3M514 218v8M514 232v3M515 212v9M515 246v2M515 251v6M515 331v3M516 210v11M516 232v3M516 248v6M517 237v6M517 248v3M518 207v3M518 235v2M518 240v3M518 323v3M518 328v3M519 246v2M520 210v5M520 218v3M520 235v2M520 246v8M521 204v3M521 210v2M521 215v3M521 229v3M521 246v2M522 312v2M523 215v3M523 229v3M523 240v3M523 246v2M524 232v8M524 345v3M524 350v6M525 232v5M525 240v3M525 246v5M526 80v3M526 259v6M526 326v2M527 80v3M527 218v5M527 237v9M527 259v3M527 320v3M527 331v3M527 339v3M528 75v2M528 254v3M529 80v3M529 254v11M529 270v6M529 279v2M529 353v3M530 223v3M530 240v3M530 251v11M530 317v3M530 323v3M530 350v9M531 232v3M531 237v3M531 246v2M531 251v3M531 257v2M531 268v2M531 273v3M531 317v3M532 254v3M532 259v3M532 403v2M533 262v3M533 268v2M533 323v3M533 328v3M533 361v3M533 372v3M534 254v3M534 262v6M534 270v3M534 279v2M534 312v2M534 334v3M534 370v2M534 381v2M534 397v3M535 383v3M536 279v5M536 287v3M536 317v3M536 323v14M536 339v3M536 348v2M536 361v3M536 370v2M536 378v5M537 290v8M537 337v2M537 342v6M537 364v3M538 303v3M538 312v2M538 326v2M538 331v6M538 342v3M538 375v3M539 348v2M539 367v3M539 372v3M539 397v3M540 276v3M540 284v3M540 292v3M540 298v3M540 317v3M540 334v3M540 342v8M540 370v2M540 375v3M541 80v3M541 295v6M541 312v2M541 320v3M542 287v3M542 295v3M542 323v5M542 359v2M543 303v3M543 345v3M544 298v3M544 326v2M544 331v3M544 339v6M544 361v6M544 370v5M545 301v5M545 320v8M545 331v3M545 345v3M545 367v3M546 317v3M546 323v3M546 334v5M546 350v3M546 386v3M547 312v2M547 326v5M547 339v3M547 367v3M547 381v2M548 312v2M548 326v8M548 337v2M548 342v3M548 359v2M548 370v2M549 292v6M549 301v5M549 317v3M549 326v5M549 334v3M549 348v2M549 353v3M549 361v3M550 301v2M550 326v5M550 337v2M551 301v5M551 320v6M551 328v3M551 339v3M551 361v3M551 370v2M552 298v5M552 323v3M552 331v3M553 301v5M553 320v3M553 328v3M553 337v2M553 342v3M553 348v2M553 378v3M554 298v8M554 312v2M554 317v3M554 331v3M554 337v2M555 298v8M555 314v3M555 320v3M555 342v3M555 370v2M556 342v3M556 348v2M556 372v6M557 303v3M557 317v6M557 326v5M557 381v2M558 323v5M558 331v3M559 301v2M559 312v2M559 381v5M560 295v3M560 303v3M560 328v3M560 375v6M561 290v8M561 301v2M561 314v6M561 339v3M561 345v3M561 383v3M562 298v3M562 320v6M562 328v3M562 378v3M563 301v5M563 314v3M564 317v3M564 328v3M565 303v3M565 323v3M565 378v3M566 317v3M566 326v2M566 334v3M567 383v3M568 298v3M568 337v2M568 375v6M569 290v2M569 295v6M569 317v6M569 328v3M569 337v5M569 375v3M570 301v2M570 314v3M570 320v6M570 328v9M570 339v3M571 295v3M571 312v2M571 317v3M571 323v3M572 303v3M572 312v5M572 323v5M572 331v6M572 342v6M572 364v6M573 323v3M574 298v8M575 328v3M575 383v3M576 303v3M576 312v8M576 328v6M576 337v2M577 320v3M577 326v2M577 331v3M578 312v2M578 317v3M578 323v3M578 378v3M579 303v3M579 320v3M579 331v3M580 314v3M580 375v3M582 301v2M582 312v2M582 317v3M582 323v3M582 383v6M583 323v3M584 303v3M584 314v3M585 314v3M585 328v3M585 378v3M586 314v3M586 323v3M586 328v3M586 381v5M588 314v3M588 320v3M588 326v2M588 331v6M588 378v3M589 312v2M589 328v3M590 301v2M590 320v3M590 383v3M591 298v5M591 314v3M592 314v3M594 320v3M594 326v5M594 381v2M595 312v2M595 328v3M596 323v3M596 381v2M597 312v2M597 317v9M598 314v3M598 378v3M599 326v8M599 381v2M600 314v3M600 323v3M600 328v3M600 381v2M601 314v9M601 383v3M601 389v3M602 317v3M602 326v2M602 389v3M603 312v2M603 381v2M605 312v2M605 326v2M606 314v9M606 389v5M607 381v5M608 312v2M608 317v3M608 386v8M608 403v2M610 386v6M610 394v3M612 312v2M612 383v3M613 312v2M613 317v3M613 383v3M613 389v3M614 389v3M615 312v2M615 383v3M615 392v2M616 312v5M617 317v3M618 314v3M619 312v2M620 312v2M620 383v3M620 389v3M620 394v3M621 383v3M622 314v6M622 386v3M622 394v3M622 403v2M623 383v3M624 383v3M625 383v3M626 383v3M627 383v3M628 383v3M629 383v3"/>
<path stroke="#38ff00" d="M347 400v3M360 403v2M394 400v3M402 400v3M420 394v3M425 221v2M435 215v3M441 232v3M441 240v3M449 403v2M452 400v3M453 370v2M454 375v8M456 359v2M456 397v3M456 403v2M458 375v3M459 320v3M462 375v6M463 383v3M463 392v2M463 397v6M464 394v3M466 389v3M467 364v3M469 370v2M470 370v8M470 389v3M471 386v3M472 372v3M473 243v3M473 383v6M473 392v2M473 397v3M474 400v3M475 386v3M476 254v3M476 353v3M476 364v6M476 378v3M476 389v3M477 237v3M477 248v3M477 353v3M477 364v3M477 370v2M477 375v3M477 397v3M478 218v3M478 254v8M478 265v3M478 350v3M478 389v3M478 403v2M479 248v3M479 254v8M479 359v2M479 370v2M479 375v3M480 248v14M481 370v5M482 246v5M482 259v3M482 268v2M482 337v2M482 342v6M482 386v3M483 248v3M483 254v3M483 273v3M483 326v2M483 331v3M483 353v3M483 359v5M483 386v3M484 257v2M484 262v3M484 268v2M484 378v3M485 243v5M485 276v3M485 328v3M486 243v5M486 259v11M486 323v3M486 337v2M486 345v3M486 356v3M487 226v3M487 243v3M487 273v3M487 279v5M488 284v3M489 240v3M489 246v2M489 276v11M489 356v3M490 246v2M490 270v3M490 295v8M490 337v2M490 345v3M491 204v6M491 212v3M491 240v6M491 281v6M491 290v2M491 295v11M491 317v3M491 334v3M491 361v3M492 207v5M492 237v9M492 284v8M492 334v3M492 367v5M493 243v16M493 270v6M493 279v5M493 292v6M493 317v3M493 328v3M493 353v3M494 240v6M494 284v3M494 290v2M494 298v3M494 320v3M494 326v5M494 337v5M495 243v3M495 251v6M495 259v3M495 281v3M495 287v5M495 317v3M496 240v6M496 257v5M496 270v3M496 276v11M496 290v5M496 320v3M497 240v3M497 246v2M497 251v6M497 276v3M497 290v2M497 298v3M497 303v3M497 328v3M497 337v2M497 342v3M497 370v2M498 212v3M498 251v3M498 257v2M498 270v3M498 284v3M499 246v2M499 251v6M499 281v17M499 301v5M499 312v2M499 326v2M499 342v3M500 265v11M500 279v5M500 295v3M500 301v2M500 314v3M500 337v2M500 353v3M500 370v2M501 240v6M501 248v3M501 254v8M501 281v3M501 287v5M501 298v8M501 312v2M501 317v3M501 328v6M501 348v2M502 243v5M502 353v3M503 246v8M503 331v3M504 248v14M504 312v5M504 323v3M504 361v3M505 265v11M505 281v3M505 287v5M505 295v6M505 328v6M506 251v3M506 262v3M506 268v2M506 273v8M506 284v3M506 323v3M506 334v8M507 246v2M507 254v16M507 279v8M507 323v5M507 331v3M507 337v2M507 345v5M508 246v13M508 265v3M508 317v3M508 375v3M509 246v8M509 386v3M510 254v5M510 262v3M511 229v3M511 246v2M511 257v2M511 262v3M511 326v5M512 246v11M512 259v6M512 268v2M512 348v2M512 381v2M513 237v6M513 246v8M513 257v2M513 262v3M513 312v2M514 246v8M514 257v2M515 248v3M515 257v8M515 268v2M515 273v3M515 281v3M515 328v3M515 345v3M516 223v3M516 254v5M516 312v2M516 334v3M518 246v11M518 259v3M518 314v3M519 248v9M519 317v3M520 254v5M520 314v3M521 248v3M522 240v3M522 248v3M522 317v3M523 237v3M523 248v3M524 248v6M524 257v5M524 265v3M524 348v2M525 251v8M525 262v3M525 361v3M526 268v2M527 83v3M527 223v14M527 251v8M527 262v3M527 314v3M527 328v3M527 334v3M528 77v3M528 83v3M528 257v8M529 75v2M529 276v3M529 284v3M529 295v3M529 312v8M529 328v3M529 342v6M530 262v11M531 254v3M531 259v9M531 270v3M531 276v8M531 326v2M531 367v5M532 268v2M532 334v3M532 364v3M532 389v3M532 397v3M533 270v9M533 317v6M533 326v2M533 367v3M534 257v5M534 268v2M534 273v6M534 281v9M534 314v3M534 320v6M534 372v9M534 383v3M534 394v3M535 254v8M535 353v3M535 375v3M535 381v2M535 392v2M535 400v3M536 284v3M536 290v5M536 301v5M536 314v3M536 345v3M536 350v9M536 364v6M536 372v6M537 298v3M537 312v2M537 320v3M537 331v3M537 339v3M537 350v3M537 359v2M538 317v3M538 328v3M538 337v5M538 345v5M538 367v3M539 312v2M539 317v6M539 334v5M539 350v3M539 356v3M539 364v3M539 370v2M540 301v5M540 312v5M540 320v3M540 350v6M540 364v6M541 303v3M541 328v3M541 334v5M541 359v11M542 292v3M542 298v5M542 328v3M542 334v3M542 339v3M542 361v3M543 317v3M543 337v2M543 353v3M543 367v3M543 372v6M544 328v3M544 345v3M544 356v5M544 367v3M544 375v3M545 312v8M545 334v8M545 348v2M545 356v5M545 364v3M546 339v3M546 378v3M547 317v3M547 323v3M547 342v3M547 375v6M548 317v3M548 323v3M548 345v14M548 367v3M549 298v3M549 312v2M549 323v3M549 331v3M549 337v2M549 345v3M549 350v3M550 320v3M550 370v2M551 317v3M551 326v2M551 337v2M551 345v3M551 350v3M551 356v5M551 364v3M552 317v3M552 326v2M552 339v3M552 372v6M553 312v5M553 323v5M553 331v3M553 339v3M553 383v3M554 342v3M554 348v5M554 378v11M555 345v3M555 364v3M555 372v9M555 389v3M556 345v3M556 350v3M556 370v2M557 298v5M557 314v3M557 331v3M557 339v3M558 328v3M558 339v3M558 348v5M558 375v3M559 303v3M559 323v5M559 331v3M559 339v6M559 378v3M560 301v2M560 337v2M560 342v6M560 350v3M561 342v3M561 348v2M561 378v3M562 295v3M562 301v5M562 312v5M562 326v2M562 331v14M563 320v3M563 331v3M563 378v3M564 298v3M564 312v2M564 320v3M564 331v3M564 348v2M564 370v8M565 314v3M565 320v3M566 331v3M566 345v3M566 372v3M567 317v6M567 328v6M567 375v8M568 301v5M568 320v3M568 326v5M568 334v3M568 372v3M569 301v5M569 312v2M569 372v3M570 317v3M570 326v2M570 375v3M571 328v3M571 386v3M573 312v2M573 320v3M573 326v2M573 331v6M573 378v3M574 314v3M574 320v3M574 328v3M574 334v3M574 378v3M575 314v6M575 323v3M575 337v2M575 381v2M576 320v8M576 334v3M577 312v2M577 334v3M577 381v2M579 312v2M579 328v3M579 375v3M580 331v6M581 312v2M581 323v3M581 328v9M582 331v6M582 370v2M583 314v9M583 326v2M583 337v2M583 383v3M584 317v3M584 323v11M584 378v3M585 334v3M585 339v3M586 317v6M586 326v2M586 331v3M586 378v3M588 337v2M589 314v3M589 320v8M589 331v3M589 383v3M590 323v8M591 312v2M591 317v17M591 370v2M592 312v2M592 375v3M593 314v3M593 381v2M594 331v3M594 375v3M595 378v5M596 317v3M596 378v3M597 381v5M598 317v3M598 326v2M598 334v5M598 375v3M599 337v2M600 312v2M600 317v3M600 326v2M600 372v3M600 378v3M601 323v5M602 312v5M602 320v3M602 381v5M603 314v3M603 323v3M603 386v3M604 326v2M604 383v6M605 323v3M605 328v3M605 383v3M606 323v3M609 312v5M610 381v2M610 392v2M611 314v3M611 381v2M612 320v3M613 320v6M613 386v3M614 317v6M615 320v6M615 381v2M616 378v3M617 383v3M618 317v3M618 378v5M619 378v3M619 383v3M620 317v3M620 381v2M620 392v2M621 317v6M621 378v5M621 394v3M621 400v3M622 381v2M623 317v6M623 378v5M623 394v3M623 400v3M624 317v6M624 378v5M624 394v3M624 400v3M625 317v6M625 378v5M625 394v3M625 400v3M626 317v6M626 378v5M626 394v3M626 400v3M627 317v6M627 378v5M627 394v3M627 400v3M628 317v6M628 378v5M628 394v3M628 400v3M629 317v6M629 378v5M629 394v3M629 400v3"/>
<path stroke="#65ff00" d="M338 394v3M420 400v3M452 378v3M454 383v3M458 359v2M458 372v3M464 372v3M464 381v2M466 392v13M467 361v3M467 367v5M468 397v6M469 392v5M470 386v3M470 392v2M470 403v2M472 378v14M474 372v3M474 403v2M475 383v3M476 383v6M476 400v3M477 361v3M477 367v3M477 378v5M477 394v3M477 400v3M478 392v2M479 381v2M480 265v3M480 372v6M481 254v5M481 331v3M482 254v5M482 262v6M482 334v3M482 348v8M482 381v2M483 246v2M483 251v3M483 257v2M483 262v8M483 334v11M483 348v2M483 364v6M483 378v3M484 259v3M484 265v3M484 270v3M484 339v11M484 353v8M484 381v2M485 248v3M485 257v2M485 268v2M485 273v3M485 381v5M486 270v3M486 361v6M487 246v5M487 254v5M487 268v2M487 276v3M487 350v11M488 248v3M488 339v14M489 243v3M489 248v28M490 251v19M490 276v3M490 281v14M490 342v3M490 348v2M490 372v6M491 246v8M491 262v8M491 276v5M491 323v3M491 342v3M491 367v3M492 246v8M492 279v5M492 337v8M493 240v3M493 262v8M493 276v3M493 284v6M493 298v5M493 320v3M493 326v2M493 342v8M494 246v8M494 259v3M494 276v8M494 287v3M494 301v2M494 331v3M494 342v3M494 353v6M495 262v11M495 276v5M495 284v3M495 331v8M495 350v3M496 262v8M496 273v3M496 326v2M496 331v6M496 339v3M497 248v3M497 257v2M497 262v8M497 273v3M497 279v5M497 287v3M497 295v3M497 314v3M497 323v5M497 331v6M497 356v3M498 259v9M498 273v11M498 290v8M498 301v5M498 342v3M499 259v6M499 270v11M499 298v3M499 314v3M499 320v6M500 276v3M500 342v3M500 359v2M500 364v3M501 246v2M501 251v3M501 262v8M501 276v5M501 284v3M501 314v3M501 320v8M501 353v6M502 248v3M502 312v8M503 254v3M503 312v2M503 364v3M504 265v3M504 276v25M504 303v3M504 328v3M504 350v3M504 367v3M505 276v5M505 292v3M505 334v3M505 361v3M506 281v3M506 287v5M506 295v6M506 312v2M507 270v9M507 287v11M507 301v5M507 317v3M507 328v3M508 259v6M508 268v11M508 314v3M508 345v3M508 350v6M508 372v3M509 281v3M509 287v3M510 259v3M510 270v3M510 276v19M510 367v3M511 248v9M511 259v3M511 265v8M512 257v2M512 265v3M512 270v11M512 284v8M512 334v5M512 375v6M512 383v3M513 254v3M513 270v6M513 298v3M513 314v3M513 320v3M513 326v2M513 339v3M514 254v3M514 259v9M514 312v2M514 317v3M515 265v3M515 270v3M515 276v5M515 287v3M515 337v2M516 259v6M516 314v3M516 323v3M517 246v2M517 251v11M518 265v3M518 273v3M518 334v3M519 257v2M519 326v2M520 259v9M522 251v8M522 265v3M522 314v3M523 251v3M524 254v3M524 262v3M524 268v2M524 273v3M524 312v2M524 331v3M524 339v3M524 356v3M525 259v3M525 265v3M525 276v3M526 265v3M526 270v6M526 320v6M526 361v3M527 265v8M527 276v3M527 284v6M527 345v3M528 265v5M528 328v6M529 77v3M529 281v3M529 287v5M529 298v3M529 303v3M529 323v3M529 331v6M529 359v2M530 326v2M531 284v6M531 295v3M531 356v8M531 389v3M532 262v6M532 270v11M532 348v11M532 394v3M533 279v2M533 383v3M534 292v6M534 301v2M534 328v6M534 345v3M534 367v3M535 262v3M535 312v2M535 328v20M535 356v3M535 394v3M536 295v3M536 312v2M537 323v3M537 334v3M537 348v2M537 356v3M538 314v3M538 320v6M538 350v3M538 356v3M538 364v3M538 370v2M539 314v3M539 323v11M539 342v6M539 353v3M539 359v2M539 375v6M540 339v3M540 359v5M541 314v6M541 323v3M541 339v17M541 370v2M542 303v3M542 331v3M542 337v2M542 342v8M542 353v6M543 314v3M543 320v17M543 339v3M543 348v5M543 356v3M543 364v3M543 370v2M544 334v5M544 348v8M545 353v3M546 356v3M546 372v6M547 345v11M547 372v3M548 361v3M549 314v3M549 320v3M549 356v5M550 331v6M550 342v8M550 367v3M551 312v5M551 342v3M551 348v2M552 312v5M552 320v3M552 328v3M552 334v5M552 342v6M553 334v3M553 364v6M553 372v3M554 375v3M555 312v2M555 348v2M555 361v3M556 361v6M557 312v2M557 334v5M557 342v3M557 375v6M558 334v5M558 345v3M558 364v3M558 372v3M559 314v3M559 345v3M559 350v3M559 356v3M559 364v3M559 372v6M560 334v3M560 339v3M560 348v2M560 353v3M560 359v2M560 367v3M560 372v3M561 303v3M561 372v3M562 345v3M562 375v3M563 312v2M563 317v3M563 323v8M563 334v5M563 345v3M564 303v3M564 314v3M564 323v3M564 345v3M564 353v3M564 364v3M565 312v2M565 317v3M565 326v13M566 337v5M566 348v2M566 367v3M566 375v3M567 312v5M567 323v5M567 334v3M568 312v8M568 323v3M568 331v3M568 370v2M569 331v6M569 345v3M570 312v2M570 345v3M570 378v3M571 326v2M571 331v6M571 378v3M571 383v3M572 348v5M572 359v5M572 370v2M573 314v6M573 342v6M573 375v3M574 312v2M574 317v3M574 323v5M574 331v3M575 312v2M575 320v3M575 326v2M575 334v3M575 375v6M576 339v6M576 348v2M576 375v6M577 323v3M577 342v3M577 375v6M578 328v6M579 314v6M579 323v5M579 334v8M580 372v3M581 314v9M581 326v2M581 339v3M581 378v3M582 378v5M583 312v2M583 334v3M583 339v6M583 378v5M584 320v3M584 334v3M585 337v2M585 342v3M585 370v8M586 334v3M587 334v3M587 370v2M587 375v3M588 339v3M589 334v3M589 381v2M590 314v3M590 331v3M590 381v2M591 372v3M592 317v20M592 372v3M593 317v11M594 334v3M595 334v3M596 326v2M596 375v3M597 326v8M597 378v3M598 312v2M598 320v6M598 328v6M598 339v3M599 334v3M599 375v6M600 320v3M600 331v3M600 367v3M600 375v3M601 381v2M602 323v3M602 331v3M603 317v6M604 312v14M604 328v3M604 381v2M605 320v3M605 331v3M605 381v2M606 326v2M606 381v8M608 323v3M608 381v5M609 317v3M609 378v3M610 312v8M610 383v3M611 312v2M611 317v3M612 323v3M612 381v2M613 314v3M614 323v3M614 328v3M614 381v2M615 326v2M615 394v3M616 320v3M617 381v2M619 317v6M619 375v3M619 381v2M620 378v3M621 375v3M621 389v3M622 383v3M623 375v3M623 389v3M624 375v3M624 389v3M625 375v3M625 389v3M626 375v3M626 389v3M627 375v3M627 389v3M628 375v3M628 389v3M629 375v3M629 389v3"/>
<path stroke="#92ff00" d="M468 403v2M470 394v3M475 389v3M478 394v3M480 378v3M480 403v2M481 259v9M481 375v3M482 251v3M482 383v3M483 259v3M483 383v3M485 254v3M485 259v6M485 270v3M486 359v2M487 251v3M487 259v9M487 270v3M487 364v3M487 389v3M488 246v2M488 251v3M488 259v3M488 265v3M488 279v5M490 273v3M490 279v2M490 364v3M490 378v3M491 254v8M491 270v6M491 364v3M492 257v22M492 345v5M492 372v3M492 386v3M493 350v3M494 254v5M494 262v3M494 268v8M494 345v3M495 273v3M495 348v2M495 356v3M496 345v3M497 270v3M497 359v2M498 268v2M498 287v3M498 298v3M499 265v5M499 337v2M500 375v3M501 270v6M501 337v2M501 345v3M501 350v3M501 361v9M502 251v11M502 265v3M502 276v8M502 298v3M502 345v3M502 350v3M502 356v5M503 257v8M503 292v3M503 328v3M503 334v5M503 350v3M503 361v3M504 262v3M504 268v8M504 301v2M504 331v3M504 353v8M505 345v3M505 353v3M506 292v3M506 301v5M506 314v9M506 331v3M507 298v3M507 356v3M508 279v13M508 295v3M508 303v3M508 331v3M508 337v5M508 348v2M508 364v8M509 254v14M509 270v11M509 284v3M509 290v5M509 298v3M509 378v3M509 383v3M510 265v5M510 273v3M510 295v3M510 317v3M511 273v8M511 284v6M511 292v6M512 281v3M512 292v6M512 303v3M512 339v3M512 350v3M512 386v3M513 265v5M513 276v11M513 290v5M513 301v2M513 334v3M513 342v6M514 268v8M514 281v3M515 284v3M515 339v3M515 350v3M516 265v11M516 320v3M516 326v8M516 372v3M517 262v6M517 270v3M517 276v11M518 257v2M518 262v3M518 268v5M518 276v5M518 287v11M518 337v2M519 259v6M519 270v6M519 312v5M519 320v3M520 268v2M520 317v6M522 259v3M522 320v3M523 254v8M523 314v3M524 270v3M524 317v3M524 323v3M524 337v2M525 268v8M525 279v11M525 312v5M525 394v3M526 276v14M526 292v3M526 314v6M526 328v6M526 359v2M527 273v3M527 281v3M527 290v8M527 312v2M527 317v3M527 337v2M528 270v6M528 320v3M528 337v2M529 292v3M529 301v2M530 273v6M530 281v9M530 292v9M530 314v3M530 359v2M531 290v5M531 323v3M531 375v3M531 381v2M531 403v2M532 281v6M532 326v2M532 342v3M532 359v5M532 367v3M532 381v2M532 386v3M533 281v9M533 292v6M533 312v5M533 370v2M533 378v5M534 290v2M534 298v3M534 303v3M534 350v3M534 356v3M534 389v3M535 265v5M535 320v3M535 361v6M535 372v3M535 378v3M535 397v3M536 359v2M537 353v3M538 353v3M538 359v2M541 356v3M542 350v3M543 359v5M546 359v11M547 359v8M550 361v6M552 348v2M552 353v3M552 359v2M552 370v2M553 345v3M553 350v6M553 370v2M554 356v3M554 364v6M555 367v3M556 367v3M557 345v3M558 353v8M558 367v5M559 348v2M559 359v5M559 367v3M560 356v3M560 361v3M560 370v2M561 375v3M562 348v2M562 353v3M563 339v6M563 348v2M564 342v3M564 350v3M564 367v3M565 339v3M565 345v5M565 375v3M566 342v3M566 350v3M566 359v2M567 337v5M567 345v3M568 339v9M568 350v3M568 361v6M569 367v5M570 348v5M570 370v5M571 370v2M572 353v6M573 337v5M573 350v3M573 367v5M574 353v3M574 361v3M574 367v11M575 339v9M576 345v3M576 350v3M576 356v3M576 364v11M577 337v5M577 372v3M578 334v8M578 348v2M578 375v3M580 337v2M580 342v3M580 350v3M580 370v2M581 342v3M581 375v3M582 342v3M582 350v3M582 361v6M582 372v6M583 345v5M585 345v8M587 337v2M587 372v3M588 345v5M588 364v3M588 372v6M589 378v3M590 334v5M590 378v3M591 334v5M592 339v3M592 364v3M592 370v2M593 378v3M594 337v2M595 331v3M595 372v6M596 328v3M596 334v3M597 370v2M597 375v3M598 342v3M598 370v5M599 372v3M600 334v3M600 370v2M601 328v3M601 334v3M601 375v6M602 328v3M602 334v3M603 326v5M603 378v3M604 331v3M605 334v5M605 378v3M606 328v3M607 326v8M607 378v3M611 320v6M611 328v3M612 326v2M613 326v2M613 381v2M614 326v2M614 378v3M615 375v6M616 323v3M616 381v2M617 320v3M618 320v3M618 326v2M618 372v3M619 372v3M621 326v2M621 367v3M622 320v3M623 326v2M623 367v3M624 326v2M624 367v3M625 326v2M625 367v3M626 326v2M626 367v3M627 326v2M627 367v3M628 326v2M628 367v3M629 326v2M629 367v3"/>
<path stroke="#bfff00" d="M469 403v2M472 394v6M475 394v3M475 400v3M476 394v6M477 386v6M479 383v6M480 381v2M481 378v3M483 372v6M483 381v2M484 383v9M485 251v3M485 265v3M485 392v2M486 367v3M486 372v3M487 370v2M487 375v6M488 254v5M488 262v3M488 268v11M489 367v3M490 359v5M492 254v3M492 364v3M492 375v3M494 265v3M495 359v2M497 361v3M497 367v3M497 372v3M498 350v3M500 367v3M500 372v3M501 339v3M502 262v3M502 268v5M502 284v6M502 292v6M502 303v3M502 337v8M503 265v3M503 270v3M503 279v2M503 284v6M503 295v11M503 314v3M503 342v3M503 353v8M504 326v2M504 364v3M505 372v3M506 348v8M507 312v2M507 334v3M507 353v3M508 292v3M508 298v5M508 320v6M508 334v3M508 356v3M509 268v2M509 295v3M509 301v5M509 381v2M510 298v8M510 314v3M511 290v2M511 298v8M512 298v5M512 342v6M512 372v3M513 287v3M513 295v3M513 337v2M514 276v5M514 284v3M514 292v3M514 314v3M515 290v8M515 314v3M516 276v11M516 290v11M516 317v3M517 268v2M517 273v3M517 287v5M518 281v6M518 298v5M518 339v3M518 345v3M519 265v5M519 276v8M519 287v3M519 292v6M519 323v3M519 328v3M520 270v6M520 290v5M520 298v3M520 303v3M520 326v5M521 251v3M521 257v5M522 262v3M522 268v2M522 273v3M522 350v3M523 262v14M523 281v3M523 367v3M524 276v8M524 290v5M524 314v3M524 320v3M524 334v3M524 342v3M524 359v2M525 290v2M525 320v3M525 356v5M525 381v2M525 386v3M526 290v2M526 295v3M526 303v3M526 312v2M526 337v2M526 350v3M527 279v2M527 298v3M527 323v3M528 276v8M528 342v6M529 350v3M529 367v3M530 279v2M530 290v2M530 301v5M531 301v5M531 364v3M531 372v3M531 378v3M531 392v2M531 397v3M532 290v2M532 295v3M532 301v2M532 328v6M532 339v3M533 290v2M533 298v8M533 375v3M533 394v6M534 337v5M534 348v2M534 353v3M534 359v2M534 392v2M535 270v6M535 279v2M535 284v3M535 290v11M535 326v2M535 386v3M538 361v3M546 370v2M547 356v3M547 370v2M551 353v3M552 350v3M553 361v3M554 353v3M554 359v5M554 370v5M555 350v11M556 353v6M557 372v3M559 353v3M559 370v2M560 364v3M561 350v6M561 370v2M562 350v3M562 370v5M564 356v8M565 342v3M565 370v5M566 353v3M567 350v6M567 367v8M568 367v3M569 342v3M569 348v2M569 364v3M570 367v3M571 337v5M571 350v3M571 367v3M571 375v3M573 348v2M573 359v2M573 364v3M573 372v3M574 337v8M574 348v2M574 359v2M575 350v3M575 367v3M575 372v3M577 345v3M577 364v3M577 370v2M578 342v6M578 353v3M578 372v3M579 342v3M579 348v2M579 370v2M580 339v3M581 337v2M582 337v5M582 359v2M582 367v3M583 353v3M583 370v2M583 375v3M584 337v2M584 370v2M584 375v3M585 359v5M585 367v3M586 337v5M587 361v3M588 342v3M588 350v3M588 356v3M588 370v2M589 337v2M589 370v2M590 339v3M591 339v3M592 337v2M592 345v3M593 328v6M593 375v3M594 339v3M594 372v3M595 337v2M595 342v3M596 331v3M597 334v3M598 348v11M598 361v3M599 339v3M599 370v2M600 337v2M600 364v3M601 331v3M601 339v6M601 372v3M603 334v3M603 375v3M604 334v3M604 378v3M605 370v2M605 375v3M606 331v3M607 361v3M607 372v6M608 378v3M609 320v3M609 372v6M610 320v3M610 378v3M611 326v2M611 372v9M612 328v3M612 378v3M613 328v3M614 337v2M614 375v3M615 328v3M616 326v8M617 378v3M618 370v2M619 323v3M619 370v2M620 320v3M620 375v3M621 323v3M622 375v3M623 323v3M624 323v3M625 323v3M626 323v3M627 323v3M628 323v3M629 323v3"/>
<path stroke="#ecff00" d="M472 392v2M475 392v2M475 403v2M476 403v2M479 389v3M480 383v3M481 381v2M483 370v2M485 386v3M486 375v3M486 383v3M487 372v3M490 353v3M492 359v2M492 378v8M492 389v3M492 400v3M493 372v3M493 381v5M494 359v5M494 378v3M495 361v3M496 342v3M497 375v6M498 348v2M498 361v3M499 378v8M499 389v3M501 342v3M501 370v2M501 375v3M502 273v3M502 290v2M502 301v2M502 361v3M503 268v2M503 273v6M503 281v3M503 290v2M503 345v3M505 342v3M505 348v5M505 356v5M505 364v3M506 345v3M506 361v3M506 367v3M506 372v3M507 359v5M508 359v5M509 392v2M510 312v2M510 323v5M510 356v3M510 372v3M511 281v3M513 303v3M514 287v5M514 298v3M514 323v3M514 328v3M515 298v5M515 317v6M515 353v11M516 287v3M516 301v5M516 339v3M516 367v3M516 375v6M516 386v6M517 292v3M517 314v3M518 303v3M518 378v3M518 383v3M518 392v2M519 284v3M519 290v2M519 298v3M519 303v3M520 276v14M520 295v3M520 301v2M520 323v3M520 334v3M520 339v3M520 345v3M520 350v3M521 254v3M521 262v8M521 273v11M521 287v3M522 270v3M522 323v3M522 328v3M522 345v3M523 276v5M523 284v6M523 312v2M523 317v3M524 284v6M524 295v6M524 326v5M525 292v14M525 367v3M525 392v2M525 397v3M526 298v5M526 334v3M526 342v3M526 348v2M526 356v3M526 364v3M527 301v5M527 342v3M527 348v2M527 381v2M528 284v6M528 295v3M528 314v3M528 326v2M529 326v2M529 361v6M530 312v2M530 361v3M531 298v3M531 320v3M531 400v3M532 287v3M532 292v3M532 298v3M532 303v3M532 317v3M532 337v2M532 370v2M532 378v3M532 383v3M532 392v2M532 400v3M533 386v8M534 326v2M534 342v3M534 364v3M534 386v3M535 276v3M535 281v3M535 287v3M535 301v5M535 314v3M535 348v5M535 370v2M535 403v2M539 361v3M540 356v3M550 350v3M550 356v5M552 356v3M552 364v3M553 356v5M556 359v2M557 348v2M557 361v11M558 361v3M561 361v9M562 359v2M562 364v6M563 350v6M563 372v6M565 353v3M565 359v2M565 364v3M566 356v3M566 361v3M566 370v2M567 342v3M567 361v6M568 348v2M568 353v3M568 359v2M569 359v5M570 356v3M571 342v3M571 359v2M571 364v3M571 372v3M573 356v3M574 345v3M574 356v3M574 364v3M575 348v2M575 353v3M576 353v3M576 361v3M577 348v8M577 361v3M577 367v3M578 350v3M578 356v3M578 361v3M579 353v3M579 359v2M579 364v6M579 372v3M580 345v5M580 353v3M580 364v3M581 348v2M581 364v3M582 348v2M582 353v6M583 350v3M583 364v3M583 372v3M584 339v3M584 345v3M584 367v3M584 372v3M585 353v3M585 364v3M586 342v3M586 372v6M587 339v11M587 367v3M588 353v3M588 367v3M589 345v8M589 359v2M589 372v6M590 375v3M591 342v3M591 348v2M591 367v3M592 342v3M592 350v3M592 367v3M593 334v19M593 356v3M593 370v5M594 345v8M594 361v11M595 370v2M596 337v2M596 370v5M597 337v2M597 348v2M597 356v5M597 367v3M597 372v3M598 359v2M598 364v6M601 337v2M601 345v3M601 350v3M601 367v3M602 337v5M602 348v2M603 331v3M603 370v2M604 339v3M604 375v3M606 334v3M606 370v2M606 375v6M607 337v2M608 326v2M608 331v3M608 367v3M608 372v3M609 323v3M609 370v2M610 326v2M611 331v3M613 334v3M613 378v3M614 331v6M614 372v3M615 331v3M616 334v3M616 375v3M617 375v3M618 323v3M618 331v3M618 375v3M619 350v3M619 367v3M620 323v3M620 372v3M621 328v3M621 337v2M621 361v3M621 370v2M622 323v3M622 378v3M623 328v3M623 337v2M623 361v3M623 370v2M624 328v3M624 337v2M624 361v3M624 370v2M625 328v3M625 337v2M625 361v3M625 370v2M626 328v3M626 337v2M626 361v3M626 370v2M627 328v3M627 337v2M627 361v3M627 370v2M628 328v3M628 337v2M628 361v3M628 370v2M629 328v3M629 337v2M629 361v3M629 370v2"/>
<path stroke="#fff600" d="M469 397v6M470 397v6M475 397v3M479 392v2M479 400v5M480 394v3M480 400v3M484 392v2M486 370v2M486 381v2M487 361v3M487 381v2M487 394v3M488 386v3M490 356v3M490 381v2M492 350v6M492 392v5M493 367v5M493 378v3M493 386v3M493 400v3M494 367v3M495 353v3M495 364v3M495 370v2M496 350v3M498 353v8M499 353v3M499 386v3M499 394v3M499 400v5M501 372v3M502 326v2M502 331v3M503 323v3M503 339v3M506 356v5M506 364v3M508 326v2M508 378v3M509 312v2M509 337v2M509 367v3M509 372v6M509 389v3M509 394v3M510 320v3M510 328v3M510 364v3M513 350v3M514 295v3M514 301v5M515 303v3M515 342v3M515 348v2M515 367v3M516 370v2M516 381v5M517 295v11M518 348v5M518 364v3M518 375v3M518 381v2M519 301v2M519 367v3M520 331v3M520 348v2M520 359v2M521 270v3M521 284v3M521 326v2M522 276v11M522 292v6M522 301v2M522 326v2M522 331v3M522 348v2M523 290v8M523 323v5M523 353v3M523 359v2M523 372v3M524 301v5M524 364v3M525 326v2M525 331v3M525 370v2M525 389v3M526 339v3M526 353v3M527 350v3M528 290v5M528 298v8M528 312v2M528 323v3M528 339v3M528 348v2M529 370v5M529 381v2M530 364v3M531 314v3M531 383v3M532 323v3M532 345v3M532 372v3M535 323v3M535 359v2M535 389v3M550 353v3M552 361v3M552 367v3M557 353v8M562 361v3M563 370v2M565 350v3M565 356v3M565 361v3M565 367v3M566 364v3M567 348v2M567 359v2M568 356v3M569 350v9M570 359v5M571 345v3M571 361v3M573 353v3M573 361v3M575 356v5M575 364v3M575 370v2M576 359v2M577 356v3M578 359v2M578 367v5M579 345v3M579 350v3M580 359v2M580 367v3M581 345v3M581 367v3M581 372v3M582 345v3M583 356v8M583 367v3M584 348v2M584 356v3M585 356v3M586 345v5M586 367v5M587 359v2M588 359v5M589 339v6M589 353v6M589 361v9M590 342v8M590 364v3M591 345v3M591 350v3M591 359v5M592 356v5M593 361v3M594 342v3M594 356v3M595 339v3M595 345v3M595 350v3M595 367v3M596 339v3M596 356v3M596 367v3M597 350v6M597 361v3M598 345v3M599 342v3M600 339v9M600 361v3M601 356v3M601 361v3M601 370v2M602 350v6M602 375v6M603 339v3M604 342v3M604 364v3M604 370v2M605 364v3M605 372v3M606 364v3M607 334v3M607 342v3M607 353v3M607 359v2M607 364v3M607 370v2M608 328v3M608 334v3M608 370v2M609 326v8M609 337v2M609 348v2M609 364v3M610 323v3M610 328v3M610 375v3M611 337v2M611 342v3M612 372v6M613 331v3M613 375v3M614 364v3M614 370v2M615 367v3M615 372v3M617 323v3M618 328v3M619 326v2M619 345v3M619 353v6M619 364v3M620 364v3M620 370v2M621 331v3M621 348v2M621 364v3M622 326v5M622 334v3M622 367v5M623 331v3M623 348v2M623 364v3M624 331v3M624 348v2M624 364v3M625 331v3M625 348v2M625 364v3M626 331v3M626 348v2M626 364v3M627 331v3M627 348v2M627 364v3M628 331v3M628 348v2M628 364v3M629 331v3M629 348v2M629 364v3"/>
<path stroke="#ffe700" d="M278 77v6M279 77v6M280 77v6M281 77v6M282 77v6M283 77v6M472 400v5M479 394v3M480 392v2M480 397v3M481 383v3M484 403v2M486 378v3M486 389v3M487 367v3M487 383v6M487 392v2M488 375v8M488 389v3M489 364v3M489 370v2M490 350v3M491 370v2M492 356v3M492 361v3M492 397v3M493 364v3M493 375v3M493 389v3M493 397v3M494 364v3M494 372v6M494 389v3M495 367v3M495 375v6M496 348v2M496 356v11M496 370v2M497 364v3M497 381v2M497 389v3M498 364v6M499 359v2M499 372v3M499 392v2M499 397v3M500 378v3M502 364v3M503 317v3M503 348v2M505 367v3M506 370v2M506 375v3M507 386v3M508 328v3M508 381v2M508 386v3M510 331v3M510 375v8M511 323v3M511 334v3M512 353v3M512 359v2M513 348v2M514 326v2M514 334v8M515 372v9M516 337v2M516 342v3M516 359v2M516 403v2M517 312v2M517 339v3M518 342v3M518 361v3M518 367v3M518 372v3M518 397v3M519 331v3M519 361v3M519 370v5M520 337v2M520 353v6M520 361v3M521 290v5M521 314v3M522 287v5M522 298v3M522 303v3M522 339v6M523 298v3M523 303v3M523 320v3M523 328v6M523 342v3M523 348v2M523 370v2M524 361v3M525 317v3M525 323v3M525 364v3M525 372v6M525 400v3M527 353v3M527 378v3M528 334v3M528 353v3M528 361v3M529 320v3M529 378v3M530 367v3M530 392v5M530 400v3M531 386v3M531 394v3M532 375v3M533 400v5M534 361v3M535 367v3M557 350v3M561 356v5M562 356v3M563 356v5M563 364v3M570 353v3M570 364v3M571 353v3M574 350v3M575 361v3M577 359v2M578 364v3M579 356v3M579 361v3M580 356v3M581 350v6M581 359v5M581 370v2M584 342v3M584 353v3M584 359v8M586 353v3M586 361v3M587 350v6M587 364v3M590 350v3M590 356v3M591 353v6M591 364v3M592 348v2M592 353v3M592 361v3M593 353v3M593 359v2M593 367v3M595 353v3M595 361v6M596 342v3M596 348v2M596 361v3M597 339v6M597 364v3M599 350v3M599 359v8M600 348v5M601 364v3M602 342v3M602 359v2M603 337v2M603 342v3M603 361v3M603 367v3M603 372v3M604 337v2M604 356v3M604 372v3M605 339v6M605 359v2M606 337v8M606 350v6M606 372v3M607 339v3M607 348v5M607 367v3M608 345v3M608 356v3M608 375v3M609 339v9M609 350v9M609 361v3M609 367v3M610 331v8M610 372v3M611 334v3M611 361v3M611 370v2M612 370v2M613 337v5M613 372v3M614 339v9M615 334v3M616 372v3M617 372v3M618 334v14M618 367v3M619 331v8M619 342v3M619 359v2M621 334v3M621 350v3M621 359v2M621 372v3M622 331v3M622 364v3M622 372v3M623 334v3M623 350v3M623 359v2M623 372v3M624 334v3M624 350v3M624 359v2M624 372v3M625 334v3M625 350v3M625 359v2M625 372v3M626 334v3M626 350v3M626 359v2M626 372v3M627 334v3M627 350v3M627 359v2M627 372v3M628 334v3M628 350v3M628 359v2M628 372v3M629 334v3M629 350v3M629 359v2M629 372v3"/>
<path stroke="#ffd800" d="M479 397v3M480 386v3M481 386v3M483 389v3M484 397v3M485 389v3M486 386v3M486 403v2M488 367v3M493 356v3M493 361v3M494 403v2M495 372v3M495 381v5M496 367v3M496 378v3M496 383v3M499 356v3M499 367v3M500 381v2M500 394v11M502 328v3M502 367v3M503 320v3M503 326v2M503 370v2M504 370v5M505 370v2M505 386v3M506 378v3M506 386v3M507 364v3M507 370v5M508 383v3M509 328v3M509 345v3M509 364v3M509 370v2M510 370v2M510 389v3M511 331v3M511 339v3M511 348v5M511 356v5M511 364v3M512 356v3M512 364v8M512 392v2M514 320v3M514 331v3M514 342v8M514 403v2M515 312v2M515 364v3M515 370v2M516 348v2M516 356v3M516 364v3M516 392v2M517 323v5M517 331v3M517 337v2M517 342v6M517 350v3M518 356v3M518 386v3M518 400v3M519 375v3M519 381v2M521 295v6M522 334v5M522 356v3M523 301v2M523 356v3M523 364v3M523 375v3M525 328v3M525 334v5M525 350v6M525 378v3M525 403v2M526 345v3M527 361v6M527 372v6M527 383v6M528 350v3M529 375v3M529 386v3M530 370v5M530 383v6M530 403v2M535 317v3M563 361v3M567 356v3M571 348v2M571 356v3M580 361v3M581 356v3M584 350v3M586 350v3M586 356v5M586 364v3M587 356v3M590 361v3M590 370v2M593 364v3M594 353v3M594 359v2M596 345v3M596 350v6M596 359v2M597 345v3M599 345v5M599 353v3M599 367v3M601 348v2M601 359v2M602 345v3M602 356v3M602 364v8M603 348v2M603 359v2M604 345v3M604 350v6M604 361v3M605 367v3M606 345v3M606 356v8M607 345v3M607 356v3M608 337v8M610 367v5M611 339v3M611 350v3M611 359v2M611 364v3M612 331v3M613 342v3M614 348v5M614 367v3M615 337v2M615 361v6M616 339v3M616 350v3M616 361v11M617 328v3M617 367v5M618 364v3M619 328v3M619 339v3M619 348v2M619 361v3M620 328v3M621 339v3M621 353v6M623 339v3M623 353v6M624 339v3M624 353v6M625 339v3M625 353v6M626 339v3M626 353v6M627 339v3M627 353v6M628 339v3M628 353v6M629 339v3M629 353v6"/>
<path stroke="#ffca00" d="M481 397v3M483 392v2M484 394v3M485 397v8M486 394v6M488 359v2M488 364v3M488 383v3M488 394v3M489 372v3M490 386v3M492 403v2M493 392v2M493 403v2M494 383v6M494 392v2M496 353v3M496 375v3M497 383v3M498 370v2M500 383v6M502 320v3M502 370v2M503 372v3M504 381v2M506 392v13M507 367v3M507 375v6M507 383v3M507 389v5M508 389v3M509 326v2M509 334v3M509 339v6M509 397v3M510 334v3M510 342v3M510 350v3M510 359v5M511 342v3M511 361v3M512 361v3M512 389v3M513 353v3M513 389v5M513 397v6M514 372v6M516 345v3M516 353v3M516 361v3M517 317v6M517 328v3M517 334v3M517 356v3M518 370v2M519 334v8M519 353v3M520 342v3M520 370v2M521 301v5M521 317v6M522 353v3M522 361v3M523 350v3M523 361v3M525 345v3M525 383v3M526 367v3M527 356v5M527 397v3M527 403v2M528 317v3M528 364v3M528 370v2M528 403v2M530 389v3M531 312v2M532 320v3M563 367v3M590 353v3M590 359v2M590 367v3M590 372v3M595 348v2M595 356v5M596 364v3M600 353v8M601 353v3M602 372v3M603 350v3M603 356v3M603 364v3M604 359v2M604 367v3M605 345v3M605 353v6M606 367v3M608 350v3M608 359v8M609 334v3M609 359v2M610 361v6M611 345v3M611 353v3M611 367v3M612 334v8M612 359v2M613 364v8M614 356v3M614 361v3M615 370v2M616 337v2M616 342v8M616 353v3M617 326v2M617 331v6M617 361v6M618 348v8M618 359v5M620 326v2M620 356v5M620 367v3M621 342v3M622 339v3M623 342v3M624 342v3M625 342v3M626 342v3M627 342v3M628 342v3M629 342v3"/>
<path stroke="#ffbb00" d="M480 389v3M481 389v3M481 394v3M481 403v2M486 392v2M488 353v3M488 361v3M488 370v5M488 392v2M488 400v3M489 375v3M490 383v3M491 372v3M491 397v3M491 403v2M493 359v2M494 370v2M494 394v3M495 386v3M496 372v3M496 381v2M496 386v6M497 386v3M498 403v2M499 364v3M499 375v3M500 389v3M502 323v3M502 372v3M503 367v3M504 375v6M505 378v5M506 381v5M506 389v3M507 394v6M508 392v2M509 323v3M509 348v5M509 361v3M509 400v3M510 339v3M510 345v3M510 353v3M510 383v6M510 400v3M511 337v2M514 350v3M514 356v3M514 381v2M514 394v6M516 350v3M516 394v3M517 348v2M518 353v3M518 389v3M518 403v2M519 348v5M519 359v2M519 394v3M520 364v6M520 378v3M520 403v2M521 397v3M522 359v2M523 339v3M523 345v3M523 378v3M524 403v2M525 339v3M525 348v2M526 370v2M526 392v2M528 359v2M528 367v3M528 372v3M529 383v3M530 381v2M532 314v3M599 356v3M602 361v3M603 345v3M603 353v3M604 348v2M605 350v3M605 361v3M606 348v2M608 353v3M610 350v3M611 348v2M611 356v3M612 353v3M612 361v3M612 367v3M613 350v6M614 353v3M614 359v2M615 348v2M615 359v2M616 359v2M617 339v3M617 348v2M617 356v3M618 356v3M620 331v3M620 361v3M621 345v3M622 342v3M622 356v5M623 345v3M624 345v3M625 345v3M626 345v3M627 345v3M628 345v3M629 345v3"/>
<path stroke="#ffa500" d="M484 400v3M485 394v3M487 397v8M488 356v3M488 397v3M488 403v2M489 378v3M491 375v8M491 389v3M493 394v3M494 381v2M494 397v6M495 397v3M496 400v3M498 372v3M499 361v3M500 392v2M501 394v3M501 400v3M502 334v3M504 383v3M505 375v3M507 403v2M508 394v3M508 403v2M509 331v3M509 403v2M510 348v2M510 403v2M511 345v3M511 353v3M511 367v8M512 394v3M513 386v3M513 394v3M513 403v2M514 364v3M515 381v2M516 400v3M517 353v3M517 397v3M517 403v2M518 359v2M518 394v3M519 356v3M519 364v3M519 378v3M519 397v3M519 403v2M520 375v3M521 312v2M521 328v9M521 339v6M521 359v2M523 334v3M523 381v2M524 367v5M524 392v5M526 372v3M526 397v3M527 370v2M527 400v3M528 356v3M530 375v6M530 397v3M532 312v2M605 348v2M610 339v11M610 356v5M612 342v6M612 356v3M612 364v3M613 345v5M613 359v5M615 339v9M615 350v3M615 356v3M616 356v3M617 337v2M617 342v6M617 350v6M617 359v2M620 337v2M620 348v2M620 353v3M622 337v2M622 350v6"/>
<path stroke="#ff8f00" d="M481 392v2M481 400v3M486 400v3M489 397v3M489 403v2M490 400v5M495 389v3M496 392v8M496 403v2M499 370v2M501 378v5M501 386v3M501 397v3M501 403v2M502 375v3M502 389v3M502 403v2M505 389v3M505 394v3M507 381v2M507 400v3M509 320v3M509 353v3M509 359v2M510 337v2M510 394v3M511 375v3M511 381v2M512 397v6M513 356v8M514 353v3M514 361v3M514 367v3M514 378v3M514 383v3M514 392v2M514 400v3M516 397v3M517 359v2M517 400v3M519 342v3M519 389v3M520 372v3M520 389v5M520 397v6M521 323v3M521 353v3M521 361v3M521 392v2M522 364v3M523 337v2M523 397v3M523 403v2M525 342v3M527 367v3M527 392v5M528 378v3M528 397v3M529 389v3M608 348v2M610 353v3M612 350v3M613 356v3M615 353v3M620 334v3M620 339v3M620 345v3M620 350v3M622 345v5M622 361v3"/>
<path stroke="#ff7900" d="M483 394v6M483 403v2M489 381v2M489 386v3M489 400v3M491 386v3M491 400v3M497 392v2M498 375v6M502 378v3M502 397v3M503 375v3M503 400v3M504 386v3M508 400v3M509 314v6M509 356v3M510 392v2M511 403v2M514 359v2M514 370v2M514 389v3M515 383v3M517 361v3M519 383v6M520 381v2M521 348v2M521 356v3M521 375v3M521 389v3M521 400v5M524 378v3M524 397v6M526 378v5M526 389v3M526 400v3M528 389v5M612 348v2M620 342v3"/>
<path stroke="#ff6300" d="M483 400v3M490 389v5M491 383v3M491 392v2M497 394v3M498 397v6M501 392v2M502 392v2M503 381v2M503 392v2M504 389v3M505 383v3M505 392v2M514 386v3M515 389v3M517 394v3M519 345v3M519 392v2M520 383v3M520 394v3M521 337v2M521 345v3M521 367v5M522 367v3M524 375v3M524 381v2M524 386v3M526 375v3M526 383v3M526 394v3M526 403v2M527 389v3M528 394v3M528 400v3"/>
<path stroke="#ff4f00" d="M489 383v3M490 397v3M491 394v3M495 392v2M495 403v2M497 397v6M498 394v3M501 389v3M502 383v3M503 386v3M503 397v3M503 403v2M504 394v3M504 400v3M505 397v3M508 397v3M510 397v3M511 378v3M511 383v3M511 392v2M513 364v3M513 370v8M515 386v3M515 397v3M517 364v3M517 381v2M519 400v3M521 381v2M521 394v3M522 370v5M522 400v5M523 383v3M523 400v3M524 372v3M524 383v3M528 375v3M529 394v3"/>
<path stroke="#ff3f00" d="M489 392v5M498 383v9M501 383v3M502 400v3M503 378v3M503 394v3M504 392v2M504 397v3M504 403v2M505 403v2M511 397v6M512 403v2M513 367v3M513 381v5M515 392v5M517 367v3M517 378v3M517 389v5M520 386v3M521 350v3M521 364v3M521 372v3M523 386v6M528 383v3M529 403v2"/>
<path stroke="#ff2f00" d="M490 394v3M495 394v3M495 400v3M497 403v2M498 381v2M498 392v2M502 381v2M502 386v3M502 394v3M511 394v3M517 383v6M521 383v6M522 375v6M523 392v5M524 389v3M526 386v3M528 386v3M529 392v2"/>
<path stroke="#ff2000" d="M489 389v3M503 383v3M511 386v6M513 378v3M515 403v2M517 372v3M522 383v9M528 381v2"/>
<path stroke="#ff1000" d="M503 389v3M505 400v3M515 400v3M517 375v3M521 378v3M522 381v2M522 392v2M529 397v3"/>
<path stroke="#ff0000" d="M517 370v2M522 394v6M529 400v3"/>
<path stroke="#00fffc" d="M286 428v6M287 428v6"/>
<path stroke="#00ffe2" d="M280 428v6M281 428v6M284 428v6"/>
<path stroke="#00ffc8" d="M283 428v6M285 428v6M288 428v6M289 428v6"/>
<path stroke="#00ffaf" d="M278 428v6M282 428v6M286 434v11M290 428v6"/>
<path stroke="#00ff95" d="M279 428v6M280 434v11M281 434v11M284 434v11M287 434v11M291 428v6M331 428v6M334 428v6M337 428v6M554 428v6M555 428v6M556 428v6M573 428v6M579 428v6M581 428v6M587 428v6M606 428v6M608 428v6M614 428v6"/>
<path stroke="#00ff7b" d="M279 434v11M282 434v11M289 434v11M290 434v11M303 428v6M321 428v6M330 428v6M343 428v6M346 428v6M353 428v6M356 428v6M373 428v6M387 428v6M538 428v6M539 428v6M540 428v6M542 428v6M545 428v6M546 428v6M557 428v6M559 428v6M568 428v6M571 428v6M572 428v6M574 428v6M578 428v6M580 428v6M582 428v6M583 428v6M589 428v6M594 428v6M595 428v6M596 428v6M603 428v6M607 428v6M615 428v6M617 428v6M618 428v6M619 428v6M620 428v6M621 428v6M624 428v6M625 428v6M627 428v6M629 428v6"/>
<path stroke="#00ff61" d="M278 434v11M283 434v11M285 434v11M288 434v11M295 428v6M297 428v6M300 428v6M304 428v6M305 428v6M309 428v6M311 428v6M312 428v6M316 428v6M320 428v6M335 428v6M336 428v6M338 428v6M342 428v6M345 428v6M347 428v17M357 428v6M358 428v6M364 428v6M370 428v6M371 428v6M372 428v6M375 428v6M376 428v6M377 428v6M386 428v6M389 428v6M390 428v6M397 428v6M398 428v6M541 428v6M543 428v6M544 428v6M548 428v6M550 428v6M551 428v6M553 428v6M556 434v11M560 428v6M561 428v6M562 428v6M566 428v6M570 428v6M575 428v6M576 428v6M577 428v6M586 428v6M588 428v6M591 428v6M592 428v6M593 428v6M594 434v11M597 428v6M598 428v6M599 428v6M600 428v6M601 428v6M602 428v6M604 428v6M605 428v6M606 434v11M609 428v6M614 434v11M615 434v11M616 428v6M619 434v11M624 434v11M626 428v17M628 428v17M629 434v11"/>
<path stroke="#00ff47" d="M291 434v11M292 428v6M293 428v6M294 428v6M296 428v6M298 428v6M301 428v6M302 428v6M308 428v6M310 428v6M314 428v6M315 428v6M317 428v6M325 428v6M326 428v6M327 428v6M329 428v6M332 428v6M333 428v6M337 434v11M340 428v6M349 428v6M352 428v6M354 428v6M355 428v6M359 428v6M360 428v6M361 428v6M366 428v6M368 428v6M369 428v6M380 428v6M384 428v6M385 428v6M388 428v6M391 428v6M392 428v6M393 428v6M394 428v6M395 428v6M400 428v6M401 428v6M402 428v6M537 428v6M540 434v11M542 434v11M547 428v6M549 428v6M551 434v11M555 434v11M557 434v11M558 428v17M563 428v6M564 428v6M567 428v6M569 428v6M571 434v11M572 434v11M573 434v11M577 434v11M578 434v11M581 434v11M583 434v11M584 428v6M585 428v6M590 428v6M592 434v11M596 434v11M600 434v11M602 434v11M604 434v11M607 434v11M608 434v11M610 428v6M611 428v6M612 428v6M613 428v6M617 434v11M618 434v11M620 434v11M622 428v6M623 428v6M625 434v11M627 434v11"/>
<path stroke="#00ff2e" d="M287 445v10M295 434v11M296 434v11M299 428v17M300 434v11M301 434v11M305 434v11M307 428v6M313 428v6M314 434v11M317 434v11M318 428v6M319 428v6M320 434v11M322 428v6M324 428v6M331 434v11M339 428v17M344 428v6M346 434v11M348 428v6M350 428v6M351 428v6M353 434v11M358 434v11M362 428v6M363 428v6M364 434v11M365 428v6M366 434v11M367 428v6M371 434v11M372 434v11M373 434v11M374 428v6M377 434v11M378 428v6M379 428v6M381 428v6M385 434v11M386 434v11M387 434v11M388 434v11M389 434v11M396 428v6M398 434v11M399 428v6M537 434v11M539 434v11M541 434v11M544 434v11M545 434v11M552 428v6M554 434v21M556 445v10M559 434v11M561 434v11M565 428v6M566 434v11M567 434v11M569 434v11M576 434v11M582 434v11M586 434v11M587 434v11M588 434v11M589 434v11M590 434v11M593 434v11M597 434v11M601 434v11M605 434v11M609 434v11M610 434v11M615 445v10M616 434v11M621 434v11M622 434v11"/>
<path stroke="#00ff14" d="M280 445v10M281 445v10M286 445v20M294 434v11M297 434v11M302 434v11M303 434v11M304 434v11M306 428v6M309 434v11M311 434v11M316 434v11M321 434v11M323 428v6M325 434v11M328 428v6M330 434v21M333 434v11M334 434v11M335 434v11M336 434v21M340 434v21M341 428v6M342 434v11M343 434v11M344 434v11M345 434v11M347 445v10M349 434v11M352 434v11M356 434v11M357 434v11M361 434v11M362 434v11M363 434v11M367 434v11M370 434v11M375 434v11M376 434v11M380 434v11M382 428v6M383 428v17M388 445v10M390 434v11M391 434v11M393 434v11M399 434v11M403 428v6M425 428v6M438 428v6M454 428v6M537 455v10M538 434v21M539 445v10M540 445v10M543 445v10M545 445v10M547 434v11M548 434v11M549 434v11M550 434v11M552 434v11M554 455v10M555 445v10M556 455v10M557 445v20M558 445v10M559 445v10M560 434v11M562 434v11M564 434v11M565 434v11M566 445v10M568 434v11M569 455v10M570 434v11M571 445v20M573 455v10M574 434v11M575 434v11M577 445v10M578 445v10M579 434v21M580 434v11M581 445v10M582 445v10M584 434v11M585 434v11M588 455v10M589 445v10M591 434v11M592 445v20M595 434v21M598 434v11M599 434v11M603 434v11M606 455v10M608 445v10M611 434v11M612 434v11M613 434v11M614 445v10M618 455v10M619 445v20M623 434v11M624 445v10M626 445v10M629 445v10"/>
<path stroke="#0bff00" d="M281 455v10M282 445v10M283 445v10M284 445v20M285 445v10M289 445v10M290 445v10M292 434v21M293 434v11M295 445v10M297 445v10M300 445v10M302 445v10M303 445v10M306 434v11M307 434v11M308 434v11M310 434v11M311 445v10M312 434v11M313 434v11M314 445v10M315 434v11M318 434v11M321 445v10M323 434v11M324 434v21M326 434v11M327 434v11M329 434v11M332 434v21M335 445v10M337 445v10M341 434v11M342 445v10M343 445v10M346 445v10M348 434v11M350 434v11M354 434v11M356 445v10M359 434v11M360 434v11M365 434v21M368 434v11M369 434v21M371 445v10M372 445v10M376 445v10M378 434v11M379 434v11M380 445v10M381 434v11M382 434v11M384 434v11M385 445v10M386 445v10M392 434v11M394 434v11M397 434v11M400 434v11M404 428v6M426 428v6M430 428v6M449 428v6M541 445v20M542 445v20M543 434v11M544 445v10M546 434v11M548 445v20M550 455v10M551 445v20M553 434v11M556 465v11M559 455v10M560 445v10M561 445v10M562 445v10M563 434v11M565 445v10M568 455v10M569 445v10M570 455v10M572 445v10M573 445v10M573 465v11M574 445v10M576 445v10M578 455v10M579 455v10M581 455v10M583 445v10M588 445v10M591 445v10M593 445v10M594 445v20M595 455v10M596 445v10M597 455v10M598 445v10M599 445v10M600 445v20M602 445v10M605 445v10M606 445v10M607 445v10M608 455v10M609 445v10M610 445v10M615 455v10M616 445v20M617 445v20M618 445v10M620 455v10M625 445v10M627 455v10M628 445v10"/>
<path stroke="#38ff00" d="M278 445v10M279 445v10M287 455v10M288 445v10M289 455v10M291 445v10M293 445v10M294 445v10M298 434v21M299 445v10M302 455v10M304 445v10M305 445v10M306 445v10M308 445v10M309 445v10M312 445v10M313 445v10M317 445v10M319 434v11M320 445v10M322 434v11M325 445v10M331 445v10M333 445v10M334 445v10M337 455v10M338 434v11M339 445v10M346 455v10M351 434v11M352 445v10M353 445v10M355 434v11M356 455v10M357 445v10M359 445v10M360 445v10M362 445v10M364 445v10M366 445v10M368 445v10M373 445v10M374 434v11M375 445v10M376 455v10M377 445v10M379 445v10M383 445v10M384 445v10M386 455v10M387 445v10M389 445v10M390 445v10M391 445v10M394 445v10M395 434v11M396 434v11M398 445v10M399 445v10M400 445v10M401 434v11M403 445v10M406 428v6M408 428v6M413 428v6M419 428v6M421 428v6M431 428v6M432 428v6M441 428v6M442 428v6M443 428v6M446 428v6M448 428v6M454 434v11M461 428v6M537 445v10M540 455v10M543 455v10M544 455v10M545 455v10M547 445v20M549 445v10M550 445v10M552 445v10M553 445v10M554 465v11M555 455v10M558 455v10M560 455v10M561 455v10M562 455v10M564 445v20M566 455v10M567 445v10M568 445v10M570 445v10M571 465v11M574 455v10M575 445v20M577 455v10M578 465v11M580 445v20M582 455v10M583 455v10M584 445v10M585 445v20M586 445v20M587 445v10M590 445v10M591 455v10M593 455v10M597 445v10M598 455v10M601 445v20M602 455v10M603 445v20M604 445v10M606 465v11M607 455v10M608 465v11M609 455v10M611 445v10M612 445v10M613 445v10M614 455v10M619 465v11M620 445v10M621 445v20M622 445v20M623 445v10M624 455v21M625 455v21M626 455v10M629 455v10"/>
<path stroke="#65ff00" d="M278 455v10M279 455v10M280 455v10M282 455v10M285 455v10M286 465v11M301 445v10M303 455v10M305 455v10M307 445v10M314 455v10M315 445v20M316 445v10M318 445v10M323 445v10M327 445v10M328 434v21M329 445v10M335 455v10M336 455v10M338 445v10M341 445v10M344 445v10M345 445v10M347 455v10M348 445v10M349 445v10M350 445v10M352 455v10M353 455v10M354 445v10M357 455v10M358 445v10M361 445v10M363 445v10M367 445v10M370 445v10M371 455v10M372 455v10M374 445v10M378 445v10M380 455v10M381 445v20M382 445v10M387 455v10M390 455v10M392 445v10M393 445v10M394 455v10M396 445v10M397 445v10M401 445v10M402 434v11M409 428v6M418 428v6M423 428v6M427 428v6M429 428v6M439 428v6M440 428v6M449 434v11M455 428v6M457 428v6M537 465v11M538 455v21M539 455v21M540 465v11M541 465v11M542 465v11M545 465v11M546 445v20M550 465v11M552 455v10M553 455v10M555 465v11M558 465v11M562 465v11M565 455v10M567 455v10M568 465v11M569 465v11M572 455v21M574 465v11M576 455v21M577 465v11M579 465v11M580 465v11M581 465v11M583 465v11M584 455v10M587 455v10M588 465v11M589 455v21M590 455v10M592 465v11M593 465v11M594 465v11M595 465v11M596 455v10M599 455v21M600 465v11M604 455v10M605 455v21M612 455v10M614 465v11M615 465v11M620 465v11M621 465v11M623 455v10M626 465v11M627 445v10M627 465v11M628 455v10"/>
<path stroke="#92ff00" d="M280 465v11M281 465v11M283 455v10M288 455v10M290 455v10M291 455v10M292 455v10M295 455v10M296 445v20M297 455v10M298 455v10M299 455v10M301 455v10M304 455v10M307 455v10M310 445v20M312 455v10M313 455v10M317 455v10M319 445v10M320 455v10M321 455v10M322 445v10M326 445v20M330 465v11M331 455v10M332 455v10M334 455v10M337 465v11M339 455v10M342 455v10M343 455v10M344 455v10M345 455v10M347 465v11M351 445v10M355 445v10M358 455v10M361 455v10M364 455v10M366 455v10M367 455v10M368 455v10M369 455v10M370 455v10M373 455v10M375 455v10M382 455v10M384 455v10M385 455v10M386 465v11M388 455v10M389 455v10M393 455v10M395 445v10M398 455v10M399 455v10M400 455v10M402 445v10M403 434v11M405 428v6M414 428v6M420 428v17M422 428v6M424 428v6M425 434v11M430 434v11M435 428v17M441 434v11M445 428v6M446 434v11M455 434v11M455 455v10M458 428v6M463 428v6M543 465v11M544 465v11M547 465v11M548 465v11M549 455v10M551 465v11M554 476v11M557 465v11M559 465v11M561 465v11M563 445v20M564 465v11M567 465v11M570 465v11M575 465v11M582 465v11M585 465v11M586 465v11M587 465v11M590 465v11M596 465v11M597 465v11M602 465v11M604 465v11M609 465v11M610 455v10M611 455v21M613 455v10M616 465v11M617 465v11M622 465v11M623 465v11M628 465v11"/>
<path stroke="#bfff00" d="M278 465v11M282 465v11M284 465v11M287 465v11M289 465v11M290 465v11M293 455v10M294 455v10M300 455v10M306 455v10M308 455v10M309 455v10M311 455v10M316 455v21M318 455v10M319 455v10M321 465v11M322 455v10M323 455v10M324 455v10M327 455v10M331 465v11M333 455v10M334 465v11M338 455v10M340 455v10M341 455v10M343 465v11M349 455v10M355 455v10M358 465v11M359 455v21M363 455v10M365 455v10M374 455v10M377 455v10M378 455v10M379 455v10M383 455v10M384 465v11M391 455v10M392 455v10M396 455v10M397 455v10M398 465v11M401 455v10M404 465v11M422 455v10M423 465v11M425 465v11M427 434v11M428 428v6M433 428v6M434 428v6M436 428v17M444 428v6M445 434v11M447 428v6M454 455v10M456 428v6M457 445v10M460 428v6M461 445v10M462 434v11M464 428v6M539 476v11M540 476v11M544 476v11M549 465v11M552 465v11M553 465v11M555 476v11M556 476v11M557 476v11M560 465v11M565 465v11M566 465v11M570 476v11M571 476v11M573 476v11M591 465v11M598 465v11M603 465v11M606 476v11M607 465v11M610 465v11M613 465v11M618 465v11M625 476v11M626 476v11"/>
<path stroke="#ecff00" d="M279 465v11M283 465v11M285 465v11M288 465v11M291 465v11M292 465v11M293 465v11M299 465v11M300 465v11M302 465v11M305 465v11M323 465v11M325 455v10M326 465v11M328 455v10M329 455v10M330 455v10M335 465v11M336 465v11M342 465v11M346 465v11M348 455v10M350 455v10M351 455v10M352 465v11M353 465v11M356 465v11M357 465v11M360 455v21M361 465v11M362 455v10M370 465v11M371 465v11M372 465v11M376 465v11M377 465v11M385 465v11M387 465v11M389 465v11M402 455v21M403 455v21M404 434v11M408 465v11M415 428v6M418 445v10M419 434v11M422 445v10M425 445v10M427 445v10M429 434v21M437 428v6M440 434v11M441 455v10M442 445v20M443 445v10M449 445v20M452 428v6M454 445v10M454 465v11M455 445v10M458 445v10M459 428v17M460 455v10M462 428v6M463 434v11M541 476v11M542 476v11M546 465v11M551 476v11M559 476v11M562 476v11M563 465v11M568 476v11M569 476v11M576 476v11M578 476v11M581 476v11M583 476v11M584 465v11M586 476v11M589 476v11M592 476v11M595 476v11M599 476v11M601 465v22M608 476v11M612 465v11M614 476v11M620 476v11M629 465v22"/>
<path stroke="#fff600" d="M280 476v11M295 465v11M296 465v11M297 465v11M298 465v11M301 465v11M303 465v11M304 465v11M307 465v11M308 465v11M309 465v11M310 465v11M311 465v11M312 465v11M314 465v11M319 465v11M320 465v11M330 476v11M332 465v11M337 476v11M339 465v11M344 465v11M345 465v11M349 465v11M362 465v11M364 465v11M366 465v11M369 465v11M373 465v11M375 465v11M378 465v11M380 465v11M381 465v11M382 465v11M388 465v11M390 465v11M391 465v11M394 465v11M395 455v10M397 465v11M399 465v11M400 465v11M401 465v11M407 434v11M408 434v21M412 428v6M416 428v6M419 465v11M420 455v10M421 445v10M423 445v10M424 434v11M425 455v10M426 434v11M426 455v21M429 455v10M431 445v10M436 445v10M437 434v21M442 465v11M443 434v11M447 434v11M448 434v21M450 428v6M451 428v6M453 428v6M456 434v11M458 434v11M460 434v11M461 434v11M462 445v10M537 476v11M543 476v11M545 476v11M546 476v11M548 476v11M550 476v11M552 476v11M553 476v11M558 476v11M563 476v11M564 476v11M566 476v11M572 476v11M574 476v11M579 476v11M580 476v11M582 476v11M588 476v11M593 476v11M594 476v11M596 476v11M600 476v11M602 476v11M604 476v11M611 476v11M613 476v11M615 476v11M616 476v11M618 476v11M619 476v11M621 476v11M622 476v11M624 476v22M628 476v11"/>
<path stroke="#ffe700" d="M286 476v11M294 465v11M306 465v11M313 465v11M315 465v11M317 465v11M321 476v11M322 465v11M324 465v11M325 465v11M328 465v11M333 465v11M336 476v11M338 465v11M341 465v11M346 476v11M348 465v11M350 465v11M352 476v11M354 455v10M355 465v11M361 476v11M365 465v11M368 465v11M374 465v11M379 465v11M383 465v11M392 465v11M393 465v11M395 465v11M396 465v11M404 445v10M405 434v21M406 455v10M407 428v6M409 434v21M409 465v22M410 428v6M411 428v6M414 455v10M415 465v11M417 428v6M419 445v10M420 445v10M422 434v11M422 465v11M423 434v11M424 455v10M427 465v11M428 434v11M431 434v11M432 434v11M435 445v20M438 434v11M440 455v21M441 445v10M442 434v11M444 434v11M445 445v10M446 465v11M448 455v10M451 434v11M455 465v22M458 465v11M460 445v10M467 428v6M471 428v6M478 428v6M538 476v11M539 487v11M547 476v11M549 476v11M554 487v11M556 487v11M560 476v11M561 476v11M565 476v11M567 476v11M575 476v11M577 476v11M578 487v11M579 487v11M583 487v11M585 476v11M587 476v11M590 476v22M597 476v11M598 476v11M600 487v11M603 476v11M605 476v11M607 476v11M609 476v11M615 487v11M617 476v11M623 476v11M627 476v11"/>
<path stroke="#ffd800" d="M281 476v11M284 476v11M299 476v11M300 476v11M303 476v11M305 476v11M318 465v11M320 476v11M327 465v11M329 465v11M331 476v11M335 476v11M340 465v11M343 476v11M347 476v11M349 476v11M351 465v11M353 476v11M354 465v11M356 476v11M357 476v11M358 476v11M363 465v11M367 465v11M371 476v11M376 476v11M385 476v11M387 476v11M389 476v11M398 476v11M402 476v11M403 476v11M404 455v10M405 455v10M408 455v10M408 476v11M413 465v11M414 434v11M418 434v11M419 476v11M420 465v22M421 455v21M426 476v11M427 455v10M427 476v11M430 455v21M432 455v10M433 434v11M433 465v11M434 445v20M435 465v11M438 445v20M439 434v11M441 465v11M443 455v10M443 476v11M445 465v11M446 445v20M447 445v10M449 476v11M451 445v10M452 434v21M453 434v11M456 455v10M457 455v21M458 455v10M459 445v10M461 455v10M462 455v10M464 434v11M465 428v6M472 428v6M473 428v6M540 487v11M541 487v11M542 487v11M543 487v11M544 487v11M547 487v11M548 487v11M553 487v11M555 487v11M557 487v11M558 487v11M568 487v11M570 487v11M573 487v11M574 487v11M580 487v11M581 487v11M589 487v11M591 476v11M593 487v11M594 487v11M596 487v11M605 487v11M606 487v11M608 487v11M610 476v11M616 487v11M617 487v11M618 487v11M619 487v11M625 487v11M627 487v11M629 487v11"/>
<path stroke="#ffca00" d="M278 476v11M283 476v11M285 476v11M287 476v11M292 476v11M294 476v11M297 476v11M298 476v11M301 476v11M302 476v11M311 476v11M313 476v11M314 476v11M316 476v11M317 476v11M325 476v11M326 476v11M334 476v11M342 476v11M345 476v11M348 476v11M359 476v11M360 476v11M366 476v11M368 476v11M369 476v11M370 476v11M373 476v11M378 476v11M381 476v11M383 476v11M384 476v11M386 476v11M388 476v11M392 476v11M393 476v11M394 476v11M404 476v11M405 465v11M406 434v21M409 455v10M412 455v10M414 445v10M415 434v31M416 434v11M418 455v10M421 434v11M423 476v11M424 445v10M424 476v11M428 455v10M428 476v11M430 445v10M431 455v10M432 445v10M432 465v11M433 445v20M433 476v11M436 455v21M438 465v11M440 445v10M442 476v11M443 465v11M446 476v11M447 455v10M447 476v11M449 465v11M453 445v10M454 476v22M456 445v10M458 476v11M460 465v11M466 428v6M468 428v6M469 428v6M470 428v6M475 428v6M476 428v6M479 428v6M481 428v6M482 428v6M537 487v11M545 487v11M550 487v11M551 487v11M552 487v11M559 487v11M560 487v11M562 487v11M564 487v11M566 487v11M569 487v11M571 487v11M572 487v11M575 487v11M576 487v11M582 487v11M584 476v11M586 487v11M588 487v11M592 487v11M595 487v11M597 487v11M599 487v11M601 487v11M602 487v11M604 487v11M607 487v11M609 487v11M612 476v11M614 487v11M620 487v11M621 487v11M623 487v11M626 487v11M628 487v11"/>
<path stroke="#ffbb00" d="M282 476v11M284 487v11M286 487v11M288 476v11M289 476v11M290 476v11M291 476v11M295 476v11M296 476v11M304 476v11M306 476v11M307 476v11M308 476v11M309 476v11M310 476v11M312 476v11M315 476v11M318 476v11M322 476v11M323 476v11M324 476v11M327 476v11M332 476v11M333 476v11M337 487v11M338 476v11M339 476v11M341 476v11M344 476v11M346 487v11M350 476v11M351 476v11M362 476v11M364 476v11M365 476v11M372 476v11M374 476v11M375 476v11M377 476v11M379 476v11M386 487v11M390 476v11M391 476v11M395 476v11M396 476v11M397 476v11M400 476v11M407 455v21M410 445v10M411 434v11M411 465v11M412 445v10M413 434v21M414 465v11M416 465v11M418 465v22M419 455v10M422 476v11M423 455v10M424 465v11M425 476v11M426 445v10M428 445v10M428 465v11M429 465v22M432 476v11M434 434v11M437 455v10M438 476v11M439 476v11M444 455v10M445 455v10M446 487v11M447 465v11M448 476v11M450 455v10M453 455v21M455 487v11M457 434v11M461 476v11M462 476v11M463 445v10M463 476v11M464 445v10M467 445v10M469 434v11M474 428v6M480 428v6M509 428v6M538 487v11M540 498v6M546 487v11M549 487v11M556 498v6M557 498v6M558 498v6M561 487v11M563 487v11M565 487v11M567 487v11M568 498v6M573 498v6M584 487v11M587 487v11M591 487v11M598 487v11M599 498v6M603 487v11M604 498v6M606 498v6M610 487v11M611 487v11M613 487v11M617 498v6M622 487v11"/>
<path stroke="#ffa500" d="M279 476v11M280 487v11M281 487v11M289 487v11M293 476v11M305 487v11M317 487v11M319 476v11M328 476v11M329 476v11M331 487v11M335 487v11M340 476v11M353 487v11M354 476v11M355 476v11M356 487v11M363 476v11M367 476v11M380 476v11M382 476v11M389 487v11M399 476v11M401 476v11M405 476v11M407 445v10M410 434v11M410 455v10M411 455v10M412 434v11M412 465v11M413 455v10M416 455v10M417 434v31M419 487v11M420 487v11M423 498v6M430 476v11M431 465v11M435 487v11M436 476v11M437 465v11M438 487v11M439 455v21M441 476v11M442 487v11M443 487v11M444 465v11M448 465v11M450 445v10M451 455v10M452 455v10M456 465v11M457 476v11M459 455v21M461 465v11M462 465v11M465 434v21M466 434v21M467 434v11M471 445v10M473 434v21M477 428v6M480 445v10M484 428v6M496 428v6M511 428v6M537 498v6M538 498v6M541 498v6M542 498v6M544 498v6M545 498v6M554 498v6M562 498v6M569 498v6M571 498v6M572 498v6M577 487v11M578 498v6M579 498v6M580 498v6M581 498v6M583 498v6M585 487v11M586 498v6M588 498v6M589 498v6M592 498v6M608 498v6M609 498v6M612 487v11M615 498v6M616 498v6M620 498v6M624 498v6M628 498v6M629 498v6"/>
<path stroke="#ff8f00" d="M279 487v11M285 487v11M286 498v6M287 487v11M290 487v11M301 487v11M303 487v11M310 487v11M314 487v11M316 487v11M321 487v11M327 487v11M330 487v11M331 498v6M334 487v11M336 487v11M343 487v11M347 487v17M348 487v11M352 487v11M364 487v11M370 487v11M376 487v11M377 487v11M380 487v11M381 487v11M384 487v11M385 487v11M387 487v11M388 487v11M390 487v11M398 487v11M402 487v11M403 498v6M406 465v22M408 487v11M409 487v11M411 445v10M411 476v11M416 445v10M417 465v11M420 498v6M421 476v22M422 487v11M424 487v11M425 487v11M431 476v11M433 487v11M436 487v11M439 445v10M440 487v11M441 487v11M442 498v6M443 498v6M444 445v10M444 476v11M445 476v11M449 487v11M450 434v11M450 465v11M451 465v11M452 465v22M453 476v11M460 476v11M463 455v21M468 434v11M468 465v11M471 434v11M475 434v11M477 434v11M478 434v21M479 434v21M480 434v11M483 428v6M495 428v6M497 428v6M508 428v6M539 498v6M547 498v6M548 498v6M550 498v6M551 498v6M552 498v6M555 498v6M559 498v6M564 498v6M566 498v6M567 498v6M570 498v6M574 498v6M576 498v6M582 498v6M587 498v6M590 498v6M591 498v6M594 498v6M595 498v6M596 498v6M597 498v6M598 498v6M600 498v6M601 498v6M602 498v6M605 498v6M607 498v6M618 498v6M619 498v6M621 498v6M622 498v6M623 498v6M625 498v6M626 498v6M627 498v6"/>
<path stroke="#ff7900" d="M278 487v11M281 498v6M282 487v11M283 487v11M285 498v6M287 498v6M288 487v11M291 487v11M292 487v11M294 487v11M295 487v11M296 487v11M298 487v11M299 487v11M300 487v11M302 487v11M309 487v11M314 498v6M315 487v11M320 487v11M323 487v11M324 487v11M325 487v11M337 498v6M338 487v11M339 487v11M340 487v11M342 487v11M345 487v11M353 498v6M357 487v11M358 487v11M360 487v11M361 487v11M363 487v11M366 487v11M368 487v11M369 487v11M371 487v11M372 487v11M373 487v11M375 487v11M376 498v6M382 487v11M383 487v11M386 498v6M389 498v6M392 487v11M393 487v11M394 487v11M395 487v11M396 487v11M397 487v11M400 487v11M401 487v11M403 487v11M404 487v11M407 476v11M408 498v6M410 476v11M411 487v11M415 476v11M422 498v6M423 487v11M425 498v6M427 487v11M428 487v11M434 465v11M435 476v11M437 476v11M440 476v11M441 498v6M445 487v11M446 498v6M447 487v17M449 498v6M456 476v11M457 487v11M458 487v11M459 476v11M462 498v6M464 455v32M468 445v20M469 445v10M470 434v31M472 434v21M473 455v10M474 434v21M475 445v10M476 434v21M481 445v10M482 434v21M484 434v11M485 428v6M486 428v6M490 428v6M491 428v6M492 428v6M494 428v6M497 434v11M498 428v6M500 428v6M504 428v6M505 428v6M514 428v6M517 428v6M518 428v6M519 428v17M521 428v6M528 428v6M531 428v6M533 428v6M534 428v6M543 498v6M546 498v6M549 498v6M553 498v6M560 498v6M561 498v6M563 498v6M565 498v6M575 498v6M577 498v6M584 498v6M585 498v6M593 498v6M603 498v6M611 498v6M612 498v6M613 498v6M614 498v6"/>
<path stroke="#ff6300" d="M280 498v6M295 498v6M297 487v11M304 487v11M306 487v11M307 487v11M308 487v11M311 487v17M313 487v11M317 498v6M318 487v11M319 487v11M322 487v11M326 487v11M328 487v11M329 487v11M330 498v6M332 487v11M333 487v11M336 498v6M344 487v11M346 498v6M349 487v11M350 487v11M351 487v11M352 498v6M355 487v11M359 487v11M362 487v11M365 487v11M367 487v11M370 498v6M373 498v6M378 487v11M379 487v11M385 498v6M387 498v6M388 498v6M391 487v11M399 487v11M405 487v11M410 465v11M412 476v11M414 476v22M415 487v11M416 476v11M419 498v6M421 498v6M426 487v11M427 498v6M429 487v11M430 487v11M431 487v11M432 498v6M434 476v22M436 498v6M438 498v6M444 487v11M448 487v11M450 498v6M451 476v11M454 498v6M456 487v11M457 498v6M458 498v6M459 487v11M460 487v11M461 487v17M462 487v11M464 487v11M465 455v10M465 476v11M466 455v10M469 465v22M471 455v10M471 476v11M472 455v10M473 476v11M475 455v10M476 455v10M483 434v21M484 445v10M487 428v6M489 428v6M493 428v6M494 434v11M496 434v11M499 428v6M501 428v6M506 428v6M507 428v6M509 434v11M510 428v6M513 428v6M516 428v6M523 428v6M525 428v6M529 428v6M530 428v6M536 428v6M610 498v6"/>
<path stroke="#ff4f00" d="M282 498v6M284 498v6M289 498v6M291 498v6M292 498v6M293 487v11M294 498v6M296 498v6M297 498v6M298 498v6M299 498v6M301 498v6M302 498v6M303 498v6M304 498v6M308 498v6M309 498v6M312 487v11M313 498v6M316 498v6M321 498v6M322 498v6M326 498v6M327 498v6M332 498v6M334 498v6M335 498v6M341 487v17M342 498v6M343 498v6M349 498v6M354 498v6M356 498v6M358 498v6M360 498v6M363 498v6M364 498v6M369 498v6M372 498v6M374 487v11M377 498v6M379 498v6M380 498v6M381 498v6M390 498v6M392 498v6M394 498v6M397 498v6M400 498v6M402 498v6M406 487v11M407 487v11M409 498v6M413 487v11M415 498v6M418 487v11M429 498v6M430 498v6M431 498v6M432 487v11M439 487v11M448 498v6M450 476v11M451 487v11M453 487v11M456 498v6M459 498v6M460 498v6M463 487v11M466 465v33M467 455v21M467 487v11M468 476v11M468 498v6M470 465v22M471 465v11M472 465v22M473 465v11M474 455v10M477 445v10M478 465v11M478 487v11M479 455v10M480 455v10M481 434v11M482 455v10M485 434v11M487 445v10M488 428v6M490 434v11M491 434v11M493 434v11M494 445v10M495 434v11M496 445v10M497 445v10M502 428v17M503 428v17M505 434v11M507 434v11M508 434v11M509 445v10M511 434v21M512 428v6M515 428v6M516 434v11M517 434v11M519 445v10M520 428v17M521 434v11M522 428v6M524 428v6M526 428v6M529 434v11M530 434v11M531 434v11M532 428v6M535 428v6"/>
<path stroke="#ff3f00" d="M279 498v6M283 498v6M288 498v6M293 498v6M300 498v6M305 498v6M306 498v6M310 498v6M315 498v6M318 498v6M319 498v6M320 498v6M323 498v6M324 498v6M325 498v6M329 498v6M333 498v6M338 498v6M340 498v6M344 498v6M345 498v6M348 498v6M354 487v11M357 498v6M359 498v6M361 498v6M362 498v6M365 498v6M366 498v6M367 498v6M368 498v6M371 498v6M374 498v6M378 498v6M382 498v6M383 498v6M384 498v6M391 498v6M395 498v6M396 498v6M398 498v6M405 498v6M411 498v6M413 476v11M417 476v22M426 498v6M433 498v6M435 498v6M437 487v17M440 498v6M445 498v6M455 498v6M463 498v6M465 465v11M467 476v11M468 487v11M469 455v10M469 498v6M471 487v11M472 487v11M473 487v11M475 465v11M476 465v11M477 455v21M478 455v10M478 476v11M479 465v22M481 455v10M482 465v22M484 455v32M485 445v10M486 434v21M487 434v11M488 434v21M489 434v11M490 445v10M493 445v10M495 445v10M498 434v11M500 434v21M501 434v11M503 445v10M504 434v21M506 434v11M507 445v10M508 445v10M510 445v10M512 434v11M513 434v11M516 445v10M517 445v10M518 434v21M520 445v10M524 434v11M525 434v11M526 434v11M527 428v17M528 445v10M529 445v10M530 445v10M532 445v10M534 434v11M535 434v11M536 434v11"/>
<path stroke="#ff2f00" d="M278 498v6M290 498v6M307 498v6M312 498v6M328 498v6M339 498v6M351 498v6M355 498v6M375 498v6M393 498v6M399 498v6M401 498v6M412 498v6M414 498v6M416 487v11M424 498v6M428 498v6M434 498v6M439 498v6M452 487v11M465 487v11M467 498v6M469 487v11M470 487v11M471 498v6M472 498v6M473 498v6M474 465v11M475 476v11M477 487v11M478 498v6M480 465v22M481 465v33M482 487v11M483 455v21M483 487v11M489 445v10M492 434v21M498 445v10M499 434v21M502 445v10M505 445v10M506 445v10M510 434v11M511 465v11M512 445v10M513 445v10M514 434v11M515 434v11M521 445v10M522 434v11M523 434v21M525 445v10M528 434v11M531 445v10M532 434v11M533 434v21M534 445v10M535 445v10M536 445v10"/>
<path stroke="#ff2000" d="M350 498v6M406 498v6M412 487v11M413 498v6M418 498v6M444 498v6M464 498v6M466 498v6M474 476v28M475 487v17M476 476v22M477 476v11M479 487v17M480 487v11M483 498v6M484 498v6M485 455v10M485 487v11M491 445v10M492 455v10M496 455v10M497 455v10M497 487v11M501 445v10M502 455v10M509 498v6M511 455v10M511 476v22M515 445v10M516 498v6M519 465v11M521 465v22M526 445v10M527 445v10M530 455v10M530 476v11M534 487v11"/>
<path stroke="#ff1000" d="M407 498v6M450 487v11M451 498v6M452 498v6M453 498v6M470 498v6M476 498v6M480 498v6M481 498v6M482 498v6M483 476v11M485 465v22M485 498v6M487 455v10M490 455v10M490 476v11M493 455v21M494 455v10M495 476v11M496 465v33M497 465v22M497 498v6M499 476v22M500 455v10M500 476v11M502 487v11M504 455v10M505 487v11M508 455v32M508 498v6M509 455v21M511 498v6M514 445v10M515 455v10M515 476v11M516 465v11M517 498v6M518 465v11M518 498v6M519 455v10M519 476v28M520 455v21M521 455v10M521 487v17M522 445v10M524 445v10M528 476v11M529 455v10M530 465v11M530 487v11M531 498v6M536 455v21"/>
<path stroke="#ff0000" d="M404 498v6M410 487v17M416 498v6M417 498v6M465 498v6M477 498v6M484 487v11M486 455v49M487 465v39M488 455v49M489 455v49M490 465v11M490 487v17M491 455v49M492 465v39M493 476v28M494 465v39M495 455v21M495 487v17M496 498v6M498 455v49M499 455v21M499 498v6M500 465v11M500 487v17M501 455v49M502 465v22M502 498v6M503 455v49M504 465v39M505 455v32M505 498v6M506 455v49M507 455v49M508 487v11M509 476v22M510 455v49M512 455v49M513 455v49M514 455v49M515 465v11M515 487v17M516 455v10M516 476v22M517 455v43M518 455v10M518 476v22M520 476v28M522 455v49M523 455v49M524 455v49M525 455v49M526 455v49M527 455v49M528 455v21M528 487v17M529 465v39M530 498v6M531 455v43M532 455v49M533 455v49M534 455v32M534 498v6M535 455v49M536 476v28"/>
</g>
<path d="M280.2 152.9 L300 159.1 L315 163.8 L330 168.3 L345 172.1 L360 175.5 L375 178.4 L390 181.1 L405 183.7 L420 186.0 L435 187.9 L450 189.6 L470 192.0 L485 193.1 L500 194.1 L520 195.3 L536 196.1 L608 196.1 L611 195.2 L624.5 195.0" fill="none" stroke="#ff00ff" stroke-width="1.8" stroke-linejoin="round"/>
<rect x="966" y="53" width="13" height="353" fill="url(#cb)"/>
<rect x="966" y="429" width="13" height="76" fill="url(#cb)"/>
<g fill="#000" shape-rendering="crispEdges">
<rect x="90" y="51" width="1" height="355"/>
<rect x="953" y="51" width="1" height="355"/>
<rect x="90" y="51" width="864" height="1"/>
<rect x="90" y="405" width="864" height="1"/>
<rect x="90" y="427" width="1" height="78"/>
<rect x="953" y="427" width="1" height="78"/>
<rect x="90" y="427" width="864" height="1"/>
<rect x="90" y="504" width="864" height="1"/>
<rect x="81" y="405" width="10" height="1"/>
<rect x="86" y="376" width="5" height="1"/>
<rect x="86" y="359" width="5" height="1"/>
<rect x="86" y="346" width="5" height="1"/>
<rect x="86" y="337" width="5" height="1"/>
<rect x="86" y="329" width="5" height="1"/>
<rect x="86" y="322" width="5" height="1"/>
<rect x="86" y="317" width="5" height="1"/>
<rect x="86" y="312" width="5" height="1"/>
<rect x="81" y="307" width="10" height="1"/>
<rect x="86" y="278" width="5" height="1"/>
<rect x="86" y="261" width="5" height="1"/>
<rect x="86" y="248" width="5" height="1"/>
<rect x="86" y="239" width="5" height="1"/>
<rect x="86" y="231" width="5" height="1"/>
<rect x="86" y="224" width="5" height="1"/>
<rect x="86" y="219" width="5" height="1"/>
<rect x="86" y="214" width="5" height="1"/>
<rect x="81" y="209" width="10" height="1"/>
<rect x="86" y="180" width="5" height="1"/>
<rect x="86" y="163" width="5" height="1"/>
<rect x="86" y="150" width="5" height="1"/>
<rect x="86" y="141" width="5" height="1"/>
<rect x="86" y="133" width="5" height="1"/>
<rect x="86" y="126" width="5" height="1"/>
<rect x="86" y="121" width="5" height="1"/>
<rect x="86" y="116" width="5" height="1"/>
<rect x="81" y="111" width="10" height="1"/>
<rect x="86" y="83" width="5" height="1"/>
<rect x="86" y="66" width="5" height="1"/>
<rect x="86" y="53" width="5" height="1"/>
<rect x="86" y="498" width="5" height="1"/>
<rect x="86" y="491" width="5" height="1"/>
<rect x="86" y="486" width="5" height="1"/>
<rect x="86" y="482" width="5" height="1"/>
<rect x="86" y="479" width="5" height="1"/>
<rect x="86" y="476" width="5" height="1"/>
<rect x="86" y="473" width="5" height="1"/>
<rect x="86" y="471" width="5" height="1"/>
<rect x="81" y="469" width="10" height="1"/>
<rect x="86" y="457" width="5" height="1"/>
<rect x="86" y="449" width="5" height="1"/>
<rect x="86" y="444" width="5" height="1"/>
<rect x="86" y="440" width="5" height="1"/>
<rect x="86" y="437" width="5" height="1"/>
<rect x="86" y="434" width="5" height="1"/>
<rect x="86" y="432" width="5" height="1"/>
<rect x="86" y="430" width="5" height="1"/>
<rect x="81" y="428" width="10" height="1"/>
<rect x="120" y="504" width="1" height="5"/>
<rect x="151" y="504" width="1" height="5"/>
<rect x="183" y="504" width="1" height="10"/>
<rect x="215" y="504" width="1" height="5"/>
<rect x="246" y="504" width="1" height="5"/>
<rect x="278" y="504" width="1" height="5"/>
<rect x="309" y="504" width="1" height="10"/>
<rect x="341" y="504" width="1" height="5"/>
<rect x="372" y="504" width="1" height="5"/>
<rect x="404" y="504" width="1" height="5"/>
<rect x="435" y="504" width="1" height="10"/>
<rect x="467" y="504" width="1" height="5"/>
<rect x="498" y="504" width="1" height="5"/>
<rect x="530" y="504" width="1" height="5"/>
<rect x="561" y="504" width="1" height="10"/>
<rect x="593" y="504" width="1" height="5"/>
<rect x="625" y="504" width="1" height="5"/>
<rect x="656" y="504" width="1" height="5"/>
<rect x="688" y="504" width="1" height="10"/>
<rect x="719" y="504" width="1" height="5"/>
<rect x="751" y="504" width="1" height="5"/>
<rect x="782" y="504" width="1" height="5"/>
<rect x="814" y="504" width="1" height="10"/>
<rect x="845" y="504" width="1" height="5"/>
<rect x="877" y="504" width="1" height="5"/>
<rect x="908" y="504" width="1" height="5"/>
<rect x="940" y="504" width="1" height="10"/>
<rect x="979" y="52" width="1" height="354"/>
<rect x="979" y="405" width="10" height="1"/>
<rect x="979" y="370" width="5" height="1"/>
<rect x="979" y="334" width="10" height="1"/>
<rect x="979" y="299" width="5" height="1"/>
<rect x="979" y="264" width="10" height="1"/>
<rect x="979" y="228" width="5" height="1"/>
<rect x="979" y="193" width="10" height="1"/>
<rect x="979" y="158" width="5" height="1"/>
<rect x="979" y="123" width="10" height="1"/>
<rect x="979" y="87" width="5" height="1"/>
<rect x="979" y="52" width="10" height="1"/>
<rect x="979" y="428" width="1" height="77"/>
<rect x="979" y="504" width="5" height="1"/>
<rect x="979" y="496" width="10" height="1"/>
<rect x="979" y="488" width="5" height="1"/>
<rect x="979" y="481" width="5" height="1"/>
<rect x="979" y="473" width="5" height="1"/>
<rect x="979" y="466" width="5" height="1"/>
<rect x="979" y="458" width="10" height="1"/>
<rect x="979" y="450" width="5" height="1"/>
<rect x="979" y="443" width="5" height="1"/>
<rect x="979" y="435" width="5" height="1"/>
<rect x="979" y="428" width="5" height="1"/>
</g>
<g font-family="&quot;Liberation Sans&quot;, sans-serif" font-size="13px" fill="#000">
<text x="279" y="31">DE 1/PWI-SFC</text>
<text x="375.6" y="31" textLength="387.6" lengthAdjust="spacing">Spin Plane E-Field Spectra, 200 meter antenna, 104 Hz to 409 kHz</text>
<text x="459.7" y="43.8" font-size="9px" letter-spacing="0.84" stroke="#000" stroke-width="0.32">(Magenta Line: Fce in Hz)</text>
<text x="281.8" y="418.5">DE 1/PWI-LFC</text>
<text x="376.2" y="418.5" textLength="383.6" lengthAdjust="spacing">Spin Plane E-Field Spectra, 200 meter antenna, 1.78 Hz to 100 Hz</text>
<text x="77.5" y="412.5" text-anchor="end">10<tspan dy="-5.5">2</tspan></text>
<text x="77.5" y="314.5" text-anchor="end">10<tspan dy="-5.5">3</tspan></text>
<text x="77.5" y="216.5" text-anchor="end">10<tspan dy="-5.5">4</tspan></text>
<text x="77.5" y="118.5" text-anchor="end">10<tspan dy="-5.5">5</tspan></text>
<text x="77.5" y="435.5" text-anchor="end">10<tspan dy="-5.5">2</tspan></text>
<text x="77.5" y="477.5" text-anchor="end">10<tspan dy="-5.5">1</tspan></text>
<text x="992.5" y="412.5" text-anchor="start">10<tspan dy="-5.5">-16</tspan></text>
<text x="992.5" y="341.9" text-anchor="start">10<tspan dy="-5.5">-14</tspan></text>
<text x="992.5" y="271.3" text-anchor="start">10<tspan dy="-5.5">-12</tspan></text>
<text x="992.5" y="200.7" text-anchor="start">10<tspan dy="-5.5">-10</tspan></text>
<text x="992.5" y="130.1" text-anchor="start">10<tspan dy="-5.5">-8</tspan></text>
<text x="992.5" y="59.5" text-anchor="start">10<tspan dy="-5.5">-6</tspan></text>
<text x="992.5" y="466.0" text-anchor="start">10<tspan dy="-5.5">-10</tspan></text>
<text x="992.5" y="504.0" text-anchor="start">10<tspan dy="-5.5">-15</tspan></text>
<text transform="translate(47,228) rotate(-90)" text-anchor="middle">Frequency (Hz)</text>
<text transform="translate(47,465.5) rotate(-90)" text-anchor="middle">Freq (Hz)</text>
<text transform="translate(1048,228.8) rotate(-90)" text-anchor="middle">Ex (V<tspan dy="-5.5">2</tspan><tspan dy="5.5"> m</tspan><tspan dy="-5.5">-2</tspan><tspan dy="5.5"> Hz</tspan><tspan dy="-5.5">-1</tspan><tspan dy="5.5">)</tspan></text>
<text transform="translate(1041,465.5) rotate(-90)" text-anchor="middle">LFC Ex</text>
<text x="182.9" y="529.5" text-anchor="middle">10:00</text>
<text x="308.9" y="529.5" text-anchor="middle">11:00</text>
<text x="434.9" y="529.5" text-anchor="middle">12:00</text>
<text x="560.9" y="529.5" text-anchor="middle">13:00</text>
<text x="687.9" y="529.5" text-anchor="middle">14:00</text>
<text x="813.9" y="529.5" text-anchor="middle">15:00</text>
<text x="939.9" y="529.5" text-anchor="middle">16:00</text>
<text x="324.7" y="545.5" text-anchor="end">3.807</text>
<text x="324.7" y="561.5" text-anchor="end">66.524</text>
<text x="324.7" y="577.5" text-anchor="end">12.444</text>
<text x="324.7" y="593.5" text-anchor="end">77.032</text>
<text x="450.7" y="545.5" text-anchor="end">4.518</text>
<text x="450.7" y="561.5" text-anchor="end">19.416</text>
<text x="450.7" y="577.5" text-anchor="end">10.430</text>
<text x="450.7" y="593.5" text-anchor="end">62.385</text>
<text x="576.7" y="545.5" text-anchor="end">4.623</text>
<text x="576.7" y="561.5" text-anchor="end">10.254</text>
<text x="576.7" y="577.5" text-anchor="end">9.878</text>
<text x="576.7" y="593.5" text-anchor="end">48.470</text>
<text x="59" y="545" text-anchor="end">R<tspan font-size="8px" dy="4">e</tspan></text>
<text x="59" y="561" text-anchor="end">L</text>
<text x="59" y="577" text-anchor="end">M<tspan font-size="8px" dy="4">LT</tspan></text>
<text x="59" y="593" text-anchor="end">M<tspan font-size="8px" dy="4">LAT</tspan></text>
<text x="433.2" y="611.5" textLength="176.2" lengthAdjust="spacing">1984-04-05 (096) 9:16 to 16:06</text>
</g>
</svg>
</body></html>
